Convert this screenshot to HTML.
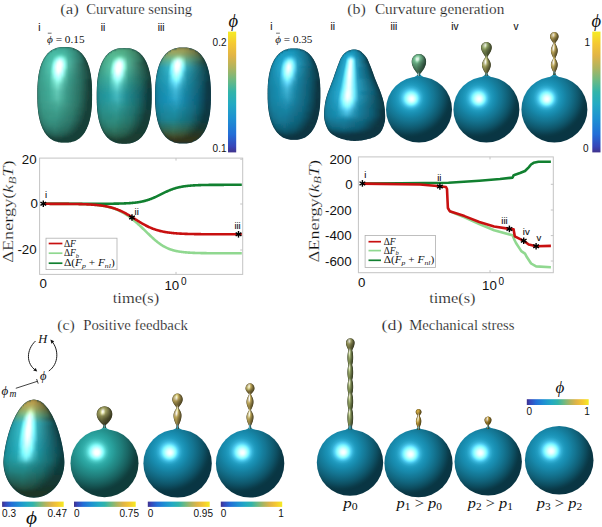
<!DOCTYPE html>
<html><head><meta charset="utf-8"><style>
html,body{margin:0;padding:0;background:#fff;}
body{width:602px;height:527px;overflow:hidden;}
svg{display:block;}
.ser{font-family:"Liberation Serif",serif;fill:#111;}
.thin{stroke:#fff;stroke-width:0.2px;}
.bold{stroke:#000;stroke-width:0.1px;fill:#000;}
.sans{font-family:"Liberation Sans",sans-serif;fill:#111;}
</style></head><body>
<svg width="602" height="527" viewBox="0 0 602 527">
<defs>
<filter id="vblur" x="-5%" y="-5%" width="110%" height="110%"><feGaussianBlur stdDeviation="0 0.9"/></filter>
<linearGradient id="parV" x1="0" y1="1" x2="0" y2="0"><stop offset="0.000" stop-color="#40328c"/><stop offset="0.050" stop-color="#3746b9"/><stop offset="0.150" stop-color="#236ed7"/><stop offset="0.280" stop-color="#1e91d2"/><stop offset="0.400" stop-color="#23aac3"/><stop offset="0.500" stop-color="#32b4aa"/><stop offset="0.600" stop-color="#6eb982"/><stop offset="0.700" stop-color="#afb45f"/><stop offset="0.800" stop-color="#e1b446"/><stop offset="0.900" stop-color="#f5c832"/><stop offset="1.000" stop-color="#f5eb23"/></linearGradient>
<linearGradient id="parH" x1="0" y1="0" x2="1" y2="0"><stop offset="0.000" stop-color="#40328c"/><stop offset="0.050" stop-color="#3746b9"/><stop offset="0.150" stop-color="#236ed7"/><stop offset="0.280" stop-color="#1e91d2"/><stop offset="0.400" stop-color="#23aac3"/><stop offset="0.500" stop-color="#32b4aa"/><stop offset="0.600" stop-color="#6eb982"/><stop offset="0.700" stop-color="#afb45f"/><stop offset="0.800" stop-color="#e1b446"/><stop offset="0.900" stop-color="#f5c832"/><stop offset="1.000" stop-color="#f5eb23"/></linearGradient>
<clipPath id="c1"><path d="M92.10,94.80 L92.08,98.39 L92.03,101.04 L91.95,103.42 L91.83,105.64 L91.68,107.73 L91.49,109.73 L91.27,111.64 L91.02,113.48 L90.74,115.26 L90.42,116.97 L90.07,118.62 L89.68,120.21 L89.27,121.75 L88.82,123.24 L88.34,124.67 L87.83,126.05 L87.28,127.37 L86.71,128.64 L86.10,129.86 L85.47,131.03 L84.80,132.14 L84.10,133.19 L83.37,134.20 L82.61,135.15 L81.82,136.04 L81.00,136.88 L80.15,137.66 L79.27,138.38 L78.35,139.05 L77.41,139.67 L76.43,140.22 L75.41,140.72 L74.35,141.16 L73.26,141.54 L72.11,141.86 L70.91,142.13 L69.64,142.33 L68.28,142.48 L66.76,142.57 L64.70,142.60 L62.64,142.57 L61.12,142.48 L59.76,142.33 L58.49,142.13 L57.29,141.86 L56.14,141.54 L55.05,141.16 L53.99,140.72 L52.97,140.22 L51.99,139.67 L51.05,139.05 L50.13,138.38 L49.25,137.66 L48.40,136.88 L47.58,136.04 L46.79,135.15 L46.03,134.20 L45.30,133.19 L44.60,132.14 L43.93,131.03 L43.30,129.86 L42.69,128.64 L42.12,127.37 L41.57,126.05 L41.06,124.67 L40.58,123.24 L40.13,121.75 L39.72,120.21 L39.33,118.62 L38.98,116.97 L38.66,115.26 L38.38,113.48 L38.13,111.64 L37.91,109.73 L37.72,107.73 L37.57,105.64 L37.45,103.42 L37.37,101.04 L37.32,98.39 L37.30,94.80 L37.32,91.21 L37.37,88.56 L37.45,86.18 L37.57,83.96 L37.72,81.87 L37.91,79.87 L38.13,77.96 L38.38,76.12 L38.66,74.34 L38.98,72.63 L39.33,70.98 L39.72,69.39 L40.13,67.85 L40.58,66.36 L41.06,64.93 L41.57,63.55 L42.12,62.23 L42.69,60.96 L43.30,59.74 L43.93,58.57 L44.60,57.46 L45.30,56.41 L46.03,55.40 L46.79,54.45 L47.58,53.56 L48.40,52.72 L49.25,51.94 L50.13,51.22 L51.05,50.55 L51.99,49.93 L52.97,49.38 L53.99,48.88 L55.05,48.44 L56.14,48.06 L57.29,47.74 L58.49,47.47 L59.76,47.27 L61.12,47.12 L62.64,47.03 L64.70,47.00 L66.76,47.03 L68.28,47.12 L69.64,47.27 L70.91,47.47 L72.11,47.74 L73.26,48.06 L74.35,48.44 L75.41,48.88 L76.43,49.38 L77.41,49.93 L78.35,50.55 L79.27,51.22 L80.15,51.94 L81.00,52.72 L81.82,53.56 L82.61,54.45 L83.37,55.40 L84.10,56.41 L84.80,57.46 L85.47,58.57 L86.10,59.74 L86.71,60.96 L87.28,62.23 L87.83,63.55 L88.34,64.93 L88.82,66.36 L89.27,67.85 L89.68,69.39 L90.07,70.98 L90.42,72.63 L90.74,74.34 L91.02,76.12 L91.27,77.96 L91.49,79.87 L91.68,81.87 L91.83,83.96 L91.95,86.18 L92.03,88.56 L92.08,91.21Z"/></clipPath>
<linearGradient id="q1"><stop offset=".00" stop-color="#389482"/><stop offset=".04" stop-color="#3c9c8a"/><stop offset=".15" stop-color="#3ca28e"/><stop offset=".50" stop-color="#3c9e8c"/><stop offset=".85" stop-color="#368e7c"/><stop offset=".96" stop-color="#328272"/><stop offset="1.00" stop-color="#2e786a"/></linearGradient>
<linearGradient id="q2"><stop offset=".00" stop-color="#3a9886"/><stop offset=".04" stop-color="#40a894"/><stop offset=".15" stop-color="#44b29e"/><stop offset=".50" stop-color="#42ac98"/><stop offset=".85" stop-color="#348c7c"/><stop offset=".96" stop-color="#2c7868"/><stop offset="1.00" stop-color="#266258"/></linearGradient>
<linearGradient id="q3"><stop offset=".00" stop-color="#3a9886"/><stop offset=".01" stop-color="#3ca28e"/><stop offset=".04" stop-color="#42ac98"/><stop offset=".15" stop-color="#46b8a2"/><stop offset=".50" stop-color="#44b29e"/><stop offset=".85" stop-color="#348878"/><stop offset=".96" stop-color="#2a6e60"/><stop offset=".99" stop-color="#266458"/><stop offset="1.00" stop-color="#20544a"/></linearGradient>
<linearGradient id="q4"><stop offset=".00" stop-color="#389684"/><stop offset=".01" stop-color="#3ca08e"/><stop offset=".02" stop-color="#40aa96"/><stop offset=".10" stop-color="#46b8a2"/><stop offset=".42" stop-color="#4cc0aa"/><stop offset=".69" stop-color="#3ca08c"/><stop offset=".85" stop-color="#328474"/><stop offset=".96" stop-color="#26665a"/><stop offset=".99" stop-color="#225a50"/><stop offset="1.00" stop-color="#1c4a40"/></linearGradient>
<linearGradient id="q5"><stop offset=".00" stop-color="#389482"/><stop offset=".01" stop-color="#3ea490"/><stop offset=".07" stop-color="#44b4a0"/><stop offset=".24" stop-color="#4cc4ac"/><stop offset=".35" stop-color="#64dac2"/><stop offset=".42" stop-color="#66dac4"/><stop offset=".58" stop-color="#44b09c"/><stop offset=".88" stop-color="#2e7a6c"/><stop offset=".98" stop-color="#22584e"/><stop offset=".99" stop-color="#1c4c44"/><stop offset="1.00" stop-color="#184038"/></linearGradient>
<linearGradient id="q6"><stop offset=".00" stop-color="#369280"/><stop offset=".01" stop-color="#3ea290"/><stop offset=".05" stop-color="#42b09c"/><stop offset=".21" stop-color="#4cc2ac"/><stop offset=".35" stop-color="#90ffee"/><stop offset=".38" stop-color="#9cfffa"/><stop offset=".46" stop-color="#84f6e0"/><stop offset=".58" stop-color="#48b29e"/><stop offset=".88" stop-color="#2c7668"/><stop offset=".96" stop-color="#225a50"/><stop offset="1.00" stop-color="#184038"/></linearGradient>
<linearGradient id="q7"><stop offset=".00" stop-color="#368e7e"/><stop offset=".04" stop-color="#40aa96"/><stop offset=".21" stop-color="#4ec4ae"/><stop offset=".31" stop-color="#a0ffff"/><stop offset=".38" stop-color="#d6ffff"/><stop offset=".42" stop-color="#ccffff"/><stop offset=".46" stop-color="#acffff"/><stop offset=".50" stop-color="#84f2de"/><stop offset=".58" stop-color="#4cb6a2"/><stop offset=".88" stop-color="#2c7264"/><stop offset="1.00" stop-color="#184038"/></linearGradient>
<linearGradient id="q8"><stop offset=".00" stop-color="#348c7c"/><stop offset=".04" stop-color="#40a894"/><stop offset=".21" stop-color="#52c6b0"/><stop offset=".27" stop-color="#8cffec"/><stop offset=".35" stop-color="#eeffff"/><stop offset=".38" stop-color="#ffffff"/><stop offset=".42" stop-color="#f4ffff"/><stop offset=".50" stop-color="#96ffee"/><stop offset=".58" stop-color="#4eb6a4"/><stop offset=".88" stop-color="#2a6e62"/><stop offset="1.00" stop-color="#184038"/></linearGradient>
<linearGradient id="q9"><stop offset=".00" stop-color="#348a7a"/><stop offset=".04" stop-color="#3ea692"/><stop offset=".21" stop-color="#54c8b2"/><stop offset=".27" stop-color="#9afff8"/><stop offset=".35" stop-color="#ffffff"/><stop offset=".42" stop-color="#ffffff"/><stop offset=".46" stop-color="#dcffff"/><stop offset=".50" stop-color="#9efff6"/><stop offset=".58" stop-color="#4eb6a2"/><stop offset="1.00" stop-color="#184038"/></linearGradient>
<linearGradient id="q10"><stop offset=".00" stop-color="#348878"/><stop offset=".04" stop-color="#3ea492"/><stop offset=".21" stop-color="#54c6b0"/><stop offset=".27" stop-color="#9efffa"/><stop offset=".31" stop-color="#dcffff"/><stop offset=".35" stop-color="#ffffff"/><stop offset=".42" stop-color="#ffffff"/><stop offset=".46" stop-color="#dcffff"/><stop offset=".50" stop-color="#9efff4"/><stop offset=".58" stop-color="#4eb4a0"/><stop offset="1.00" stop-color="#184038"/></linearGradient>
<linearGradient id="q11"><stop offset=".00" stop-color="#328676"/><stop offset=".04" stop-color="#3ea290"/><stop offset=".21" stop-color="#52c4ae"/><stop offset=".27" stop-color="#9cfff8"/><stop offset=".31" stop-color="#d8ffff"/><stop offset=".35" stop-color="#ffffff"/><stop offset=".42" stop-color="#ffffff"/><stop offset=".50" stop-color="#96ffec"/><stop offset=".58" stop-color="#4ab09c"/><stop offset="1.00" stop-color="#184038"/></linearGradient>
<linearGradient id="q12"><stop offset=".00" stop-color="#328274"/><stop offset=".04" stop-color="#3ca08e"/><stop offset=".21" stop-color="#50c2ac"/><stop offset=".27" stop-color="#94fff0"/><stop offset=".35" stop-color="#feffff"/><stop offset=".38" stop-color="#ffffff"/><stop offset=".42" stop-color="#f8ffff"/><stop offset=".46" stop-color="#c4ffff"/><stop offset=".50" stop-color="#8af4e0"/><stop offset=".54" stop-color="#60c6b2"/><stop offset=".58" stop-color="#48aa98"/><stop offset="1.00" stop-color="#184038"/></linearGradient>
<linearGradient id="q13"><stop offset=".00" stop-color="#308272"/><stop offset=".04" stop-color="#3ca08c"/><stop offset=".21" stop-color="#50c0aa"/><stop offset=".27" stop-color="#8efee8"/><stop offset=".31" stop-color="#c0ffff"/><stop offset=".35" stop-color="#eeffff"/><stop offset=".38" stop-color="#fcffff"/><stop offset=".42" stop-color="#e6ffff"/><stop offset=".46" stop-color="#b6ffff"/><stop offset=".54" stop-color="#5ac0ac"/><stop offset=".58" stop-color="#46a894"/><stop offset="1.00" stop-color="#184038"/></linearGradient>
<linearGradient id="q14"><stop offset=".00" stop-color="#308070"/><stop offset=".04" stop-color="#3c9e8c"/><stop offset=".21" stop-color="#4cbca8"/><stop offset=".24" stop-color="#60d0ba"/><stop offset=".27" stop-color="#84f4de"/><stop offset=".31" stop-color="#b2ffff"/><stop offset=".35" stop-color="#d8ffff"/><stop offset=".38" stop-color="#e4ffff"/><stop offset=".46" stop-color="#a4fffa"/><stop offset=".54" stop-color="#54baa6"/><stop offset=".58" stop-color="#42a492"/><stop offset="1.00" stop-color="#184038"/></linearGradient>
<linearGradient id="q15"><stop offset=".00" stop-color="#307e6e"/><stop offset=".04" stop-color="#3a9c8a"/><stop offset=".21" stop-color="#4ab8a4"/><stop offset=".31" stop-color="#a0fffa"/><stop offset=".35" stop-color="#c0ffff"/><stop offset=".38" stop-color="#caffff"/><stop offset=".42" stop-color="#b6ffff"/><stop offset=".46" stop-color="#92fae6"/><stop offset=".54" stop-color="#4eb2a0"/><stop offset=".58" stop-color="#40a08e"/><stop offset="1.00" stop-color="#184038"/></linearGradient>
<linearGradient id="q16"><stop offset=".00" stop-color="#2e7c6e"/><stop offset=".05" stop-color="#3ca08c"/><stop offset=".21" stop-color="#48b6a2"/><stop offset=".31" stop-color="#90fee8"/><stop offset=".35" stop-color="#aaffff"/><stop offset=".38" stop-color="#b2ffff"/><stop offset=".42" stop-color="#a2fff6"/><stop offset=".50" stop-color="#60c6b2"/><stop offset=".58" stop-color="#3e9e8c"/><stop offset="1.00" stop-color="#184038"/></linearGradient>
<linearGradient id="q17"><stop offset=".00" stop-color="#2e7a6c"/><stop offset=".01" stop-color="#368e7e"/><stop offset=".05" stop-color="#3c9e8c"/><stop offset=".21" stop-color="#46b49e"/><stop offset=".35" stop-color="#98fff0"/><stop offset=".38" stop-color="#9efff4"/><stop offset=".42" stop-color="#90f8e4"/><stop offset=".50" stop-color="#5abeaa"/><stop offset=".58" stop-color="#3c9a88"/><stop offset=".79" stop-color="#2a7264"/><stop offset=".95" stop-color="#18423a"/><stop offset="1.00" stop-color="#184038"/></linearGradient>
<linearGradient id="q18"><stop offset=".00" stop-color="#2e7a6a"/><stop offset=".01" stop-color="#368c7c"/><stop offset=".05" stop-color="#3a9c8a"/><stop offset=".21" stop-color="#46b29c"/><stop offset=".35" stop-color="#8af4e0"/><stop offset=".38" stop-color="#8ef6e2"/><stop offset=".42" stop-color="#80e8d4"/><stop offset=".50" stop-color="#52b6a4"/><stop offset=".58" stop-color="#3c9888"/><stop offset=".79" stop-color="#2a7062"/><stop offset=".95" stop-color="#184038"/><stop offset="1.00" stop-color="#184038"/></linearGradient>
<linearGradient id="q19"><stop offset=".00" stop-color="#2e786a"/><stop offset=".01" stop-color="#348c7a"/><stop offset=".05" stop-color="#3a9c88"/><stop offset=".21" stop-color="#44b09a"/><stop offset=".35" stop-color="#7ee8d4"/><stop offset=".38" stop-color="#80e8d6"/><stop offset=".50" stop-color="#4eb09e"/><stop offset=".58" stop-color="#3a9686"/><stop offset=".79" stop-color="#2a6e62"/><stop offset=".95" stop-color="#184038"/><stop offset="1.00" stop-color="#184038"/></linearGradient>
<linearGradient id="q20"><stop offset=".00" stop-color="#2c7668"/><stop offset=".01" stop-color="#348a7a"/><stop offset=".05" stop-color="#3a9a88"/><stop offset=".21" stop-color="#44ae9a"/><stop offset=".35" stop-color="#74deca"/><stop offset=".38" stop-color="#76deca"/><stop offset=".50" stop-color="#4aac9a"/><stop offset=".58" stop-color="#3a9684"/><stop offset=".79" stop-color="#2a6e60"/><stop offset=".95" stop-color="#184038"/><stop offset="1.00" stop-color="#184038"/></linearGradient>
<linearGradient id="q21"><stop offset=".00" stop-color="#2c7668"/><stop offset=".01" stop-color="#348a7a"/><stop offset=".05" stop-color="#3a9a88"/><stop offset=".21" stop-color="#42ac98"/><stop offset=".35" stop-color="#6ed6c2"/><stop offset=".38" stop-color="#70d6c2"/><stop offset=".54" stop-color="#3e9c8a"/><stop offset=".79" stop-color="#2a6c60"/><stop offset=".95" stop-color="#184038"/><stop offset="1.00" stop-color="#184038"/></linearGradient>
<linearGradient id="q22"><stop offset=".00" stop-color="#2c7466"/><stop offset=".01" stop-color="#348878"/><stop offset=".05" stop-color="#3a9886"/><stop offset=".21" stop-color="#42aa96"/><stop offset=".35" stop-color="#64ccb8"/><stop offset=".38" stop-color="#66ccba"/><stop offset=".54" stop-color="#3c9a88"/><stop offset=".76" stop-color="#2c7466"/><stop offset=".95" stop-color="#184038"/><stop offset="1.00" stop-color="#184038"/></linearGradient>
<linearGradient id="q23"><stop offset=".00" stop-color="#2c7466"/><stop offset=".01" stop-color="#348878"/><stop offset=".07" stop-color="#3a9c8a"/><stop offset=".21" stop-color="#40aa96"/><stop offset=".35" stop-color="#5ec6b2"/><stop offset=".38" stop-color="#5ec4b2"/><stop offset=".54" stop-color="#3c9888"/><stop offset=".76" stop-color="#2c7264"/><stop offset=".93" stop-color="#1a443c"/><stop offset="1.00" stop-color="#184038"/></linearGradient>
<linearGradient id="q24"><stop offset=".00" stop-color="#2c7466"/><stop offset=".01" stop-color="#328676"/><stop offset=".07" stop-color="#3a9a88"/><stop offset=".21" stop-color="#40a894"/><stop offset=".35" stop-color="#5ac0ae"/><stop offset=".38" stop-color="#5ac0ac"/><stop offset=".54" stop-color="#3a9886"/><stop offset=".76" stop-color="#2a7264"/><stop offset=".93" stop-color="#1a423a"/><stop offset="1.00" stop-color="#184038"/></linearGradient>
<linearGradient id="q25"><stop offset=".00" stop-color="#2c7266"/><stop offset=".01" stop-color="#328676"/><stop offset=".07" stop-color="#3a9a88"/><stop offset=".21" stop-color="#40a894"/><stop offset=".35" stop-color="#5ac0ac"/><stop offset=".38" stop-color="#5ac0ac"/><stop offset=".54" stop-color="#3a9886"/><stop offset=".76" stop-color="#2a7264"/><stop offset=".93" stop-color="#1a423a"/><stop offset="1.00" stop-color="#184038"/></linearGradient>
<linearGradient id="q26"><stop offset=".00" stop-color="#2c7264"/><stop offset=".01" stop-color="#328676"/><stop offset=".07" stop-color="#3a9a88"/><stop offset=".21" stop-color="#40a694"/><stop offset=".35" stop-color="#54baa8"/><stop offset=".38" stop-color="#54baa6"/><stop offset=".54" stop-color="#3a9684"/><stop offset=".76" stop-color="#2a7064"/><stop offset=".93" stop-color="#18423a"/><stop offset="1.00" stop-color="#184038"/></linearGradient>
<linearGradient id="q27"><stop offset=".00" stop-color="#2a7064"/><stop offset=".01" stop-color="#307e70"/><stop offset=".02" stop-color="#348a7a"/><stop offset=".07" stop-color="#3a9886"/><stop offset=".38" stop-color="#50b4a0"/><stop offset=".54" stop-color="#389484"/><stop offset=".76" stop-color="#2a7062"/><stop offset=".93" stop-color="#184038"/><stop offset="1.00" stop-color="#184038"/></linearGradient>
<linearGradient id="q28"><stop offset=".00" stop-color="#2a7062"/><stop offset=".01" stop-color="#307c6e"/><stop offset=".02" stop-color="#348878"/><stop offset=".10" stop-color="#3a9a88"/><stop offset=".38" stop-color="#4aae9a"/><stop offset=".73" stop-color="#2c7466"/><stop offset=".93" stop-color="#184038"/><stop offset="1.00" stop-color="#184038"/></linearGradient>
<linearGradient id="q29"><stop offset=".00" stop-color="#2a6e62"/><stop offset=".01" stop-color="#2e7c6e"/><stop offset=".02" stop-color="#348878"/><stop offset=".10" stop-color="#3a9a88"/><stop offset=".38" stop-color="#46a896"/><stop offset=".73" stop-color="#2c7466"/><stop offset=".93" stop-color="#184038"/><stop offset="1.00" stop-color="#184038"/></linearGradient>
<linearGradient id="q30"><stop offset=".00" stop-color="#2a6c60"/><stop offset=".01" stop-color="#2e7a6c"/><stop offset=".02" stop-color="#328676"/><stop offset=".10" stop-color="#3a9886"/><stop offset=".35" stop-color="#44a694"/><stop offset=".69" stop-color="#2e786a"/><stop offset=".93" stop-color="#184038"/><stop offset="1.00" stop-color="#184038"/></linearGradient>
<linearGradient id="q31"><stop offset=".00" stop-color="#286c5e"/><stop offset=".01" stop-color="#2e786a"/><stop offset=".02" stop-color="#328474"/><stop offset=".10" stop-color="#389684"/><stop offset=".35" stop-color="#40a290"/><stop offset=".65" stop-color="#307e6e"/><stop offset=".93" stop-color="#184038"/><stop offset="1.00" stop-color="#184038"/></linearGradient>
<linearGradient id="q32"><stop offset=".00" stop-color="#286a5c"/><stop offset=".01" stop-color="#2c7668"/><stop offset=".02" stop-color="#328274"/><stop offset=".10" stop-color="#389482"/><stop offset=".35" stop-color="#3e9e8c"/><stop offset=".65" stop-color="#2e7c6c"/><stop offset=".79" stop-color="#246054"/><stop offset=".90" stop-color="#18423a"/><stop offset="1.00" stop-color="#184038"/></linearGradient>
<linearGradient id="q33"><stop offset=".00" stop-color="#26685a"/><stop offset=".01" stop-color="#2c7466"/><stop offset=".02" stop-color="#308072"/><stop offset=".10" stop-color="#389280"/><stop offset=".35" stop-color="#3c9a88"/><stop offset=".65" stop-color="#2e7a6a"/><stop offset=".79" stop-color="#245e54"/><stop offset=".90" stop-color="#184038"/><stop offset="1.00" stop-color="#184038"/></linearGradient>
<linearGradient id="q34"><stop offset=".00" stop-color="#26665a"/><stop offset=".01" stop-color="#2c7264"/><stop offset=".02" stop-color="#307e70"/><stop offset=".10" stop-color="#36907e"/><stop offset=".21" stop-color="#3a9886"/><stop offset=".35" stop-color="#3a9886"/><stop offset=".65" stop-color="#2c786a"/><stop offset=".90" stop-color="#184038"/><stop offset="1.00" stop-color="#184038"/></linearGradient>
<linearGradient id="q35"><stop offset=".00" stop-color="#266458"/><stop offset=".01" stop-color="#2a7064"/><stop offset=".02" stop-color="#2e7c6e"/><stop offset=".10" stop-color="#368e7c"/><stop offset=".21" stop-color="#389684"/><stop offset=".35" stop-color="#389484"/><stop offset=".65" stop-color="#2c7468"/><stop offset=".90" stop-color="#184038"/><stop offset="1.00" stop-color="#184038"/></linearGradient>
<linearGradient id="q36"><stop offset=".00" stop-color="#246054"/><stop offset=".01" stop-color="#2a6e60"/><stop offset=".02" stop-color="#2e786a"/><stop offset=".07" stop-color="#328676"/><stop offset=".18" stop-color="#369280"/><stop offset=".31" stop-color="#389282"/><stop offset=".62" stop-color="#2e786a"/><stop offset=".76" stop-color="#245e54"/><stop offset=".88" stop-color="#18403a"/><stop offset="1.00" stop-color="#184038"/></linearGradient>
<linearGradient id="q37"><stop offset=".00" stop-color="#225c52"/><stop offset=".01" stop-color="#2a7062"/><stop offset=".07" stop-color="#328274"/><stop offset=".18" stop-color="#368e7c"/><stop offset=".31" stop-color="#368e7e"/><stop offset=".62" stop-color="#2c7466"/><stop offset=".88" stop-color="#184038"/><stop offset="1.00" stop-color="#184038"/></linearGradient>
<linearGradient id="q38"><stop offset=".00" stop-color="#225a4e"/><stop offset=".01" stop-color="#26665a"/><stop offset=".02" stop-color="#2a7264"/><stop offset=".07" stop-color="#308070"/><stop offset=".18" stop-color="#348a7a"/><stop offset=".31" stop-color="#348a7a"/><stop offset=".62" stop-color="#2a7064"/><stop offset=".85" stop-color="#1a423a"/><stop offset="1.00" stop-color="#184038"/></linearGradient>
<linearGradient id="q39"><stop offset=".00" stop-color="#20564c"/><stop offset=".01" stop-color="#28685c"/><stop offset=".07" stop-color="#2e7a6c"/><stop offset=".18" stop-color="#328474"/><stop offset=".31" stop-color="#328676"/><stop offset=".58" stop-color="#2a7064"/><stop offset=".85" stop-color="#184038"/><stop offset="1.00" stop-color="#184038"/></linearGradient>
<linearGradient id="q40"><stop offset=".00" stop-color="#1e5048"/><stop offset=".01" stop-color="#245e52"/><stop offset=".02" stop-color="#28685c"/><stop offset=".07" stop-color="#2c7468"/><stop offset=".27" stop-color="#308072"/><stop offset=".58" stop-color="#286c5e"/><stop offset=".82" stop-color="#18423a"/><stop offset="1.00" stop-color="#184038"/></linearGradient>
<linearGradient id="q41"><stop offset=".00" stop-color="#1c4c42"/><stop offset=".01" stop-color="#225c52"/><stop offset=".07" stop-color="#2a6e62"/><stop offset=".27" stop-color="#2e7a6c"/><stop offset=".54" stop-color="#286a5e"/><stop offset=".82" stop-color="#184038"/><stop offset="1.00" stop-color="#184038"/></linearGradient>
<linearGradient id="q42"><stop offset=".00" stop-color="#1a443c"/><stop offset=".01" stop-color="#20564c"/><stop offset=".07" stop-color="#26665a"/><stop offset=".27" stop-color="#2a7264"/><stop offset=".54" stop-color="#266256"/><stop offset=".79" stop-color="#184038"/><stop offset="1.00" stop-color="#184038"/></linearGradient>
<linearGradient id="q43"><stop offset=".00" stop-color="#184038"/><stop offset=".02" stop-color="#1e5248"/><stop offset=".07" stop-color="#245e52"/><stop offset=".24" stop-color="#26685c"/><stop offset=".46" stop-color="#246054"/><stop offset=".76" stop-color="#184038"/><stop offset="1.00" stop-color="#184038"/></linearGradient>
<linearGradient id="q44"><stop offset=".00" stop-color="#184038"/><stop offset=".10" stop-color="#20544a"/><stop offset=".24" stop-color="#225a50"/><stop offset=".42" stop-color="#20564c"/><stop offset=".69" stop-color="#184038"/><stop offset="1.00" stop-color="#184038"/></linearGradient>
<linearGradient id="q45"><stop offset=".00" stop-color="#184038"/><stop offset=".24" stop-color="#1c4a40"/><stop offset=".54" stop-color="#184038"/><stop offset="1.00" stop-color="#184038"/></linearGradient>
<linearGradient id="q46"><stop offset=".00" stop-color="#184038"/><stop offset="1.00" stop-color="#184038"/></linearGradient>
<clipPath id="c2"><path d="M151.70,95.90 L151.68,99.49 L151.63,102.14 L151.55,104.52 L151.43,106.74 L151.28,108.83 L151.09,110.83 L150.87,112.74 L150.62,114.58 L150.33,116.36 L150.01,118.07 L149.66,119.72 L149.27,121.31 L148.86,122.85 L148.41,124.34 L147.93,125.77 L147.41,127.15 L146.87,128.47 L146.29,129.74 L145.68,130.96 L145.04,132.13 L144.37,133.24 L143.67,134.29 L142.94,135.30 L142.18,136.25 L141.38,137.14 L140.56,137.98 L139.71,138.76 L138.82,139.48 L137.90,140.15 L136.95,140.77 L135.97,141.32 L134.95,141.82 L133.89,142.26 L132.79,142.64 L131.64,142.96 L130.43,143.23 L129.16,143.43 L127.79,143.58 L126.26,143.67 L124.20,143.70 L122.14,143.67 L120.61,143.58 L119.24,143.43 L117.97,143.23 L116.76,142.96 L115.61,142.64 L114.51,142.26 L113.45,141.82 L112.43,141.32 L111.45,140.77 L110.50,140.15 L109.58,139.48 L108.69,138.76 L107.84,137.98 L107.02,137.14 L106.22,136.25 L105.46,135.30 L104.73,134.29 L104.03,133.24 L103.36,132.13 L102.72,130.96 L102.11,129.74 L101.53,128.47 L100.99,127.15 L100.47,125.77 L99.99,124.34 L99.54,122.85 L99.13,121.31 L98.74,119.72 L98.39,118.07 L98.07,116.36 L97.78,114.58 L97.53,112.74 L97.31,110.83 L97.12,108.83 L96.97,106.74 L96.85,104.52 L96.77,102.14 L96.72,99.49 L96.70,95.90 L96.72,92.31 L96.77,89.66 L96.85,87.28 L96.97,85.06 L97.12,82.97 L97.31,80.97 L97.53,79.06 L97.78,77.22 L98.07,75.44 L98.39,73.73 L98.74,72.08 L99.13,70.49 L99.54,68.95 L99.99,67.46 L100.47,66.03 L100.99,64.65 L101.53,63.33 L102.11,62.06 L102.72,60.84 L103.36,59.67 L104.03,58.56 L104.73,57.51 L105.46,56.50 L106.22,55.55 L107.02,54.66 L107.84,53.82 L108.69,53.04 L109.58,52.32 L110.50,51.65 L111.45,51.03 L112.43,50.48 L113.45,49.98 L114.51,49.54 L115.61,49.16 L116.76,48.84 L117.97,48.57 L119.24,48.37 L120.61,48.22 L122.14,48.13 L124.20,48.10 L126.26,48.13 L127.79,48.22 L129.16,48.37 L130.43,48.57 L131.64,48.84 L132.79,49.16 L133.89,49.54 L134.95,49.98 L135.97,50.48 L136.95,51.03 L137.90,51.65 L138.82,52.32 L139.71,53.04 L140.56,53.82 L141.38,54.66 L142.18,55.55 L142.94,56.50 L143.67,57.51 L144.37,58.56 L145.04,59.67 L145.68,60.84 L146.29,62.06 L146.87,63.33 L147.41,64.65 L147.93,66.03 L148.41,67.46 L148.86,68.95 L149.27,70.49 L149.66,72.08 L150.01,73.73 L150.33,75.44 L150.62,77.22 L150.87,79.06 L151.09,80.97 L151.28,82.97 L151.43,85.06 L151.55,87.28 L151.63,89.66 L151.68,92.31Z"/></clipPath>
<linearGradient id="q47"><stop offset=".00" stop-color="#44906e"/><stop offset=".15" stop-color="#4a9c78"/><stop offset=".50" stop-color="#4a9a76"/><stop offset=".85" stop-color="#428a6a"/><stop offset="1.00" stop-color="#38765a"/></linearGradient>
<linearGradient id="q48"><stop offset=".00" stop-color="#469674"/><stop offset=".04" stop-color="#4ea680"/><stop offset=".15" stop-color="#52ae86"/><stop offset=".50" stop-color="#50aa82"/><stop offset=".85" stop-color="#408a6a"/><stop offset=".96" stop-color="#36765a"/><stop offset="1.00" stop-color="#2e624c"/></linearGradient>
<linearGradient id="q49"><stop offset=".00" stop-color="#469674"/><stop offset=".01" stop-color="#489e7c"/><stop offset=".04" stop-color="#4eaa84"/><stop offset=".15" stop-color="#54b68e"/><stop offset=".50" stop-color="#50ae88"/><stop offset=".85" stop-color="#3e8668"/><stop offset=".96" stop-color="#326c54"/><stop offset=".99" stop-color="#2e624c"/><stop offset="1.00" stop-color="#265442"/></linearGradient>
<linearGradient id="q50"><stop offset=".00" stop-color="#449474"/><stop offset=".01" stop-color="#489e7c"/><stop offset=".02" stop-color="#4ca684"/><stop offset=".12" stop-color="#52b690"/><stop offset=".42" stop-color="#58ba94"/><stop offset=".82" stop-color="#3e886c"/><stop offset=".95" stop-color="#306a54"/><stop offset=".99" stop-color="#285a46"/><stop offset="1.00" stop-color="#20483a"/></linearGradient>
<linearGradient id="q51"><stop offset=".00" stop-color="#409274"/><stop offset=".01" stop-color="#48a280"/><stop offset=".07" stop-color="#4eb28c"/><stop offset=".24" stop-color="#58c098"/><stop offset=".35" stop-color="#6cd4ae"/><stop offset=".42" stop-color="#6ed4ae"/><stop offset=".58" stop-color="#4eac8a"/><stop offset=".88" stop-color="#367860"/><stop offset=".98" stop-color="#285846"/><stop offset=".99" stop-color="#224c3c"/><stop offset="1.00" stop-color="#1c4032"/></linearGradient>
<linearGradient id="q52"><stop offset=".00" stop-color="#3e8e72"/><stop offset=".01" stop-color="#46a080"/><stop offset=".05" stop-color="#4cac8a"/><stop offset=".21" stop-color="#56be9a"/><stop offset=".27" stop-color="#6cd6b2"/><stop offset=".35" stop-color="#96feda"/><stop offset=".38" stop-color="#a2ffe4"/><stop offset=".42" stop-color="#9cffe0"/><stop offset=".58" stop-color="#52b08e"/><stop offset=".88" stop-color="#32745e"/><stop offset=".96" stop-color="#265848"/><stop offset="1.00" stop-color="#1c3e32"/></linearGradient>
<linearGradient id="q53"><stop offset=".00" stop-color="#3c8c72"/><stop offset=".04" stop-color="#48a888"/><stop offset=".21" stop-color="#56c09e"/><stop offset=".31" stop-color="#a6ffec"/><stop offset=".38" stop-color="#daffff"/><stop offset=".46" stop-color="#b2fff6"/><stop offset=".58" stop-color="#54b294"/><stop offset=".88" stop-color="#30705c"/><stop offset="1.00" stop-color="#1a3e32"/></linearGradient>
<linearGradient id="q54"><stop offset=".00" stop-color="#3a8a72"/><stop offset=".04" stop-color="#46a688"/><stop offset=".21" stop-color="#58c2a2"/><stop offset=".27" stop-color="#92fcdc"/><stop offset=".31" stop-color="#c4ffff"/><stop offset=".35" stop-color="#f0ffff"/><stop offset=".38" stop-color="#ffffff"/><stop offset=".42" stop-color="#f8ffff"/><stop offset=".46" stop-color="#ceffff"/><stop offset=".50" stop-color="#9afede"/><stop offset=".58" stop-color="#54b496"/><stop offset="1.00" stop-color="#1a3e34"/></linearGradient>
<linearGradient id="q55"><stop offset=".00" stop-color="#388870"/><stop offset=".04" stop-color="#44a488"/><stop offset=".21" stop-color="#58c4a4"/><stop offset=".27" stop-color="#9effea"/><stop offset=".31" stop-color="#daffff"/><stop offset=".35" stop-color="#ffffff"/><stop offset=".42" stop-color="#ffffff"/><stop offset=".46" stop-color="#e0ffff"/><stop offset=".50" stop-color="#a2ffea"/><stop offset=".58" stop-color="#54b296"/><stop offset="1.00" stop-color="#1a3e34"/></linearGradient>
<linearGradient id="q56"><stop offset=".00" stop-color="#368670"/><stop offset=".04" stop-color="#42a288"/><stop offset=".21" stop-color="#56c4a6"/><stop offset=".27" stop-color="#a0fff0"/><stop offset=".31" stop-color="#e0ffff"/><stop offset=".35" stop-color="#ffffff"/><stop offset=".42" stop-color="#ffffff"/><stop offset=".46" stop-color="#e0ffff"/><stop offset=".50" stop-color="#a0ffea"/><stop offset=".58" stop-color="#50b096"/><stop offset="1.00" stop-color="#1a3e34"/></linearGradient>
<linearGradient id="q57"><stop offset=".00" stop-color="#34826e"/><stop offset=".04" stop-color="#40a086"/><stop offset=".21" stop-color="#54c2a6"/><stop offset=".27" stop-color="#9effee"/><stop offset=".31" stop-color="#dcffff"/><stop offset=".35" stop-color="#ffffff"/><stop offset=".42" stop-color="#ffffff"/><stop offset=".46" stop-color="#d6ffff"/><stop offset=".50" stop-color="#98fee4"/><stop offset=".58" stop-color="#4cac94"/><stop offset="1.00" stop-color="#183e34"/></linearGradient>
<linearGradient id="q58"><stop offset=".00" stop-color="#32806e"/><stop offset=".04" stop-color="#3e9e86"/><stop offset=".21" stop-color="#52bea4"/><stop offset=".27" stop-color="#96ffe8"/><stop offset=".35" stop-color="#feffff"/><stop offset=".38" stop-color="#ffffff"/><stop offset=".42" stop-color="#f8ffff"/><stop offset=".46" stop-color="#c4ffff"/><stop offset=".50" stop-color="#8cf0d8"/><stop offset=".54" stop-color="#60c2aa"/><stop offset=".58" stop-color="#48a890"/><stop offset="1.00" stop-color="#183e36"/></linearGradient>
<linearGradient id="q59"><stop offset=".00" stop-color="#307e6e"/><stop offset=".04" stop-color="#3c9c86"/><stop offset=".21" stop-color="#4ebca4"/><stop offset=".27" stop-color="#8cfae2"/><stop offset=".31" stop-color="#c0ffff"/><stop offset=".35" stop-color="#ecffff"/><stop offset=".38" stop-color="#fcffff"/><stop offset=".42" stop-color="#e4ffff"/><stop offset=".46" stop-color="#b4ffff"/><stop offset=".54" stop-color="#5abca6"/><stop offset=".58" stop-color="#44a490"/><stop offset="1.00" stop-color="#183e36"/></linearGradient>
<linearGradient id="q60"><stop offset=".00" stop-color="#2e7c6e"/><stop offset=".04" stop-color="#389a88"/><stop offset=".21" stop-color="#4ab8a2"/><stop offset=".24" stop-color="#5eccb6"/><stop offset=".31" stop-color="#b0ffff"/><stop offset=".35" stop-color="#d6ffff"/><stop offset=".38" stop-color="#e4ffff"/><stop offset=".42" stop-color="#ceffff"/><stop offset=".46" stop-color="#a2fff6"/><stop offset=".54" stop-color="#52b6a2"/><stop offset=".58" stop-color="#40a08e"/><stop offset="1.00" stop-color="#163e36"/></linearGradient>
<linearGradient id="q61"><stop offset=".00" stop-color="#2c7a6e"/><stop offset=".04" stop-color="#369888"/><stop offset=".21" stop-color="#44b4a2"/><stop offset=".31" stop-color="#9cfff8"/><stop offset=".35" stop-color="#bcffff"/><stop offset=".38" stop-color="#c6ffff"/><stop offset=".42" stop-color="#b4ffff"/><stop offset=".46" stop-color="#8ef6e6"/><stop offset=".50" stop-color="#66ccbc"/><stop offset=".58" stop-color="#3a9c8c"/><stop offset="1.00" stop-color="#163e38"/></linearGradient>
<linearGradient id="q62"><stop offset=".00" stop-color="#28786c"/><stop offset=".01" stop-color="#308a7e"/><stop offset=".05" stop-color="#349a8c"/><stop offset=".21" stop-color="#40b0a0"/><stop offset=".24" stop-color="#4ebeb0"/><stop offset=".31" stop-color="#8af8ea"/><stop offset=".35" stop-color="#a4ffff"/><stop offset=".38" stop-color="#acffff"/><stop offset=".42" stop-color="#9cfff8"/><stop offset=".50" stop-color="#5ac2b4"/><stop offset=".58" stop-color="#36988a"/><stop offset="1.00" stop-color="#143e38"/></linearGradient>
<linearGradient id="q63"><stop offset=".00" stop-color="#26766c"/><stop offset=".01" stop-color="#2c887e"/><stop offset=".05" stop-color="#32988c"/><stop offset=".21" stop-color="#3caca0"/><stop offset=".35" stop-color="#90fef2"/><stop offset=".38" stop-color="#96fff6"/><stop offset=".42" stop-color="#86f2e6"/><stop offset=".50" stop-color="#50b8ac"/><stop offset=".58" stop-color="#34968a"/><stop offset=".79" stop-color="#246e64"/><stop offset=".95" stop-color="#14403a"/><stop offset="1.00" stop-color="#143e38"/></linearGradient>
<linearGradient id="q64"><stop offset=".00" stop-color="#24746c"/><stop offset=".01" stop-color="#2a867e"/><stop offset=".05" stop-color="#30968c"/><stop offset=".21" stop-color="#38aaa0"/><stop offset=".35" stop-color="#7eeee4"/><stop offset=".38" stop-color="#82f0e8"/><stop offset=".50" stop-color="#48b0a6"/><stop offset=".58" stop-color="#30928a"/><stop offset=".79" stop-color="#226c64"/><stop offset=".95" stop-color="#143e3a"/><stop offset="1.00" stop-color="#143c3a"/></linearGradient>
<linearGradient id="q65"><stop offset=".00" stop-color="#22726c"/><stop offset=".01" stop-color="#28847e"/><stop offset=".05" stop-color="#2c948e"/><stop offset=".21" stop-color="#36a6a0"/><stop offset=".35" stop-color="#70e0da"/><stop offset=".38" stop-color="#72e2dc"/><stop offset=".50" stop-color="#40aaa2"/><stop offset=".58" stop-color="#2c908a"/><stop offset=".79" stop-color="#206a64"/><stop offset=".95" stop-color="#123c3a"/><stop offset="1.00" stop-color="#123c3a"/></linearGradient>
<linearGradient id="q66"><stop offset=".00" stop-color="#20706e"/><stop offset=".01" stop-color="#268480"/><stop offset=".05" stop-color="#2a928e"/><stop offset=".21" stop-color="#32a4a0"/><stop offset=".35" stop-color="#64d6d2"/><stop offset=".38" stop-color="#66d6d2"/><stop offset=".50" stop-color="#3aa4a0"/><stop offset=".58" stop-color="#2a8e8a"/><stop offset=".79" stop-color="#1e6866"/><stop offset=".95" stop-color="#123c3a"/><stop offset="1.00" stop-color="#123c3a"/></linearGradient>
<linearGradient id="q67"><stop offset=".00" stop-color="#1e6e6e"/><stop offset=".01" stop-color="#248280"/><stop offset=".05" stop-color="#28908e"/><stop offset=".21" stop-color="#2ea2a0"/><stop offset=".35" stop-color="#5accca"/><stop offset=".38" stop-color="#5cccca"/><stop offset=".50" stop-color="#36a09e"/><stop offset=".58" stop-color="#288c8a"/><stop offset=".79" stop-color="#1c6666"/><stop offset=".95" stop-color="#103c3c"/><stop offset="1.00" stop-color="#103c3c"/></linearGradient>
<linearGradient id="q68"><stop offset=".00" stop-color="#1c6e6e"/><stop offset=".01" stop-color="#228080"/><stop offset=".05" stop-color="#268e90"/><stop offset=".21" stop-color="#2ca0a0"/><stop offset=".35" stop-color="#4ec2c2"/><stop offset=".38" stop-color="#50c2c2"/><stop offset=".54" stop-color="#289292"/><stop offset=".79" stop-color="#1a6466"/><stop offset=".95" stop-color="#103c3c"/><stop offset="1.00" stop-color="#103c3c"/></linearGradient>
<linearGradient id="q69"><stop offset=".00" stop-color="#1a6c6e"/><stop offset=".01" stop-color="#207e80"/><stop offset=".07" stop-color="#249094"/><stop offset=".21" stop-color="#289ea2"/><stop offset=".35" stop-color="#46babe"/><stop offset=".38" stop-color="#48babc"/><stop offset=".54" stop-color="#268e92"/><stop offset=".76" stop-color="#1a6a6c"/><stop offset=".93" stop-color="#103e40"/><stop offset="1.00" stop-color="#0e3c3c"/></linearGradient>
<linearGradient id="q70"><stop offset=".00" stop-color="#1a6c70"/><stop offset=".01" stop-color="#1e7e82"/><stop offset=".07" stop-color="#229096"/><stop offset=".21" stop-color="#269ca2"/><stop offset=".35" stop-color="#44babe"/><stop offset=".38" stop-color="#44b8be"/><stop offset=".54" stop-color="#248e94"/><stop offset=".76" stop-color="#186a6e"/><stop offset=".93" stop-color="#0e3e40"/><stop offset="1.00" stop-color="#0e3a3e"/></linearGradient>
<linearGradient id="q71"><stop offset=".00" stop-color="#186a6e"/><stop offset=".01" stop-color="#1e7c82"/><stop offset=".07" stop-color="#229094"/><stop offset=".21" stop-color="#269ca2"/><stop offset=".35" stop-color="#40b4ba"/><stop offset=".38" stop-color="#40b4ba"/><stop offset=".54" stop-color="#228c92"/><stop offset=".76" stop-color="#18686e"/><stop offset=".93" stop-color="#0e3e40"/><stop offset="1.00" stop-color="#0e3a3e"/></linearGradient>
<linearGradient id="q72"><stop offset=".00" stop-color="#1a6a6e"/><stop offset=".01" stop-color="#1e7c80"/><stop offset=".07" stop-color="#229094"/><stop offset=".21" stop-color="#269ca0"/><stop offset=".35" stop-color="#40b4ba"/><stop offset=".38" stop-color="#42b4b8"/><stop offset=".54" stop-color="#248c92"/><stop offset=".76" stop-color="#1a6a6c"/><stop offset=".93" stop-color="#0e3e40"/><stop offset="1.00" stop-color="#0e3c3c"/></linearGradient>
<linearGradient id="q73"><stop offset=".00" stop-color="#1a6a6c"/><stop offset=".01" stop-color="#1e7c7e"/><stop offset=".07" stop-color="#248e92"/><stop offset=".21" stop-color="#289c9e"/><stop offset=".38" stop-color="#3eaeb2"/><stop offset=".54" stop-color="#248c8e"/><stop offset=".76" stop-color="#1a686a"/><stop offset=".93" stop-color="#103c3e"/><stop offset="1.00" stop-color="#0e3c3c"/></linearGradient>
<linearGradient id="q74"><stop offset=".00" stop-color="#1c6a6a"/><stop offset=".01" stop-color="#207c7c"/><stop offset=".07" stop-color="#248e90"/><stop offset=".38" stop-color="#38a8aa"/><stop offset=".54" stop-color="#248a8c"/><stop offset=".76" stop-color="#1a6868"/><stop offset=".93" stop-color="#103c3c"/><stop offset="1.00" stop-color="#103c3c"/></linearGradient>
<linearGradient id="q75"><stop offset=".00" stop-color="#1c6868"/><stop offset=".01" stop-color="#1e7474"/><stop offset=".02" stop-color="#228080"/><stop offset=".10" stop-color="#269090"/><stop offset=".38" stop-color="#36a4a2"/><stop offset=".54" stop-color="#248a88"/><stop offset=".73" stop-color="#1c6e6c"/><stop offset=".93" stop-color="#103c3c"/><stop offset="1.00" stop-color="#103c3c"/></linearGradient>
<linearGradient id="q76"><stop offset=".00" stop-color="#1c6866"/><stop offset=".01" stop-color="#207472"/><stop offset=".02" stop-color="#22807e"/><stop offset=".10" stop-color="#28908e"/><stop offset=".38" stop-color="#34a09c"/><stop offset=".73" stop-color="#1e6c6a"/><stop offset=".93" stop-color="#103c3a"/><stop offset="1.00" stop-color="#103c3a"/></linearGradient>
<linearGradient id="q77"><stop offset=".00" stop-color="#1c6664"/><stop offset=".01" stop-color="#227876"/><stop offset=".07" stop-color="#288c88"/><stop offset=".35" stop-color="#329c9a"/><stop offset=".69" stop-color="#20726e"/><stop offset=".93" stop-color="#103c3a"/><stop offset="1.00" stop-color="#103c3a"/></linearGradient>
<linearGradient id="q78"><stop offset=".00" stop-color="#1e6662"/><stop offset=".01" stop-color="#20726e"/><stop offset=".02" stop-color="#247c78"/><stop offset=".10" stop-color="#288e88"/><stop offset=".35" stop-color="#309a94"/><stop offset=".69" stop-color="#20706c"/><stop offset=".93" stop-color="#123c3a"/><stop offset="1.00" stop-color="#123c3a"/></linearGradient>
<linearGradient id="q79"><stop offset=".00" stop-color="#1e645e"/><stop offset=".01" stop-color="#22706a"/><stop offset=".02" stop-color="#247c76"/><stop offset=".10" stop-color="#2a8c86"/><stop offset=".35" stop-color="#2e968e"/><stop offset=".65" stop-color="#227470"/><stop offset=".79" stop-color="#1a5c56"/><stop offset=".90" stop-color="#123e3a"/><stop offset="1.00" stop-color="#123c3a"/></linearGradient>
<linearGradient id="q80"><stop offset=".00" stop-color="#1e625c"/><stop offset=".01" stop-color="#226e68"/><stop offset=".02" stop-color="#247a72"/><stop offset=".10" stop-color="#2a8a82"/><stop offset=".35" stop-color="#2e928a"/><stop offset=".65" stop-color="#22726c"/><stop offset=".90" stop-color="#123c38"/><stop offset="1.00" stop-color="#123c38"/></linearGradient>
<linearGradient id="q81"><stop offset=".00" stop-color="#1e605a"/><stop offset=".01" stop-color="#226c66"/><stop offset=".02" stop-color="#267870"/><stop offset=".10" stop-color="#2a8880"/><stop offset=".35" stop-color="#2e9086"/><stop offset=".65" stop-color="#24726a"/><stop offset=".90" stop-color="#123c38"/><stop offset="1.00" stop-color="#123c38"/></linearGradient>
<linearGradient id="q82"><stop offset=".00" stop-color="#1e5e56"/><stop offset=".01" stop-color="#226a62"/><stop offset=".02" stop-color="#26766c"/><stop offset=".10" stop-color="#2a867c"/><stop offset=".35" stop-color="#2e8e82"/><stop offset=".65" stop-color="#247066"/><stop offset=".90" stop-color="#143c38"/><stop offset="1.00" stop-color="#143c38"/></linearGradient>
<linearGradient id="q83"><stop offset=".00" stop-color="#1e5c54"/><stop offset=".01" stop-color="#246e64"/><stop offset=".07" stop-color="#2a8074"/><stop offset=".18" stop-color="#2e8a7e"/><stop offset=".31" stop-color="#2e8c7e"/><stop offset=".62" stop-color="#267268"/><stop offset=".88" stop-color="#143e38"/><stop offset="1.00" stop-color="#143c38"/></linearGradient>
<linearGradient id="q84"><stop offset=".00" stop-color="#1e5850"/><stop offset=".01" stop-color="#246a60"/><stop offset=".07" stop-color="#2a7c70"/><stop offset=".18" stop-color="#2e8678"/><stop offset=".31" stop-color="#2e887a"/><stop offset=".62" stop-color="#266e64"/><stop offset=".88" stop-color="#143c36"/><stop offset="1.00" stop-color="#143c36"/></linearGradient>
<linearGradient id="q85"><stop offset=".00" stop-color="#1e564c"/><stop offset=".01" stop-color="#226256"/><stop offset=".02" stop-color="#266c60"/><stop offset=".07" stop-color="#2a786a"/><stop offset=".18" stop-color="#2e8274"/><stop offset=".31" stop-color="#2e8474"/><stop offset=".62" stop-color="#266a5e"/><stop offset=".85" stop-color="#164038"/><stop offset="1.00" stop-color="#163c36"/></linearGradient>
<linearGradient id="q86"><stop offset=".00" stop-color="#1e5246"/><stop offset=".01" stop-color="#225e52"/><stop offset=".02" stop-color="#26685a"/><stop offset=".07" stop-color="#2a7466"/><stop offset=".18" stop-color="#2e7e6e"/><stop offset=".31" stop-color="#2e806e"/><stop offset=".58" stop-color="#286c5e"/><stop offset=".85" stop-color="#163c34"/><stop offset="1.00" stop-color="#163c34"/></linearGradient>
<linearGradient id="q87"><stop offset=".00" stop-color="#1e4c42"/><stop offset=".01" stop-color="#245e50"/><stop offset=".07" stop-color="#2a7060"/><stop offset=".27" stop-color="#2e7a68"/><stop offset=".58" stop-color="#266658"/><stop offset=".82" stop-color="#183e36"/><stop offset="1.00" stop-color="#183c34"/></linearGradient>
<linearGradient id="q88"><stop offset=".00" stop-color="#1c483c"/><stop offset=".01" stop-color="#205446"/><stop offset=".02" stop-color="#245e4e"/><stop offset=".07" stop-color="#2a6a58"/><stop offset=".27" stop-color="#2e7462"/><stop offset=".54" stop-color="#286456"/><stop offset=".82" stop-color="#183c34"/><stop offset="1.00" stop-color="#183c34"/></linearGradient>
<linearGradient id="q89"><stop offset=".00" stop-color="#1a4236"/><stop offset=".01" stop-color="#225244"/><stop offset=".07" stop-color="#286252"/><stop offset=".27" stop-color="#2c6c5a"/><stop offset=".54" stop-color="#265e4e"/><stop offset=".79" stop-color="#183c32"/><stop offset="1.00" stop-color="#183c32"/></linearGradient>
<linearGradient id="q90"><stop offset=".00" stop-color="#1a3c32"/><stop offset=".02" stop-color="#204e40"/><stop offset=".07" stop-color="#265848"/><stop offset=".24" stop-color="#2a6250"/><stop offset=".46" stop-color="#265c4a"/><stop offset=".76" stop-color="#1a3c32"/><stop offset="1.00" stop-color="#1a3c32"/></linearGradient>
<linearGradient id="q91"><stop offset=".00" stop-color="#1a3c30"/><stop offset=".10" stop-color="#225040"/><stop offset=".24" stop-color="#265646"/><stop offset=".42" stop-color="#245242"/><stop offset=".69" stop-color="#1a3c30"/><stop offset="1.00" stop-color="#1a3c30"/></linearGradient>
<linearGradient id="q92"><stop offset=".00" stop-color="#1a3c30"/><stop offset=".24" stop-color="#204838"/><stop offset=".54" stop-color="#1a3c30"/><stop offset="1.00" stop-color="#1a3c30"/></linearGradient>
<linearGradient id="q93"><stop offset=".00" stop-color="#1c3c30"/><stop offset="1.00" stop-color="#1c3c30"/></linearGradient>
<linearGradient id="q94"><stop offset=".00" stop-color="#1c3c2e"/><stop offset="1.00" stop-color="#1c3c2e"/></linearGradient>
<clipPath id="c3"><path d="M210.90,95.50 L210.88,99.10 L210.83,101.77 L210.75,104.16 L210.62,106.38 L210.47,108.48 L210.28,110.49 L210.06,112.41 L209.80,114.26 L209.51,116.04 L209.19,117.76 L208.83,119.42 L208.44,121.02 L208.02,122.57 L207.56,124.06 L207.07,125.49 L206.55,126.88 L206.00,128.21 L205.41,129.48 L204.79,130.71 L204.14,131.88 L203.46,132.99 L202.75,134.05 L202.01,135.06 L201.24,136.01 L200.43,136.91 L199.60,137.75 L198.73,138.54 L197.83,139.27 L196.90,139.94 L195.94,140.55 L194.94,141.11 L193.90,141.61 L192.83,142.05 L191.71,142.44 L190.55,142.76 L189.33,143.03 L188.03,143.23 L186.64,143.38 L185.09,143.47 L183.00,143.50 L180.91,143.47 L179.36,143.38 L177.97,143.23 L176.67,143.03 L175.45,142.76 L174.29,142.44 L173.17,142.05 L172.10,141.61 L171.06,141.11 L170.06,140.55 L169.10,139.94 L168.17,139.27 L167.27,138.54 L166.40,137.75 L165.57,136.91 L164.76,136.01 L163.99,135.06 L163.25,134.05 L162.54,132.99 L161.86,131.88 L161.21,130.71 L160.59,129.48 L160.00,128.21 L159.45,126.88 L158.93,125.49 L158.44,124.06 L157.98,122.57 L157.56,121.02 L157.17,119.42 L156.81,117.76 L156.49,116.04 L156.20,114.26 L155.94,112.41 L155.72,110.49 L155.53,108.48 L155.38,106.38 L155.25,104.16 L155.17,101.77 L155.12,99.10 L155.10,95.50 L155.12,91.90 L155.17,89.23 L155.25,86.84 L155.38,84.62 L155.53,82.52 L155.72,80.51 L155.94,78.59 L156.20,76.74 L156.49,74.96 L156.81,73.24 L157.17,71.58 L157.56,69.98 L157.98,68.43 L158.44,66.94 L158.93,65.51 L159.45,64.12 L160.00,62.79 L160.59,61.52 L161.21,60.29 L161.86,59.12 L162.54,58.01 L163.25,56.95 L163.99,55.94 L164.76,54.99 L165.57,54.09 L166.40,53.25 L167.27,52.46 L168.17,51.73 L169.10,51.06 L170.06,50.45 L171.06,49.89 L172.10,49.39 L173.17,48.95 L174.29,48.56 L175.45,48.24 L176.67,47.97 L177.97,47.77 L179.36,47.62 L180.91,47.53 L183.00,47.50 L185.09,47.53 L186.64,47.62 L188.03,47.77 L189.33,47.97 L190.55,48.24 L191.71,48.56 L192.83,48.95 L193.90,49.39 L194.94,49.89 L195.94,50.45 L196.90,51.06 L197.83,51.73 L198.73,52.46 L199.60,53.25 L200.43,54.09 L201.24,54.99 L202.01,55.94 L202.75,56.95 L203.46,58.01 L204.14,59.12 L204.79,60.29 L205.41,61.52 L206.00,62.79 L206.55,64.12 L207.07,65.51 L207.56,66.94 L208.02,68.43 L208.44,69.98 L208.83,71.58 L209.19,73.24 L209.51,74.96 L209.80,76.74 L210.06,78.59 L210.28,80.51 L210.47,82.52 L210.62,84.62 L210.75,86.84 L210.83,89.23 L210.88,91.90Z"/></clipPath>
<linearGradient id="q95"><stop offset=".00" stop-color="#868044"/><stop offset=".50" stop-color="#8a8446"/><stop offset="1.00" stop-color="#7a743e"/></linearGradient>
<linearGradient id="q96"><stop offset=".00" stop-color="#888a4c"/><stop offset=".04" stop-color="#969654"/><stop offset=".15" stop-color="#9c9e58"/><stop offset=".50" stop-color="#989a56"/><stop offset=".85" stop-color="#7e7e46"/><stop offset=".96" stop-color="#6e6e3c"/><stop offset="1.00" stop-color="#5e5e34"/></linearGradient>
<linearGradient id="q97"><stop offset=".00" stop-color="#828a50"/><stop offset=".04" stop-color="#929c5a"/><stop offset=".15" stop-color="#9ca660"/><stop offset=".50" stop-color="#96a05c"/><stop offset=".85" stop-color="#747c48"/><stop offset=".96" stop-color="#60663a"/><stop offset="1.00" stop-color="#4c502e"/></linearGradient>
<linearGradient id="q98"><stop offset=".00" stop-color="#768a56"/><stop offset=".02" stop-color="#849a60"/><stop offset=".12" stop-color="#90a868"/><stop offset=".42" stop-color="#92aa6a"/><stop offset=".82" stop-color="#6c7e4e"/><stop offset=".95" stop-color="#56643e"/><stop offset=".99" stop-color="#485434"/><stop offset="1.00" stop-color="#3c462a"/></linearGradient>
<linearGradient id="q99"><stop offset=".00" stop-color="#66885e"/><stop offset=".01" stop-color="#709868"/><stop offset=".07" stop-color="#7ca672"/><stop offset=".24" stop-color="#84b27a"/><stop offset=".35" stop-color="#92c088"/><stop offset=".42" stop-color="#94be8a"/><stop offset=".58" stop-color="#78a06e"/><stop offset=".88" stop-color="#54724e"/><stop offset=".96" stop-color="#425a3e"/><stop offset=".99" stop-color="#3a4e36"/><stop offset="1.00" stop-color="#2e3e2a"/></linearGradient>
<linearGradient id="q100"><stop offset=".00" stop-color="#568866"/><stop offset=".01" stop-color="#609872"/><stop offset=".05" stop-color="#68a47a"/><stop offset=".24" stop-color="#7aba8e"/><stop offset=".35" stop-color="#a6e6ba"/><stop offset=".38" stop-color="#aeeec2"/><stop offset=".42" stop-color="#aae8be"/><stop offset=".58" stop-color="#6ca47e"/><stop offset=".88" stop-color="#466e54"/><stop offset=".96" stop-color="#365440"/><stop offset="1.00" stop-color="#263a2c"/></linearGradient>
<linearGradient id="q101"><stop offset=".00" stop-color="#48866e"/><stop offset=".05" stop-color="#56a486"/><stop offset=".21" stop-color="#64b896"/><stop offset=".31" stop-color="#a8fada"/><stop offset=".35" stop-color="#c6fff8"/><stop offset=".38" stop-color="#d4ffff"/><stop offset=".42" stop-color="#ccfffe"/><stop offset=".46" stop-color="#b2ffe2"/><stop offset=".58" stop-color="#60aa8c"/><stop offset=".88" stop-color="#3a6c58"/><stop offset="1.00" stop-color="#203c30"/></linearGradient>
<linearGradient id="q102"><stop offset=".00" stop-color="#3c8274"/><stop offset=".04" stop-color="#489c8c"/><stop offset=".21" stop-color="#5ab8a6"/><stop offset=".31" stop-color="#c0ffff"/><stop offset=".38" stop-color="#ffffff"/><stop offset=".46" stop-color="#caffff"/><stop offset=".50" stop-color="#9af2e0"/><stop offset=".58" stop-color="#56aa9a"/><stop offset="1.00" stop-color="#1c3a34"/></linearGradient>
<linearGradient id="q103"><stop offset=".00" stop-color="#32807c"/><stop offset=".04" stop-color="#3c9a94"/><stop offset=".21" stop-color="#4eb8b2"/><stop offset=".27" stop-color="#90faf4"/><stop offset=".35" stop-color="#fcffff"/><stop offset=".42" stop-color="#ffffff"/><stop offset=".50" stop-color="#98faf4"/><stop offset=".58" stop-color="#4aaaa4"/><stop offset="1.00" stop-color="#163a38"/></linearGradient>
<linearGradient id="q104"><stop offset=".00" stop-color="#267c82"/><stop offset=".04" stop-color="#2e969e"/><stop offset=".21" stop-color="#42b6be"/><stop offset=".27" stop-color="#8cffff"/><stop offset=".35" stop-color="#ffffff"/><stop offset=".42" stop-color="#ffffff"/><stop offset=".50" stop-color="#8efaff"/><stop offset=".58" stop-color="#3ea6ac"/><stop offset="1.00" stop-color="#123a3c"/></linearGradient>
<linearGradient id="q105"><stop offset=".00" stop-color="#1c7a88"/><stop offset=".04" stop-color="#2294a6"/><stop offset=".21" stop-color="#34b4c8"/><stop offset=".27" stop-color="#7efeff"/><stop offset=".35" stop-color="#f4ffff"/><stop offset=".38" stop-color="#ffffff"/><stop offset=".42" stop-color="#f4ffff"/><stop offset=".50" stop-color="#7ef4ff"/><stop offset=".58" stop-color="#32a2b4"/><stop offset="1.00" stop-color="#0e3a40"/></linearGradient>
<linearGradient id="q106"><stop offset=".00" stop-color="#1c7886"/><stop offset=".04" stop-color="#2292a4"/><stop offset=".21" stop-color="#32b2c6"/><stop offset=".27" stop-color="#78f8ff"/><stop offset=".35" stop-color="#e8ffff"/><stop offset=".38" stop-color="#faffff"/><stop offset=".42" stop-color="#e4ffff"/><stop offset=".46" stop-color="#aeffff"/><stop offset=".50" stop-color="#72e8fc"/><stop offset=".58" stop-color="#2e9eb0"/><stop offset="1.00" stop-color="#0e3a40"/></linearGradient>
<linearGradient id="q107"><stop offset=".00" stop-color="#1a7484"/><stop offset=".04" stop-color="#2090a4"/><stop offset=".21" stop-color="#30aec4"/><stop offset=".27" stop-color="#70eeff"/><stop offset=".35" stop-color="#d2ffff"/><stop offset=".38" stop-color="#e2ffff"/><stop offset=".42" stop-color="#caffff"/><stop offset=".46" stop-color="#9affff"/><stop offset=".50" stop-color="#66daf0"/><stop offset=".54" stop-color="#3eb0c4"/><stop offset=".58" stop-color="#2a98ac"/><stop offset="1.00" stop-color="#0c3a42"/></linearGradient>
<linearGradient id="q108"><stop offset=".00" stop-color="#1a7484"/><stop offset=".04" stop-color="#208ea2"/><stop offset=".21" stop-color="#2eaac2"/><stop offset=".27" stop-color="#66e4fa"/><stop offset=".31" stop-color="#94ffff"/><stop offset=".35" stop-color="#bcffff"/><stop offset=".38" stop-color="#caffff"/><stop offset=".42" stop-color="#b4ffff"/><stop offset=".46" stop-color="#88ffff"/><stop offset=".54" stop-color="#38aac0"/><stop offset=".58" stop-color="#2694aa"/><stop offset="1.00" stop-color="#0c3a42"/></linearGradient>
<linearGradient id="q109"><stop offset=".00" stop-color="#187282"/><stop offset=".04" stop-color="#1e8ca2"/><stop offset=".21" stop-color="#2aa8c0"/><stop offset=".24" stop-color="#3cbad2"/><stop offset=".31" stop-color="#86ffff"/><stop offset=".35" stop-color="#a8ffff"/><stop offset=".38" stop-color="#b4ffff"/><stop offset=".42" stop-color="#a0ffff"/><stop offset=".46" stop-color="#7af0ff"/><stop offset=".54" stop-color="#34a4ba"/><stop offset=".58" stop-color="#2492a8"/><stop offset="1.00" stop-color="#0c3842"/></linearGradient>
<linearGradient id="q110"><stop offset=".00" stop-color="#187082"/><stop offset=".01" stop-color="#1c8296"/><stop offset=".05" stop-color="#1e90a6"/><stop offset=".21" stop-color="#28a4be"/><stop offset=".31" stop-color="#76f4ff"/><stop offset=".35" stop-color="#94ffff"/><stop offset=".38" stop-color="#9effff"/><stop offset=".42" stop-color="#8cffff"/><stop offset=".46" stop-color="#6ae0f8"/><stop offset=".50" stop-color="#46bad2"/><stop offset=".58" stop-color="#228ea6"/><stop offset="1.00" stop-color="#0c3842"/></linearGradient>
<linearGradient id="q111"><stop offset=".00" stop-color="#166e80"/><stop offset=".01" stop-color="#1a8096"/><stop offset=".05" stop-color="#1c8ea6"/><stop offset=".21" stop-color="#26a2bc"/><stop offset=".31" stop-color="#68e4ff"/><stop offset=".35" stop-color="#82feff"/><stop offset=".38" stop-color="#8affff"/><stop offset=".42" stop-color="#7af2ff"/><stop offset=".50" stop-color="#3eb2ca"/><stop offset=".58" stop-color="#208ca4"/><stop offset="1.00" stop-color="#0c3842"/></linearGradient>
<linearGradient id="q112"><stop offset=".00" stop-color="#166c80"/><stop offset=".01" stop-color="#1a7e94"/><stop offset=".05" stop-color="#1c8ca4"/><stop offset=".21" stop-color="#24a0bc"/><stop offset=".31" stop-color="#5cd8f4"/><stop offset=".38" stop-color="#76f0ff"/><stop offset=".42" stop-color="#68e0fa"/><stop offset=".50" stop-color="#36aac2"/><stop offset=".58" stop-color="#1e8aa2"/><stop offset=".79" stop-color="#146476"/><stop offset=".95" stop-color="#0c3a44"/><stop offset="1.00" stop-color="#0c3842"/></linearGradient>
<linearGradient id="q113"><stop offset=".00" stop-color="#146a80"/><stop offset=".01" stop-color="#187c94"/><stop offset=".05" stop-color="#1a8aa4"/><stop offset=".21" stop-color="#229cba"/><stop offset=".35" stop-color="#62dcf8"/><stop offset=".38" stop-color="#66defa"/><stop offset=".50" stop-color="#30a2bc"/><stop offset=".58" stop-color="#1c88a0"/><stop offset=".79" stop-color="#146276"/><stop offset=".95" stop-color="#0c3844"/><stop offset="1.00" stop-color="#0a3844"/></linearGradient>
<linearGradient id="q114"><stop offset=".00" stop-color="#146a7e"/><stop offset=".01" stop-color="#187a94"/><stop offset=".05" stop-color="#1a88a4"/><stop offset=".21" stop-color="#209ab8"/><stop offset=".35" stop-color="#54ceec"/><stop offset=".38" stop-color="#58d0ec"/><stop offset=".50" stop-color="#2a9cb8"/><stop offset=".58" stop-color="#1a86a0"/><stop offset=".79" stop-color="#126274"/><stop offset=".95" stop-color="#0a3844"/><stop offset="1.00" stop-color="#0a3844"/></linearGradient>
<linearGradient id="q115"><stop offset=".00" stop-color="#14687e"/><stop offset=".00" stop-color="#146e84"/><stop offset=".01" stop-color="#167a92"/><stop offset=".05" stop-color="#1888a4"/><stop offset=".21" stop-color="#1e98b8"/><stop offset=".35" stop-color="#4ac2e2"/><stop offset=".38" stop-color="#4cc4e2"/><stop offset=".50" stop-color="#2698b4"/><stop offset=".58" stop-color="#1a849e"/><stop offset=".79" stop-color="#126074"/><stop offset=".95" stop-color="#0a3844"/><stop offset="1.00" stop-color="#0a3844"/></linearGradient>
<linearGradient id="q116"><stop offset=".00" stop-color="#12667c"/><stop offset=".00" stop-color="#146c84"/><stop offset=".01" stop-color="#167892"/><stop offset=".05" stop-color="#1886a2"/><stop offset=".21" stop-color="#1c96b6"/><stop offset=".35" stop-color="#40b8d8"/><stop offset=".38" stop-color="#42b8d8"/><stop offset=".54" stop-color="#1c88a6"/><stop offset=".76" stop-color="#12667c"/><stop offset=".95" stop-color="#0a3844"/><stop offset="1.00" stop-color="#0a3844"/></linearGradient>
<linearGradient id="q117"><stop offset=".00" stop-color="#12667c"/><stop offset=".00" stop-color="#126c84"/><stop offset=".01" stop-color="#147892"/><stop offset=".07" stop-color="#1888a8"/><stop offset=".21" stop-color="#1c96b6"/><stop offset=".35" stop-color="#3cb4d4"/><stop offset=".38" stop-color="#3cb4d4"/><stop offset=".54" stop-color="#1a88a4"/><stop offset=".76" stop-color="#12647a"/><stop offset=".95" stop-color="#0a3844"/><stop offset="1.00" stop-color="#0a3844"/></linearGradient>
<linearGradient id="q118"><stop offset=".00" stop-color="#12667c"/><stop offset=".00" stop-color="#126c84"/><stop offset=".01" stop-color="#147692"/><stop offset=".07" stop-color="#1688a8"/><stop offset=".21" stop-color="#1a94b6"/><stop offset=".35" stop-color="#38b0d2"/><stop offset=".38" stop-color="#3ab0d2"/><stop offset=".54" stop-color="#1886a4"/><stop offset=".76" stop-color="#10647c"/><stop offset=".93" stop-color="#0a3a48"/><stop offset="1.00" stop-color="#0a3844"/></linearGradient>
<linearGradient id="q119"><stop offset=".00" stop-color="#10647c"/><stop offset=".00" stop-color="#126a84"/><stop offset=".01" stop-color="#147692"/><stop offset=".07" stop-color="#1686a8"/><stop offset=".21" stop-color="#1a94b6"/><stop offset=".35" stop-color="#34acce"/><stop offset=".38" stop-color="#34acce"/><stop offset=".54" stop-color="#1884a4"/><stop offset=".76" stop-color="#10627a"/><stop offset=".93" stop-color="#0a3a48"/><stop offset="1.00" stop-color="#0a3844"/></linearGradient>
<linearGradient id="q120"><stop offset=".00" stop-color="#10647e"/><stop offset=".01" stop-color="#12708c"/><stop offset=".01" stop-color="#127692"/><stop offset=".07" stop-color="#1686a8"/><stop offset=".21" stop-color="#1892b8"/><stop offset=".35" stop-color="#32acd0"/><stop offset=".38" stop-color="#34acce"/><stop offset=".54" stop-color="#1684a6"/><stop offset=".76" stop-color="#10627c"/><stop offset=".93" stop-color="#0a3a48"/><stop offset="1.00" stop-color="#083846"/></linearGradient>
<linearGradient id="q121"><stop offset=".00" stop-color="#10627c"/><stop offset=".01" stop-color="#106e8c"/><stop offset=".01" stop-color="#127492"/><stop offset=".07" stop-color="#1486a8"/><stop offset=".21" stop-color="#1892b6"/><stop offset=".35" stop-color="#2ca4ca"/><stop offset=".38" stop-color="#2ca4c8"/><stop offset=".54" stop-color="#1682a4"/><stop offset=".76" stop-color="#0e627a"/><stop offset=".93" stop-color="#083848"/><stop offset="1.00" stop-color="#083846"/></linearGradient>
<linearGradient id="q122"><stop offset=".00" stop-color="#10627a"/><stop offset=".01" stop-color="#126e8a"/><stop offset=".01" stop-color="#127490"/><stop offset=".07" stop-color="#1684a6"/><stop offset=".21" stop-color="#1890b4"/><stop offset=".38" stop-color="#2aa0c2"/><stop offset=".54" stop-color="#1682a2"/><stop offset=".76" stop-color="#106078"/><stop offset=".93" stop-color="#083846"/><stop offset="1.00" stop-color="#083844"/></linearGradient>
<linearGradient id="q123"><stop offset=".00" stop-color="#106278"/><stop offset=".01" stop-color="#126e88"/><stop offset=".02" stop-color="#147894"/><stop offset=".10" stop-color="#1688a8"/><stop offset=".38" stop-color="#289cbe"/><stop offset=".54" stop-color="#16829e"/><stop offset=".76" stop-color="#106076"/><stop offset=".93" stop-color="#0a3844"/><stop offset="1.00" stop-color="#0a3844"/></linearGradient>
<linearGradient id="q124"><stop offset=".00" stop-color="#106276"/><stop offset=".01" stop-color="#126e84"/><stop offset=".02" stop-color="#147892"/><stop offset=".10" stop-color="#1888a4"/><stop offset=".38" stop-color="#2498b6"/><stop offset=".54" stop-color="#16809c"/><stop offset=".73" stop-color="#12667c"/><stop offset=".93" stop-color="#0a3844"/><stop offset="1.00" stop-color="#0a3844"/></linearGradient>
<linearGradient id="q125"><stop offset=".00" stop-color="#106074"/><stop offset=".01" stop-color="#146c82"/><stop offset=".02" stop-color="#14768e"/><stop offset=".10" stop-color="#1886a2"/><stop offset=".38" stop-color="#2294b0"/><stop offset=".73" stop-color="#12667a"/><stop offset=".93" stop-color="#0a3844"/><stop offset="1.00" stop-color="#0a3844"/></linearGradient>
<linearGradient id="q126"><stop offset=".00" stop-color="#126072"/><stop offset=".01" stop-color="#146c80"/><stop offset=".02" stop-color="#16768c"/><stop offset=".10" stop-color="#18869e"/><stop offset=".35" stop-color="#2092ac"/><stop offset=".69" stop-color="#146a7e"/><stop offset=".93" stop-color="#0a3842"/><stop offset="1.00" stop-color="#0a3842"/></linearGradient>
<linearGradient id="q127"><stop offset=".00" stop-color="#125e6e"/><stop offset=".01" stop-color="#146a7c"/><stop offset=".02" stop-color="#167488"/><stop offset=".10" stop-color="#18849c"/><stop offset=".35" stop-color="#1e8ea6"/><stop offset=".65" stop-color="#146e82"/><stop offset=".79" stop-color="#105666"/><stop offset=".90" stop-color="#0c3a44"/><stop offset="1.00" stop-color="#0a3842"/></linearGradient>
<linearGradient id="q128"><stop offset=".00" stop-color="#125c6c"/><stop offset=".01" stop-color="#14687a"/><stop offset=".02" stop-color="#167286"/><stop offset=".10" stop-color="#1a8298"/><stop offset=".35" stop-color="#1c8ca0"/><stop offset=".65" stop-color="#166c7e"/><stop offset=".79" stop-color="#105462"/><stop offset=".90" stop-color="#0c3a42"/><stop offset="1.00" stop-color="#0a3842"/></linearGradient>
<linearGradient id="q129"><stop offset=".00" stop-color="#125a68"/><stop offset=".01" stop-color="#146676"/><stop offset=".02" stop-color="#167282"/><stop offset=".10" stop-color="#1a8094"/><stop offset=".21" stop-color="#1c889c"/><stop offset=".35" stop-color="#1c889c"/><stop offset=".65" stop-color="#166a7a"/><stop offset=".90" stop-color="#0c3840"/><stop offset="1.00" stop-color="#0c3840"/></linearGradient>
<linearGradient id="q130"><stop offset=".00" stop-color="#125864"/><stop offset=".01" stop-color="#146472"/><stop offset=".02" stop-color="#16707e"/><stop offset=".10" stop-color="#1a7e90"/><stop offset=".21" stop-color="#1c8698"/><stop offset=".35" stop-color="#1c8696"/><stop offset=".65" stop-color="#166876"/><stop offset=".90" stop-color="#0c3840"/><stop offset="1.00" stop-color="#0c3840"/></linearGradient>
<linearGradient id="q131"><stop offset=".00" stop-color="#125660"/><stop offset=".01" stop-color="#14626e"/><stop offset=".02" stop-color="#166c7a"/><stop offset=".07" stop-color="#1a7a88"/><stop offset=".18" stop-color="#1c8292"/><stop offset=".31" stop-color="#1c8492"/><stop offset=".62" stop-color="#166c78"/><stop offset=".76" stop-color="#12565e"/><stop offset=".88" stop-color="#0c3a42"/><stop offset="1.00" stop-color="#0c3840"/></linearGradient>
<linearGradient id="q132"><stop offset=".00" stop-color="#16545a"/><stop offset=".01" stop-color="#1a666c"/><stop offset=".07" stop-color="#20767e"/><stop offset=".18" stop-color="#228088"/><stop offset=".31" stop-color="#228288"/><stop offset=".62" stop-color="#1c6a70"/><stop offset=".88" stop-color="#10383c"/><stop offset="1.00" stop-color="#10383c"/></linearGradient>
<linearGradient id="q133"><stop offset=".00" stop-color="#1a5250"/><stop offset=".01" stop-color="#1e6262"/><stop offset=".07" stop-color="#247272"/><stop offset=".31" stop-color="#287e7c"/><stop offset=".62" stop-color="#206666"/><stop offset=".88" stop-color="#123838"/><stop offset="1.00" stop-color="#123838"/></linearGradient>
<linearGradient id="q134"><stop offset=".00" stop-color="#1c4e48"/><stop offset=".01" stop-color="#205852"/><stop offset=".02" stop-color="#24625c"/><stop offset=".07" stop-color="#286e68"/><stop offset=".31" stop-color="#2c7870"/><stop offset=".58" stop-color="#266660"/><stop offset=".85" stop-color="#143836"/><stop offset="1.00" stop-color="#143836"/></linearGradient>
<linearGradient id="q135"><stop offset=".00" stop-color="#204a40"/><stop offset=".01" stop-color="#265a4e"/><stop offset=".07" stop-color="#2c6a5e"/><stop offset=".31" stop-color="#327466"/><stop offset=".58" stop-color="#2a6256"/><stop offset=".85" stop-color="#183832"/><stop offset="1.00" stop-color="#183832"/></linearGradient>
<linearGradient id="q136"><stop offset=".00" stop-color="#204438"/><stop offset=".01" stop-color="#285446"/><stop offset=".07" stop-color="#306452"/><stop offset=".27" stop-color="#346e5a"/><stop offset=".54" stop-color="#2e604e"/><stop offset=".82" stop-color="#1c382e"/><stop offset="1.00" stop-color="#1c382e"/></linearGradient>
<linearGradient id="q137"><stop offset=".00" stop-color="#243e2e"/><stop offset=".01" stop-color="#2c4e3a"/><stop offset=".07" stop-color="#365c46"/><stop offset=".27" stop-color="#3a664c"/><stop offset=".54" stop-color="#325842"/><stop offset=".79" stop-color="#20382a"/><stop offset="1.00" stop-color="#20382a"/></linearGradient>
<linearGradient id="q138"><stop offset=".00" stop-color="#263826"/><stop offset=".01" stop-color="#30442e"/><stop offset=".05" stop-color="#365036"/><stop offset=".24" stop-color="#3e5c3e"/><stop offset=".50" stop-color="#385238"/><stop offset=".76" stop-color="#263626"/><stop offset="1.00" stop-color="#263626"/></linearGradient>
<linearGradient id="q139"><stop offset=".00" stop-color="#2a3620"/><stop offset=".07" stop-color="#3a482c"/><stop offset=".24" stop-color="#405030"/><stop offset=".46" stop-color="#3a4a2c"/><stop offset=".69" stop-color="#2c3620"/><stop offset="1.00" stop-color="#2a3620"/></linearGradient>
<linearGradient id="q140"><stop offset=".00" stop-color="#2e341e"/><stop offset=".24" stop-color="#3c4226"/><stop offset=".62" stop-color="#2e341e"/><stop offset="1.00" stop-color="#2e341e"/></linearGradient>
<linearGradient id="q141"><stop offset=".00" stop-color="#32341c"/><stop offset="1.00" stop-color="#32341c"/></linearGradient>
<linearGradient id="q142"><stop offset=".00" stop-color="#34321a"/><stop offset="1.00" stop-color="#34321a"/></linearGradient>
<clipPath id="c4"><path d="M320.40,94.10 L320.38,97.18 L320.33,99.58 L320.25,101.77 L320.13,103.84 L319.98,105.81 L319.79,107.70 L319.57,109.52 L319.32,111.28 L319.03,112.98 L318.71,114.62 L318.36,116.22 L317.98,117.77 L317.56,119.26 L317.12,120.71 L316.64,122.10 L316.13,123.45 L315.58,124.75 L315.01,125.99 L314.41,127.19 L313.78,128.34 L313.12,129.43 L312.42,130.47 L311.70,131.46 L310.95,132.40 L310.18,133.29 L309.37,134.11 L308.53,134.89 L307.67,135.61 L306.78,136.27 L305.86,136.88 L304.90,137.43 L303.92,137.93 L302.91,138.37 L301.85,138.75 L300.76,139.07 L299.63,139.33 L298.43,139.54 L297.17,139.68 L295.78,139.77 L294.00,139.80 L292.22,139.77 L290.83,139.68 L289.57,139.54 L288.37,139.33 L287.24,139.07 L286.15,138.75 L285.09,138.37 L284.08,137.93 L283.10,137.43 L282.14,136.88 L281.22,136.27 L280.33,135.61 L279.47,134.89 L278.63,134.11 L277.82,133.29 L277.05,132.40 L276.30,131.46 L275.58,130.47 L274.88,129.43 L274.22,128.34 L273.59,127.19 L272.99,125.99 L272.42,124.75 L271.87,123.45 L271.36,122.10 L270.88,120.71 L270.44,119.26 L270.02,117.77 L269.64,116.22 L269.29,114.62 L268.97,112.98 L268.68,111.28 L268.43,109.52 L268.21,107.70 L268.02,105.81 L267.87,103.84 L267.75,101.77 L267.67,99.58 L267.62,97.18 L267.60,94.10 L267.62,91.02 L267.67,88.62 L267.75,86.43 L267.87,84.36 L268.02,82.39 L268.21,80.50 L268.43,78.68 L268.68,76.92 L268.97,75.22 L269.29,73.58 L269.64,71.98 L270.02,70.43 L270.44,68.94 L270.88,67.49 L271.36,66.10 L271.87,64.75 L272.42,63.45 L272.99,62.21 L273.59,61.01 L274.22,59.86 L274.88,58.77 L275.58,57.73 L276.30,56.74 L277.05,55.80 L277.82,54.91 L278.63,54.09 L279.47,53.31 L280.33,52.59 L281.22,51.93 L282.14,51.32 L283.10,50.77 L284.08,50.27 L285.09,49.83 L286.15,49.45 L287.24,49.13 L288.37,48.87 L289.57,48.66 L290.83,48.52 L292.22,48.43 L294.00,48.40 L295.78,48.43 L297.17,48.52 L298.43,48.66 L299.63,48.87 L300.76,49.13 L301.85,49.45 L302.91,49.83 L303.92,50.27 L304.90,50.77 L305.86,51.32 L306.78,51.93 L307.67,52.59 L308.53,53.31 L309.37,54.09 L310.18,54.91 L310.95,55.80 L311.70,56.74 L312.42,57.73 L313.12,58.77 L313.78,59.86 L314.41,61.01 L315.01,62.21 L315.58,63.45 L316.13,64.75 L316.64,66.10 L317.12,67.49 L317.56,68.94 L317.98,70.43 L318.36,71.98 L318.71,73.58 L319.03,75.22 L319.32,76.92 L319.57,78.68 L319.79,80.50 L319.98,82.39 L320.13,84.36 L320.25,86.43 L320.33,88.62 L320.38,91.02Z"/></clipPath>
<linearGradient id="q143"><stop offset=".00" stop-color="#147a98"/><stop offset=".15" stop-color="#1682a2"/><stop offset=".50" stop-color="#1680a0"/><stop offset=".85" stop-color="#147694"/><stop offset="1.00" stop-color="#126a84"/></linearGradient>
<linearGradient id="q144"><stop offset=".00" stop-color="#1680a0"/><stop offset=".04" stop-color="#188cb0"/><stop offset=".15" stop-color="#1a94ba"/><stop offset=".50" stop-color="#1890b4"/><stop offset=".85" stop-color="#147694"/><stop offset=".96" stop-color="#12667e"/><stop offset="1.00" stop-color="#0e566a"/></linearGradient>
<linearGradient id="q145"><stop offset=".00" stop-color="#1680a0"/><stop offset=".01" stop-color="#1688aa"/><stop offset=".04" stop-color="#1890b4"/><stop offset=".15" stop-color="#1a9ac0"/><stop offset=".31" stop-color="#1a9cc2"/><stop offset=".50" stop-color="#1a96ba"/><stop offset=".85" stop-color="#147490"/><stop offset=".96" stop-color="#105e74"/><stop offset=".99" stop-color="#0e546a"/><stop offset="1.00" stop-color="#0c485a"/></linearGradient>
<linearGradient id="q146"><stop offset=".00" stop-color="#167e9e"/><stop offset=".01" stop-color="#1688a8"/><stop offset=".02" stop-color="#188eb2"/><stop offset=".12" stop-color="#1a9cc2"/><stop offset=".42" stop-color="#1ea0c6"/><stop offset=".82" stop-color="#147492"/><stop offset=".95" stop-color="#105c72"/><stop offset=".99" stop-color="#0c4c60"/><stop offset="1.00" stop-color="#0a3e4e"/></linearGradient>
<linearGradient id="q147"><stop offset=".00" stop-color="#167c9c"/><stop offset=".01" stop-color="#188aac"/><stop offset=".07" stop-color="#1a98bc"/><stop offset=".24" stop-color="#1ea4cc"/><stop offset=".35" stop-color="#32b6dc"/><stop offset=".42" stop-color="#34b6dc"/><stop offset=".58" stop-color="#1c94b8"/><stop offset=".88" stop-color="#126880"/><stop offset=".98" stop-color="#0c4c5e"/><stop offset=".99" stop-color="#0a4252"/><stop offset="1.00" stop-color="#0a3844"/></linearGradient>
<linearGradient id="q148"><stop offset=".00" stop-color="#147a98"/><stop offset=".01" stop-color="#1888aa"/><stop offset=".05" stop-color="#1894b8"/><stop offset=".21" stop-color="#1ea2ca"/><stop offset=".35" stop-color="#5adeff"/><stop offset=".42" stop-color="#60e2ff"/><stop offset=".58" stop-color="#2096ba"/><stop offset=".88" stop-color="#10647c"/><stop offset=".96" stop-color="#0c4c60"/><stop offset="1.00" stop-color="#083642"/></linearGradient>
<linearGradient id="q149"><stop offset=".00" stop-color="#147896"/><stop offset=".05" stop-color="#1892b6"/><stop offset=".21" stop-color="#22a6cc"/><stop offset=".27" stop-color="#48cef4"/><stop offset=".35" stop-color="#8cffff"/><stop offset=".38" stop-color="#9effff"/><stop offset=".42" stop-color="#96ffff"/><stop offset=".46" stop-color="#7af8ff"/><stop offset=".50" stop-color="#56d2f6"/><stop offset=".58" stop-color="#249abe"/><stop offset=".88" stop-color="#106078"/><stop offset="1.00" stop-color="#083642"/></linearGradient>
<linearGradient id="q150"><stop offset=".00" stop-color="#147694"/><stop offset=".04" stop-color="#188eb0"/><stop offset=".21" stop-color="#24a8ce"/><stop offset=".27" stop-color="#5ce0ff"/><stop offset=".31" stop-color="#8cffff"/><stop offset=".38" stop-color="#ceffff"/><stop offset=".46" stop-color="#9affff"/><stop offset=".50" stop-color="#68e4ff"/><stop offset=".58" stop-color="#269cbe"/><stop offset=".88" stop-color="#105e74"/><stop offset="1.00" stop-color="#083642"/></linearGradient>
<linearGradient id="q151"><stop offset=".00" stop-color="#147490"/><stop offset=".04" stop-color="#188cae"/><stop offset=".21" stop-color="#26aad0"/><stop offset=".27" stop-color="#6ceeff"/><stop offset=".35" stop-color="#daffff"/><stop offset=".38" stop-color="#f2ffff"/><stop offset=".42" stop-color="#e0ffff"/><stop offset=".50" stop-color="#74eeff"/><stop offset=".58" stop-color="#289cbe"/><stop offset=".88" stop-color="#105a72"/><stop offset="1.00" stop-color="#083642"/></linearGradient>
<linearGradient id="q152"><stop offset=".00" stop-color="#14728e"/><stop offset=".04" stop-color="#188aae"/><stop offset=".21" stop-color="#28a8d0"/><stop offset=".27" stop-color="#72f2ff"/><stop offset=".35" stop-color="#e6ffff"/><stop offset=".38" stop-color="#feffff"/><stop offset=".42" stop-color="#eaffff"/><stop offset=".50" stop-color="#76eeff"/><stop offset=".58" stop-color="#289abc"/><stop offset=".65" stop-color="#1682a2"/><stop offset=".85" stop-color="#105e76"/><stop offset="1.00" stop-color="#083642"/></linearGradient>
<linearGradient id="q153"><stop offset=".00" stop-color="#12708c"/><stop offset=".04" stop-color="#188aaa"/><stop offset=".21" stop-color="#28a8ce"/><stop offset=".27" stop-color="#72f2ff"/><stop offset=".35" stop-color="#e6ffff"/><stop offset=".38" stop-color="#faffff"/><stop offset=".42" stop-color="#e4ffff"/><stop offset=".46" stop-color="#aeffff"/><stop offset=".50" stop-color="#70e6ff"/><stop offset=".58" stop-color="#2496b8"/><stop offset="1.00" stop-color="#083642"/></linearGradient>
<linearGradient id="q154"><stop offset=".00" stop-color="#126e8a"/><stop offset=".04" stop-color="#1688a8"/><stop offset=".21" stop-color="#26a6ca"/><stop offset=".27" stop-color="#6ceaff"/><stop offset=".31" stop-color="#a4ffff"/><stop offset=".35" stop-color="#d6ffff"/><stop offset=".38" stop-color="#eaffff"/><stop offset=".42" stop-color="#d2ffff"/><stop offset=".46" stop-color="#9effff"/><stop offset=".50" stop-color="#66dafe"/><stop offset=".58" stop-color="#2292b4"/><stop offset="1.00" stop-color="#083642"/></linearGradient>
<linearGradient id="q155"><stop offset=".00" stop-color="#126e88"/><stop offset=".04" stop-color="#1686a8"/><stop offset=".21" stop-color="#24a2c8"/><stop offset=".27" stop-color="#64e4ff"/><stop offset=".31" stop-color="#9affff"/><stop offset=".35" stop-color="#c8ffff"/><stop offset=".38" stop-color="#d8ffff"/><stop offset=".46" stop-color="#90ffff"/><stop offset=".50" stop-color="#5cd2f4"/><stop offset=".54" stop-color="#36a8ca"/><stop offset=".58" stop-color="#2090b0"/><stop offset="1.00" stop-color="#083642"/></linearGradient>
<linearGradient id="q156"><stop offset=".00" stop-color="#126c86"/><stop offset=".04" stop-color="#1684a6"/><stop offset=".21" stop-color="#24a0c6"/><stop offset=".27" stop-color="#5ad8fe"/><stop offset=".31" stop-color="#8affff"/><stop offset=".35" stop-color="#b2ffff"/><stop offset=".38" stop-color="#beffff"/><stop offset=".42" stop-color="#aaffff"/><stop offset=".46" stop-color="#7ef4ff"/><stop offset=".54" stop-color="#30a0c2"/><stop offset=".58" stop-color="#1e8cac"/><stop offset="1.00" stop-color="#083642"/></linearGradient>
<linearGradient id="q157"><stop offset=".00" stop-color="#126a84"/><stop offset=".04" stop-color="#1684a4"/><stop offset=".21" stop-color="#229cc2"/><stop offset=".27" stop-color="#50ccf2"/><stop offset=".31" stop-color="#78f4ff"/><stop offset=".35" stop-color="#98ffff"/><stop offset=".38" stop-color="#a2ffff"/><stop offset=".42" stop-color="#90ffff"/><stop offset=".46" stop-color="#6ce0ff"/><stop offset=".54" stop-color="#2a9aba"/><stop offset=".58" stop-color="#1c88a8"/><stop offset="1.00" stop-color="#083642"/></linearGradient>
<linearGradient id="q158"><stop offset=".00" stop-color="#126882"/><stop offset=".01" stop-color="#147896"/><stop offset=".05" stop-color="#1686a6"/><stop offset=".21" stop-color="#209abe"/><stop offset=".31" stop-color="#66e2ff"/><stop offset=".35" stop-color="#82fcff"/><stop offset=".38" stop-color="#8affff"/><stop offset=".46" stop-color="#5acef0"/><stop offset=".58" stop-color="#1a84a4"/><stop offset="1.00" stop-color="#083642"/></linearGradient>
<linearGradient id="q159"><stop offset=".00" stop-color="#126680"/><stop offset=".01" stop-color="#147894"/><stop offset=".05" stop-color="#1684a4"/><stop offset=".21" stop-color="#1e98bc"/><stop offset=".35" stop-color="#6ee6ff"/><stop offset=".38" stop-color="#74eaff"/><stop offset=".42" stop-color="#66dcfe"/><stop offset=".50" stop-color="#32a2c4"/><stop offset=".58" stop-color="#1882a2"/><stop offset=".79" stop-color="#106076"/><stop offset=".95" stop-color="#0a3844"/><stop offset="1.00" stop-color="#083642"/></linearGradient>
<linearGradient id="q160"><stop offset=".00" stop-color="#12667e"/><stop offset=".01" stop-color="#147694"/><stop offset=".05" stop-color="#1684a4"/><stop offset=".21" stop-color="#1c96b8"/><stop offset=".35" stop-color="#60d6fa"/><stop offset=".38" stop-color="#64dafc"/><stop offset=".42" stop-color="#58ccee"/><stop offset=".50" stop-color="#2c9cbc"/><stop offset=".58" stop-color="#1880a0"/><stop offset=".79" stop-color="#105e76"/><stop offset=".95" stop-color="#0a3644"/><stop offset="1.00" stop-color="#083642"/></linearGradient>
<linearGradient id="q161"><stop offset=".00" stop-color="#10647e"/><stop offset=".01" stop-color="#147492"/><stop offset=".05" stop-color="#1682a2"/><stop offset=".21" stop-color="#1c94b6"/><stop offset=".35" stop-color="#52c8ec"/><stop offset=".38" stop-color="#56caee"/><stop offset=".50" stop-color="#2896b6"/><stop offset=".58" stop-color="#167e9e"/><stop offset=".79" stop-color="#105c74"/><stop offset=".95" stop-color="#083642"/><stop offset="1.00" stop-color="#083642"/></linearGradient>
<linearGradient id="q162"><stop offset=".00" stop-color="#10647c"/><stop offset=".01" stop-color="#147490"/><stop offset=".05" stop-color="#1680a0"/><stop offset=".21" stop-color="#1a92b4"/><stop offset=".35" stop-color="#48bce0"/><stop offset=".38" stop-color="#4abee0"/><stop offset=".50" stop-color="#2492b2"/><stop offset=".58" stop-color="#167e9c"/><stop offset=".79" stop-color="#105c72"/><stop offset=".95" stop-color="#083642"/><stop offset="1.00" stop-color="#083642"/></linearGradient>
<linearGradient id="q163"><stop offset=".00" stop-color="#10627a"/><stop offset=".01" stop-color="#147290"/><stop offset=".05" stop-color="#1680a0"/><stop offset=".21" stop-color="#1a90b4"/><stop offset=".35" stop-color="#40b4d6"/><stop offset=".38" stop-color="#42b4d6"/><stop offset=".50" stop-color="#208eae"/><stop offset=".58" stop-color="#167c9a"/><stop offset=".79" stop-color="#105a72"/><stop offset=".95" stop-color="#083642"/><stop offset="1.00" stop-color="#083642"/></linearGradient>
<linearGradient id="q164"><stop offset=".00" stop-color="#10627a"/><stop offset=".01" stop-color="#14728e"/><stop offset=".07" stop-color="#1682a4"/><stop offset=".21" stop-color="#1a90b2"/><stop offset=".35" stop-color="#3ab0d2"/><stop offset=".38" stop-color="#3cb0d2"/><stop offset=".54" stop-color="#1882a2"/><stop offset=".76" stop-color="#106078"/><stop offset=".95" stop-color="#083642"/><stop offset="1.00" stop-color="#083642"/></linearGradient>
<linearGradient id="q165"><stop offset=".00" stop-color="#10627a"/><stop offset=".01" stop-color="#14728e"/><stop offset=".07" stop-color="#1682a2"/><stop offset=".21" stop-color="#1a8eb2"/><stop offset=".35" stop-color="#38acce"/><stop offset=".38" stop-color="#38aace"/><stop offset=".54" stop-color="#1880a0"/><stop offset=".76" stop-color="#106078"/><stop offset=".93" stop-color="#0a3846"/><stop offset="1.00" stop-color="#083642"/></linearGradient>
<linearGradient id="q166"><stop offset=".00" stop-color="#106078"/><stop offset=".01" stop-color="#14728c"/><stop offset=".07" stop-color="#1682a2"/><stop offset=".21" stop-color="#1a8eb0"/><stop offset=".35" stop-color="#32a6c8"/><stop offset=".38" stop-color="#34a6c8"/><stop offset=".54" stop-color="#18809e"/><stop offset=".76" stop-color="#106076"/><stop offset=".93" stop-color="#0a3846"/><stop offset="1.00" stop-color="#083642"/></linearGradient>
<linearGradient id="q167"><stop offset=".00" stop-color="#106078"/><stop offset=".01" stop-color="#14708c"/><stop offset=".07" stop-color="#1682a2"/><stop offset=".21" stop-color="#188eb0"/><stop offset=".35" stop-color="#30a4c6"/><stop offset=".38" stop-color="#32a4c6"/><stop offset=".54" stop-color="#18809e"/><stop offset=".76" stop-color="#105e76"/><stop offset=".93" stop-color="#0a3846"/><stop offset="1.00" stop-color="#083642"/></linearGradient>
<linearGradient id="q168"><stop offset=".00" stop-color="#106078"/><stop offset=".01" stop-color="#12708c"/><stop offset=".07" stop-color="#1680a0"/><stop offset=".21" stop-color="#188cae"/><stop offset=".38" stop-color="#2e9ec0"/><stop offset=".54" stop-color="#167e9c"/><stop offset=".76" stop-color="#105e76"/><stop offset=".93" stop-color="#0a3644"/><stop offset="1.00" stop-color="#083642"/></linearGradient>
<linearGradient id="q169"><stop offset=".00" stop-color="#105e76"/><stop offset=".01" stop-color="#126e8a"/><stop offset=".07" stop-color="#1680a0"/><stop offset=".21" stop-color="#188aac"/><stop offset=".38" stop-color="#2898ba"/><stop offset=".54" stop-color="#167c9a"/><stop offset=".76" stop-color="#105e74"/><stop offset=".93" stop-color="#0a3642"/><stop offset="1.00" stop-color="#083642"/></linearGradient>
<linearGradient id="q170"><stop offset=".00" stop-color="#105e74"/><stop offset=".01" stop-color="#126882"/><stop offset=".02" stop-color="#14728e"/><stop offset=".10" stop-color="#1682a2"/><stop offset=".38" stop-color="#2492b4"/><stop offset=".54" stop-color="#167a9a"/><stop offset=".73" stop-color="#10627a"/><stop offset=".93" stop-color="#083642"/><stop offset="1.00" stop-color="#083642"/></linearGradient>
<linearGradient id="q171"><stop offset=".00" stop-color="#105c72"/><stop offset=".01" stop-color="#126c88"/><stop offset=".07" stop-color="#167e9c"/><stop offset=".35" stop-color="#208eb0"/><stop offset=".69" stop-color="#126680"/><stop offset=".93" stop-color="#083642"/><stop offset="1.00" stop-color="#083642"/></linearGradient>
<linearGradient id="q172"><stop offset=".00" stop-color="#105a72"/><stop offset=".01" stop-color="#126680"/><stop offset=".02" stop-color="#12708c"/><stop offset=".10" stop-color="#167e9e"/><stop offset=".35" stop-color="#1c8aac"/><stop offset=".69" stop-color="#10647e"/><stop offset=".93" stop-color="#083642"/><stop offset="1.00" stop-color="#083642"/></linearGradient>
<linearGradient id="q173"><stop offset=".00" stop-color="#105a70"/><stop offset=".01" stop-color="#10647e"/><stop offset=".02" stop-color="#126e8a"/><stop offset=".10" stop-color="#167e9c"/><stop offset=".35" stop-color="#1a86a8"/><stop offset=".65" stop-color="#126882"/><stop offset=".79" stop-color="#0e5266"/><stop offset=".90" stop-color="#0a3846"/><stop offset="1.00" stop-color="#083642"/></linearGradient>
<linearGradient id="q174"><stop offset=".00" stop-color="#0e586c"/><stop offset=".01" stop-color="#10627a"/><stop offset=".02" stop-color="#126c88"/><stop offset=".10" stop-color="#147c9a"/><stop offset=".35" stop-color="#1884a2"/><stop offset=".65" stop-color="#126680"/><stop offset=".79" stop-color="#0e5064"/><stop offset=".90" stop-color="#0a3644"/><stop offset="1.00" stop-color="#083642"/></linearGradient>
<linearGradient id="q175"><stop offset=".00" stop-color="#0e566a"/><stop offset=".01" stop-color="#106078"/><stop offset=".02" stop-color="#126a84"/><stop offset=".10" stop-color="#147896"/><stop offset=".21" stop-color="#1680a0"/><stop offset=".35" stop-color="#16809e"/><stop offset=".65" stop-color="#10647e"/><stop offset=".90" stop-color="#083642"/><stop offset="1.00" stop-color="#083642"/></linearGradient>
<linearGradient id="q176"><stop offset=".00" stop-color="#0e5268"/><stop offset=".01" stop-color="#105e76"/><stop offset=".02" stop-color="#126882"/><stop offset=".10" stop-color="#147694"/><stop offset=".21" stop-color="#167e9c"/><stop offset=".35" stop-color="#167c9c"/><stop offset=".65" stop-color="#10627a"/><stop offset=".90" stop-color="#083642"/><stop offset="1.00" stop-color="#083642"/></linearGradient>
<linearGradient id="q177"><stop offset=".00" stop-color="#0e5064"/><stop offset=".01" stop-color="#106078"/><stop offset=".07" stop-color="#14728e"/><stop offset=".18" stop-color="#147a98"/><stop offset=".31" stop-color="#147a9a"/><stop offset=".62" stop-color="#10647e"/><stop offset=".76" stop-color="#0e5064"/><stop offset=".88" stop-color="#0a3644"/><stop offset="1.00" stop-color="#083642"/></linearGradient>
<linearGradient id="q178"><stop offset=".00" stop-color="#0e4e62"/><stop offset=".01" stop-color="#105a70"/><stop offset=".02" stop-color="#10627c"/><stop offset=".07" stop-color="#126e8a"/><stop offset=".18" stop-color="#147894"/><stop offset=".31" stop-color="#147896"/><stop offset=".62" stop-color="#10627a"/><stop offset=".88" stop-color="#083642"/><stop offset="1.00" stop-color="#083642"/></linearGradient>
<linearGradient id="q179"><stop offset=".00" stop-color="#0c4c5e"/><stop offset=".01" stop-color="#105a72"/><stop offset=".07" stop-color="#126a84"/><stop offset=".18" stop-color="#147490"/><stop offset=".31" stop-color="#147490"/><stop offset=".62" stop-color="#105e76"/><stop offset=".85" stop-color="#0a3846"/><stop offset="1.00" stop-color="#083642"/></linearGradient>
<linearGradient id="q180"><stop offset=".00" stop-color="#0c485a"/><stop offset=".01" stop-color="#0e586e"/><stop offset=".07" stop-color="#126880"/><stop offset=".18" stop-color="#12708c"/><stop offset=".31" stop-color="#12708c"/><stop offset=".58" stop-color="#106076"/><stop offset=".85" stop-color="#083642"/><stop offset="1.00" stop-color="#083642"/></linearGradient>
<linearGradient id="q181"><stop offset=".00" stop-color="#0c4454"/><stop offset=".01" stop-color="#0e5468"/><stop offset=".07" stop-color="#10627a"/><stop offset=".27" stop-color="#126c86"/><stop offset=".58" stop-color="#105a70"/><stop offset=".82" stop-color="#0a3844"/><stop offset="1.00" stop-color="#083642"/></linearGradient>
<linearGradient id="q182"><stop offset=".00" stop-color="#0a4050"/><stop offset=".01" stop-color="#0e4e62"/><stop offset=".07" stop-color="#105e74"/><stop offset=".27" stop-color="#126680"/><stop offset=".54" stop-color="#105a70"/><stop offset=".82" stop-color="#083642"/><stop offset="1.00" stop-color="#083642"/></linearGradient>
<linearGradient id="q183"><stop offset=".00" stop-color="#0a3a4a"/><stop offset=".01" stop-color="#0c485a"/><stop offset=".07" stop-color="#0e586c"/><stop offset=".27" stop-color="#106078"/><stop offset=".54" stop-color="#0e5468"/><stop offset=".79" stop-color="#083642"/><stop offset="1.00" stop-color="#083642"/></linearGradient>
<linearGradient id="q184"><stop offset=".00" stop-color="#083642"/><stop offset=".01" stop-color="#0a3e4c"/><stop offset=".02" stop-color="#0c4656"/><stop offset=".07" stop-color="#0e5062"/><stop offset=".24" stop-color="#0e586e"/><stop offset=".50" stop-color="#0e4e62"/><stop offset=".76" stop-color="#083642"/><stop offset="1.00" stop-color="#083642"/></linearGradient>
<linearGradient id="q185"><stop offset=".00" stop-color="#083642"/><stop offset=".10" stop-color="#0c485a"/><stop offset=".24" stop-color="#0e4e60"/><stop offset=".46" stop-color="#0c4858"/><stop offset=".69" stop-color="#083642"/><stop offset="1.00" stop-color="#083642"/></linearGradient>
<linearGradient id="q186"><stop offset=".00" stop-color="#083642"/><stop offset=".24" stop-color="#0a4050"/><stop offset=".58" stop-color="#083642"/><stop offset="1.00" stop-color="#083642"/></linearGradient>
<linearGradient id="q187"><stop offset=".00" stop-color="#083642"/><stop offset="1.00" stop-color="#083642"/></linearGradient>
<clipPath id="c5"><path d="M354.10,49.50 L354.78,49.52 L355.47,49.58 L356.17,49.68 L356.87,49.81 L357.55,49.97 L358.21,50.16 L358.83,50.37 L359.40,50.60 L359.91,50.85 L360.38,51.13 L360.80,51.43 L361.20,51.76 L361.59,52.11 L361.97,52.48 L362.37,52.88 L362.80,53.30 L363.26,53.75 L363.74,54.25 L364.24,54.77 L364.73,55.31 L365.22,55.87 L365.68,56.42 L366.11,56.97 L366.50,57.50 L366.83,57.99 L367.11,58.43 L367.35,58.86 L367.57,59.29 L367.79,59.76 L368.03,60.28 L368.29,60.89 L368.60,61.60 L368.96,62.44 L369.35,63.38 L369.76,64.40 L370.19,65.49 L370.63,66.60 L371.07,67.73 L371.49,68.83 L371.90,69.90 L372.29,70.95 L372.69,72.03 L373.07,73.12 L373.46,74.21 L373.83,75.27 L374.20,76.30 L374.56,77.28 L374.90,78.20 L375.22,79.03 L375.52,79.76 L375.80,80.44 L376.07,81.09 L376.35,81.74 L376.64,82.43 L376.96,83.17 L377.30,84.00 L377.68,84.92 L378.09,85.89 L378.52,86.91 L378.97,87.97 L379.42,89.06 L379.86,90.16 L380.29,91.28 L380.70,92.40 L381.10,93.53 L381.50,94.70 L381.89,95.88 L382.28,97.08 L382.65,98.29 L383.00,99.50 L383.32,100.70 L383.60,101.90 L383.85,103.09 L384.07,104.28 L384.26,105.46 L384.43,106.65 L384.58,107.84 L384.70,109.03 L384.81,110.21 L384.90,111.40 L384.98,112.59 L385.07,113.78 L385.14,114.96 L385.18,116.15 L385.19,117.34 L385.16,118.53 L385.06,119.71 L384.90,120.90 L384.67,122.11 L384.38,123.36 L384.04,124.63 L383.66,125.89 L383.22,127.12 L382.75,128.29 L382.24,129.39 L381.70,130.40 L381.13,131.31 L380.54,132.15 L379.91,132.92 L379.24,133.64 L378.53,134.31 L377.75,134.93 L376.91,135.53 L376.00,136.10 L375.01,136.64 L373.93,137.14 L372.79,137.59 L371.59,138.01 L370.35,138.40 L369.08,138.76 L367.79,139.09 L366.50,139.40 L365.18,139.69 L363.81,139.97 L362.41,140.22 L360.98,140.44 L359.55,140.62 L358.11,140.76 L356.69,140.86 L355.30,140.90 L353.92,140.89 L352.54,140.82 L351.15,140.71 L349.78,140.56 L348.42,140.37 L347.09,140.15 L345.78,139.89 L344.50,139.60 L343.25,139.28 L342.01,138.93 L340.79,138.55 L339.59,138.12 L338.43,137.67 L337.31,137.18 L336.23,136.66 L335.20,136.10 L334.22,135.52 L333.27,134.92 L332.37,134.29 L331.51,133.63 L330.69,132.91 L329.91,132.14 L329.18,131.31 L328.50,130.40 L327.86,129.39 L327.27,128.29 L326.72,127.12 L326.21,125.89 L325.76,124.63 L325.35,123.36 L325.00,122.11 L324.70,120.90 L324.47,119.71 L324.31,118.53 L324.20,117.34 L324.14,116.15 L324.13,114.96 L324.14,113.78 L324.16,112.59 L324.20,111.40 L324.25,110.20 L324.34,108.99 L324.45,107.77 L324.59,106.55 L324.74,105.35 L324.92,104.16 L325.10,103.01 L325.30,101.90 L325.51,100.84 L325.73,99.81 L325.97,98.82 L326.23,97.86 L326.50,96.90 L326.79,95.94 L327.09,94.98 L327.40,94.00 L327.73,93.00 L328.09,92.00 L328.46,91.00 L328.85,89.99 L329.24,88.99 L329.64,87.99 L330.02,86.99 L330.40,86.00 L330.77,85.02 L331.13,84.05 L331.49,83.08 L331.86,82.12 L332.22,81.15 L332.58,80.18 L332.94,79.20 L333.30,78.20 L333.66,77.19 L334.02,76.16 L334.38,75.12 L334.74,74.08 L335.10,73.03 L335.46,71.99 L335.83,70.94 L336.20,69.90 L336.59,68.83 L336.99,67.73 L337.40,66.60 L337.81,65.49 L338.22,64.40 L338.60,63.38 L338.97,62.44 L339.30,61.60 L339.59,60.89 L339.83,60.28 L340.04,59.76 L340.24,59.29 L340.44,58.86 L340.65,58.43 L340.90,57.99 L341.20,57.50 L341.54,56.97 L341.90,56.42 L342.29,55.87 L342.70,55.31 L343.13,54.77 L343.57,54.25 L344.03,53.75 L344.50,53.30 L344.98,52.88 L345.48,52.48 L346.00,52.11 L346.52,51.76 L347.07,51.43 L347.63,51.13 L348.21,50.85 L348.80,50.60 L349.41,50.37 L350.05,50.16 L350.71,49.97 L351.39,49.81 L352.07,49.68 L352.75,49.58 L353.43,49.52Z"/></clipPath>
<linearGradient id="q188"><stop offset=".00" stop-color="#147a98"/><stop offset=".50" stop-color="#1680a0"/><stop offset="1.00" stop-color="#126a84"/></linearGradient>
<linearGradient id="q189"><stop offset=".00" stop-color="#1680a0"/><stop offset=".18" stop-color="#1a98be"/><stop offset=".54" stop-color="#1892b6"/><stop offset=".85" stop-color="#147290"/><stop offset="1.00" stop-color="#0c4656"/></linearGradient>
<linearGradient id="q190"><stop offset=".00" stop-color="#167e9e"/><stop offset=".01" stop-color="#188cae"/><stop offset=".04" stop-color="#1892b6"/><stop offset=".12" stop-color="#1a9cc2"/><stop offset=".42" stop-color="#1e9ec4"/><stop offset=".82" stop-color="#147692"/><stop offset=".96" stop-color="#0e586e"/><stop offset="1.00" stop-color="#0a4252"/></linearGradient>
<linearGradient id="q191"><stop offset=".00" stop-color="#147c9c"/><stop offset=".02" stop-color="#188eb0"/><stop offset=".07" stop-color="#1a98bc"/><stop offset=".24" stop-color="#1ea4cc"/><stop offset=".38" stop-color="#32b4da"/><stop offset=".58" stop-color="#1a92b6"/><stop offset=".85" stop-color="#126e8a"/><stop offset=".96" stop-color="#0e546a"/><stop offset=".99" stop-color="#0c4656"/><stop offset="1.00" stop-color="#0a3c4a"/></linearGradient>
<linearGradient id="q192"><stop offset=".00" stop-color="#147a98"/><stop offset=".01" stop-color="#1688aa"/><stop offset=".05" stop-color="#1894b8"/><stop offset=".21" stop-color="#20a4cc"/><stop offset=".31" stop-color="#4ed2fa"/><stop offset=".38" stop-color="#6cf0ff"/><stop offset=".46" stop-color="#56d4fa"/><stop offset=".58" stop-color="#2096ba"/><stop offset=".88" stop-color="#10647c"/><stop offset=".96" stop-color="#0e4e60"/><stop offset="1.00" stop-color="#083642"/></linearGradient>
<linearGradient id="q193"><stop offset=".00" stop-color="#147492"/><stop offset=".04" stop-color="#188cb0"/><stop offset=".21" stop-color="#26a8d0"/><stop offset=".27" stop-color="#64e8ff"/><stop offset=".31" stop-color="#9affff"/><stop offset=".38" stop-color="#e0ffff"/><stop offset=".42" stop-color="#d2ffff"/><stop offset=".46" stop-color="#a4ffff"/><stop offset=".50" stop-color="#6ee8ff"/><stop offset=".58" stop-color="#289cbe"/><stop offset=".88" stop-color="#105e74"/><stop offset="1.00" stop-color="#083642"/></linearGradient>
<linearGradient id="q194"><stop offset=".00" stop-color="#147492"/><stop offset=".04" stop-color="#188cb0"/><stop offset=".21" stop-color="#26a8d0"/><stop offset=".27" stop-color="#68ecff"/><stop offset=".31" stop-color="#a0ffff"/><stop offset=".35" stop-color="#d4ffff"/><stop offset=".38" stop-color="#eaffff"/><stop offset=".42" stop-color="#daffff"/><stop offset=".46" stop-color="#aaffff"/><stop offset=".50" stop-color="#70ecff"/><stop offset=".58" stop-color="#289cbe"/><stop offset="1.00" stop-color="#083642"/></linearGradient>
<linearGradient id="q195"><stop offset=".00" stop-color="#147490"/><stop offset=".04" stop-color="#188cae"/><stop offset=".21" stop-color="#26aad0"/><stop offset=".27" stop-color="#6ceeff"/><stop offset=".35" stop-color="#dcffff"/><stop offset=".38" stop-color="#f2ffff"/><stop offset=".42" stop-color="#e0ffff"/><stop offset=".50" stop-color="#74eeff"/><stop offset=".58" stop-color="#289cbe"/><stop offset=".88" stop-color="#105c72"/><stop offset="1.00" stop-color="#083642"/></linearGradient>
<linearGradient id="q196"><stop offset=".00" stop-color="#147490"/><stop offset=".04" stop-color="#188cae"/><stop offset=".21" stop-color="#28aad0"/><stop offset=".27" stop-color="#6ef0ff"/><stop offset=".35" stop-color="#deffff"/><stop offset=".38" stop-color="#f6ffff"/><stop offset=".42" stop-color="#e4ffff"/><stop offset=".50" stop-color="#74eeff"/><stop offset=".58" stop-color="#289cbe"/><stop offset=".88" stop-color="#105a72"/><stop offset="1.00" stop-color="#083642"/></linearGradient>
<linearGradient id="q197"><stop offset=".00" stop-color="#147490"/><stop offset=".04" stop-color="#188cae"/><stop offset=".21" stop-color="#28aad0"/><stop offset=".27" stop-color="#6ef0ff"/><stop offset=".35" stop-color="#e0ffff"/><stop offset=".38" stop-color="#f8ffff"/><stop offset=".42" stop-color="#e6ffff"/><stop offset=".50" stop-color="#74eeff"/><stop offset=".58" stop-color="#289cbe"/><stop offset=".65" stop-color="#1682a2"/><stop offset=".85" stop-color="#106078"/><stop offset="1.00" stop-color="#083642"/></linearGradient>
<linearGradient id="q198"><stop offset=".00" stop-color="#147490"/><stop offset=".04" stop-color="#188cae"/><stop offset=".21" stop-color="#28aad0"/><stop offset=".27" stop-color="#6ef2ff"/><stop offset=".35" stop-color="#e2ffff"/><stop offset=".38" stop-color="#faffff"/><stop offset=".42" stop-color="#e6ffff"/><stop offset=".50" stop-color="#76eeff"/><stop offset=".58" stop-color="#289abe"/><stop offset=".65" stop-color="#1682a2"/><stop offset=".85" stop-color="#106078"/><stop offset="1.00" stop-color="#083642"/></linearGradient>
<linearGradient id="q199"><stop offset=".00" stop-color="#14728e"/><stop offset=".04" stop-color="#188aae"/><stop offset=".21" stop-color="#28aad0"/><stop offset=".27" stop-color="#70f2ff"/><stop offset=".35" stop-color="#e6ffff"/><stop offset=".38" stop-color="#fcffff"/><stop offset=".42" stop-color="#e8ffff"/><stop offset=".50" stop-color="#76eeff"/><stop offset=".58" stop-color="#289abc"/><stop offset=".65" stop-color="#1682a2"/><stop offset=".85" stop-color="#106078"/><stop offset="1.00" stop-color="#083642"/></linearGradient>
<linearGradient id="q200"><stop offset=".00" stop-color="#14728e"/><stop offset=".04" stop-color="#188aae"/><stop offset=".21" stop-color="#28aad0"/><stop offset=".27" stop-color="#70f2ff"/><stop offset=".35" stop-color="#e6ffff"/><stop offset=".38" stop-color="#feffff"/><stop offset=".42" stop-color="#eaffff"/><stop offset=".50" stop-color="#76eeff"/><stop offset=".58" stop-color="#289abc"/><stop offset=".65" stop-color="#1682a2"/><stop offset=".85" stop-color="#106076"/><stop offset="1.00" stop-color="#083642"/></linearGradient>
<linearGradient id="q201"><stop offset=".00" stop-color="#14728e"/><stop offset=".04" stop-color="#188aae"/><stop offset=".21" stop-color="#28aad0"/><stop offset=".27" stop-color="#70f2ff"/><stop offset=".35" stop-color="#e6ffff"/><stop offset=".38" stop-color="#feffff"/><stop offset=".42" stop-color="#e8ffff"/><stop offset=".50" stop-color="#76eeff"/><stop offset=".58" stop-color="#289abc"/><stop offset=".65" stop-color="#1682a2"/><stop offset=".85" stop-color="#106078"/><stop offset="1.00" stop-color="#083642"/></linearGradient>
<linearGradient id="q202"><stop offset=".00" stop-color="#147290"/><stop offset=".04" stop-color="#188cae"/><stop offset=".21" stop-color="#28aad0"/><stop offset=".27" stop-color="#6ef2ff"/><stop offset=".35" stop-color="#e2ffff"/><stop offset=".38" stop-color="#faffff"/><stop offset=".42" stop-color="#e6ffff"/><stop offset=".50" stop-color="#76eeff"/><stop offset=".58" stop-color="#289abe"/><stop offset=".65" stop-color="#1682a2"/><stop offset=".85" stop-color="#106078"/><stop offset="1.00" stop-color="#083642"/></linearGradient>
<linearGradient id="q203"><stop offset=".00" stop-color="#147490"/><stop offset=".04" stop-color="#188cae"/><stop offset=".21" stop-color="#28aad0"/><stop offset=".27" stop-color="#6cf0ff"/><stop offset=".35" stop-color="#dcffff"/><stop offset=".38" stop-color="#f4ffff"/><stop offset=".42" stop-color="#e2ffff"/><stop offset=".50" stop-color="#74eeff"/><stop offset=".58" stop-color="#289cbe"/><stop offset=".88" stop-color="#105c72"/><stop offset="1.00" stop-color="#083642"/></linearGradient>
<linearGradient id="q204"><stop offset=".00" stop-color="#147490"/><stop offset=".04" stop-color="#188cae"/><stop offset=".21" stop-color="#26aad0"/><stop offset=".27" stop-color="#6ceeff"/><stop offset=".35" stop-color="#daffff"/><stop offset=".38" stop-color="#f0ffff"/><stop offset=".42" stop-color="#deffff"/><stop offset=".50" stop-color="#72ecff"/><stop offset=".58" stop-color="#289cbe"/><stop offset=".88" stop-color="#105c72"/><stop offset="1.00" stop-color="#083642"/></linearGradient>
<linearGradient id="q205"><stop offset=".00" stop-color="#147490"/><stop offset=".04" stop-color="#188cae"/><stop offset=".21" stop-color="#26aad0"/><stop offset=".27" stop-color="#6ceeff"/><stop offset=".35" stop-color="#daffff"/><stop offset=".38" stop-color="#f2ffff"/><stop offset=".42" stop-color="#e0ffff"/><stop offset=".50" stop-color="#74ecff"/><stop offset=".58" stop-color="#289cbe"/><stop offset=".88" stop-color="#105c72"/><stop offset="1.00" stop-color="#083642"/></linearGradient>
<linearGradient id="q206"><stop offset=".00" stop-color="#147490"/><stop offset=".04" stop-color="#188cae"/><stop offset=".21" stop-color="#26aad0"/><stop offset=".27" stop-color="#6ceeff"/><stop offset=".31" stop-color="#a4ffff"/><stop offset=".35" stop-color="#d8ffff"/><stop offset=".38" stop-color="#f0ffff"/><stop offset=".42" stop-color="#deffff"/><stop offset=".50" stop-color="#72ecff"/><stop offset=".58" stop-color="#289cbe"/><stop offset=".88" stop-color="#105c72"/><stop offset="1.00" stop-color="#083642"/></linearGradient>
<linearGradient id="q207"><stop offset=".00" stop-color="#147490"/><stop offset=".04" stop-color="#188cae"/><stop offset=".21" stop-color="#26aad0"/><stop offset=".27" stop-color="#6aecff"/><stop offset=".31" stop-color="#a2ffff"/><stop offset=".35" stop-color="#d6ffff"/><stop offset=".38" stop-color="#eeffff"/><stop offset=".42" stop-color="#dcffff"/><stop offset=".50" stop-color="#72ecff"/><stop offset=".58" stop-color="#289cbe"/><stop offset=".88" stop-color="#105c72"/><stop offset="1.00" stop-color="#083642"/></linearGradient>
<linearGradient id="q208"><stop offset=".00" stop-color="#147490"/><stop offset=".04" stop-color="#188cae"/><stop offset=".21" stop-color="#26aad0"/><stop offset=".27" stop-color="#6ceeff"/><stop offset=".31" stop-color="#a6ffff"/><stop offset=".35" stop-color="#daffff"/><stop offset=".38" stop-color="#f2ffff"/><stop offset=".42" stop-color="#e0ffff"/><stop offset=".50" stop-color="#74eeff"/><stop offset=".58" stop-color="#289cbe"/><stop offset=".88" stop-color="#105c72"/><stop offset="1.00" stop-color="#083642"/></linearGradient>
<linearGradient id="q209"><stop offset=".00" stop-color="#147490"/><stop offset=".04" stop-color="#188cae"/><stop offset=".21" stop-color="#28aad0"/><stop offset=".27" stop-color="#6ef2ff"/><stop offset=".35" stop-color="#e2ffff"/><stop offset=".38" stop-color="#faffff"/><stop offset=".42" stop-color="#e8ffff"/><stop offset=".50" stop-color="#76eeff"/><stop offset=".58" stop-color="#289abc"/><stop offset=".65" stop-color="#1682a2"/><stop offset=".85" stop-color="#106078"/><stop offset="1.00" stop-color="#083642"/></linearGradient>
<linearGradient id="q210"><stop offset=".00" stop-color="#14728e"/><stop offset=".04" stop-color="#188aac"/><stop offset=".21" stop-color="#28a8d0"/><stop offset=".27" stop-color="#72f4ff"/><stop offset=".35" stop-color="#e8ffff"/><stop offset=".38" stop-color="#feffff"/><stop offset=".42" stop-color="#eaffff"/><stop offset=".50" stop-color="#74eeff"/><stop offset=".58" stop-color="#269abc"/><stop offset=".65" stop-color="#1682a2"/><stop offset=".85" stop-color="#105e76"/><stop offset="1.00" stop-color="#083642"/></linearGradient>
<linearGradient id="q211"><stop offset=".00" stop-color="#14708c"/><stop offset=".04" stop-color="#188aac"/><stop offset=".21" stop-color="#28a8ce"/><stop offset=".27" stop-color="#72f2ff"/><stop offset=".35" stop-color="#e8ffff"/><stop offset=".38" stop-color="#feffff"/><stop offset=".42" stop-color="#e8ffff"/><stop offset=".50" stop-color="#74ecff"/><stop offset=".58" stop-color="#2698ba"/><stop offset="1.00" stop-color="#083642"/></linearGradient>
<linearGradient id="q212"><stop offset=".00" stop-color="#12708a"/><stop offset=".04" stop-color="#1688aa"/><stop offset=".21" stop-color="#28a6cc"/><stop offset=".27" stop-color="#70f0ff"/><stop offset=".35" stop-color="#e4ffff"/><stop offset=".38" stop-color="#f8ffff"/><stop offset=".42" stop-color="#e2ffff"/><stop offset=".46" stop-color="#acffff"/><stop offset=".50" stop-color="#6ee6ff"/><stop offset=".58" stop-color="#2496b8"/><stop offset="1.00" stop-color="#083642"/></linearGradient>
<linearGradient id="q213"><stop offset=".00" stop-color="#126e88"/><stop offset=".04" stop-color="#1686a8"/><stop offset=".21" stop-color="#26a4ca"/><stop offset=".27" stop-color="#68e8ff"/><stop offset=".31" stop-color="#a2ffff"/><stop offset=".35" stop-color="#d2ffff"/><stop offset=".38" stop-color="#e6ffff"/><stop offset=".42" stop-color="#d0ffff"/><stop offset=".46" stop-color="#9cffff"/><stop offset=".50" stop-color="#64dafe"/><stop offset=".58" stop-color="#2292b4"/><stop offset="1.00" stop-color="#083642"/></linearGradient>
<linearGradient id="q214"><stop offset=".00" stop-color="#126c86"/><stop offset=".04" stop-color="#1684a6"/><stop offset=".21" stop-color="#24a0c6"/><stop offset=".27" stop-color="#5edaff"/><stop offset=".31" stop-color="#8effff"/><stop offset=".35" stop-color="#b8ffff"/><stop offset=".38" stop-color="#c8ffff"/><stop offset=".42" stop-color="#b4ffff"/><stop offset=".46" stop-color="#86feff"/><stop offset=".54" stop-color="#32a4c6"/><stop offset=".58" stop-color="#208eae"/><stop offset="1.00" stop-color="#083642"/></linearGradient>
<linearGradient id="q215"><stop offset=".00" stop-color="#126a84"/><stop offset=".04" stop-color="#1684a4"/><stop offset=".21" stop-color="#229ec2"/><stop offset=".27" stop-color="#54d0f4"/><stop offset=".31" stop-color="#7efaff"/><stop offset=".35" stop-color="#a2ffff"/><stop offset=".38" stop-color="#acffff"/><stop offset=".42" stop-color="#9affff"/><stop offset=".46" stop-color="#74e8ff"/><stop offset=".54" stop-color="#2c9cbe"/><stop offset=".58" stop-color="#1c8aaa"/><stop offset="1.00" stop-color="#083642"/></linearGradient>
<linearGradient id="q216"><stop offset=".00" stop-color="#126882"/><stop offset=".01" stop-color="#147896"/><stop offset=".05" stop-color="#1686a8"/><stop offset=".21" stop-color="#209ac0"/><stop offset=".31" stop-color="#6ce6ff"/><stop offset=".35" stop-color="#8affff"/><stop offset=".38" stop-color="#92ffff"/><stop offset=".42" stop-color="#82f8ff"/><stop offset=".46" stop-color="#60d4f8"/><stop offset=".54" stop-color="#2696b6"/><stop offset=".58" stop-color="#1a86a6"/><stop offset="1.00" stop-color="#083642"/></linearGradient>
<linearGradient id="q217"><stop offset=".00" stop-color="#126680"/><stop offset=".01" stop-color="#147894"/><stop offset=".05" stop-color="#1684a4"/><stop offset=".21" stop-color="#1e98bc"/><stop offset=".31" stop-color="#5ad4f8"/><stop offset=".38" stop-color="#78eeff"/><stop offset=".42" stop-color="#6adeff"/><stop offset=".50" stop-color="#34a4c6"/><stop offset=".58" stop-color="#1882a2"/><stop offset="1.00" stop-color="#083642"/></linearGradient>
<linearGradient id="q218"><stop offset=".00" stop-color="#10647e"/><stop offset=".01" stop-color="#147692"/><stop offset=".05" stop-color="#1682a2"/><stop offset=".21" stop-color="#1c94b8"/><stop offset=".35" stop-color="#5ad2f4"/><stop offset=".38" stop-color="#60d4f8"/><stop offset=".42" stop-color="#54c8ea"/><stop offset=".50" stop-color="#2c9abc"/><stop offset=".58" stop-color="#1880a0"/><stop offset=".79" stop-color="#105e76"/><stop offset=".95" stop-color="#0a3644"/><stop offset="1.00" stop-color="#083642"/></linearGradient>
<linearGradient id="q219"><stop offset=".00" stop-color="#10627c"/><stop offset=".01" stop-color="#147490"/><stop offset=".05" stop-color="#1680a0"/><stop offset=".21" stop-color="#1a92b4"/><stop offset=".35" stop-color="#4ac0e4"/><stop offset=".38" stop-color="#4ec2e6"/><stop offset=".42" stop-color="#46b8da"/><stop offset=".50" stop-color="#2694b4"/><stop offset=".58" stop-color="#167e9e"/><stop offset=".79" stop-color="#105e74"/><stop offset=".95" stop-color="#083642"/><stop offset="1.00" stop-color="#083642"/></linearGradient>
<linearGradient id="q220"><stop offset=".00" stop-color="#10627a"/><stop offset=".01" stop-color="#14728e"/><stop offset=".05" stop-color="#1680a0"/><stop offset=".21" stop-color="#1a90b2"/><stop offset=".35" stop-color="#42b8da"/><stop offset=".38" stop-color="#46badc"/><stop offset=".50" stop-color="#2490b2"/><stop offset=".58" stop-color="#167e9c"/><stop offset=".79" stop-color="#105c74"/><stop offset=".95" stop-color="#083642"/><stop offset="1.00" stop-color="#083642"/></linearGradient>
<linearGradient id="q221"><stop offset=".00" stop-color="#106076"/><stop offset=".01" stop-color="#12708c"/><stop offset=".07" stop-color="#1680a0"/><stop offset=".21" stop-color="#188cb0"/><stop offset=".35" stop-color="#32a6c8"/><stop offset=".38" stop-color="#34a6c8"/><stop offset=".58" stop-color="#167a98"/><stop offset=".79" stop-color="#105a70"/><stop offset=".95" stop-color="#083642"/><stop offset="1.00" stop-color="#083642"/></linearGradient>
<linearGradient id="q222"><stop offset=".00" stop-color="#105c72"/><stop offset=".01" stop-color="#126680"/><stop offset=".02" stop-color="#12708c"/><stop offset=".10" stop-color="#1680a0"/><stop offset=".38" stop-color="#2290b2"/><stop offset=".73" stop-color="#10627a"/><stop offset=".93" stop-color="#0a3644"/><stop offset="1.00" stop-color="#083642"/></linearGradient>
<linearGradient id="q223"><stop offset=".00" stop-color="#0e566a"/><stop offset=".01" stop-color="#106078"/><stop offset=".02" stop-color="#126a84"/><stop offset=".10" stop-color="#147a98"/><stop offset=".21" stop-color="#1680a0"/><stop offset=".35" stop-color="#1882a2"/><stop offset=".62" stop-color="#126c86"/><stop offset=".76" stop-color="#0e566c"/><stop offset=".90" stop-color="#0a3644"/><stop offset="1.00" stop-color="#083642"/></linearGradient>
<linearGradient id="q224"><stop offset=".00" stop-color="#0e5064"/><stop offset=".01" stop-color="#105c72"/><stop offset=".02" stop-color="#10647e"/><stop offset=".10" stop-color="#147490"/><stop offset=".21" stop-color="#147c9a"/><stop offset=".35" stop-color="#147a98"/><stop offset=".65" stop-color="#10627a"/><stop offset=".90" stop-color="#083642"/><stop offset="1.00" stop-color="#083642"/></linearGradient>
<linearGradient id="q225"><stop offset=".00" stop-color="#0c4c5e"/><stop offset=".01" stop-color="#0e566c"/><stop offset=".02" stop-color="#106078"/><stop offset=".10" stop-color="#12708a"/><stop offset=".31" stop-color="#147694"/><stop offset=".62" stop-color="#10627a"/><stop offset=".88" stop-color="#083642"/><stop offset="1.00" stop-color="#083642"/></linearGradient>
<linearGradient id="q226"><stop offset=".00" stop-color="#0c485a"/><stop offset=".01" stop-color="#0e5266"/><stop offset=".02" stop-color="#105c72"/><stop offset=".10" stop-color="#126a84"/><stop offset=".31" stop-color="#14728e"/><stop offset=".62" stop-color="#105c74"/><stop offset=".85" stop-color="#0a3844"/><stop offset="1.00" stop-color="#083642"/></linearGradient>
<linearGradient id="q227"><stop offset=".00" stop-color="#0c4252"/><stop offset=".01" stop-color="#0c4c5e"/><stop offset=".02" stop-color="#0e566a"/><stop offset=".10" stop-color="#10647c"/><stop offset=".31" stop-color="#126a84"/><stop offset=".58" stop-color="#105a72"/><stop offset=".85" stop-color="#083642"/><stop offset="1.00" stop-color="#083642"/></linearGradient>
<linearGradient id="q228"><stop offset=".00" stop-color="#0a3846"/><stop offset=".01" stop-color="#0c4658"/><stop offset=".07" stop-color="#0e566a"/><stop offset=".27" stop-color="#106078"/><stop offset=".54" stop-color="#0e546a"/><stop offset=".79" stop-color="#0a3644"/><stop offset="1.00" stop-color="#083642"/></linearGradient>
<linearGradient id="q229"><stop offset=".00" stop-color="#083642"/><stop offset=".10" stop-color="#0c485a"/><stop offset=".27" stop-color="#0e4e62"/><stop offset=".50" stop-color="#0c485a"/><stop offset=".73" stop-color="#083642"/><stop offset="1.00" stop-color="#083642"/></linearGradient>
<linearGradient id="q230"><stop offset=".00" stop-color="#083642"/><stop offset=".27" stop-color="#0a3c4c"/><stop offset=".54" stop-color="#083642"/><stop offset="1.00" stop-color="#083642"/></linearGradient>
<radialGradient id="pearG"><stop offset="0" stop-color="#e0ffff" stop-opacity="1"/><stop offset="0.4" stop-color="#a0f0ff" stop-opacity="0.6"/><stop offset="0.75" stop-color="#a0f0ff" stop-opacity="0.18"/><stop offset="1" stop-color="#a0f0ff" stop-opacity="0"/></radialGradient>
<radialGradient id="pearC"><stop offset="0" stop-color="#ffffff" stop-opacity="1"/><stop offset="0.6" stop-color="#ffffff" stop-opacity="0.9"/><stop offset="1" stop-color="#ffffff" stop-opacity="0"/></radialGradient>
<radialGradient id="g6" cx="0.3350" cy="0.2675" r="0.7000" fx="0.3900" fy="0.3450"><stop offset="0.014" stop-color="#fdffff"/><stop offset="0.029" stop-color="#f6ffff"/><stop offset="0.047" stop-color="#ebffff"/><stop offset="0.069" stop-color="#d5ffff"/><stop offset="0.090" stop-color="#bdffff"/><stop offset="0.110" stop-color="#a1feff"/><stop offset="0.130" stop-color="#89faff"/><stop offset="0.150" stop-color="#70ecfd"/><stop offset="0.169" stop-color="#5bd9f6"/><stop offset="0.189" stop-color="#4ac8ec"/><stop offset="0.226" stop-color="#33b0d5"/><stop offset="0.276" stop-color="#229dc1"/><stop offset="0.326" stop-color="#1b93b6"/><stop offset="0.375" stop-color="#188bae"/><stop offset="0.425" stop-color="#1684a4"/><stop offset="0.474" stop-color="#157c9b"/><stop offset="0.524" stop-color="#147693"/><stop offset="0.575" stop-color="#136e89"/><stop offset="0.624" stop-color="#116780"/><stop offset="0.674" stop-color="#105f76"/><stop offset="0.724" stop-color="#0f576c"/><stop offset="0.775" stop-color="#0d4e61"/><stop offset="0.825" stop-color="#0c4455"/><stop offset="0.876" stop-color="#0a3b49"/><stop offset="0.926" stop-color="#093643"/><stop offset="0.991" stop-color="#093543"/></radialGradient>
<radialGradient id="g7" cx="0.3350" cy="0.2675" r="0.7000" fx="0.3900" fy="0.3450"><stop offset="0.014" stop-color="#fdffff"/><stop offset="0.029" stop-color="#f6ffff"/><stop offset="0.047" stop-color="#ebffff"/><stop offset="0.069" stop-color="#d5ffff"/><stop offset="0.090" stop-color="#bdffff"/><stop offset="0.110" stop-color="#a1feff"/><stop offset="0.130" stop-color="#89faff"/><stop offset="0.150" stop-color="#70ecfd"/><stop offset="0.169" stop-color="#5bd9f6"/><stop offset="0.189" stop-color="#4ac8ec"/><stop offset="0.226" stop-color="#33b0d5"/><stop offset="0.276" stop-color="#229dc1"/><stop offset="0.326" stop-color="#1b93b6"/><stop offset="0.375" stop-color="#188bae"/><stop offset="0.425" stop-color="#1684a4"/><stop offset="0.474" stop-color="#157c9b"/><stop offset="0.524" stop-color="#147693"/><stop offset="0.575" stop-color="#136e89"/><stop offset="0.624" stop-color="#116780"/><stop offset="0.674" stop-color="#105f76"/><stop offset="0.724" stop-color="#0f576c"/><stop offset="0.775" stop-color="#0d4e61"/><stop offset="0.825" stop-color="#0c4455"/><stop offset="0.876" stop-color="#0a3b49"/><stop offset="0.926" stop-color="#093643"/><stop offset="0.991" stop-color="#093543"/></radialGradient>
<radialGradient id="g8" cx="0.3350" cy="0.2675" r="0.7000" fx="0.3900" fy="0.3450"><stop offset="0.014" stop-color="#fdffff"/><stop offset="0.029" stop-color="#f6ffff"/><stop offset="0.047" stop-color="#ebffff"/><stop offset="0.069" stop-color="#d5ffff"/><stop offset="0.090" stop-color="#bdffff"/><stop offset="0.110" stop-color="#a1feff"/><stop offset="0.130" stop-color="#89faff"/><stop offset="0.150" stop-color="#70ecfd"/><stop offset="0.169" stop-color="#5bd9f6"/><stop offset="0.189" stop-color="#4ac8ec"/><stop offset="0.226" stop-color="#33b0d5"/><stop offset="0.276" stop-color="#229dc1"/><stop offset="0.326" stop-color="#1b93b6"/><stop offset="0.375" stop-color="#188bae"/><stop offset="0.425" stop-color="#1684a4"/><stop offset="0.474" stop-color="#157c9b"/><stop offset="0.524" stop-color="#147693"/><stop offset="0.575" stop-color="#136e89"/><stop offset="0.624" stop-color="#116780"/><stop offset="0.674" stop-color="#105f76"/><stop offset="0.724" stop-color="#0f576c"/><stop offset="0.775" stop-color="#0d4e61"/><stop offset="0.825" stop-color="#0c4455"/><stop offset="0.876" stop-color="#0a3b49"/><stop offset="0.926" stop-color="#093643"/><stop offset="0.991" stop-color="#093543"/></radialGradient>
<clipPath id="c9"><path d="M418.90,54.00 L420.96,54.31 L421.78,54.62 L422.39,54.94 L422.88,55.25 L423.30,55.56 L423.66,55.88 L423.98,56.19 L424.27,56.50 L424.52,56.81 L424.75,57.12 L424.95,57.44 L425.14,57.75 L425.30,58.06 L425.45,58.38 L425.57,58.69 L425.69,59.00 L425.79,59.31 L425.87,59.62 L425.94,59.94 L426.00,60.25 L426.04,60.56 L426.07,60.88 L426.09,61.19 L426.10,61.50 L426.09,62.03 L426.05,62.57 L425.99,63.10 L425.91,63.63 L425.80,64.17 L425.67,64.70 L425.51,65.23 L425.33,65.77 L425.13,66.30 L424.91,66.83 L424.66,67.37 L424.39,67.90 L424.10,68.43 L423.79,68.97 L423.45,69.50 L423.10,70.03 L422.73,70.57 L422.34,71.10 L421.93,71.63 L421.51,72.17 L421.08,72.70 L420.64,73.23 L420.20,73.77 L419.80,74.30 L420.20,76.00 L417.60,76.00 L418.00,74.30 L417.60,73.77 L417.16,73.23 L416.72,72.70 L416.29,72.17 L415.87,71.63 L415.46,71.10 L415.07,70.57 L414.70,70.03 L414.35,69.50 L414.01,68.97 L413.70,68.43 L413.41,67.90 L413.14,67.37 L412.89,66.83 L412.67,66.30 L412.47,65.77 L412.29,65.23 L412.13,64.70 L412.00,64.17 L411.89,63.63 L411.81,63.10 L411.75,62.57 L411.71,62.03 L411.70,61.50 L411.71,61.19 L411.73,60.88 L411.76,60.56 L411.80,60.25 L411.86,59.94 L411.93,59.62 L412.01,59.31 L412.11,59.00 L412.23,58.69 L412.35,58.38 L412.50,58.06 L412.66,57.75 L412.85,57.44 L413.05,57.12 L413.28,56.81 L413.53,56.50 L413.82,56.19 L414.14,55.88 L414.50,55.56 L414.92,55.25 L415.41,54.94 L416.02,54.62 L416.84,54.31 L418.90,54.00Z"/></clipPath>
<linearGradient id="q231"><stop offset=".00" stop-color="#62a27a"/><stop offset=".50" stop-color="#6eb68a"/><stop offset="1.00" stop-color="#406c52"/></linearGradient>
<linearGradient id="q232"><stop offset=".00" stop-color="#5e9e76"/><stop offset=".07" stop-color="#72c090"/><stop offset=".42" stop-color="#96e4b4"/><stop offset=".88" stop-color="#4e8262"/><stop offset="1.00" stop-color="#284434"/></linearGradient>
<linearGradient id="q233"><stop offset=".00" stop-color="#56906e"/><stop offset=".21" stop-color="#84d2a2"/><stop offset=".31" stop-color="#ffffff"/><stop offset=".46" stop-color="#ffffff"/><stop offset=".58" stop-color="#78be94"/><stop offset="1.00" stop-color="#284434"/></linearGradient>
<linearGradient id="q234"><stop offset=".00" stop-color="#4c8060"/><stop offset=".04" stop-color="#60a078"/><stop offset=".21" stop-color="#72ba8e"/><stop offset=".38" stop-color="#aef6ca"/><stop offset=".54" stop-color="#6aaa82"/><stop offset="1.00" stop-color="#284434"/></linearGradient>
<linearGradient id="q235"><stop offset=".00" stop-color="#447054"/><stop offset=".02" stop-color="#548a68"/><stop offset=".10" stop-color="#5e9e78"/><stop offset=".35" stop-color="#66a880"/><stop offset="1.00" stop-color="#284434"/></linearGradient>
<linearGradient id="q236"><stop offset=".00" stop-color="#3c624a"/><stop offset=".07" stop-color="#548a68"/><stop offset=".31" stop-color="#5a9672"/><stop offset=".62" stop-color="#4a7a5c"/><stop offset=".88" stop-color="#284434"/><stop offset="1.00" stop-color="#284434"/></linearGradient>
<linearGradient id="q237"><stop offset=".00" stop-color="#345640"/><stop offset=".07" stop-color="#4a7c5e"/><stop offset=".27" stop-color="#528866"/><stop offset="1.00" stop-color="#284434"/></linearGradient>
<linearGradient id="q238"><stop offset=".00" stop-color="#2c4a38"/><stop offset=".07" stop-color="#426e54"/><stop offset=".27" stop-color="#4a7a5c"/><stop offset="1.00" stop-color="#284434"/></linearGradient>
<linearGradient id="q239"><stop offset=".00" stop-color="#284434"/><stop offset=".07" stop-color="#3c644c"/><stop offset=".24" stop-color="#426e54"/><stop offset="1.00" stop-color="#284434"/></linearGradient>
<linearGradient id="q240"><stop offset=".00" stop-color="#284434"/><stop offset=".07" stop-color="#385e46"/><stop offset=".24" stop-color="#3e684e"/><stop offset="1.00" stop-color="#284434"/></linearGradient>
<linearGradient id="q241"><stop offset=".00" stop-color="#187284"/><stop offset=".38" stop-color="#eaffff"/><stop offset=".58" stop-color="#2896ac"/><stop offset="1.00" stop-color="#0c3840"/></linearGradient>
<clipPath id="c10"><path d="M486.40,42.00 L487.93,42.22 L488.54,42.44 L488.99,42.66 L489.36,42.88 L489.67,43.10 L489.94,43.33 L490.18,43.55 L490.39,43.77 L490.58,43.99 L490.75,44.21 L490.90,44.43 L491.03,44.65 L491.15,44.87 L491.26,45.09 L491.36,45.31 L491.44,45.53 L491.52,45.75 L491.58,45.97 L491.63,46.20 L491.68,46.42 L491.71,46.64 L491.73,46.86 L491.75,47.08 L491.75,47.30 L491.74,47.72 L491.71,48.13 L491.65,48.55 L491.58,48.97 L491.48,49.38 L491.37,49.80 L491.23,50.22 L491.07,50.63 L490.90,51.05 L490.71,51.47 L490.50,51.88 L490.27,52.30 L490.04,52.72 L489.79,53.13 L489.52,53.55 L489.25,53.97 L488.98,54.38 L488.70,54.80 L488.42,55.22 L488.15,55.63 L487.88,56.05 L487.64,56.47 L487.43,56.88 L487.30,57.30 L487.62,57.47 L487.83,57.80 L488.05,58.13 L488.27,58.47 L488.49,58.80 L488.72,59.13 L488.93,59.47 L489.14,59.80 L489.34,60.13 L489.53,60.47 L489.71,60.80 L489.88,61.13 L490.03,61.47 L490.17,61.80 L490.30,62.13 L490.42,62.47 L490.52,62.80 L490.60,63.13 L490.67,63.47 L490.73,63.80 L490.77,64.13 L490.79,64.47 L490.80,64.80 L490.79,65.17 L490.77,65.53 L490.73,65.90 L490.68,66.27 L490.62,66.63 L490.54,67.00 L490.45,67.37 L490.34,67.73 L490.22,68.10 L490.08,68.47 L489.94,68.83 L489.78,69.20 L489.61,69.57 L489.42,69.93 L489.23,70.30 L489.03,70.67 L488.82,71.03 L488.60,71.40 L488.37,71.77 L488.14,72.13 L487.91,72.50 L487.69,72.87 L487.47,73.23 L487.30,73.60 L487.70,76.00 L485.10,76.00 L485.50,73.60 L485.33,73.23 L485.11,72.87 L484.89,72.50 L484.66,72.13 L484.43,71.77 L484.20,71.40 L483.98,71.03 L483.77,70.67 L483.57,70.30 L483.38,69.93 L483.19,69.57 L483.02,69.20 L482.86,68.83 L482.72,68.47 L482.58,68.10 L482.46,67.73 L482.35,67.37 L482.26,67.00 L482.18,66.63 L482.12,66.27 L482.07,65.90 L482.03,65.53 L482.01,65.17 L482.00,64.80 L482.01,64.47 L482.03,64.13 L482.07,63.80 L482.13,63.47 L482.20,63.13 L482.28,62.80 L482.38,62.47 L482.50,62.13 L482.63,61.80 L482.77,61.47 L482.92,61.13 L483.09,60.80 L483.27,60.47 L483.46,60.13 L483.66,59.80 L483.87,59.47 L484.08,59.13 L484.31,58.80 L484.53,58.47 L484.75,58.13 L484.97,57.80 L485.18,57.47 L485.50,57.30 L485.37,56.88 L485.16,56.47 L484.92,56.05 L484.65,55.63 L484.38,55.22 L484.10,54.80 L483.82,54.38 L483.55,53.97 L483.28,53.55 L483.01,53.13 L482.76,52.72 L482.53,52.30 L482.30,51.88 L482.09,51.47 L481.90,51.05 L481.73,50.63 L481.57,50.22 L481.43,49.80 L481.32,49.38 L481.22,48.97 L481.15,48.55 L481.09,48.13 L481.06,47.72 L481.05,47.30 L481.05,47.08 L481.07,46.86 L481.09,46.64 L481.12,46.42 L481.17,46.20 L481.22,45.97 L481.28,45.75 L481.36,45.53 L481.44,45.31 L481.54,45.09 L481.65,44.87 L481.77,44.65 L481.90,44.43 L482.05,44.21 L482.22,43.99 L482.41,43.77 L482.62,43.55 L482.86,43.33 L483.13,43.10 L483.44,42.88 L483.81,42.66 L484.26,42.44 L484.87,42.22 L486.40,42.00Z"/></clipPath>
<linearGradient id="q242"><stop offset=".00" stop-color="#86985a"/><stop offset=".50" stop-color="#98ae68"/><stop offset="1.00" stop-color="#525e38"/></linearGradient>
<linearGradient id="q243"><stop offset=".00" stop-color="#7c8c54"/><stop offset=".42" stop-color="#ffffff"/><stop offset=".58" stop-color="#a0b472"/><stop offset="1.00" stop-color="#384026"/></linearGradient>
<linearGradient id="q244"><stop offset=".00" stop-color="#687646"/><stop offset=".38" stop-color="#d0e4a0"/><stop offset=".54" stop-color="#8c9e62"/><stop offset="1.00" stop-color="#384026"/></linearGradient>
<linearGradient id="q245"><stop offset=".00" stop-color="#56623a"/><stop offset=".10" stop-color="#7c8c54"/><stop offset=".35" stop-color="#829458"/><stop offset="1.00" stop-color="#384026"/></linearGradient>
<linearGradient id="q246"><stop offset=".00" stop-color="#485230"/><stop offset=".07" stop-color="#687646"/><stop offset=".31" stop-color="#72804c"/><stop offset="1.00" stop-color="#384026"/></linearGradient>
<linearGradient id="q247"><stop offset=".00" stop-color="#3e462a"/><stop offset=".07" stop-color="#5a683e"/><stop offset=".27" stop-color="#647244"/><stop offset="1.00" stop-color="#384026"/></linearGradient>
<linearGradient id="q248"><stop offset=".00" stop-color="#3a4228"/><stop offset=".07" stop-color="#56623a"/><stop offset=".27" stop-color="#606c40"/><stop offset="1.00" stop-color="#384026"/></linearGradient>
<linearGradient id="q249"><stop offset=".00" stop-color="#667444"/><stop offset=".38" stop-color="#b8ca88"/><stop offset="1.00" stop-color="#384026"/></linearGradient>
<linearGradient id="q250"><stop offset=".00" stop-color="#949454"/><stop offset=".38" stop-color="#f6f6a2"/><stop offset="1.00" stop-color="#404024"/></linearGradient>
<linearGradient id="q251"><stop offset=".00" stop-color="#909050"/><stop offset=".38" stop-color="#ffffff"/><stop offset=".58" stop-color="#b8b86c"/><stop offset="1.00" stop-color="#404024"/></linearGradient>
<linearGradient id="q252"><stop offset=".00" stop-color="#86864a"/><stop offset=".42" stop-color="#ffffff"/><stop offset=".58" stop-color="#aeae66"/><stop offset="1.00" stop-color="#404024"/></linearGradient>
<linearGradient id="q253"><stop offset=".00" stop-color="#747440"/><stop offset=".07" stop-color="#9c9c56"/><stop offset=".38" stop-color="#bcbc74"/><stop offset="1.00" stop-color="#404024"/></linearGradient>
<linearGradient id="q254"><stop offset=".00" stop-color="#626238"/><stop offset=".07" stop-color="#8a8a4c"/><stop offset=".31" stop-color="#969654"/><stop offset="1.00" stop-color="#404024"/></linearGradient>
<linearGradient id="q255"><stop offset=".00" stop-color="#54542e"/><stop offset=".07" stop-color="#787844"/><stop offset=".31" stop-color="#84844a"/><stop offset="1.00" stop-color="#404024"/></linearGradient>
<linearGradient id="q256"><stop offset=".00" stop-color="#484828"/><stop offset=".07" stop-color="#6c6c3c"/><stop offset=".27" stop-color="#767642"/><stop offset="1.00" stop-color="#404024"/></linearGradient>
<linearGradient id="q257"><stop offset=".00" stop-color="#4a4a2a"/><stop offset=".07" stop-color="#6c6c3c"/><stop offset=".27" stop-color="#787842"/><stop offset="1.00" stop-color="#404024"/></linearGradient>
<linearGradient id="q258"><stop offset=".00" stop-color="#186e80"/><stop offset=".42" stop-color="#a2ffff"/><stop offset=".58" stop-color="#248ea4"/><stop offset="1.00" stop-color="#0c3840"/></linearGradient>
<clipPath id="c11"><path d="M554.30,32.00 L555.53,32.19 L556.02,32.38 L556.38,32.56 L556.68,32.75 L556.93,32.94 L557.14,33.12 L557.34,33.31 L557.51,33.50 L557.66,33.69 L557.79,33.88 L557.91,34.06 L558.02,34.25 L558.12,34.44 L558.21,34.62 L558.29,34.81 L558.35,35.00 L558.41,35.19 L558.46,35.38 L558.51,35.56 L558.54,35.75 L558.57,35.94 L558.59,36.12 L558.60,36.31 L558.60,36.50 L558.59,36.78 L558.57,37.07 L558.53,37.35 L558.47,37.63 L558.40,37.92 L558.31,38.20 L558.20,38.48 L558.08,38.77 L557.95,39.05 L557.80,39.33 L557.64,39.62 L557.47,39.90 L557.29,40.18 L557.10,40.47 L556.90,40.75 L556.69,41.03 L556.48,41.32 L556.27,41.60 L556.06,41.88 L555.85,42.17 L555.65,42.45 L555.46,42.73 L555.30,43.02 L555.20,43.30 L555.30,43.32 L555.43,43.63 L555.58,43.95 L555.74,44.27 L555.89,44.58 L556.05,44.90 L556.21,45.22 L556.36,45.53 L556.51,45.85 L556.66,46.17 L556.79,46.48 L556.92,46.80 L557.04,47.12 L557.15,47.43 L557.25,47.75 L557.35,48.07 L557.43,48.38 L557.50,48.70 L557.56,49.02 L557.61,49.33 L557.65,49.65 L557.68,49.97 L557.69,50.28 L557.70,50.60 L557.69,50.93 L557.68,51.25 L557.65,51.58 L557.61,51.90 L557.56,52.23 L557.50,52.55 L557.43,52.88 L557.35,53.20 L557.25,53.52 L557.15,53.85 L557.04,54.17 L556.92,54.50 L556.79,54.83 L556.66,55.15 L556.51,55.48 L556.36,55.80 L556.21,56.12 L556.05,56.45 L555.89,56.77 L555.74,57.10 L555.58,57.42 L555.43,57.75 L555.30,58.07 L555.20,58.40 L555.43,58.65 L555.58,58.93 L555.74,59.20 L555.89,59.48 L556.05,59.75 L556.21,60.02 L556.36,60.30 L556.51,60.58 L556.66,60.85 L556.79,61.12 L556.92,61.40 L557.04,61.68 L557.15,61.95 L557.25,62.23 L557.35,62.50 L557.43,62.78 L557.50,63.05 L557.56,63.33 L557.61,63.60 L557.65,63.88 L557.68,64.15 L557.69,64.42 L557.70,64.70 L557.70,65.01 L557.68,65.33 L557.66,65.64 L557.62,65.95 L557.58,66.26 L557.52,66.58 L557.46,66.89 L557.38,67.20 L557.30,67.51 L557.21,67.83 L557.11,68.14 L557.00,68.45 L556.88,68.76 L556.76,69.08 L556.62,69.39 L556.49,69.70 L556.34,70.01 L556.19,70.33 L556.04,70.64 L555.88,70.95 L555.72,71.26 L555.57,71.58 L555.42,71.89 L555.30,72.20 L555.60,75.00 L553.00,75.00 L553.30,72.20 L553.18,71.89 L553.03,71.58 L552.88,71.26 L552.72,70.95 L552.56,70.64 L552.41,70.33 L552.26,70.01 L552.11,69.70 L551.98,69.39 L551.84,69.08 L551.72,68.76 L551.60,68.45 L551.49,68.14 L551.39,67.83 L551.30,67.51 L551.22,67.20 L551.14,66.89 L551.08,66.58 L551.02,66.26 L550.98,65.95 L550.94,65.64 L550.92,65.33 L550.90,65.01 L550.90,64.70 L550.91,64.42 L550.92,64.15 L550.95,63.88 L550.99,63.60 L551.04,63.33 L551.10,63.05 L551.17,62.78 L551.25,62.50 L551.35,62.23 L551.45,61.95 L551.56,61.68 L551.68,61.40 L551.81,61.12 L551.94,60.85 L552.09,60.58 L552.24,60.30 L552.39,60.02 L552.55,59.75 L552.71,59.48 L552.86,59.20 L553.02,58.93 L553.17,58.65 L553.40,58.40 L553.30,58.07 L553.17,57.75 L553.02,57.42 L552.86,57.10 L552.71,56.77 L552.55,56.45 L552.39,56.12 L552.24,55.80 L552.09,55.48 L551.94,55.15 L551.81,54.83 L551.68,54.50 L551.56,54.17 L551.45,53.85 L551.35,53.52 L551.25,53.20 L551.17,52.88 L551.10,52.55 L551.04,52.23 L550.99,51.90 L550.95,51.58 L550.92,51.25 L550.91,50.93 L550.90,50.60 L550.91,50.28 L550.92,49.97 L550.95,49.65 L550.99,49.33 L551.04,49.02 L551.10,48.70 L551.17,48.38 L551.25,48.07 L551.35,47.75 L551.45,47.43 L551.56,47.12 L551.68,46.80 L551.81,46.48 L551.94,46.17 L552.09,45.85 L552.24,45.53 L552.39,45.22 L552.55,44.90 L552.71,44.58 L552.86,44.27 L553.02,43.95 L553.17,43.63 L553.30,43.32 L553.40,43.30 L553.30,43.02 L553.14,42.73 L552.95,42.45 L552.75,42.17 L552.54,41.88 L552.33,41.60 L552.12,41.32 L551.91,41.03 L551.70,40.75 L551.50,40.47 L551.31,40.18 L551.13,39.90 L550.96,39.62 L550.80,39.33 L550.65,39.05 L550.52,38.77 L550.40,38.48 L550.29,38.20 L550.20,37.92 L550.13,37.63 L550.07,37.35 L550.03,37.07 L550.01,36.78 L550.00,36.50 L550.00,36.31 L550.01,36.12 L550.03,35.94 L550.06,35.75 L550.09,35.56 L550.14,35.38 L550.19,35.19 L550.25,35.00 L550.31,34.81 L550.39,34.62 L550.48,34.44 L550.58,34.25 L550.69,34.06 L550.81,33.88 L550.94,33.69 L551.09,33.50 L551.26,33.31 L551.46,33.12 L551.67,32.94 L551.92,32.75 L552.22,32.56 L552.58,32.38 L553.07,32.19 L554.30,32.00Z"/></clipPath>
<linearGradient id="q259"><stop offset=".00" stop-color="#b49e52"/><stop offset=".50" stop-color="#d0b860"/><stop offset="1.00" stop-color="#685c30"/></linearGradient>
<linearGradient id="q260"><stop offset=".00" stop-color="#a08e4a"/><stop offset=".42" stop-color="#ffffff"/><stop offset=".58" stop-color="#d2ba68"/><stop offset="1.00" stop-color="#4c4222"/></linearGradient>
<linearGradient id="q261"><stop offset=".00" stop-color="#7e703a"/><stop offset=".10" stop-color="#b29c52"/><stop offset=".35" stop-color="#bea85a"/><stop offset="1.00" stop-color="#4c4222"/></linearGradient>
<linearGradient id="q262"><stop offset=".00" stop-color="#5c522a"/><stop offset=".07" stop-color="#86763e"/><stop offset=".27" stop-color="#948244"/><stop offset="1.00" stop-color="#4c4222"/></linearGradient>
<linearGradient id="q263"><stop offset=".00" stop-color="#4c4222"/><stop offset=".07" stop-color="#706234"/><stop offset=".24" stop-color="#7c6c38"/><stop offset="1.00" stop-color="#4c4222"/></linearGradient>
<linearGradient id="q264"><stop offset=".00" stop-color="#726434"/><stop offset=".07" stop-color="#a08c4a"/><stop offset=".31" stop-color="#ae9850"/><stop offset="1.00" stop-color="#4c4222"/></linearGradient>
<linearGradient id="q265"><stop offset=".00" stop-color="#a8944e"/><stop offset=".38" stop-color="#fffffe"/><stop offset=".58" stop-color="#d4bc68"/><stop offset="1.00" stop-color="#4c4222"/></linearGradient>
<linearGradient id="q266"><stop offset=".00" stop-color="#a28e4a"/><stop offset=".42" stop-color="#ffffff"/><stop offset=".58" stop-color="#d4bc6a"/><stop offset="1.00" stop-color="#4c4222"/></linearGradient>
<linearGradient id="q267"><stop offset=".00" stop-color="#968446"/><stop offset=".38" stop-color="#fffffc"/><stop offset=".58" stop-color="#c0aa5c"/><stop offset="1.00" stop-color="#4c4222"/></linearGradient>
<linearGradient id="q268"><stop offset=".00" stop-color="#84743c"/><stop offset=".10" stop-color="#b8a254"/><stop offset=".38" stop-color="#ceb668"/><stop offset="1.00" stop-color="#4c4222"/></linearGradient>
<linearGradient id="q269"><stop offset=".00" stop-color="#726434"/><stop offset=".07" stop-color="#9e8c4a"/><stop offset=".31" stop-color="#ac9850"/><stop offset="1.00" stop-color="#4c4222"/></linearGradient>
<linearGradient id="q270"><stop offset=".00" stop-color="#62562e"/><stop offset=".07" stop-color="#8e7c40"/><stop offset=".31" stop-color="#9a8846"/><stop offset="1.00" stop-color="#4c4222"/></linearGradient>
<linearGradient id="q271"><stop offset=".00" stop-color="#ac9850"/><stop offset=".42" stop-color="#ffffac"/><stop offset=".58" stop-color="#d2b864"/><stop offset="1.00" stop-color="#4c4222"/></linearGradient>
<linearGradient id="q272"><stop offset=".00" stop-color="#a8944e"/><stop offset=".38" stop-color="#ffffff"/><stop offset=".58" stop-color="#d4bc6a"/><stop offset="1.00" stop-color="#4c4222"/></linearGradient>
<linearGradient id="q273"><stop offset=".00" stop-color="#9a8848"/><stop offset=".42" stop-color="#ffffff"/><stop offset=".58" stop-color="#c8b262"/><stop offset="1.00" stop-color="#4c4222"/></linearGradient>
<linearGradient id="q274"><stop offset=".00" stop-color="#86763e"/><stop offset=".07" stop-color="#b49e52"/><stop offset=".38" stop-color="#d2bc6c"/><stop offset="1.00" stop-color="#4c4222"/></linearGradient>
<linearGradient id="q275"><stop offset=".00" stop-color="#746634"/><stop offset=".07" stop-color="#a08e4a"/><stop offset=".31" stop-color="#ae9a50"/><stop offset="1.00" stop-color="#4c4222"/></linearGradient>
<linearGradient id="q276"><stop offset=".00" stop-color="#64582e"/><stop offset=".07" stop-color="#8e7e42"/><stop offset=".31" stop-color="#9c8848"/><stop offset="1.00" stop-color="#4c4222"/></linearGradient>
<linearGradient id="q277"><stop offset=".00" stop-color="#5c502a"/><stop offset=".07" stop-color="#84743e"/><stop offset=".27" stop-color="#928044"/><stop offset="1.00" stop-color="#4c4222"/></linearGradient>
<linearGradient id="q278"><stop offset=".00" stop-color="#186c7c"/><stop offset=".38" stop-color="#82f8ff"/><stop offset=".58" stop-color="#20889e"/><stop offset="1.00" stop-color="#0c3840"/></linearGradient>
<clipPath id="c12"><path d="M33.90,399.40 L38.07,400.18 L39.79,400.97 L41.10,401.75 L42.20,402.53 L43.16,403.31 L44.03,404.10 L44.83,404.88 L45.56,405.66 L46.25,406.44 L46.89,407.23 L47.51,408.01 L48.09,408.79 L48.64,409.57 L49.17,410.36 L49.68,411.14 L50.17,411.92 L50.64,412.70 L51.09,413.49 L51.53,414.27 L51.96,415.05 L52.37,415.83 L52.77,416.62 L53.16,417.40 L53.53,418.18 L53.90,418.96 L54.26,419.75 L54.60,420.53 L54.94,421.31 L55.27,422.09 L55.59,422.88 L55.91,423.66 L56.21,424.44 L56.51,425.22 L56.81,426.00 L57.09,426.79 L57.37,427.57 L57.64,428.35 L57.91,429.13 L58.17,429.92 L58.42,430.70 L58.67,431.48 L58.91,432.26 L59.15,433.05 L59.38,433.83 L59.61,434.61 L59.83,435.39 L60.05,436.18 L60.26,436.96 L60.47,437.74 L60.67,438.52 L60.87,439.31 L61.06,440.09 L61.25,440.87 L61.43,441.65 L61.61,442.44 L61.78,443.22 L61.95,444.00 L62.12,444.78 L62.27,445.57 L62.43,446.35 L62.58,447.13 L62.73,447.92 L62.87,448.70 L63.00,449.48 L63.14,450.26 L63.26,451.05 L63.38,451.83 L63.50,452.61 L63.61,453.39 L63.72,454.18 L63.82,454.96 L63.91,455.74 L64.00,456.52 L64.09,457.31 L64.16,458.09 L64.23,458.87 L64.29,459.65 L64.34,460.44 L64.38,461.22 L64.40,462.00 L64.40,462.45 L64.39,462.89 L64.38,463.34 L64.36,463.79 L64.34,464.23 L64.31,464.68 L64.28,465.12 L64.25,465.57 L64.21,466.02 L64.16,466.46 L64.11,466.91 L64.05,467.36 L63.99,467.80 L63.93,468.25 L63.86,468.69 L63.78,469.14 L63.70,469.59 L63.62,470.03 L63.53,470.48 L63.43,470.93 L63.33,471.37 L63.22,471.82 L63.11,472.26 L63.00,472.71 L62.87,473.16 L62.74,473.60 L62.61,474.05 L62.47,474.50 L62.33,474.94 L62.17,475.39 L62.02,475.83 L61.85,476.28 L61.68,476.73 L61.51,477.17 L61.33,477.62 L61.14,478.06 L60.94,478.51 L60.74,478.96 L60.53,479.40 L60.31,479.85 L60.09,480.30 L59.86,480.74 L59.62,481.19 L59.37,481.63 L59.12,482.08 L58.85,482.53 L58.58,482.97 L58.30,483.42 L58.01,483.87 L57.71,484.31 L57.40,484.76 L57.08,485.20 L56.75,485.65 L56.40,486.10 L56.05,486.54 L55.68,486.99 L55.30,487.44 L54.91,487.88 L54.50,488.33 L54.07,488.77 L53.63,489.22 L53.17,489.67 L52.70,490.11 L52.20,490.56 L51.68,491.01 L51.14,491.45 L50.57,491.90 L49.97,492.35 L49.33,492.79 L48.67,493.24 L47.95,493.68 L47.19,494.13 L46.38,494.58 L45.49,495.02 L44.51,495.47 L43.42,495.92 L42.17,496.36 L40.68,496.81 L38.71,497.25 L33.90,497.70 L33.90,497.70 L29.09,497.25 L27.12,496.81 L25.63,496.36 L24.38,495.92 L23.29,495.47 L22.31,495.02 L21.42,494.58 L20.61,494.13 L19.85,493.68 L19.13,493.24 L18.47,492.79 L17.83,492.35 L17.23,491.90 L16.66,491.45 L16.12,491.01 L15.60,490.56 L15.10,490.11 L14.63,489.67 L14.17,489.22 L13.73,488.77 L13.30,488.33 L12.89,487.88 L12.50,487.44 L12.12,486.99 L11.75,486.54 L11.40,486.10 L11.05,485.65 L10.72,485.20 L10.40,484.76 L10.09,484.31 L9.79,483.87 L9.50,483.42 L9.22,482.97 L8.95,482.53 L8.68,482.08 L8.43,481.63 L8.18,481.19 L7.94,480.74 L7.71,480.30 L7.49,479.85 L7.27,479.40 L7.06,478.96 L6.86,478.51 L6.66,478.06 L6.47,477.62 L6.29,477.17 L6.12,476.73 L5.95,476.28 L5.78,475.83 L5.63,475.39 L5.47,474.94 L5.33,474.50 L5.19,474.05 L5.06,473.60 L4.93,473.16 L4.80,472.71 L4.69,472.26 L4.58,471.82 L4.47,471.37 L4.37,470.93 L4.27,470.48 L4.18,470.03 L4.10,469.59 L4.02,469.14 L3.94,468.69 L3.87,468.25 L3.81,467.80 L3.75,467.36 L3.69,466.91 L3.64,466.46 L3.59,466.02 L3.55,465.57 L3.52,465.12 L3.49,464.68 L3.46,464.23 L3.44,463.79 L3.42,463.34 L3.41,462.89 L3.40,462.45 L3.40,462.00 L3.42,461.22 L3.46,460.44 L3.51,459.65 L3.57,458.87 L3.64,458.09 L3.71,457.31 L3.80,456.52 L3.89,455.74 L3.98,454.96 L4.08,454.18 L4.19,453.39 L4.30,452.61 L4.42,451.83 L4.54,451.05 L4.66,450.26 L4.80,449.48 L4.93,448.70 L5.07,447.92 L5.22,447.13 L5.37,446.35 L5.53,445.57 L5.68,444.78 L5.85,444.00 L6.02,443.22 L6.19,442.44 L6.37,441.65 L6.55,440.87 L6.74,440.09 L6.93,439.31 L7.13,438.52 L7.33,437.74 L7.54,436.96 L7.75,436.18 L7.97,435.39 L8.19,434.61 L8.42,433.83 L8.65,433.05 L8.89,432.26 L9.13,431.48 L9.38,430.70 L9.63,429.92 L9.89,429.13 L10.16,428.35 L10.43,427.57 L10.71,426.79 L10.99,426.00 L11.29,425.22 L11.59,424.44 L11.89,423.66 L12.21,422.88 L12.53,422.09 L12.86,421.31 L13.20,420.53 L13.54,419.75 L13.90,418.96 L14.27,418.18 L14.64,417.40 L15.03,416.62 L15.43,415.83 L15.84,415.05 L16.27,414.27 L16.71,413.49 L17.16,412.70 L17.63,411.92 L18.12,411.14 L18.63,410.36 L19.16,409.57 L19.71,408.79 L20.29,408.01 L20.91,407.23 L21.55,406.44 L22.24,405.66 L22.97,404.88 L23.77,404.10 L24.64,403.31 L25.60,402.53 L26.70,401.75 L28.01,400.97 L29.73,400.18 L33.90,399.40Z"/></clipPath>
<linearGradient id="q279"><stop offset=".00" stop-color="#9c803c"/><stop offset=".50" stop-color="#a48840"/><stop offset="1.00" stop-color="#826c32"/></linearGradient>
<linearGradient id="q280"><stop offset=".00" stop-color="#9e8842"/><stop offset=".15" stop-color="#baa04e"/><stop offset=".50" stop-color="#b49a4c"/><stop offset=".85" stop-color="#907c3c"/><stop offset="1.00" stop-color="#625428"/></linearGradient>
<linearGradient id="q281"><stop offset=".00" stop-color="#988844"/><stop offset=".02" stop-color="#aa984c"/><stop offset=".12" stop-color="#b8a452"/><stop offset=".46" stop-color="#b6a252"/><stop offset=".85" stop-color="#887a3c"/><stop offset=".96" stop-color="#6c6030"/><stop offset="1.00" stop-color="#524a24"/></linearGradient>
<linearGradient id="q282"><stop offset=".00" stop-color="#8e8848"/><stop offset=".02" stop-color="#a09a52"/><stop offset=".10" stop-color="#aca658"/><stop offset=".42" stop-color="#b4ae60"/><stop offset=".85" stop-color="#7c7840"/><stop offset=".96" stop-color="#605c30"/><stop offset=".99" stop-color="#4e4c28"/><stop offset="1.00" stop-color="#444224"/></linearGradient>
<linearGradient id="q283"><stop offset=".00" stop-color="#82884c"/><stop offset=".01" stop-color="#909654"/><stop offset=".07" stop-color="#9ea45c"/><stop offset=".24" stop-color="#aab064"/><stop offset=".35" stop-color="#b8c074"/><stop offset=".42" stop-color="#b8c076"/><stop offset=".58" stop-color="#9aa05a"/><stop offset=".88" stop-color="#6c703e"/><stop offset=".98" stop-color="#50522e"/><stop offset=".99" stop-color="#444828"/><stop offset="1.00" stop-color="#3a3c22"/></linearGradient>
<linearGradient id="q284"><stop offset=".00" stop-color="#788850"/><stop offset=".01" stop-color="#849658"/><stop offset=".04" stop-color="#8c9e5e"/><stop offset=".24" stop-color="#a2b66e"/><stop offset=".38" stop-color="#c8de96"/><stop offset=".42" stop-color="#c6da94"/><stop offset=".58" stop-color="#90a262"/><stop offset=".90" stop-color="#5c683e"/><stop offset=".98" stop-color="#465030"/><stop offset="1.00" stop-color="#343a22"/></linearGradient>
<linearGradient id="q285"><stop offset=".00" stop-color="#688858"/><stop offset=".01" stop-color="#749662"/><stop offset=".05" stop-color="#7ea46a"/><stop offset=".24" stop-color="#94bc7e"/><stop offset=".35" stop-color="#caf2b6"/><stop offset=".38" stop-color="#d4fcc0"/><stop offset=".42" stop-color="#d0f6bc"/><stop offset=".58" stop-color="#82a670"/><stop offset=".88" stop-color="#546e48"/><stop offset=".96" stop-color="#405436"/><stop offset="1.00" stop-color="#2e3a26"/></linearGradient>
<linearGradient id="q286"><stop offset=".00" stop-color="#5a8860"/><stop offset=".04" stop-color="#6aa072"/><stop offset=".24" stop-color="#88c290"/><stop offset=".31" stop-color="#baf6c2"/><stop offset=".38" stop-color="#e4ffec"/><stop offset=".42" stop-color="#dcffe4"/><stop offset=".46" stop-color="#c2fccc"/><stop offset=".58" stop-color="#74aa7c"/><stop offset=".88" stop-color="#486c4e"/><stop offset="1.00" stop-color="#283c2a"/></linearGradient>
<linearGradient id="q287"><stop offset=".00" stop-color="#4c8668"/><stop offset=".04" stop-color="#5aa07c"/><stop offset=".21" stop-color="#6cba92"/><stop offset=".31" stop-color="#baffe0"/><stop offset=".35" stop-color="#dcffff"/><stop offset=".38" stop-color="#eeffff"/><stop offset=".46" stop-color="#c4ffea"/><stop offset=".58" stop-color="#66ac88"/><stop offset=".88" stop-color="#3c6c54"/><stop offset="1.00" stop-color="#223c2e"/></linearGradient>
<linearGradient id="q288"><stop offset=".00" stop-color="#408672"/><stop offset=".04" stop-color="#4ca088"/><stop offset=".21" stop-color="#5cbaa2"/><stop offset=".31" stop-color="#bcffff"/><stop offset=".38" stop-color="#f8ffff"/><stop offset=".46" stop-color="#c6ffff"/><stop offset=".58" stop-color="#58ac96"/><stop offset="1.00" stop-color="#1c3c34"/></linearGradient>
<linearGradient id="q289"><stop offset=".00" stop-color="#32847c"/><stop offset=".04" stop-color="#3c9e96"/><stop offset=".21" stop-color="#4ebab0"/><stop offset=".31" stop-color="#baffff"/><stop offset=".38" stop-color="#fcffff"/><stop offset=".42" stop-color="#eeffff"/><stop offset=".50" stop-color="#90f6ee"/><stop offset=".58" stop-color="#4caca4"/><stop offset="1.00" stop-color="#163c38"/></linearGradient>
<linearGradient id="q290"><stop offset=".00" stop-color="#268286"/><stop offset=".04" stop-color="#2e9ca2"/><stop offset=".21" stop-color="#40bac0"/><stop offset=".27" stop-color="#80faff"/><stop offset=".35" stop-color="#e8ffff"/><stop offset=".38" stop-color="#feffff"/><stop offset=".42" stop-color="#eeffff"/><stop offset=".50" stop-color="#88faff"/><stop offset=".58" stop-color="#3eacb0"/><stop offset=".88" stop-color="#1e666a"/><stop offset="1.00" stop-color="#123c3e"/></linearGradient>
<linearGradient id="q291"><stop offset=".00" stop-color="#20828a"/><stop offset=".04" stop-color="#269ca6"/><stop offset=".21" stop-color="#38bac8"/><stop offset=".27" stop-color="#7cfeff"/><stop offset=".35" stop-color="#eaffff"/><stop offset=".38" stop-color="#ffffff"/><stop offset=".42" stop-color="#f0ffff"/><stop offset=".50" stop-color="#84feff"/><stop offset=".58" stop-color="#36acb6"/><stop offset=".88" stop-color="#1a666c"/><stop offset="1.00" stop-color="#0e3c40"/></linearGradient>
<linearGradient id="q292"><stop offset=".00" stop-color="#20808a"/><stop offset=".04" stop-color="#269aa6"/><stop offset=".21" stop-color="#38bac6"/><stop offset=".27" stop-color="#7effff"/><stop offset=".35" stop-color="#f2ffff"/><stop offset=".38" stop-color="#ffffff"/><stop offset=".42" stop-color="#f6ffff"/><stop offset=".50" stop-color="#84feff"/><stop offset=".58" stop-color="#36aab6"/><stop offset="1.00" stop-color="#0e3c40"/></linearGradient>
<linearGradient id="q293"><stop offset=".00" stop-color="#1e7e88"/><stop offset=".04" stop-color="#249aa6"/><stop offset=".21" stop-color="#36bac6"/><stop offset=".27" stop-color="#80ffff"/><stop offset=".35" stop-color="#f4ffff"/><stop offset=".38" stop-color="#ffffff"/><stop offset=".42" stop-color="#f8ffff"/><stop offset=".50" stop-color="#84feff"/><stop offset=".58" stop-color="#34a8b4"/><stop offset="1.00" stop-color="#0e3c40"/></linearGradient>
<linearGradient id="q294"><stop offset=".00" stop-color="#1e7e88"/><stop offset=".04" stop-color="#2498a4"/><stop offset=".21" stop-color="#36bac6"/><stop offset=".27" stop-color="#80ffff"/><stop offset=".35" stop-color="#f6ffff"/><stop offset=".38" stop-color="#ffffff"/><stop offset=".42" stop-color="#f8ffff"/><stop offset=".50" stop-color="#82fcff"/><stop offset=".58" stop-color="#32a8b2"/><stop offset="1.00" stop-color="#0e3c40"/></linearGradient>
<linearGradient id="q295"><stop offset=".00" stop-color="#1c7c86"/><stop offset=".04" stop-color="#2298a4"/><stop offset=".21" stop-color="#34b8c6"/><stop offset=".27" stop-color="#7effff"/><stop offset=".35" stop-color="#f4ffff"/><stop offset=".38" stop-color="#ffffff"/><stop offset=".42" stop-color="#f4ffff"/><stop offset=".50" stop-color="#7efaff"/><stop offset=".58" stop-color="#32a6b2"/><stop offset="1.00" stop-color="#0e3a40"/></linearGradient>
<linearGradient id="q296"><stop offset=".00" stop-color="#1c7c86"/><stop offset=".04" stop-color="#2298a4"/><stop offset=".21" stop-color="#34b8c4"/><stop offset=".27" stop-color="#7effff"/><stop offset=".35" stop-color="#f2ffff"/><stop offset=".38" stop-color="#ffffff"/><stop offset=".42" stop-color="#f0ffff"/><stop offset=".50" stop-color="#7af6ff"/><stop offset=".58" stop-color="#30a4b0"/><stop offset="1.00" stop-color="#0e3a40"/></linearGradient>
<linearGradient id="q297"><stop offset=".00" stop-color="#1a7a84"/><stop offset=".04" stop-color="#2096a2"/><stop offset=".21" stop-color="#32b6c4"/><stop offset=".27" stop-color="#7afeff"/><stop offset=".35" stop-color="#ecffff"/><stop offset=".38" stop-color="#ffffff"/><stop offset=".42" stop-color="#eaffff"/><stop offset=".50" stop-color="#76f2fe"/><stop offset=".58" stop-color="#2ea2ae"/><stop offset="1.00" stop-color="#0c3a40"/></linearGradient>
<linearGradient id="q298"><stop offset=".00" stop-color="#1a7a84"/><stop offset=".04" stop-color="#2096a2"/><stop offset=".21" stop-color="#30b6c2"/><stop offset=".27" stop-color="#78fcff"/><stop offset=".35" stop-color="#e6ffff"/><stop offset=".38" stop-color="#f8ffff"/><stop offset=".42" stop-color="#e2ffff"/><stop offset=".50" stop-color="#72ecfa"/><stop offset=".58" stop-color="#2ca0ac"/><stop offset="1.00" stop-color="#0c3a40"/></linearGradient>
<linearGradient id="q299"><stop offset=".00" stop-color="#1a7884"/><stop offset=".04" stop-color="#1e94a0"/><stop offset=".21" stop-color="#30b4c2"/><stop offset=".27" stop-color="#74f8ff"/><stop offset=".35" stop-color="#deffff"/><stop offset=".38" stop-color="#f0ffff"/><stop offset=".42" stop-color="#d8ffff"/><stop offset=".46" stop-color="#a4ffff"/><stop offset=".50" stop-color="#6ce8f4"/><stop offset=".58" stop-color="#2a9eac"/><stop offset="1.00" stop-color="#0c3a40"/></linearGradient>
<linearGradient id="q300"><stop offset=".00" stop-color="#187882"/><stop offset=".04" stop-color="#1e94a0"/><stop offset=".21" stop-color="#2eb2c0"/><stop offset=".27" stop-color="#6ef4ff"/><stop offset=".35" stop-color="#d4ffff"/><stop offset=".38" stop-color="#e6ffff"/><stop offset=".42" stop-color="#ceffff"/><stop offset=".46" stop-color="#9cffff"/><stop offset=".50" stop-color="#66e2f0"/><stop offset=".54" stop-color="#3eb6c4"/><stop offset=".58" stop-color="#289caa"/><stop offset="1.00" stop-color="#0c3a40"/></linearGradient>
<linearGradient id="q301"><stop offset=".00" stop-color="#187682"/><stop offset=".04" stop-color="#1c92a0"/><stop offset=".21" stop-color="#2cb0c0"/><stop offset=".27" stop-color="#6af0fe"/><stop offset=".35" stop-color="#caffff"/><stop offset=".38" stop-color="#daffff"/><stop offset=".42" stop-color="#c4ffff"/><stop offset=".46" stop-color="#94ffff"/><stop offset=".50" stop-color="#60dcea"/><stop offset=".54" stop-color="#3ab2c0"/><stop offset=".58" stop-color="#269aa8"/><stop offset="1.00" stop-color="#0c3a40"/></linearGradient>
<linearGradient id="q302"><stop offset=".00" stop-color="#167680"/><stop offset=".04" stop-color="#1c929e"/><stop offset=".21" stop-color="#2ab0be"/><stop offset=".27" stop-color="#64eaf8"/><stop offset=".31" stop-color="#96ffff"/><stop offset=".35" stop-color="#c0ffff"/><stop offset=".38" stop-color="#ceffff"/><stop offset=".42" stop-color="#b8ffff"/><stop offset=".46" stop-color="#8affff"/><stop offset=".54" stop-color="#36b0bc"/><stop offset=".58" stop-color="#2498a6"/><stop offset="1.00" stop-color="#0c3a40"/></linearGradient>
<linearGradient id="q303"><stop offset=".00" stop-color="#167480"/><stop offset=".04" stop-color="#1a909e"/><stop offset=".21" stop-color="#28aebc"/><stop offset=".24" stop-color="#3cc2d0"/><stop offset=".27" stop-color="#60e4f4"/><stop offset=".31" stop-color="#8cffff"/><stop offset=".35" stop-color="#b4ffff"/><stop offset=".38" stop-color="#c0ffff"/><stop offset=".46" stop-color="#82ffff"/><stop offset=".54" stop-color="#34acba"/><stop offset=".58" stop-color="#2298a4"/><stop offset="1.00" stop-color="#0a3a40"/></linearGradient>
<linearGradient id="q304"><stop offset=".00" stop-color="#14747e"/><stop offset=".04" stop-color="#1a909c"/><stop offset=".21" stop-color="#26acba"/><stop offset=".24" stop-color="#38becc"/><stop offset=".31" stop-color="#82ffff"/><stop offset=".35" stop-color="#a6ffff"/><stop offset=".38" stop-color="#b2ffff"/><stop offset=".42" stop-color="#9effff"/><stop offset=".46" stop-color="#76f6ff"/><stop offset=".54" stop-color="#30a8b6"/><stop offset=".58" stop-color="#2094a2"/><stop offset="1.00" stop-color="#0a3a40"/></linearGradient>
<linearGradient id="q305"><stop offset=".00" stop-color="#16727c"/><stop offset=".04" stop-color="#1a8e9a"/><stop offset=".21" stop-color="#26aab8"/><stop offset=".31" stop-color="#7cfeff"/><stop offset=".35" stop-color="#9cffff"/><stop offset=".38" stop-color="#a6ffff"/><stop offset=".42" stop-color="#94ffff"/><stop offset=".46" stop-color="#6eecf8"/><stop offset=".50" stop-color="#48c2ce"/><stop offset=".58" stop-color="#20949e"/><stop offset="1.00" stop-color="#0a3a40"/></linearGradient>
<linearGradient id="q306"><stop offset=".00" stop-color="#16727a"/><stop offset=".01" stop-color="#1a848e"/><stop offset=".05" stop-color="#1c929c"/><stop offset=".21" stop-color="#26a8b4"/><stop offset=".24" stop-color="#34b6c2"/><stop offset=".31" stop-color="#72f4ff"/><stop offset=".35" stop-color="#8effff"/><stop offset=".38" stop-color="#98ffff"/><stop offset=".42" stop-color="#86ffff"/><stop offset=".50" stop-color="#44bcc6"/><stop offset=".58" stop-color="#20929c"/><stop offset="1.00" stop-color="#0c3a3e"/></linearGradient>
<linearGradient id="q307"><stop offset=".00" stop-color="#167078"/><stop offset=".01" stop-color="#1a828a"/><stop offset=".05" stop-color="#1e909a"/><stop offset=".21" stop-color="#26a6b0"/><stop offset=".31" stop-color="#68e8f2"/><stop offset=".35" stop-color="#82ffff"/><stop offset=".38" stop-color="#88ffff"/><stop offset=".42" stop-color="#7af4fe"/><stop offset=".50" stop-color="#3eb4be"/><stop offset=".58" stop-color="#209098"/><stop offset="1.00" stop-color="#0c3a3e"/></linearGradient>
<linearGradient id="q308"><stop offset=".00" stop-color="#187076"/><stop offset=".01" stop-color="#1a8088"/><stop offset=".05" stop-color="#1e9098"/><stop offset=".21" stop-color="#26a4ac"/><stop offset=".35" stop-color="#72eef6"/><stop offset=".38" stop-color="#78f2fa"/><stop offset=".50" stop-color="#38acb4"/><stop offset=".58" stop-color="#208c94"/><stop offset=".79" stop-color="#16666c"/><stop offset=".95" stop-color="#0c3c3e"/><stop offset="1.00" stop-color="#0c3a3e"/></linearGradient>
<linearGradient id="q309"><stop offset=".00" stop-color="#186e72"/><stop offset=".01" stop-color="#1c8086"/><stop offset=".05" stop-color="#1e8e94"/><stop offset=".21" stop-color="#26a0a8"/><stop offset=".35" stop-color="#60dae2"/><stop offset=".38" stop-color="#64dce4"/><stop offset=".50" stop-color="#32a4aa"/><stop offset=".58" stop-color="#208a90"/><stop offset=".79" stop-color="#16666a"/><stop offset=".95" stop-color="#0c3a3c"/><stop offset="1.00" stop-color="#0c3a3c"/></linearGradient>
<linearGradient id="q310"><stop offset=".00" stop-color="#186a6e"/><stop offset=".01" stop-color="#1c7c80"/><stop offset=".05" stop-color="#1e8a8e"/><stop offset=".21" stop-color="#249aa0"/><stop offset=".35" stop-color="#44babe"/><stop offset=".38" stop-color="#44b8be"/><stop offset=".54" stop-color="#228c92"/><stop offset=".76" stop-color="#18686c"/><stop offset=".95" stop-color="#0c3a3c"/><stop offset="1.00" stop-color="#0c3a3c"/></linearGradient>
<linearGradient id="q311"><stop offset=".00" stop-color="#186668"/><stop offset=".01" stop-color="#1c787a"/><stop offset=".07" stop-color="#208a8e"/><stop offset=".38" stop-color="#30a0a4"/><stop offset=".54" stop-color="#20868a"/><stop offset=".76" stop-color="#166466"/><stop offset=".93" stop-color="#0e3a3c"/><stop offset="1.00" stop-color="#0e3a3c"/></linearGradient>
<linearGradient id="q312"><stop offset=".00" stop-color="#186264"/><stop offset=".01" stop-color="#1a6e70"/><stop offset=".02" stop-color="#1c7a7c"/><stop offset=".10" stop-color="#208a8c"/><stop offset=".35" stop-color="#289698"/><stop offset=".69" stop-color="#1a6c70"/><stop offset=".93" stop-color="#0e3a3a"/><stop offset="1.00" stop-color="#0e3a3a"/></linearGradient>
<linearGradient id="q313"><stop offset=".00" stop-color="#165e60"/><stop offset=".01" stop-color="#1a6a6c"/><stop offset=".02" stop-color="#1c7676"/><stop offset=".10" stop-color="#208686"/><stop offset=".35" stop-color="#248e90"/><stop offset=".65" stop-color="#1a6e70"/><stop offset=".90" stop-color="#0e3a3a"/><stop offset="1.00" stop-color="#0e3a3a"/></linearGradient>
<linearGradient id="q314"><stop offset=".00" stop-color="#165a5a"/><stop offset=".01" stop-color="#1a6666"/><stop offset=".02" stop-color="#1c7272"/><stop offset=".10" stop-color="#208282"/><stop offset=".35" stop-color="#228888"/><stop offset=".65" stop-color="#1a6c6c"/><stop offset=".90" stop-color="#0e3a3a"/><stop offset="1.00" stop-color="#0e3a3a"/></linearGradient>
<linearGradient id="q315"><stop offset=".00" stop-color="#185656"/><stop offset=".01" stop-color="#1c6866"/><stop offset=".07" stop-color="#207a78"/><stop offset=".18" stop-color="#228280"/><stop offset=".31" stop-color="#248482"/><stop offset=".62" stop-color="#1c6c6a"/><stop offset=".88" stop-color="#103a3a"/><stop offset="1.00" stop-color="#103a38"/></linearGradient>
<linearGradient id="q316"><stop offset=".00" stop-color="#185250"/><stop offset=".01" stop-color="#1a5e5a"/><stop offset=".02" stop-color="#1e6864"/><stop offset=".07" stop-color="#207470"/><stop offset=".31" stop-color="#247e7a"/><stop offset=".62" stop-color="#1e6664"/><stop offset=".88" stop-color="#103838"/><stop offset="1.00" stop-color="#103838"/></linearGradient>
<linearGradient id="q317"><stop offset=".00" stop-color="#184e4a"/><stop offset=".01" stop-color="#1c5e5a"/><stop offset=".07" stop-color="#226e6a"/><stop offset=".31" stop-color="#247872"/><stop offset=".62" stop-color="#1e625c"/><stop offset=".85" stop-color="#123a36"/><stop offset="1.00" stop-color="#123836"/></linearGradient>
<linearGradient id="q318"><stop offset=".00" stop-color="#184844"/><stop offset=".01" stop-color="#1a544e"/><stop offset=".02" stop-color="#1e5e58"/><stop offset=".07" stop-color="#226862"/><stop offset=".31" stop-color="#24726c"/><stop offset=".58" stop-color="#1e605a"/><stop offset=".85" stop-color="#123834"/><stop offset="1.00" stop-color="#123834"/></linearGradient>
<linearGradient id="q319"><stop offset=".00" stop-color="#16443e"/><stop offset=".01" stop-color="#1c544c"/><stop offset=".07" stop-color="#22625a"/><stop offset=".27" stop-color="#246c64"/><stop offset=".54" stop-color="#205e56"/><stop offset=".82" stop-color="#123834"/><stop offset="1.00" stop-color="#123834"/></linearGradient>
<linearGradient id="q320"><stop offset=".00" stop-color="#163e38"/><stop offset=".01" stop-color="#1a4842"/><stop offset=".02" stop-color="#1e524a"/><stop offset=".07" stop-color="#205c54"/><stop offset=".27" stop-color="#24665c"/><stop offset=".54" stop-color="#205850"/><stop offset=".79" stop-color="#143832"/><stop offset="1.00" stop-color="#143832"/></linearGradient>
<linearGradient id="q321"><stop offset=".00" stop-color="#163832"/><stop offset=".01" stop-color="#1a4840"/><stop offset=".07" stop-color="#20564c"/><stop offset=".27" stop-color="#245e54"/><stop offset=".50" stop-color="#20544c"/><stop offset=".76" stop-color="#143832"/><stop offset="1.00" stop-color="#143630"/></linearGradient>
<linearGradient id="q322"><stop offset=".00" stop-color="#16362e"/><stop offset=".02" stop-color="#1c443a"/><stop offset=".07" stop-color="#204e44"/><stop offset=".24" stop-color="#22564a"/><stop offset=".46" stop-color="#205044"/><stop offset=".73" stop-color="#163630"/><stop offset="1.00" stop-color="#16362e"/></linearGradient>
<linearGradient id="q323"><stop offset=".00" stop-color="#16362c"/><stop offset=".10" stop-color="#1e483c"/><stop offset=".24" stop-color="#224e40"/><stop offset=".46" stop-color="#1e483c"/><stop offset=".69" stop-color="#16362c"/><stop offset="1.00" stop-color="#16362c"/></linearGradient>
<linearGradient id="q324"><stop offset=".00" stop-color="#18342a"/><stop offset=".24" stop-color="#1e4436"/><stop offset=".62" stop-color="#18342a"/><stop offset="1.00" stop-color="#18342a"/></linearGradient>
<linearGradient id="q325"><stop offset=".00" stop-color="#1a3428"/><stop offset="1.00" stop-color="#1a3428"/></linearGradient>
<linearGradient id="q326"><stop offset=".00" stop-color="#1a3426"/><stop offset="1.00" stop-color="#1a3426"/></linearGradient>
<linearGradient id="q327"><stop offset=".00" stop-color="#1c3424"/><stop offset="1.00" stop-color="#1c3424"/></linearGradient>
<radialGradient id="g13" cx="0.3350" cy="0.2675" r="0.7000" fx="0.3900" fy="0.3450"><stop offset="0.014" stop-color="#ffffff"/><stop offset="0.029" stop-color="#ffffff"/><stop offset="0.047" stop-color="#faffff"/><stop offset="0.069" stop-color="#e6ffff"/><stop offset="0.090" stop-color="#cfffff"/><stop offset="0.110" stop-color="#b2ffff"/><stop offset="0.130" stop-color="#9afefe"/><stop offset="0.150" stop-color="#81f7f5"/><stop offset="0.169" stop-color="#6ceae7"/><stop offset="0.189" stop-color="#5bdad6"/><stop offset="0.226" stop-color="#44c2be"/><stop offset="0.276" stop-color="#33afab"/><stop offset="0.326" stop-color="#2ba5a1"/><stop offset="0.375" stop-color="#289d99"/><stop offset="0.425" stop-color="#259490"/><stop offset="0.474" stop-color="#238c88"/><stop offset="0.524" stop-color="#218481"/><stop offset="0.575" stop-color="#1f7c79"/><stop offset="0.624" stop-color="#1d7370"/><stop offset="0.674" stop-color="#1b6a68"/><stop offset="0.724" stop-color="#18615f"/><stop offset="0.775" stop-color="#165755"/><stop offset="0.825" stop-color="#134d4b"/><stop offset="0.876" stop-color="#114241"/><stop offset="0.926" stop-color="#0f3c3b"/><stop offset="0.991" stop-color="#0f3c3a"/></radialGradient>
<clipPath id="c14"><path d="M104.50,406.30 L106.73,406.63 L107.62,406.96 L108.28,407.29 L108.81,407.62 L109.27,407.95 L109.66,408.27 L110.01,408.60 L110.31,408.93 L110.59,409.26 L110.84,409.59 L111.06,409.92 L111.25,410.25 L111.43,410.58 L111.59,410.91 L111.73,411.24 L111.85,411.57 L111.96,411.90 L112.05,412.23 L112.13,412.55 L112.19,412.88 L112.24,413.21 L112.27,413.54 L112.29,413.87 L112.30,414.20 L112.29,414.67 L112.25,415.14 L112.18,415.61 L112.09,416.08 L111.97,416.55 L111.83,417.02 L111.66,417.50 L111.46,417.97 L111.24,418.44 L110.99,418.91 L110.72,419.38 L110.43,419.85 L110.11,420.32 L109.77,420.79 L109.40,421.26 L109.01,421.73 L108.61,422.20 L108.18,422.68 L107.73,423.15 L107.27,423.62 L106.80,424.09 L106.32,424.56 L105.84,425.03 L105.40,425.50 L105.80,428.00 L103.20,428.00 L103.60,425.50 L103.16,425.03 L102.68,424.56 L102.20,424.09 L101.73,423.62 L101.27,423.15 L100.82,422.68 L100.39,422.20 L99.99,421.73 L99.60,421.26 L99.23,420.79 L98.89,420.32 L98.57,419.85 L98.28,419.38 L98.01,418.91 L97.76,418.44 L97.54,417.97 L97.34,417.50 L97.17,417.02 L97.03,416.55 L96.91,416.08 L96.82,415.61 L96.75,415.14 L96.71,414.67 L96.70,414.20 L96.71,413.87 L96.73,413.54 L96.76,413.21 L96.81,412.88 L96.87,412.55 L96.95,412.23 L97.04,411.90 L97.15,411.57 L97.27,411.24 L97.41,410.91 L97.57,410.58 L97.75,410.25 L97.94,409.92 L98.16,409.59 L98.41,409.26 L98.69,408.93 L98.99,408.60 L99.34,408.27 L99.73,407.95 L100.19,407.62 L100.72,407.29 L101.38,406.96 L102.27,406.63 L104.50,406.30Z"/></clipPath>
<linearGradient id="q328"><stop offset=".00" stop-color="#888850"/><stop offset=".50" stop-color="#949456"/><stop offset="1.00" stop-color="#68683c"/></linearGradient>
<linearGradient id="q329"><stop offset=".00" stop-color="#888850"/><stop offset=".10" stop-color="#a6a660"/><stop offset=".42" stop-color="#b0b06a"/><stop offset=".85" stop-color="#787846"/><stop offset="1.00" stop-color="#424226"/></linearGradient>
<linearGradient id="q330"><stop offset=".00" stop-color="#80804a"/><stop offset=".21" stop-color="#b4b46e"/><stop offset=".35" stop-color="#ffffff"/><stop offset=".42" stop-color="#ffffff"/><stop offset=".58" stop-color="#a6a668"/><stop offset="1.00" stop-color="#3a3a22"/></linearGradient>
<linearGradient id="q331"><stop offset=".00" stop-color="#727242"/><stop offset=".21" stop-color="#a8a866"/><stop offset=".31" stop-color="#fefeba"/><stop offset=".38" stop-color="#ffffe4"/><stop offset=".46" stop-color="#eaeaaa"/><stop offset=".58" stop-color="#929258"/><stop offset="1.00" stop-color="#3a3a22"/></linearGradient>
<linearGradient id="q332"><stop offset=".00" stop-color="#62623a"/><stop offset=".02" stop-color="#787846"/><stop offset=".10" stop-color="#8a8a50"/><stop offset=".35" stop-color="#96965a"/><stop offset=".69" stop-color="#6c6c40"/><stop offset=".93" stop-color="#3a3a22"/><stop offset="1.00" stop-color="#3a3a22"/></linearGradient>
<linearGradient id="q333"><stop offset=".00" stop-color="#525230"/><stop offset=".07" stop-color="#747444"/><stop offset=".31" stop-color="#7e7e4a"/><stop offset=".58" stop-color="#6a6a3e"/><stop offset=".88" stop-color="#3a3a22"/><stop offset="1.00" stop-color="#3a3a22"/></linearGradient>
<linearGradient id="q334"><stop offset=".00" stop-color="#424226"/><stop offset=".07" stop-color="#626238"/><stop offset=".27" stop-color="#6c6c3e"/><stop offset=".79" stop-color="#3c3c22"/><stop offset="1.00" stop-color="#3a3a22"/></linearGradient>
<linearGradient id="q335"><stop offset=".00" stop-color="#3a3a22"/><stop offset=".07" stop-color="#525230"/><stop offset=".24" stop-color="#5c5c36"/><stop offset="1.00" stop-color="#3a3a22"/></linearGradient>
<linearGradient id="q336"><stop offset=".00" stop-color="#3a3a22"/><stop offset=".24" stop-color="#50502e"/><stop offset=".65" stop-color="#3a3a22"/><stop offset="1.00" stop-color="#3a3a22"/></linearGradient>
<linearGradient id="q337"><stop offset=".00" stop-color="#3a3a22"/><stop offset=".24" stop-color="#4e4e2e"/><stop offset=".65" stop-color="#3a3a22"/><stop offset="1.00" stop-color="#3a3a22"/></linearGradient>
<linearGradient id="q338"><stop offset=".00" stop-color="#186e80"/><stop offset=".42" stop-color="#9effff"/><stop offset=".58" stop-color="#248ea4"/><stop offset="1.00" stop-color="#0c3840"/></linearGradient>
<radialGradient id="g15" cx="0.3350" cy="0.2675" r="0.7000" fx="0.3900" fy="0.3450"><stop offset="0.014" stop-color="#fdffff"/><stop offset="0.029" stop-color="#f6ffff"/><stop offset="0.047" stop-color="#ebffff"/><stop offset="0.069" stop-color="#d5ffff"/><stop offset="0.090" stop-color="#bdffff"/><stop offset="0.110" stop-color="#a1feff"/><stop offset="0.130" stop-color="#89faff"/><stop offset="0.150" stop-color="#70ecfd"/><stop offset="0.169" stop-color="#5bd9f6"/><stop offset="0.189" stop-color="#4ac8ec"/><stop offset="0.226" stop-color="#33b0d5"/><stop offset="0.276" stop-color="#229dc1"/><stop offset="0.326" stop-color="#1b93b6"/><stop offset="0.375" stop-color="#188bae"/><stop offset="0.425" stop-color="#1684a4"/><stop offset="0.474" stop-color="#157c9b"/><stop offset="0.524" stop-color="#147693"/><stop offset="0.575" stop-color="#136e89"/><stop offset="0.624" stop-color="#116780"/><stop offset="0.674" stop-color="#105f76"/><stop offset="0.724" stop-color="#0f576c"/><stop offset="0.775" stop-color="#0d4e61"/><stop offset="0.825" stop-color="#0c4455"/><stop offset="0.876" stop-color="#0a3b49"/><stop offset="0.926" stop-color="#093643"/><stop offset="0.991" stop-color="#093543"/></radialGradient>
<clipPath id="c16"><path d="M177.50,393.50 L178.99,393.75 L179.58,394.00 L180.02,394.25 L180.37,394.50 L180.68,394.75 L180.94,395.00 L181.17,395.25 L181.38,395.50 L181.56,395.75 L181.72,396.00 L181.87,396.25 L182.00,396.50 L182.12,396.75 L182.23,397.00 L182.32,397.25 L182.40,397.50 L182.47,397.75 L182.53,398.00 L182.59,398.25 L182.63,398.50 L182.66,398.75 L182.68,399.00 L182.70,399.25 L182.70,399.50 L182.69,399.85 L182.66,400.20 L182.61,400.55 L182.53,400.90 L182.44,401.25 L182.33,401.60 L182.20,401.95 L182.05,402.30 L181.88,402.65 L181.69,403.00 L181.49,403.35 L181.27,403.70 L181.04,404.05 L180.80,404.40 L180.55,404.75 L180.29,405.10 L180.02,405.45 L179.75,405.80 L179.48,406.15 L179.22,406.50 L178.96,406.85 L178.73,407.20 L178.53,407.55 L178.40,407.90 L178.52,407.93 L178.69,408.25 L178.87,408.58 L179.06,408.90 L179.26,409.23 L179.46,409.55 L179.65,409.88 L179.84,410.20 L180.03,410.52 L180.21,410.85 L180.37,411.18 L180.53,411.50 L180.68,411.82 L180.82,412.15 L180.95,412.48 L181.06,412.80 L181.16,413.12 L181.25,413.45 L181.33,413.77 L181.39,414.10 L181.44,414.42 L181.47,414.75 L181.49,415.07 L181.50,415.40 L181.49,415.83 L181.48,416.27 L181.44,416.70 L181.40,417.13 L181.34,417.57 L181.28,418.00 L181.20,418.43 L181.10,418.87 L181.00,419.30 L180.89,419.73 L180.76,420.17 L180.62,420.60 L180.48,421.03 L180.32,421.47 L180.16,421.90 L179.98,422.33 L179.80,422.77 L179.61,423.20 L179.42,423.63 L179.22,424.07 L179.03,424.50 L178.83,424.93 L178.65,425.37 L178.50,425.80 L178.80,429.00 L176.20,429.00 L176.50,425.80 L176.35,425.37 L176.17,424.93 L175.97,424.50 L175.78,424.07 L175.58,423.63 L175.39,423.20 L175.20,422.77 L175.02,422.33 L174.84,421.90 L174.68,421.47 L174.52,421.03 L174.38,420.60 L174.24,420.17 L174.11,419.73 L174.00,419.30 L173.90,418.87 L173.80,418.43 L173.72,418.00 L173.66,417.57 L173.60,417.13 L173.56,416.70 L173.52,416.27 L173.51,415.83 L173.50,415.40 L173.51,415.07 L173.53,414.75 L173.56,414.42 L173.61,414.10 L173.67,413.77 L173.75,413.45 L173.84,413.12 L173.94,412.80 L174.05,412.48 L174.18,412.15 L174.32,411.82 L174.47,411.50 L174.63,411.18 L174.79,410.85 L174.97,410.52 L175.16,410.20 L175.35,409.88 L175.54,409.55 L175.74,409.23 L175.94,408.90 L176.13,408.58 L176.31,408.25 L176.48,407.93 L176.60,407.90 L176.47,407.55 L176.27,407.20 L176.04,406.85 L175.78,406.50 L175.52,406.15 L175.25,405.80 L174.98,405.45 L174.71,405.10 L174.45,404.75 L174.20,404.40 L173.96,404.05 L173.73,403.70 L173.51,403.35 L173.31,403.00 L173.12,402.65 L172.95,402.30 L172.80,401.95 L172.67,401.60 L172.56,401.25 L172.47,400.90 L172.39,400.55 L172.34,400.20 L172.31,399.85 L172.30,399.50 L172.30,399.25 L172.32,399.00 L172.34,398.75 L172.37,398.50 L172.41,398.25 L172.47,398.00 L172.53,397.75 L172.60,397.50 L172.68,397.25 L172.77,397.00 L172.88,396.75 L173.00,396.50 L173.13,396.25 L173.28,396.00 L173.44,395.75 L173.62,395.50 L173.83,395.25 L174.06,395.00 L174.32,394.75 L174.63,394.50 L174.98,394.25 L175.42,394.00 L176.01,393.75 L177.50,393.50Z"/></clipPath>
<linearGradient id="q339"><stop offset=".00" stop-color="#b09c52"/><stop offset=".50" stop-color="#c0a858"/><stop offset="1.00" stop-color="#88783e"/></linearGradient>
<linearGradient id="q340"><stop offset=".00" stop-color="#ac9850"/><stop offset=".42" stop-color="#ffffa8"/><stop offset=".58" stop-color="#d0b864"/><stop offset="1.00" stop-color="#4c4222"/></linearGradient>
<linearGradient id="q341"><stop offset=".00" stop-color="#9a8846"/><stop offset=".42" stop-color="#ffffff"/><stop offset=".58" stop-color="#c6ae60"/><stop offset="1.00" stop-color="#4c4222"/></linearGradient>
<linearGradient id="q342"><stop offset=".00" stop-color="#80723c"/><stop offset=".10" stop-color="#b49e52"/><stop offset=".35" stop-color="#c2ac5e"/><stop offset="1.00" stop-color="#4c4222"/></linearGradient>
<linearGradient id="q343"><stop offset=".00" stop-color="#62562e"/><stop offset=".07" stop-color="#8e7c42"/><stop offset=".31" stop-color="#9c8848"/><stop offset="1.00" stop-color="#4c4222"/></linearGradient>
<linearGradient id="q344"><stop offset=".00" stop-color="#4e4424"/><stop offset=".07" stop-color="#746636"/><stop offset=".27" stop-color="#82723c"/><stop offset="1.00" stop-color="#4c4222"/></linearGradient>
<linearGradient id="q345"><stop offset=".00" stop-color="#4c4222"/><stop offset=".07" stop-color="#6c6032"/><stop offset=".24" stop-color="#786a38"/><stop offset="1.00" stop-color="#4c4222"/></linearGradient>
<linearGradient id="q346"><stop offset=".00" stop-color="#9c8a48"/><stop offset=".42" stop-color="#ffffff"/><stop offset=".58" stop-color="#cab464"/><stop offset="1.00" stop-color="#4c4222"/></linearGradient>
<linearGradient id="q347"><stop offset=".00" stop-color="#ac964e"/><stop offset=".38" stop-color="#ffffc2"/><stop offset=".46" stop-color="#ffffa8"/><stop offset="1.00" stop-color="#4c4222"/></linearGradient>
<linearGradient id="q348"><stop offset=".00" stop-color="#a4904c"/><stop offset=".42" stop-color="#ffffff"/><stop offset=".58" stop-color="#d4bc6a"/><stop offset="1.00" stop-color="#4c4222"/></linearGradient>
<linearGradient id="q349"><stop offset=".00" stop-color="#968446"/><stop offset=".38" stop-color="#ffffff"/><stop offset=".58" stop-color="#c0aa5c"/><stop offset="1.00" stop-color="#4c4222"/></linearGradient>
<linearGradient id="q350"><stop offset=".00" stop-color="#84743c"/><stop offset=".10" stop-color="#b8a254"/><stop offset=".38" stop-color="#ceb868"/><stop offset="1.00" stop-color="#4c4222"/></linearGradient>
<linearGradient id="q351"><stop offset=".00" stop-color="#786a38"/><stop offset=".10" stop-color="#aa964e"/><stop offset=".35" stop-color="#b49e54"/><stop offset="1.00" stop-color="#4c4222"/></linearGradient>
<linearGradient id="q352"><stop offset=".00" stop-color="#6e6032"/><stop offset=".07" stop-color="#9a8846"/><stop offset=".31" stop-color="#a8944e"/><stop offset="1.00" stop-color="#4c4222"/></linearGradient>
<linearGradient id="q353"><stop offset=".00" stop-color="#64582e"/><stop offset=".07" stop-color="#907e42"/><stop offset=".31" stop-color="#9c8a48"/><stop offset="1.00" stop-color="#4c4222"/></linearGradient>
<linearGradient id="q354"><stop offset=".00" stop-color="#60542c"/><stop offset=".07" stop-color="#8a7a40"/><stop offset=".27" stop-color="#988646"/><stop offset="1.00" stop-color="#4c4222"/></linearGradient>
<linearGradient id="q355"><stop offset=".00" stop-color="#166272"/><stop offset=".07" stop-color="#1c849a"/><stop offset=".38" stop-color="#309eb6"/><stop offset="1.00" stop-color="#0c3840"/></linearGradient>
<linearGradient id="q356"><stop offset=".00" stop-color="#186a7c"/><stop offset=".38" stop-color="#78ecff"/><stop offset=".58" stop-color="#20869c"/><stop offset="1.00" stop-color="#0c3840"/></linearGradient>
<radialGradient id="g17" cx="0.3350" cy="0.2675" r="0.7000" fx="0.3900" fy="0.3450"><stop offset="0.014" stop-color="#fdffff"/><stop offset="0.029" stop-color="#f6ffff"/><stop offset="0.047" stop-color="#ebffff"/><stop offset="0.069" stop-color="#d5ffff"/><stop offset="0.090" stop-color="#bdffff"/><stop offset="0.110" stop-color="#a1feff"/><stop offset="0.130" stop-color="#89faff"/><stop offset="0.150" stop-color="#70ecfd"/><stop offset="0.169" stop-color="#5bd9f6"/><stop offset="0.189" stop-color="#4ac8ec"/><stop offset="0.226" stop-color="#33b0d5"/><stop offset="0.276" stop-color="#229dc1"/><stop offset="0.326" stop-color="#1b93b6"/><stop offset="0.375" stop-color="#188bae"/><stop offset="0.425" stop-color="#1684a4"/><stop offset="0.474" stop-color="#157c9b"/><stop offset="0.524" stop-color="#147693"/><stop offset="0.575" stop-color="#136e89"/><stop offset="0.624" stop-color="#116780"/><stop offset="0.674" stop-color="#105f76"/><stop offset="0.724" stop-color="#0f576c"/><stop offset="0.775" stop-color="#0d4e61"/><stop offset="0.825" stop-color="#0c4455"/><stop offset="0.876" stop-color="#0a3b49"/><stop offset="0.926" stop-color="#093643"/><stop offset="0.991" stop-color="#093543"/></radialGradient>
<clipPath id="c18"><path d="M250.00,383.30 L251.29,383.52 L251.80,383.73 L252.18,383.95 L252.49,384.17 L252.75,384.38 L252.98,384.60 L253.18,384.82 L253.35,385.03 L253.51,385.25 L253.66,385.47 L253.78,385.68 L253.90,385.90 L254.00,386.12 L254.09,386.33 L254.17,386.55 L254.24,386.77 L254.30,386.98 L254.36,387.20 L254.40,387.42 L254.44,387.63 L254.46,387.85 L254.48,388.07 L254.50,388.28 L254.50,388.50 L254.49,388.75 L254.47,388.99 L254.42,389.24 L254.36,389.48 L254.28,389.73 L254.19,389.98 L254.08,390.22 L253.95,390.47 L253.81,390.71 L253.66,390.96 L253.49,391.20 L253.31,391.45 L253.11,391.70 L252.91,391.94 L252.70,392.19 L252.48,392.43 L252.26,392.68 L252.03,392.92 L251.81,393.17 L251.58,393.42 L251.37,393.66 L251.18,393.91 L251.01,394.15 L250.90,394.40 L251.00,394.43 L251.14,394.75 L251.29,395.08 L251.46,395.40 L251.62,395.73 L251.79,396.05 L251.95,396.38 L252.11,396.70 L252.27,397.02 L252.41,397.35 L252.56,397.68 L252.69,398.00 L252.81,398.32 L252.93,398.65 L253.04,398.98 L253.13,399.30 L253.22,399.62 L253.29,399.95 L253.35,400.27 L253.41,400.60 L253.45,400.92 L253.48,401.25 L253.49,401.57 L253.50,401.90 L253.49,402.25 L253.48,402.60 L253.45,402.95 L253.41,403.30 L253.35,403.65 L253.29,404.00 L253.22,404.35 L253.13,404.70 L253.04,405.05 L252.93,405.40 L252.81,405.75 L252.69,406.10 L252.56,406.45 L252.41,406.80 L252.27,407.15 L252.11,407.50 L251.95,407.85 L251.79,408.20 L251.62,408.55 L251.46,408.90 L251.29,409.25 L251.14,409.60 L251.00,409.95 L250.90,410.30 L251.14,410.57 L251.29,410.86 L251.46,411.15 L251.62,411.44 L251.79,411.73 L251.95,412.01 L252.11,412.30 L252.27,412.59 L252.41,412.88 L252.56,413.16 L252.69,413.45 L252.81,413.74 L252.93,414.02 L253.04,414.31 L253.13,414.60 L253.22,414.89 L253.29,415.17 L253.35,415.46 L253.41,415.75 L253.45,416.04 L253.48,416.32 L253.49,416.61 L253.50,416.90 L253.49,417.27 L253.48,417.64 L253.45,418.01 L253.42,418.38 L253.37,418.75 L253.31,419.12 L253.25,419.50 L253.17,419.87 L253.08,420.24 L252.99,420.61 L252.88,420.98 L252.77,421.35 L252.65,421.72 L252.52,422.09 L252.38,422.46 L252.23,422.83 L252.08,423.20 L251.93,423.57 L251.77,423.95 L251.60,424.32 L251.44,424.69 L251.28,425.06 L251.12,425.43 L251.00,425.80 L251.30,429.00 L248.70,429.00 L249.00,425.80 L248.88,425.43 L248.72,425.06 L248.56,424.69 L248.40,424.32 L248.23,423.95 L248.07,423.57 L247.92,423.20 L247.77,422.83 L247.62,422.46 L247.48,422.09 L247.35,421.72 L247.23,421.35 L247.12,420.98 L247.01,420.61 L246.92,420.24 L246.83,419.87 L246.75,419.50 L246.69,419.12 L246.63,418.75 L246.58,418.38 L246.55,418.01 L246.52,417.64 L246.51,417.27 L246.50,416.90 L246.51,416.61 L246.52,416.32 L246.55,416.04 L246.59,415.75 L246.65,415.46 L246.71,415.17 L246.78,414.89 L246.87,414.60 L246.96,414.31 L247.07,414.02 L247.19,413.74 L247.31,413.45 L247.44,413.16 L247.59,412.88 L247.73,412.59 L247.89,412.30 L248.05,412.01 L248.21,411.73 L248.38,411.44 L248.54,411.15 L248.71,410.86 L248.86,410.57 L249.10,410.30 L249.00,409.95 L248.86,409.60 L248.71,409.25 L248.54,408.90 L248.38,408.55 L248.21,408.20 L248.05,407.85 L247.89,407.50 L247.73,407.15 L247.59,406.80 L247.44,406.45 L247.31,406.10 L247.19,405.75 L247.07,405.40 L246.96,405.05 L246.87,404.70 L246.78,404.35 L246.71,404.00 L246.65,403.65 L246.59,403.30 L246.55,402.95 L246.52,402.60 L246.51,402.25 L246.50,401.90 L246.51,401.57 L246.52,401.25 L246.55,400.92 L246.59,400.60 L246.65,400.27 L246.71,399.95 L246.78,399.62 L246.87,399.30 L246.96,398.98 L247.07,398.65 L247.19,398.32 L247.31,398.00 L247.44,397.68 L247.59,397.35 L247.73,397.02 L247.89,396.70 L248.05,396.38 L248.21,396.05 L248.38,395.73 L248.54,395.40 L248.71,395.08 L248.86,394.75 L249.00,394.43 L249.10,394.40 L248.99,394.15 L248.82,393.91 L248.63,393.66 L248.42,393.42 L248.19,393.17 L247.97,392.92 L247.74,392.68 L247.52,392.43 L247.30,392.19 L247.09,391.94 L246.89,391.70 L246.69,391.45 L246.51,391.20 L246.34,390.96 L246.19,390.71 L246.05,390.47 L245.92,390.22 L245.81,389.98 L245.72,389.73 L245.64,389.48 L245.58,389.24 L245.53,388.99 L245.51,388.75 L245.50,388.50 L245.50,388.28 L245.52,388.07 L245.54,387.85 L245.56,387.63 L245.60,387.42 L245.64,387.20 L245.70,386.98 L245.76,386.77 L245.83,386.55 L245.91,386.33 L246.00,386.12 L246.10,385.90 L246.22,385.68 L246.34,385.47 L246.49,385.25 L246.65,385.03 L246.82,384.82 L247.02,384.60 L247.25,384.38 L247.51,384.17 L247.82,383.95 L248.20,383.73 L248.71,383.52 L250.00,383.30Z"/></clipPath>
<linearGradient id="q357"><stop offset=".00" stop-color="#b49e52"/><stop offset=".50" stop-color="#ccb25e"/><stop offset="1.00" stop-color="#766836"/></linearGradient>
<linearGradient id="q358"><stop offset=".00" stop-color="#a8944c"/><stop offset=".42" stop-color="#fffffe"/><stop offset=".58" stop-color="#d4bc6a"/><stop offset="1.00" stop-color="#4c4222"/></linearGradient>
<linearGradient id="q359"><stop offset=".00" stop-color="#907e42"/><stop offset=".38" stop-color="#ffffae"/><stop offset=".58" stop-color="#b49e54"/><stop offset="1.00" stop-color="#4c4222"/></linearGradient>
<linearGradient id="q360"><stop offset=".00" stop-color="#62562c"/><stop offset=".07" stop-color="#8c7c40"/><stop offset=".31" stop-color="#9a8846"/><stop offset="1.00" stop-color="#4c4222"/></linearGradient>
<linearGradient id="q361"><stop offset=".00" stop-color="#4c4222"/><stop offset=".07" stop-color="#665a2e"/><stop offset=".24" stop-color="#726434"/><stop offset="1.00" stop-color="#4c4222"/></linearGradient>
<linearGradient id="q362"><stop offset=".00" stop-color="#a8944e"/><stop offset=".38" stop-color="#fffff8"/><stop offset=".58" stop-color="#d4bc68"/><stop offset="1.00" stop-color="#4c4222"/></linearGradient>
<linearGradient id="q363"><stop offset=".00" stop-color="#988646"/><stop offset=".42" stop-color="#fffffe"/><stop offset=".58" stop-color="#c4ac5e"/><stop offset="1.00" stop-color="#4c4222"/></linearGradient>
<linearGradient id="q364"><stop offset=".00" stop-color="#88783e"/><stop offset=".07" stop-color="#b6a054"/><stop offset=".38" stop-color="#dcc474"/><stop offset="1.00" stop-color="#4c4222"/></linearGradient>
<linearGradient id="q365"><stop offset=".00" stop-color="#766836"/><stop offset=".10" stop-color="#a8944e"/><stop offset=".35" stop-color="#b09c52"/><stop offset="1.00" stop-color="#4c4222"/></linearGradient>
<linearGradient id="q366"><stop offset=".00" stop-color="#685a30"/><stop offset=".07" stop-color="#948244"/><stop offset=".31" stop-color="#a08e4a"/><stop offset="1.00" stop-color="#4c4222"/></linearGradient>
<linearGradient id="q367"><stop offset=".00" stop-color="#5e522c"/><stop offset=".07" stop-color="#88783e"/><stop offset=".27" stop-color="#968446"/><stop offset="1.00" stop-color="#4c4222"/></linearGradient>
<linearGradient id="q368"><stop offset=".00" stop-color="#aa964e"/><stop offset=".38" stop-color="#ffffd2"/><stop offset="1.00" stop-color="#4c4222"/></linearGradient>
<linearGradient id="q369"><stop offset=".00" stop-color="#a2904a"/><stop offset=".42" stop-color="#ffffff"/><stop offset=".58" stop-color="#d4bc6a"/><stop offset="1.00" stop-color="#4c4222"/></linearGradient>
<linearGradient id="q370"><stop offset=".00" stop-color="#928044"/><stop offset=".38" stop-color="#ffffd0"/><stop offset=".58" stop-color="#baa458"/><stop offset="1.00" stop-color="#4c4222"/></linearGradient>
<linearGradient id="q371"><stop offset=".00" stop-color="#80723c"/><stop offset=".10" stop-color="#b49e52"/><stop offset=".35" stop-color="#c4ae5e"/><stop offset="1.00" stop-color="#4c4222"/></linearGradient>
<linearGradient id="q372"><stop offset=".00" stop-color="#746636"/><stop offset=".07" stop-color="#a08e4a"/><stop offset=".31" stop-color="#ae9a50"/><stop offset="1.00" stop-color="#4c4222"/></linearGradient>
<linearGradient id="q373"><stop offset=".00" stop-color="#685c30"/><stop offset=".07" stop-color="#948244"/><stop offset=".31" stop-color="#a28e4a"/><stop offset="1.00" stop-color="#4c4222"/></linearGradient>
<linearGradient id="q374"><stop offset=".00" stop-color="#60542c"/><stop offset=".07" stop-color="#8c7a40"/><stop offset=".27" stop-color="#988646"/><stop offset="1.00" stop-color="#4c4222"/></linearGradient>
<linearGradient id="q375"><stop offset=".00" stop-color="#166272"/><stop offset=".07" stop-color="#1c869a"/><stop offset=".38" stop-color="#32a0b6"/><stop offset="1.00" stop-color="#0c3840"/></linearGradient>
<radialGradient id="g19" cx="0.3500" cy="0.2675" r="0.7000" fx="0.4000" fy="0.3450"><stop offset="0.014" stop-color="#fcffff"/><stop offset="0.030" stop-color="#f6ffff"/><stop offset="0.050" stop-color="#e8ffff"/><stop offset="0.070" stop-color="#d5ffff"/><stop offset="0.091" stop-color="#bbffff"/><stop offset="0.110" stop-color="#a1ffff"/><stop offset="0.129" stop-color="#8bfaff"/><stop offset="0.149" stop-color="#72eefd"/><stop offset="0.169" stop-color="#5cdaf7"/><stop offset="0.189" stop-color="#4cc9ee"/><stop offset="0.226" stop-color="#32b0d5"/><stop offset="0.276" stop-color="#229dc1"/><stop offset="0.325" stop-color="#1b93b7"/><stop offset="0.375" stop-color="#188cae"/><stop offset="0.424" stop-color="#1684a5"/><stop offset="0.474" stop-color="#157d9c"/><stop offset="0.525" stop-color="#147693"/><stop offset="0.575" stop-color="#136e8a"/><stop offset="0.624" stop-color="#116780"/><stop offset="0.674" stop-color="#105f77"/><stop offset="0.724" stop-color="#0f576c"/><stop offset="0.775" stop-color="#0d4e61"/><stop offset="0.825" stop-color="#0c4455"/><stop offset="0.876" stop-color="#0a3b49"/><stop offset="0.926" stop-color="#093543"/><stop offset="0.990" stop-color="#093543"/></radialGradient>
<clipPath id="c20"><path d="M350.30,338.30 L351.53,338.48 L352.02,338.66 L352.38,338.84 L352.68,339.02 L352.93,339.20 L353.14,339.38 L353.34,339.55 L353.51,339.73 L353.66,339.91 L353.79,340.09 L353.91,340.27 L354.02,340.45 L354.12,340.63 L354.21,340.81 L354.29,340.99 L354.35,341.17 L354.41,341.35 L354.46,341.53 L354.51,341.70 L354.54,341.88 L354.57,342.06 L354.59,342.24 L354.60,342.42 L354.60,342.60 L354.59,342.93 L354.58,343.26 L354.55,343.59 L354.51,343.92 L354.46,344.25 L354.40,344.58 L354.33,344.90 L354.25,345.23 L354.15,345.56 L354.05,345.89 L353.94,346.22 L353.82,346.55 L353.69,346.88 L353.56,347.21 L353.41,347.54 L353.26,347.87 L353.11,348.20 L352.95,348.52 L352.79,348.85 L352.64,349.18 L352.48,349.51 L352.33,349.84 L352.20,350.17 L352.10,350.50 L352.30,350.54 L352.38,350.86 L352.46,351.18 L352.53,351.50 L352.60,351.82 L352.66,352.15 L352.72,352.47 L352.77,352.79 L352.82,353.11 L352.87,353.43 L352.91,353.75 L352.95,354.07 L352.98,354.39 L353.02,354.71 L353.04,355.03 L353.07,355.35 L353.09,355.68 L353.11,356.00 L353.12,356.32 L353.14,356.64 L353.14,356.96 L353.15,357.28 L353.15,357.60 L353.15,357.91 L353.14,358.22 L353.14,358.53 L353.12,358.83 L353.11,359.14 L353.09,359.45 L353.07,359.76 L353.04,360.07 L353.02,360.38 L352.98,360.68 L352.95,360.99 L352.91,361.30 L352.87,361.61 L352.82,361.92 L352.77,362.23 L352.72,362.53 L352.66,362.84 L352.60,363.15 L352.53,363.46 L352.46,363.77 L352.38,364.07 L352.30,364.38 L352.21,364.69 L352.10,365.00 L352.21,365.02 L352.30,365.35 L352.38,365.68 L352.46,366.00 L352.53,366.32 L352.60,366.65 L352.66,366.97 L352.72,367.30 L352.77,367.62 L352.82,367.95 L352.87,368.27 L352.91,368.60 L352.95,368.93 L352.98,369.25 L353.02,369.57 L353.04,369.90 L353.07,370.23 L353.09,370.55 L353.11,370.88 L353.12,371.20 L353.14,371.52 L353.14,371.85 L353.15,372.18 L353.15,372.50 L353.15,372.81 L353.14,373.12 L353.14,373.44 L353.12,373.75 L353.11,374.06 L353.09,374.38 L353.07,374.69 L353.04,375.00 L353.02,375.31 L352.98,375.62 L352.95,375.94 L352.91,376.25 L352.87,376.56 L352.82,376.88 L352.77,377.19 L352.72,377.50 L352.66,377.81 L352.60,378.12 L352.53,378.44 L352.46,378.75 L352.38,379.06 L352.30,379.38 L352.21,379.69 L352.10,380.00 L352.21,380.00 L352.30,380.31 L352.38,380.61 L352.46,380.92 L352.53,381.22 L352.60,381.52 L352.66,381.83 L352.72,382.13 L352.77,382.44 L352.82,382.74 L352.87,383.05 L352.91,383.35 L352.95,383.65 L352.98,383.96 L353.02,384.26 L353.04,384.57 L353.07,384.87 L353.09,385.18 L353.11,385.48 L353.12,385.78 L353.14,386.09 L353.14,386.39 L353.15,386.70 L353.15,387.00 L353.15,387.29 L353.14,387.58 L353.14,387.88 L353.12,388.17 L353.11,388.46 L353.09,388.75 L353.07,389.04 L353.04,389.33 L353.02,389.62 L352.98,389.92 L352.95,390.21 L352.91,390.50 L352.87,390.79 L352.82,391.08 L352.77,391.38 L352.72,391.67 L352.66,391.96 L352.60,392.25 L352.53,392.54 L352.46,392.83 L352.38,393.12 L352.30,393.42 L352.21,393.71 L352.10,394.00 L352.21,394.04 L352.30,394.37 L352.38,394.71 L352.46,395.04 L352.53,395.38 L352.60,395.71 L352.66,396.05 L352.72,396.38 L352.77,396.72 L352.82,397.05 L352.87,397.39 L352.91,397.73 L352.95,398.06 L352.98,398.40 L353.02,398.73 L353.04,399.07 L353.07,399.40 L353.09,399.74 L353.11,400.07 L353.12,400.41 L353.14,400.74 L353.14,401.08 L353.15,401.41 L353.15,401.75 L353.15,402.07 L353.14,402.40 L353.14,402.72 L353.12,403.04 L353.11,403.36 L353.09,403.69 L353.07,404.01 L353.04,404.33 L353.02,404.66 L352.98,404.98 L352.95,405.30 L352.91,405.62 L352.87,405.95 L352.82,406.27 L352.77,406.59 L352.72,406.92 L352.66,407.24 L352.60,407.56 L352.53,407.89 L352.46,408.21 L352.38,408.53 L352.30,408.85 L352.21,409.18 L352.10,409.50 L352.21,409.56 L352.30,409.91 L352.38,410.27 L352.46,410.62 L352.53,410.98 L352.60,411.34 L352.66,411.69 L352.72,412.05 L352.77,412.41 L352.82,412.76 L352.87,413.12 L352.91,413.48 L352.95,413.83 L352.98,414.19 L353.02,414.54 L353.04,414.90 L353.07,415.26 L353.09,415.61 L353.11,415.97 L353.12,416.32 L353.14,416.68 L353.14,417.04 L353.15,417.39 L353.15,417.75 L353.15,418.09 L353.14,418.44 L353.14,418.78 L353.12,419.12 L353.11,419.47 L353.09,419.81 L353.07,420.16 L353.04,420.50 L353.02,420.84 L352.98,421.19 L352.95,421.53 L352.91,421.88 L352.87,422.22 L352.82,422.56 L352.77,422.91 L352.72,423.25 L352.66,423.59 L352.60,423.94 L352.53,424.28 L352.46,424.62 L352.38,424.97 L352.30,425.31 L352.21,425.66 L352.10,426.00 L352.10,429.50 L348.50,429.50 L348.50,426.00 L348.39,425.66 L348.30,425.31 L348.22,424.97 L348.14,424.62 L348.07,424.28 L348.00,423.94 L347.94,423.59 L347.88,423.25 L347.83,422.91 L347.78,422.56 L347.73,422.22 L347.69,421.88 L347.65,421.53 L347.62,421.19 L347.58,420.84 L347.56,420.50 L347.53,420.16 L347.51,419.81 L347.49,419.47 L347.48,419.12 L347.46,418.78 L347.46,418.44 L347.45,418.09 L347.45,417.75 L347.45,417.39 L347.46,417.04 L347.46,416.68 L347.48,416.32 L347.49,415.97 L347.51,415.61 L347.53,415.26 L347.56,414.90 L347.58,414.54 L347.62,414.19 L347.65,413.83 L347.69,413.48 L347.73,413.12 L347.78,412.76 L347.83,412.41 L347.88,412.05 L347.94,411.69 L348.00,411.34 L348.07,410.98 L348.14,410.62 L348.22,410.27 L348.30,409.91 L348.39,409.56 L348.50,409.50 L348.39,409.18 L348.30,408.85 L348.22,408.53 L348.14,408.21 L348.07,407.89 L348.00,407.56 L347.94,407.24 L347.88,406.92 L347.83,406.59 L347.78,406.27 L347.73,405.95 L347.69,405.62 L347.65,405.30 L347.62,404.98 L347.58,404.66 L347.56,404.33 L347.53,404.01 L347.51,403.69 L347.49,403.36 L347.48,403.04 L347.46,402.72 L347.46,402.40 L347.45,402.07 L347.45,401.75 L347.45,401.41 L347.46,401.08 L347.46,400.74 L347.48,400.41 L347.49,400.07 L347.51,399.74 L347.53,399.40 L347.56,399.07 L347.58,398.73 L347.62,398.40 L347.65,398.06 L347.69,397.73 L347.73,397.39 L347.78,397.05 L347.83,396.72 L347.88,396.38 L347.94,396.05 L348.00,395.71 L348.07,395.38 L348.14,395.04 L348.22,394.71 L348.30,394.37 L348.39,394.04 L348.50,394.00 L348.39,393.71 L348.30,393.42 L348.22,393.12 L348.14,392.83 L348.07,392.54 L348.00,392.25 L347.94,391.96 L347.88,391.67 L347.83,391.38 L347.78,391.08 L347.73,390.79 L347.69,390.50 L347.65,390.21 L347.62,389.92 L347.58,389.62 L347.56,389.33 L347.53,389.04 L347.51,388.75 L347.49,388.46 L347.48,388.17 L347.46,387.88 L347.46,387.58 L347.45,387.29 L347.45,387.00 L347.45,386.70 L347.46,386.39 L347.46,386.09 L347.48,385.78 L347.49,385.48 L347.51,385.18 L347.53,384.87 L347.56,384.57 L347.58,384.26 L347.62,383.96 L347.65,383.65 L347.69,383.35 L347.73,383.05 L347.78,382.74 L347.83,382.44 L347.88,382.13 L347.94,381.83 L348.00,381.52 L348.07,381.22 L348.14,380.92 L348.22,380.61 L348.30,380.31 L348.39,380.00 L348.50,380.00 L348.39,379.69 L348.30,379.38 L348.22,379.06 L348.14,378.75 L348.07,378.44 L348.00,378.12 L347.94,377.81 L347.88,377.50 L347.83,377.19 L347.78,376.88 L347.73,376.56 L347.69,376.25 L347.65,375.94 L347.62,375.62 L347.58,375.31 L347.56,375.00 L347.53,374.69 L347.51,374.38 L347.49,374.06 L347.48,373.75 L347.46,373.44 L347.46,373.12 L347.45,372.81 L347.45,372.50 L347.45,372.18 L347.46,371.85 L347.46,371.52 L347.48,371.20 L347.49,370.88 L347.51,370.55 L347.53,370.23 L347.56,369.90 L347.58,369.57 L347.62,369.25 L347.65,368.93 L347.69,368.60 L347.73,368.27 L347.78,367.95 L347.83,367.62 L347.88,367.30 L347.94,366.97 L348.00,366.65 L348.07,366.32 L348.14,366.00 L348.22,365.68 L348.30,365.35 L348.39,365.02 L348.50,365.00 L348.39,364.69 L348.30,364.38 L348.22,364.07 L348.14,363.77 L348.07,363.46 L348.00,363.15 L347.94,362.84 L347.88,362.53 L347.83,362.23 L347.78,361.92 L347.73,361.61 L347.69,361.30 L347.65,360.99 L347.62,360.68 L347.58,360.38 L347.56,360.07 L347.53,359.76 L347.51,359.45 L347.49,359.14 L347.48,358.83 L347.46,358.53 L347.46,358.22 L347.45,357.91 L347.45,357.60 L347.45,357.28 L347.46,356.96 L347.46,356.64 L347.48,356.32 L347.49,356.00 L347.51,355.68 L347.53,355.35 L347.56,355.03 L347.58,354.71 L347.62,354.39 L347.65,354.07 L347.69,353.75 L347.73,353.43 L347.78,353.11 L347.83,352.79 L347.88,352.47 L347.94,352.15 L348.00,351.82 L348.07,351.50 L348.14,351.18 L348.22,350.86 L348.30,350.54 L348.50,350.50 L348.40,350.17 L348.27,349.84 L348.12,349.51 L347.96,349.18 L347.81,348.85 L347.65,348.52 L347.49,348.20 L347.34,347.87 L347.19,347.54 L347.04,347.21 L346.91,346.88 L346.78,346.55 L346.66,346.22 L346.55,345.89 L346.45,345.56 L346.35,345.23 L346.27,344.90 L346.20,344.58 L346.14,344.25 L346.09,343.92 L346.05,343.59 L346.02,343.26 L346.01,342.93 L346.00,342.60 L346.00,342.42 L346.01,342.24 L346.03,342.06 L346.06,341.88 L346.09,341.70 L346.14,341.53 L346.19,341.35 L346.25,341.17 L346.31,340.99 L346.39,340.81 L346.48,340.63 L346.58,340.45 L346.69,340.27 L346.81,340.09 L346.94,339.91 L347.09,339.73 L347.26,339.55 L347.46,339.38 L347.67,339.20 L347.92,339.02 L348.22,338.84 L348.58,338.66 L349.07,338.48 L350.30,338.30Z"/></clipPath>
<linearGradient id="q376"><stop offset=".00" stop-color="#8a8a50"/><stop offset=".50" stop-color="#9c9c5c"/><stop offset="1.00" stop-color="#5a5a34"/></linearGradient>
<linearGradient id="q377"><stop offset=".00" stop-color="#7e7e4a"/><stop offset=".42" stop-color="#ffffff"/><stop offset=".58" stop-color="#a6a668"/><stop offset="1.00" stop-color="#3a3a22"/></linearGradient>
<linearGradient id="q378"><stop offset=".00" stop-color="#66663c"/><stop offset=".07" stop-color="#8a8a50"/><stop offset=".38" stop-color="#a2a266"/><stop offset="1.00" stop-color="#3a3a22"/></linearGradient>
<linearGradient id="q379"><stop offset=".00" stop-color="#585834"/><stop offset=".07" stop-color="#7a7a48"/><stop offset=".31" stop-color="#86864e"/><stop offset="1.00" stop-color="#3a3a22"/></linearGradient>
<linearGradient id="q380"><stop offset=".00" stop-color="#4c4c2c"/><stop offset=".07" stop-color="#6e6e40"/><stop offset=".31" stop-color="#787846"/><stop offset="1.00" stop-color="#3a3a22"/></linearGradient>
<linearGradient id="q381"><stop offset=".00" stop-color="#48482a"/><stop offset=".07" stop-color="#68683c"/><stop offset=".27" stop-color="#727242"/><stop offset="1.00" stop-color="#3a3a22"/></linearGradient>
<linearGradient id="q382"><stop offset=".00" stop-color="#6c7a46"/><stop offset=".42" stop-color="#ffffff"/><stop offset=".58" stop-color="#92a262"/><stop offset="1.00" stop-color="#323820"/></linearGradient>
<linearGradient id="q383"><stop offset=".00" stop-color="#626e3e"/><stop offset=".38" stop-color="#ffffe0"/><stop offset=".58" stop-color="#7e8c52"/><stop offset="1.00" stop-color="#323820"/></linearGradient>
<linearGradient id="q384"><stop offset=".00" stop-color="#5e6a3c"/><stop offset=".38" stop-color="#d4e4a4"/><stop offset=".58" stop-color="#78864e"/><stop offset="1.00" stop-color="#323820"/></linearGradient>
<linearGradient id="q385"><stop offset=".00" stop-color="#5a663a"/><stop offset=".38" stop-color="#a8b87a"/><stop offset="1.00" stop-color="#323820"/></linearGradient>
<linearGradient id="q386"><stop offset=".00" stop-color="#566238"/><stop offset=".07" stop-color="#76844a"/><stop offset=".38" stop-color="#8c9a5e"/><stop offset="1.00" stop-color="#323820"/></linearGradient>
<linearGradient id="q387"><stop offset=".00" stop-color="#525c34"/><stop offset=".10" stop-color="#74824a"/><stop offset=".35" stop-color="#7e8c52"/><stop offset="1.00" stop-color="#323820"/></linearGradient>
<linearGradient id="q388"><stop offset=".00" stop-color="#4e5832"/><stop offset=".10" stop-color="#6e7c46"/><stop offset=".35" stop-color="#74824a"/><stop offset="1.00" stop-color="#323820"/></linearGradient>
<linearGradient id="q389"><stop offset=".00" stop-color="#5e6a3c"/><stop offset=".38" stop-color="#ccdc9c"/><stop offset=".58" stop-color="#76844c"/><stop offset="1.00" stop-color="#323820"/></linearGradient>
<linearGradient id="q390"><stop offset=".00" stop-color="#647040"/><stop offset=".38" stop-color="#fffffa"/><stop offset=".58" stop-color="#829056"/><stop offset="1.00" stop-color="#323820"/></linearGradient>
<linearGradient id="q391"><stop offset=".00" stop-color="#606c3c"/><stop offset=".38" stop-color="#ecfcba"/><stop offset=".58" stop-color="#7a8850"/><stop offset="1.00" stop-color="#323820"/></linearGradient>
<linearGradient id="q392"><stop offset=".00" stop-color="#5c683a"/><stop offset=".38" stop-color="#bac88a"/><stop offset=".54" stop-color="#7c8c52"/><stop offset="1.00" stop-color="#323820"/></linearGradient>
<linearGradient id="q393"><stop offset=".00" stop-color="#586438"/><stop offset=".07" stop-color="#78864c"/><stop offset=".38" stop-color="#96a668"/><stop offset="1.00" stop-color="#323820"/></linearGradient>
<linearGradient id="q394"><stop offset=".00" stop-color="#546036"/><stop offset=".07" stop-color="#74824a"/><stop offset=".35" stop-color="#849256"/><stop offset="1.00" stop-color="#323820"/></linearGradient>
<linearGradient id="q395"><stop offset=".00" stop-color="#505a34"/><stop offset=".10" stop-color="#728048"/><stop offset=".35" stop-color="#78884e"/><stop offset="1.00" stop-color="#323820"/></linearGradient>
<linearGradient id="q396"><stop offset=".00" stop-color="#4a5430"/><stop offset=".07" stop-color="#687642"/><stop offset=".31" stop-color="#728048"/><stop offset="1.00" stop-color="#323820"/></linearGradient>
<linearGradient id="q397"><stop offset=".00" stop-color="#667240"/><stop offset=".42" stop-color="#ffffff"/><stop offset=".58" stop-color="#88965a"/><stop offset="1.00" stop-color="#323820"/></linearGradient>
<linearGradient id="q398"><stop offset=".00" stop-color="#626e3e"/><stop offset=".38" stop-color="#ffffda"/><stop offset=".58" stop-color="#7e8c52"/><stop offset="1.00" stop-color="#323820"/></linearGradient>
<linearGradient id="q399"><stop offset=".00" stop-color="#5e6a3c"/><stop offset=".38" stop-color="#cada9c"/><stop offset=".58" stop-color="#76844c"/><stop offset="1.00" stop-color="#323820"/></linearGradient>
<linearGradient id="q400"><stop offset=".00" stop-color="#5a643a"/><stop offset=".07" stop-color="#78884c"/><stop offset=".38" stop-color="#9eae70"/><stop offset="1.00" stop-color="#323820"/></linearGradient>
<linearGradient id="q401"><stop offset=".00" stop-color="#566036"/><stop offset=".10" stop-color="#76864c"/><stop offset=".38" stop-color="#849256"/><stop offset="1.00" stop-color="#323820"/></linearGradient>
<linearGradient id="q402"><stop offset=".00" stop-color="#505a34"/><stop offset=".10" stop-color="#728048"/><stop offset=".35" stop-color="#78864e"/><stop offset="1.00" stop-color="#323820"/></linearGradient>
<linearGradient id="q403"><stop offset=".00" stop-color="#4a522e"/><stop offset=".07" stop-color="#687442"/><stop offset=".31" stop-color="#707e48"/><stop offset="1.00" stop-color="#323820"/></linearGradient>
<linearGradient id="q404"><stop offset=".00" stop-color="#667240"/><stop offset=".42" stop-color="#ffffff"/><stop offset=".58" stop-color="#869458"/><stop offset="1.00" stop-color="#323820"/></linearGradient>
<linearGradient id="q405"><stop offset=".00" stop-color="#626e3e"/><stop offset=".38" stop-color="#ffffd8"/><stop offset=".58" stop-color="#7e8c52"/><stop offset="1.00" stop-color="#323820"/></linearGradient>
<linearGradient id="q406"><stop offset=".00" stop-color="#5e6a3c"/><stop offset=".38" stop-color="#d2e2a2"/><stop offset=".58" stop-color="#78864c"/><stop offset="1.00" stop-color="#323820"/></linearGradient>
<linearGradient id="q407"><stop offset=".00" stop-color="#5c663a"/><stop offset=".38" stop-color="#aaba7a"/><stop offset="1.00" stop-color="#323820"/></linearGradient>
<linearGradient id="q408"><stop offset=".00" stop-color="#586238"/><stop offset=".07" stop-color="#76844c"/><stop offset=".38" stop-color="#8e9e60"/><stop offset="1.00" stop-color="#323820"/></linearGradient>
<linearGradient id="q409"><stop offset=".00" stop-color="#545e36"/><stop offset=".10" stop-color="#76844a"/><stop offset=".35" stop-color="#808e54"/><stop offset="1.00" stop-color="#323820"/></linearGradient>
<linearGradient id="q410"><stop offset=".00" stop-color="#505832"/><stop offset=".10" stop-color="#707e48"/><stop offset=".35" stop-color="#76864c"/><stop offset="1.00" stop-color="#323820"/></linearGradient>
<linearGradient id="q411"><stop offset=".00" stop-color="#48522e"/><stop offset=".07" stop-color="#667240"/><stop offset=".31" stop-color="#6e7c46"/><stop offset="1.00" stop-color="#323820"/></linearGradient>
<linearGradient id="q412"><stop offset=".00" stop-color="#647040"/><stop offset=".38" stop-color="#ffffff"/><stop offset=".58" stop-color="#829256"/><stop offset="1.00" stop-color="#323820"/></linearGradient>
<linearGradient id="q413"><stop offset=".00" stop-color="#606c3e"/><stop offset=".38" stop-color="#faffca"/><stop offset=".58" stop-color="#7c8a50"/><stop offset="1.00" stop-color="#323820"/></linearGradient>
<linearGradient id="q414"><stop offset=".00" stop-color="#586238"/><stop offset=".07" stop-color="#76844c"/><stop offset=".38" stop-color="#90a062"/><stop offset="1.00" stop-color="#323820"/></linearGradient>
<linearGradient id="q415"><stop offset=".00" stop-color="#545e36"/><stop offset=".07" stop-color="#74824a"/><stop offset=".35" stop-color="#829056"/><stop offset="1.00" stop-color="#323820"/></linearGradient>
<linearGradient id="q416"><stop offset=".00" stop-color="#505a34"/><stop offset=".10" stop-color="#728048"/><stop offset=".35" stop-color="#7a884e"/><stop offset="1.00" stop-color="#323820"/></linearGradient>
<linearGradient id="q417"><stop offset=".00" stop-color="#4c5430"/><stop offset=".07" stop-color="#6a7644"/><stop offset=".31" stop-color="#72804a"/><stop offset="1.00" stop-color="#323820"/></linearGradient>
<linearGradient id="q418"><stop offset=".00" stop-color="#166474"/><stop offset=".07" stop-color="#1e889e"/><stop offset=".38" stop-color="#3eaec4"/><stop offset="1.00" stop-color="#0c3840"/></linearGradient>
<radialGradient id="g21" cx="0.3419" cy="0.3213" r="0.7000" fx="0.3850" fy="0.3700"><stop offset="0.014" stop-color="#fcffff"/><stop offset="0.032" stop-color="#f5ffff"/><stop offset="0.051" stop-color="#e8ffff"/><stop offset="0.070" stop-color="#d6ffff"/><stop offset="0.090" stop-color="#bdffff"/><stop offset="0.109" stop-color="#a7ffff"/><stop offset="0.127" stop-color="#8efdff"/><stop offset="0.148" stop-color="#75f1fe"/><stop offset="0.169" stop-color="#5fddfb"/><stop offset="0.189" stop-color="#4bc9ee"/><stop offset="0.226" stop-color="#33b0d5"/><stop offset="0.275" stop-color="#229dc1"/><stop offset="0.325" stop-color="#1b93b7"/><stop offset="0.376" stop-color="#188caf"/><stop offset="0.425" stop-color="#1785a6"/><stop offset="0.475" stop-color="#157d9c"/><stop offset="0.525" stop-color="#147693"/><stop offset="0.575" stop-color="#126e89"/><stop offset="0.625" stop-color="#11667f"/><stop offset="0.675" stop-color="#105d74"/><stop offset="0.725" stop-color="#0e5468"/><stop offset="0.776" stop-color="#0c4a5c"/><stop offset="0.825" stop-color="#0b3f4f"/><stop offset="0.875" stop-color="#093744"/><stop offset="0.925" stop-color="#093543"/><stop offset="0.984" stop-color="#093543"/></radialGradient>
<clipPath id="c22"><path d="M418.60,409.10 L419.43,409.22 L419.76,409.34 L420.00,409.46 L420.20,409.58 L420.37,409.70 L420.52,409.83 L420.65,409.95 L420.76,410.07 L420.86,410.19 L420.96,410.31 L421.04,410.43 L421.11,410.55 L421.18,410.67 L421.24,410.79 L421.29,410.91 L421.33,411.03 L421.37,411.15 L421.41,411.27 L421.44,411.40 L421.46,411.52 L421.48,411.64 L421.49,411.76 L421.50,411.88 L421.50,412.00 L421.50,412.16 L421.48,412.32 L421.46,412.48 L421.42,412.63 L421.38,412.79 L421.33,412.95 L421.27,413.11 L421.20,413.27 L421.12,413.43 L421.03,413.58 L420.94,413.74 L420.84,413.90 L420.73,414.06 L420.62,414.22 L420.50,414.38 L420.38,414.53 L420.25,414.69 L420.13,414.85 L420.00,415.01 L419.88,415.17 L419.76,415.32 L419.65,415.48 L419.56,415.64 L419.50,415.80 L419.70,415.98 L419.82,416.23 L419.93,416.47 L420.05,416.71 L420.17,416.95 L420.28,417.19 L420.39,417.43 L420.49,417.68 L420.59,417.92 L420.69,418.16 L420.77,418.40 L420.86,418.64 L420.93,418.88 L421.00,419.12 L421.06,419.37 L421.12,419.61 L421.17,419.85 L421.21,420.09 L421.24,420.33 L421.27,420.57 L421.29,420.82 L421.30,421.06 L421.30,421.30 L421.30,421.55 L421.29,421.81 L421.27,422.06 L421.24,422.32 L421.21,422.57 L421.17,422.82 L421.13,423.08 L421.08,423.33 L421.02,423.59 L420.95,423.84 L420.88,424.10 L420.80,424.35 L420.72,424.60 L420.63,424.86 L420.54,425.11 L420.44,425.37 L420.34,425.62 L420.23,425.88 L420.12,426.13 L420.01,426.38 L419.90,426.64 L419.79,426.89 L419.68,427.15 L419.60,427.40 L419.90,430.00 L417.30,430.00 L417.60,427.40 L417.52,427.15 L417.41,426.89 L417.30,426.64 L417.19,426.38 L417.08,426.13 L416.97,425.88 L416.86,425.62 L416.76,425.37 L416.66,425.11 L416.57,424.86 L416.48,424.60 L416.40,424.35 L416.32,424.10 L416.25,423.84 L416.18,423.59 L416.12,423.33 L416.07,423.08 L416.03,422.82 L415.99,422.57 L415.96,422.32 L415.93,422.06 L415.91,421.81 L415.90,421.55 L415.90,421.30 L415.90,421.06 L415.91,420.82 L415.93,420.57 L415.96,420.33 L415.99,420.09 L416.03,419.85 L416.08,419.61 L416.14,419.37 L416.20,419.12 L416.27,418.88 L416.34,418.64 L416.43,418.40 L416.51,418.16 L416.61,417.92 L416.71,417.68 L416.81,417.43 L416.92,417.19 L417.03,416.95 L417.15,416.71 L417.27,416.47 L417.38,416.23 L417.50,415.98 L417.70,415.80 L417.64,415.64 L417.55,415.48 L417.44,415.32 L417.32,415.17 L417.20,415.01 L417.07,414.85 L416.95,414.69 L416.82,414.53 L416.70,414.38 L416.58,414.22 L416.47,414.06 L416.36,413.90 L416.26,413.74 L416.17,413.58 L416.08,413.43 L416.00,413.27 L415.93,413.11 L415.87,412.95 L415.82,412.79 L415.78,412.63 L415.74,412.48 L415.72,412.32 L415.70,412.16 L415.70,412.00 L415.70,411.88 L415.71,411.76 L415.72,411.64 L415.74,411.52 L415.76,411.40 L415.79,411.27 L415.83,411.15 L415.87,411.03 L415.91,410.91 L415.96,410.79 L416.02,410.67 L416.09,410.55 L416.16,410.43 L416.24,410.31 L416.34,410.19 L416.44,410.07 L416.55,409.95 L416.68,409.83 L416.83,409.70 L417.00,409.58 L417.20,409.46 L417.44,409.34 L417.77,409.22 L418.60,409.10Z"/></clipPath>
<linearGradient id="q419"><stop offset=".00" stop-color="#b69232"/><stop offset=".46" stop-color="#dcb03e"/><stop offset=".85" stop-color="#a2822c"/><stop offset="1.00" stop-color="#604c1a"/></linearGradient>
<linearGradient id="q420"><stop offset=".00" stop-color="#8a7026"/><stop offset=".07" stop-color="#ba9634"/><stop offset=".38" stop-color="#e2ba52"/><stop offset="1.00" stop-color="#4c3e14"/></linearGradient>
<linearGradient id="q421"><stop offset=".00" stop-color="#504016"/><stop offset=".07" stop-color="#766020"/><stop offset=".27" stop-color="#846a24"/><stop offset="1.00" stop-color="#4c3e14"/></linearGradient>
<linearGradient id="q422"><stop offset=".00" stop-color="#a2822c"/><stop offset=".42" stop-color="#ffffff"/><stop offset=".58" stop-color="#d2ac44"/><stop offset="1.00" stop-color="#4c3e14"/></linearGradient>
<linearGradient id="q423"><stop offset=".00" stop-color="#a6862e"/><stop offset=".42" stop-color="#ffffff"/><stop offset=".58" stop-color="#d8b046"/><stop offset="1.00" stop-color="#4c3e14"/></linearGradient>
<linearGradient id="q424"><stop offset=".00" stop-color="#987a2a"/><stop offset=".38" stop-color="#ffffce"/><stop offset=".58" stop-color="#c29c3a"/><stop offset="1.00" stop-color="#4c3e14"/></linearGradient>
<linearGradient id="q425"><stop offset=".00" stop-color="#846a24"/><stop offset=".10" stop-color="#b89432"/><stop offset=".35" stop-color="#caa43e"/><stop offset="1.00" stop-color="#4c3e14"/></linearGradient>
<linearGradient id="q426"><stop offset=".00" stop-color="#705a1e"/><stop offset=".07" stop-color="#9e802c"/><stop offset=".31" stop-color="#ac8a30"/><stop offset="1.00" stop-color="#4c3e14"/></linearGradient>
<linearGradient id="q427"><stop offset=".00" stop-color="#64501c"/><stop offset=".07" stop-color="#907428"/><stop offset=".31" stop-color="#9c7e2a"/><stop offset="1.00" stop-color="#4c3e14"/></linearGradient>
<linearGradient id="q428"><stop offset=".00" stop-color="#186c7e"/><stop offset=".38" stop-color="#8afeff"/><stop offset=".58" stop-color="#20889e"/><stop offset="1.00" stop-color="#0c3840"/></linearGradient>
<radialGradient id="g23" cx="0.3419" cy="0.3213" r="0.7000" fx="0.3850" fy="0.3700"><stop offset="0.014" stop-color="#fcffff"/><stop offset="0.032" stop-color="#f5ffff"/><stop offset="0.051" stop-color="#e8ffff"/><stop offset="0.070" stop-color="#d6ffff"/><stop offset="0.090" stop-color="#bdffff"/><stop offset="0.109" stop-color="#a7ffff"/><stop offset="0.127" stop-color="#8efdff"/><stop offset="0.148" stop-color="#75f1fe"/><stop offset="0.169" stop-color="#5fddfb"/><stop offset="0.189" stop-color="#4bc9ee"/><stop offset="0.226" stop-color="#33b0d5"/><stop offset="0.275" stop-color="#229dc1"/><stop offset="0.325" stop-color="#1b93b7"/><stop offset="0.376" stop-color="#188caf"/><stop offset="0.425" stop-color="#1785a6"/><stop offset="0.475" stop-color="#157d9c"/><stop offset="0.525" stop-color="#147693"/><stop offset="0.575" stop-color="#126e89"/><stop offset="0.625" stop-color="#11667f"/><stop offset="0.675" stop-color="#105d74"/><stop offset="0.725" stop-color="#0e5468"/><stop offset="0.776" stop-color="#0c4a5c"/><stop offset="0.825" stop-color="#0b3f4f"/><stop offset="0.875" stop-color="#093744"/><stop offset="0.925" stop-color="#093543"/><stop offset="0.984" stop-color="#093543"/></radialGradient>
<clipPath id="c24"><path d="M488.00,416.60 L489.00,416.74 L489.40,416.88 L489.69,417.01 L489.93,417.15 L490.14,417.29 L490.32,417.43 L490.47,417.56 L490.61,417.70 L490.73,417.84 L490.84,417.98 L490.94,418.11 L491.03,418.25 L491.11,418.39 L491.18,418.52 L491.24,418.66 L491.30,418.80 L491.35,418.94 L491.39,419.07 L491.42,419.21 L491.45,419.35 L491.47,419.49 L491.49,419.62 L491.50,419.76 L491.50,419.90 L491.50,420.12 L491.48,420.34 L491.46,420.56 L491.42,420.78 L491.38,421.00 L491.32,421.22 L491.26,421.45 L491.18,421.67 L491.10,421.89 L491.01,422.11 L490.91,422.33 L490.79,422.55 L490.67,422.77 L490.55,422.99 L490.41,423.21 L490.26,423.43 L490.11,423.65 L489.95,423.88 L489.78,424.10 L489.61,424.32 L489.43,424.54 L489.25,424.76 L489.07,424.98 L488.90,425.20 L489.30,429.00 L486.70,429.00 L487.10,425.20 L486.93,424.98 L486.75,424.76 L486.57,424.54 L486.39,424.32 L486.22,424.10 L486.05,423.88 L485.89,423.65 L485.74,423.43 L485.59,423.21 L485.45,422.99 L485.33,422.77 L485.21,422.55 L485.09,422.33 L484.99,422.11 L484.90,421.89 L484.82,421.67 L484.74,421.45 L484.68,421.22 L484.62,421.00 L484.58,420.78 L484.54,420.56 L484.52,420.34 L484.50,420.12 L484.50,419.90 L484.50,419.76 L484.51,419.62 L484.53,419.49 L484.55,419.35 L484.58,419.21 L484.61,419.07 L484.65,418.94 L484.70,418.80 L484.76,418.66 L484.82,418.52 L484.89,418.39 L484.97,418.25 L485.06,418.11 L485.16,417.98 L485.27,417.84 L485.39,417.70 L485.53,417.56 L485.68,417.43 L485.86,417.29 L486.07,417.15 L486.31,417.01 L486.60,416.88 L487.00,416.74 L488.00,416.60Z"/></clipPath>
<linearGradient id="q429"><stop offset=".00" stop-color="#b29032"/><stop offset=".42" stop-color="#fcd05a"/><stop offset=".88" stop-color="#947628"/><stop offset="1.00" stop-color="#4e3e16"/></linearGradient>
<linearGradient id="q430"><stop offset=".00" stop-color="#766020"/><stop offset=".10" stop-color="#aa882e"/><stop offset=".35" stop-color="#b28e30"/><stop offset="1.00" stop-color="#4c3e14"/></linearGradient>
<linearGradient id="q431"><stop offset=".00" stop-color="#544418"/><stop offset=".07" stop-color="#7e6422"/><stop offset=".27" stop-color="#8a7026"/><stop offset="1.00" stop-color="#4c3e14"/></linearGradient>
<linearGradient id="q432"><stop offset=".00" stop-color="#5a4818"/><stop offset=".07" stop-color="#846a24"/><stop offset=".27" stop-color="#927628"/><stop offset="1.00" stop-color="#4c3e14"/></linearGradient>
<linearGradient id="q433"><stop offset=".00" stop-color="#186c7c"/><stop offset=".38" stop-color="#82f6ff"/><stop offset=".58" stop-color="#20889e"/><stop offset="1.00" stop-color="#0c3840"/></linearGradient>
<radialGradient id="g25" cx="0.3419" cy="0.3213" r="0.7000" fx="0.3850" fy="0.3700"><stop offset="0.014" stop-color="#fcffff"/><stop offset="0.032" stop-color="#f5ffff"/><stop offset="0.051" stop-color="#e8ffff"/><stop offset="0.070" stop-color="#d6ffff"/><stop offset="0.090" stop-color="#bdffff"/><stop offset="0.109" stop-color="#a7ffff"/><stop offset="0.127" stop-color="#8efdff"/><stop offset="0.148" stop-color="#75f1fe"/><stop offset="0.169" stop-color="#5fddfb"/><stop offset="0.189" stop-color="#4bc9ee"/><stop offset="0.226" stop-color="#33b0d5"/><stop offset="0.275" stop-color="#229dc1"/><stop offset="0.325" stop-color="#1b93b7"/><stop offset="0.376" stop-color="#188caf"/><stop offset="0.425" stop-color="#1785a6"/><stop offset="0.475" stop-color="#157d9c"/><stop offset="0.525" stop-color="#147693"/><stop offset="0.575" stop-color="#126e89"/><stop offset="0.625" stop-color="#11667f"/><stop offset="0.675" stop-color="#105d74"/><stop offset="0.725" stop-color="#0e5468"/><stop offset="0.776" stop-color="#0c4a5c"/><stop offset="0.825" stop-color="#0b3f4f"/><stop offset="0.875" stop-color="#093744"/><stop offset="0.925" stop-color="#093543"/><stop offset="0.984" stop-color="#093543"/></radialGradient>
</defs>
<text x="60.3" y="14" class="ser thin" font-size="14" textLength="18.6" lengthAdjust="spacingAndGlyphs">(a)</text>
<text x="86.2" y="14" class="ser thin" font-size="14" textLength="106" lengthAdjust="spacingAndGlyphs">Curvature sensing</text>
<text x="38.2" y="30.8" class="sans bold" font-size="10">i</text>
<text x="100.8" y="30.8" class="sans bold" font-size="10">ii</text>
<text x="157.8" y="30.8" class="sans bold" font-size="10">iii</text>
<text x="47" y="42.8" class="ser" font-size="10" textLength="37.6" lengthAdjust="spacingAndGlyphs"><tspan font-style="italic">ϕ</tspan> = 0.15</text>
<line x1="47.8" y1="33.2" x2="51.6" y2="33.2" stroke="#333" stroke-width="0.7"/>
<path d="M92.10,94.80 L92.08,98.39 L92.03,101.04 L91.95,103.42 L91.83,105.64 L91.68,107.73 L91.49,109.73 L91.27,111.64 L91.02,113.48 L90.74,115.26 L90.42,116.97 L90.07,118.62 L89.68,120.21 L89.27,121.75 L88.82,123.24 L88.34,124.67 L87.83,126.05 L87.28,127.37 L86.71,128.64 L86.10,129.86 L85.47,131.03 L84.80,132.14 L84.10,133.19 L83.37,134.20 L82.61,135.15 L81.82,136.04 L81.00,136.88 L80.15,137.66 L79.27,138.38 L78.35,139.05 L77.41,139.67 L76.43,140.22 L75.41,140.72 L74.35,141.16 L73.26,141.54 L72.11,141.86 L70.91,142.13 L69.64,142.33 L68.28,142.48 L66.76,142.57 L64.70,142.60 L62.64,142.57 L61.12,142.48 L59.76,142.33 L58.49,142.13 L57.29,141.86 L56.14,141.54 L55.05,141.16 L53.99,140.72 L52.97,140.22 L51.99,139.67 L51.05,139.05 L50.13,138.38 L49.25,137.66 L48.40,136.88 L47.58,136.04 L46.79,135.15 L46.03,134.20 L45.30,133.19 L44.60,132.14 L43.93,131.03 L43.30,129.86 L42.69,128.64 L42.12,127.37 L41.57,126.05 L41.06,124.67 L40.58,123.24 L40.13,121.75 L39.72,120.21 L39.33,118.62 L38.98,116.97 L38.66,115.26 L38.38,113.48 L38.13,111.64 L37.91,109.73 L37.72,107.73 L37.57,105.64 L37.45,103.42 L37.37,101.04 L37.32,98.39 L37.30,94.80 L37.32,91.21 L37.37,88.56 L37.45,86.18 L37.57,83.96 L37.72,81.87 L37.91,79.87 L38.13,77.96 L38.38,76.12 L38.66,74.34 L38.98,72.63 L39.33,70.98 L39.72,69.39 L40.13,67.85 L40.58,66.36 L41.06,64.93 L41.57,63.55 L42.12,62.23 L42.69,60.96 L43.30,59.74 L43.93,58.57 L44.60,57.46 L45.30,56.41 L46.03,55.40 L46.79,54.45 L47.58,53.56 L48.40,52.72 L49.25,51.94 L50.13,51.22 L51.05,50.55 L51.99,49.93 L52.97,49.38 L53.99,48.88 L55.05,48.44 L56.14,48.06 L57.29,47.74 L58.49,47.47 L59.76,47.27 L61.12,47.12 L62.64,47.03 L64.70,47.00 L66.76,47.03 L68.28,47.12 L69.64,47.27 L70.91,47.47 L72.11,47.74 L73.26,48.06 L74.35,48.44 L75.41,48.88 L76.43,49.38 L77.41,49.93 L78.35,50.55 L79.27,51.22 L80.15,51.94 L81.00,52.72 L81.82,53.56 L82.61,54.45 L83.37,55.40 L84.10,56.41 L84.80,57.46 L85.47,58.57 L86.10,59.74 L86.71,60.96 L87.28,62.23 L87.83,63.55 L88.34,64.93 L88.82,66.36 L89.27,67.85 L89.68,69.39 L90.07,70.98 L90.42,72.63 L90.74,74.34 L91.02,76.12 L91.27,77.96 L91.49,79.87 L91.68,81.87 L91.83,83.96 L91.95,86.18 L92.03,88.56 L92.08,91.21Z" fill="#184038"/><g clip-path="url(#c1)"><g filter="url(#vblur)"><rect x="56.35" y="47" width="16.69" height="2" fill="url(#q1)"/><rect x="51.89" y="49" width="25.62" height="2" fill="url(#q2)"/><rect x="49.19" y="51" width="31.03" height="2" fill="url(#q3)"/><rect x="47.19" y="53" width="35.02" height="2" fill="url(#q4)"/><rect x="45.60" y="55" width="38.21" height="2" fill="url(#q5)"/><rect x="44.28" y="57" width="40.84" height="2" fill="url(#q6)"/><rect x="43.17" y="59" width="43.06" height="2" fill="url(#q7)"/><rect x="42.22" y="61" width="44.96" height="2" fill="url(#q8)"/><rect x="41.41" y="63" width="46.59" height="2" fill="url(#q9)"/><rect x="40.70" y="65" width="48.00" height="2" fill="url(#q10)"/><rect x="40.09" y="67" width="49.22" height="2" fill="url(#q11)"/><rect x="39.57" y="69" width="50.26" height="2" fill="url(#q12)"/><rect x="39.12" y="71" width="51.17" height="2" fill="url(#q13)"/><rect x="38.73" y="73" width="51.94" height="2" fill="url(#q14)"/><rect x="38.40" y="75" width="52.61" height="2" fill="url(#q15)"/><rect x="38.12" y="77" width="53.16" height="2" fill="url(#q16)"/><rect x="37.90" y="79" width="53.61" height="2" fill="url(#q17)"/><rect x="37.71" y="81" width="53.97" height="2" fill="url(#q18)"/><rect x="37.57" y="83" width="54.26" height="2" fill="url(#q19)"/><rect x="37.46" y="85" width="54.48" height="2" fill="url(#q20)"/><rect x="37.39" y="87" width="54.63" height="2" fill="url(#q21)"/><rect x="37.34" y="89" width="54.72" height="2" fill="url(#q22)"/><rect x="37.31" y="91" width="54.77" height="2" fill="url(#q23)"/><rect x="37.30" y="93" width="54.79" height="2" fill="url(#q23)"/><rect x="37.31" y="95" width="54.79" height="2" fill="url(#q24)"/><rect x="37.32" y="97" width="54.77" height="2" fill="url(#q25)"/><rect x="37.35" y="99" width="54.70" height="2" fill="url(#q26)"/><rect x="37.40" y="101" width="54.60" height="2" fill="url(#q27)"/><rect x="37.48" y="103" width="54.43" height="2" fill="url(#q28)"/><rect x="37.60" y="105" width="54.21" height="2" fill="url(#q29)"/><rect x="37.75" y="107" width="53.91" height="2" fill="url(#q30)"/><rect x="37.94" y="109" width="53.52" height="2" fill="url(#q31)"/><rect x="38.18" y="111" width="53.05" height="2" fill="url(#q32)"/><rect x="38.46" y="113" width="52.48" height="2" fill="url(#q33)"/><rect x="38.80" y="115" width="51.80" height="2" fill="url(#q34)"/><rect x="39.20" y="117" width="51.00" height="2" fill="url(#q35)"/><rect x="39.67" y="119" width="50.07" height="2" fill="url(#q36)"/><rect x="40.21" y="121" width="48.99" height="2" fill="url(#q37)"/><rect x="40.84" y="123" width="47.73" height="2" fill="url(#q38)"/><rect x="41.56" y="125" width="46.29" height="2" fill="url(#q39)"/><rect x="42.40" y="127" width="44.60" height="2" fill="url(#q40)"/><rect x="43.37" y="129" width="42.65" height="2" fill="url(#q41)"/><rect x="44.52" y="131" width="40.36" height="2" fill="url(#q42)"/><rect x="45.89" y="133" width="37.63" height="2" fill="url(#q43)"/><rect x="47.54" y="135" width="34.31" height="2" fill="url(#q44)"/><rect x="49.66" y="137" width="30.07" height="2" fill="url(#q45)"/><rect x="52.58" y="139" width="24.23" height="2" fill="url(#q46)"/><rect x="57.91" y="141" width="13.59" height="2" fill="url(#q46)"/></g></g>
<path d="M151.70,95.90 L151.68,99.49 L151.63,102.14 L151.55,104.52 L151.43,106.74 L151.28,108.83 L151.09,110.83 L150.87,112.74 L150.62,114.58 L150.33,116.36 L150.01,118.07 L149.66,119.72 L149.27,121.31 L148.86,122.85 L148.41,124.34 L147.93,125.77 L147.41,127.15 L146.87,128.47 L146.29,129.74 L145.68,130.96 L145.04,132.13 L144.37,133.24 L143.67,134.29 L142.94,135.30 L142.18,136.25 L141.38,137.14 L140.56,137.98 L139.71,138.76 L138.82,139.48 L137.90,140.15 L136.95,140.77 L135.97,141.32 L134.95,141.82 L133.89,142.26 L132.79,142.64 L131.64,142.96 L130.43,143.23 L129.16,143.43 L127.79,143.58 L126.26,143.67 L124.20,143.70 L122.14,143.67 L120.61,143.58 L119.24,143.43 L117.97,143.23 L116.76,142.96 L115.61,142.64 L114.51,142.26 L113.45,141.82 L112.43,141.32 L111.45,140.77 L110.50,140.15 L109.58,139.48 L108.69,138.76 L107.84,137.98 L107.02,137.14 L106.22,136.25 L105.46,135.30 L104.73,134.29 L104.03,133.24 L103.36,132.13 L102.72,130.96 L102.11,129.74 L101.53,128.47 L100.99,127.15 L100.47,125.77 L99.99,124.34 L99.54,122.85 L99.13,121.31 L98.74,119.72 L98.39,118.07 L98.07,116.36 L97.78,114.58 L97.53,112.74 L97.31,110.83 L97.12,108.83 L96.97,106.74 L96.85,104.52 L96.77,102.14 L96.72,99.49 L96.70,95.90 L96.72,92.31 L96.77,89.66 L96.85,87.28 L96.97,85.06 L97.12,82.97 L97.31,80.97 L97.53,79.06 L97.78,77.22 L98.07,75.44 L98.39,73.73 L98.74,72.08 L99.13,70.49 L99.54,68.95 L99.99,67.46 L100.47,66.03 L100.99,64.65 L101.53,63.33 L102.11,62.06 L102.72,60.84 L103.36,59.67 L104.03,58.56 L104.73,57.51 L105.46,56.50 L106.22,55.55 L107.02,54.66 L107.84,53.82 L108.69,53.04 L109.58,52.32 L110.50,51.65 L111.45,51.03 L112.43,50.48 L113.45,49.98 L114.51,49.54 L115.61,49.16 L116.76,48.84 L117.97,48.57 L119.24,48.37 L120.61,48.22 L122.14,48.13 L124.20,48.10 L126.26,48.13 L127.79,48.22 L129.16,48.37 L130.43,48.57 L131.64,48.84 L132.79,49.16 L133.89,49.54 L134.95,49.98 L135.97,50.48 L136.95,51.03 L137.90,51.65 L138.82,52.32 L139.71,53.04 L140.56,53.82 L141.38,54.66 L142.18,55.55 L142.94,56.50 L143.67,57.51 L144.37,58.56 L145.04,59.67 L145.68,60.84 L146.29,62.06 L146.87,63.33 L147.41,64.65 L147.93,66.03 L148.41,67.46 L148.86,68.95 L149.27,70.49 L149.66,72.08 L150.01,73.73 L150.33,75.44 L150.62,77.22 L150.87,79.06 L151.09,80.97 L151.28,82.97 L151.43,85.06 L151.55,87.28 L151.63,89.66 L151.68,92.31Z" fill="#0e3b3d"/><g clip-path="url(#c2)"><g filter="url(#vblur)"><rect x="116.18" y="48" width="16.04" height="2" fill="url(#q47)"/><rect x="111.51" y="50" width="25.39" height="2" fill="url(#q48)"/><rect x="108.74" y="52" width="30.91" height="2" fill="url(#q49)"/><rect x="106.72" y="54" width="34.97" height="2" fill="url(#q50)"/><rect x="105.10" y="56" width="38.20" height="2" fill="url(#q51)"/><rect x="103.77" y="58" width="40.87" height="2" fill="url(#q52)"/><rect x="102.64" y="60" width="43.12" height="2" fill="url(#q53)"/><rect x="101.68" y="62" width="45.03" height="2" fill="url(#q54)"/><rect x="100.86" y="64" width="46.68" height="2" fill="url(#q55)"/><rect x="100.15" y="66" width="48.10" height="2" fill="url(#q56)"/><rect x="99.53" y="68" width="49.34" height="2" fill="url(#q57)"/><rect x="99.00" y="70" width="50.40" height="2" fill="url(#q58)"/><rect x="98.54" y="72" width="51.31" height="2" fill="url(#q59)"/><rect x="98.15" y="74" width="52.10" height="2" fill="url(#q60)"/><rect x="97.82" y="76" width="52.77" height="2" fill="url(#q61)"/><rect x="97.54" y="78" width="53.33" height="2" fill="url(#q62)"/><rect x="97.31" y="80" width="53.79" height="2" fill="url(#q63)"/><rect x="97.12" y="82" width="54.16" height="2" fill="url(#q64)"/><rect x="96.98" y="84" width="54.45" height="2" fill="url(#q65)"/><rect x="96.87" y="86" width="54.66" height="2" fill="url(#q66)"/><rect x="96.79" y="88" width="54.82" height="2" fill="url(#q67)"/><rect x="96.74" y="90" width="54.92" height="2" fill="url(#q68)"/><rect x="96.71" y="92" width="54.97" height="2" fill="url(#q69)"/><rect x="96.70" y="94" width="54.99" height="2" fill="url(#q70)"/><rect x="96.71" y="96" width="54.99" height="2" fill="url(#q71)"/><rect x="96.71" y="98" width="54.97" height="2" fill="url(#q72)"/><rect x="96.75" y="100" width="54.91" height="2" fill="url(#q73)"/><rect x="96.80" y="102" width="54.80" height="2" fill="url(#q74)"/><rect x="96.88" y="104" width="54.64" height="2" fill="url(#q75)"/><rect x="96.99" y="106" width="54.42" height="2" fill="url(#q76)"/><rect x="97.14" y="108" width="54.12" height="2" fill="url(#q77)"/><rect x="97.33" y="110" width="53.74" height="2" fill="url(#q78)"/><rect x="97.56" y="112" width="53.27" height="2" fill="url(#q79)"/><rect x="97.85" y="114" width="52.70" height="2" fill="url(#q80)"/><rect x="98.19" y="116" width="52.02" height="2" fill="url(#q81)"/><rect x="98.59" y="118" width="51.23" height="2" fill="url(#q82)"/><rect x="99.05" y="120" width="50.30" height="2" fill="url(#q83)"/><rect x="99.59" y="122" width="49.23" height="2" fill="url(#q84)"/><rect x="100.22" y="124" width="47.97" height="2" fill="url(#q85)"/><rect x="100.93" y="126" width="46.53" height="2" fill="url(#q86)"/><rect x="101.77" y="128" width="44.85" height="2" fill="url(#q87)"/><rect x="102.74" y="130" width="42.92" height="2" fill="url(#q88)"/><rect x="103.89" y="132" width="40.63" height="2" fill="url(#q89)"/><rect x="105.24" y="134" width="37.91" height="2" fill="url(#q90)"/><rect x="106.89" y="136" width="34.61" height="2" fill="url(#q91)"/><rect x="108.99" y="138" width="30.42" height="2" fill="url(#q92)"/><rect x="111.86" y="140" width="24.68" height="2" fill="url(#q93)"/><rect x="116.93" y="142" width="14.55" height="2" fill="url(#q94)"/></g></g>
<path d="M210.90,95.50 L210.88,99.10 L210.83,101.77 L210.75,104.16 L210.62,106.38 L210.47,108.48 L210.28,110.49 L210.06,112.41 L209.80,114.26 L209.51,116.04 L209.19,117.76 L208.83,119.42 L208.44,121.02 L208.02,122.57 L207.56,124.06 L207.07,125.49 L206.55,126.88 L206.00,128.21 L205.41,129.48 L204.79,130.71 L204.14,131.88 L203.46,132.99 L202.75,134.05 L202.01,135.06 L201.24,136.01 L200.43,136.91 L199.60,137.75 L198.73,138.54 L197.83,139.27 L196.90,139.94 L195.94,140.55 L194.94,141.11 L193.90,141.61 L192.83,142.05 L191.71,142.44 L190.55,142.76 L189.33,143.03 L188.03,143.23 L186.64,143.38 L185.09,143.47 L183.00,143.50 L180.91,143.47 L179.36,143.38 L177.97,143.23 L176.67,143.03 L175.45,142.76 L174.29,142.44 L173.17,142.05 L172.10,141.61 L171.06,141.11 L170.06,140.55 L169.10,139.94 L168.17,139.27 L167.27,138.54 L166.40,137.75 L165.57,136.91 L164.76,136.01 L163.99,135.06 L163.25,134.05 L162.54,132.99 L161.86,131.88 L161.21,130.71 L160.59,129.48 L160.00,128.21 L159.45,126.88 L158.93,125.49 L158.44,124.06 L157.98,122.57 L157.56,121.02 L157.17,119.42 L156.81,117.76 L156.49,116.04 L156.20,114.26 L155.94,112.41 L155.72,110.49 L155.53,108.48 L155.38,106.38 L155.25,104.16 L155.17,101.77 L155.12,99.10 L155.10,95.50 L155.12,91.90 L155.17,89.23 L155.25,86.84 L155.38,84.62 L155.53,82.52 L155.72,80.51 L155.94,78.59 L156.20,76.74 L156.49,74.96 L156.81,73.24 L157.17,71.58 L157.56,69.98 L157.98,68.43 L158.44,66.94 L158.93,65.51 L159.45,64.12 L160.00,62.79 L160.59,61.52 L161.21,60.29 L161.86,59.12 L162.54,58.01 L163.25,56.95 L163.99,55.94 L164.76,54.99 L165.57,54.09 L166.40,53.25 L167.27,52.46 L168.17,51.73 L169.10,51.06 L170.06,50.45 L171.06,49.89 L172.10,49.39 L173.17,48.95 L174.29,48.56 L175.45,48.24 L176.67,47.97 L177.97,47.77 L179.36,47.62 L180.91,47.53 L183.00,47.50 L185.09,47.53 L186.64,47.62 L188.03,47.77 L189.33,47.97 L190.55,48.24 L191.71,48.56 L192.83,48.95 L193.90,49.39 L194.94,49.89 L195.94,50.45 L196.90,51.06 L197.83,51.73 L198.73,52.46 L199.60,53.25 L200.43,54.09 L201.24,54.99 L202.01,55.94 L202.75,56.95 L203.46,58.01 L204.14,59.12 L204.79,60.29 L205.41,61.52 L206.00,62.79 L206.55,64.12 L207.07,65.51 L207.56,66.94 L208.02,68.43 L208.44,69.98 L208.83,71.58 L209.19,73.24 L209.51,74.96 L209.80,76.74 L210.06,78.59 L210.28,80.51 L210.47,82.52 L210.62,84.62 L210.75,86.84 L210.83,89.23 L210.88,91.90Z" fill="#093845"/><g clip-path="url(#c3)"><g filter="url(#vblur)"><rect x="176.55" y="47" width="12.90" height="2" fill="url(#q95)"/><rect x="170.86" y="49" width="24.28" height="2" fill="url(#q96)"/><rect x="167.84" y="51" width="30.32" height="2" fill="url(#q97)"/><rect x="165.65" y="53" width="34.69" height="2" fill="url(#q98)"/><rect x="163.94" y="55" width="38.11" height="2" fill="url(#q99)"/><rect x="162.54" y="57" width="40.92" height="2" fill="url(#q100)"/><rect x="161.37" y="59" width="43.26" height="2" fill="url(#q101)"/><rect x="160.37" y="61" width="45.26" height="2" fill="url(#q102)"/><rect x="159.50" y="63" width="47.00" height="2" fill="url(#q103)"/><rect x="158.76" y="65" width="48.48" height="2" fill="url(#q104)"/><rect x="158.12" y="67" width="49.77" height="2" fill="url(#q105)"/><rect x="157.56" y="69" width="50.89" height="2" fill="url(#q106)"/><rect x="157.08" y="71" width="51.84" height="2" fill="url(#q107)"/><rect x="156.67" y="73" width="52.66" height="2" fill="url(#q108)"/><rect x="156.32" y="75" width="53.36" height="2" fill="url(#q109)"/><rect x="156.02" y="77" width="53.95" height="2" fill="url(#q110)"/><rect x="155.78" y="79" width="54.44" height="2" fill="url(#q111)"/><rect x="155.58" y="81" width="54.84" height="2" fill="url(#q112)"/><rect x="155.42" y="83" width="55.16" height="2" fill="url(#q113)"/><rect x="155.30" y="85" width="55.40" height="2" fill="url(#q114)"/><rect x="155.21" y="87" width="55.57" height="2" fill="url(#q115)"/><rect x="155.15" y="89" width="55.69" height="2" fill="url(#q116)"/><rect x="155.12" y="91" width="55.77" height="2" fill="url(#q117)"/><rect x="155.11" y="93" width="55.79" height="2" fill="url(#q118)"/><rect x="155.10" y="95" width="55.80" height="2" fill="url(#q119)"/><rect x="155.11" y="97" width="55.78" height="2" fill="url(#q120)"/><rect x="155.13" y="99" width="55.73" height="2" fill="url(#q121)"/><rect x="155.18" y="101" width="55.65" height="2" fill="url(#q122)"/><rect x="155.25" y="103" width="55.50" height="2" fill="url(#q123)"/><rect x="155.35" y="105" width="55.29" height="2" fill="url(#q124)"/><rect x="155.49" y="107" width="55.01" height="2" fill="url(#q125)"/><rect x="155.67" y="109" width="54.66" height="2" fill="url(#q126)"/><rect x="155.89" y="111" width="54.21" height="2" fill="url(#q127)"/><rect x="156.16" y="113" width="53.68" height="2" fill="url(#q128)"/><rect x="156.48" y="115" width="53.04" height="2" fill="url(#q129)"/><rect x="156.86" y="117" width="52.27" height="2" fill="url(#q130)"/><rect x="157.31" y="119" width="51.38" height="2" fill="url(#q131)"/><rect x="157.83" y="121" width="50.34" height="2" fill="url(#q132)"/><rect x="158.42" y="123" width="49.15" height="2" fill="url(#q133)"/><rect x="159.12" y="125" width="47.76" height="2" fill="url(#q134)"/><rect x="159.92" y="127" width="46.16" height="2" fill="url(#q135)"/><rect x="160.85" y="129" width="44.30" height="2" fill="url(#q136)"/><rect x="161.93" y="131" width="42.14" height="2" fill="url(#q137)"/><rect x="163.21" y="133" width="39.58" height="2" fill="url(#q138)"/><rect x="164.75" y="135" width="36.50" height="2" fill="url(#q139)"/><rect x="166.67" y="137" width="32.65" height="2" fill="url(#q140)"/><rect x="169.19" y="139" width="27.61" height="2" fill="url(#q141)"/><rect x="173.04" y="141" width="19.92" height="2" fill="url(#q142)"/></g></g>
<rect x="228" y="31.6" width="8.2" height="120.8" fill="url(#parV)"/>
<text x="212.6" y="45.6" class="sans" font-size="10">0.2</text>
<text x="212.6" y="152.2" class="sans" font-size="10">0.1</text>
<text x="228.6" y="26.8" class="ser" font-style="italic" font-size="18.5">ϕ</text>
<text x="347.3" y="14" class="ser thin" font-size="14" textLength="18.6" lengthAdjust="spacingAndGlyphs">(b)</text>
<text x="374.9" y="14" class="ser thin" font-size="14" textLength="129.5" lengthAdjust="spacingAndGlyphs">Curvature generation</text>
<text x="270.3" y="30" class="sans bold" font-size="10">i</text>
<text x="330.6" y="30" class="sans bold" font-size="10">ii</text>
<text x="390.6" y="30" class="sans bold" font-size="10">iii</text>
<text x="451.3" y="30" class="sans bold" font-size="10">iv</text>
<text x="513.5" y="30" class="sans bold" font-size="10">v</text>
<text x="275.3" y="42.8" class="ser" font-size="10" textLength="37.1" lengthAdjust="spacingAndGlyphs"><tspan font-style="italic">ϕ</tspan> = 0.35</text>
<line x1="276.1" y1="33.2" x2="279.9" y2="33.2" stroke="#333" stroke-width="0.7"/>
<path d="M320.40,94.10 L320.38,97.18 L320.33,99.58 L320.25,101.77 L320.13,103.84 L319.98,105.81 L319.79,107.70 L319.57,109.52 L319.32,111.28 L319.03,112.98 L318.71,114.62 L318.36,116.22 L317.98,117.77 L317.56,119.26 L317.12,120.71 L316.64,122.10 L316.13,123.45 L315.58,124.75 L315.01,125.99 L314.41,127.19 L313.78,128.34 L313.12,129.43 L312.42,130.47 L311.70,131.46 L310.95,132.40 L310.18,133.29 L309.37,134.11 L308.53,134.89 L307.67,135.61 L306.78,136.27 L305.86,136.88 L304.90,137.43 L303.92,137.93 L302.91,138.37 L301.85,138.75 L300.76,139.07 L299.63,139.33 L298.43,139.54 L297.17,139.68 L295.78,139.77 L294.00,139.80 L292.22,139.77 L290.83,139.68 L289.57,139.54 L288.37,139.33 L287.24,139.07 L286.15,138.75 L285.09,138.37 L284.08,137.93 L283.10,137.43 L282.14,136.88 L281.22,136.27 L280.33,135.61 L279.47,134.89 L278.63,134.11 L277.82,133.29 L277.05,132.40 L276.30,131.46 L275.58,130.47 L274.88,129.43 L274.22,128.34 L273.59,127.19 L272.99,125.99 L272.42,124.75 L271.87,123.45 L271.36,122.10 L270.88,120.71 L270.44,119.26 L270.02,117.77 L269.64,116.22 L269.29,114.62 L268.97,112.98 L268.68,111.28 L268.43,109.52 L268.21,107.70 L268.02,105.81 L267.87,103.84 L267.75,101.77 L267.67,99.58 L267.62,97.18 L267.60,94.10 L267.62,91.02 L267.67,88.62 L267.75,86.43 L267.87,84.36 L268.02,82.39 L268.21,80.50 L268.43,78.68 L268.68,76.92 L268.97,75.22 L269.29,73.58 L269.64,71.98 L270.02,70.43 L270.44,68.94 L270.88,67.49 L271.36,66.10 L271.87,64.75 L272.42,63.45 L272.99,62.21 L273.59,61.01 L274.22,59.86 L274.88,58.77 L275.58,57.73 L276.30,56.74 L277.05,55.80 L277.82,54.91 L278.63,54.09 L279.47,53.31 L280.33,52.59 L281.22,51.93 L282.14,51.32 L283.10,50.77 L284.08,50.27 L285.09,49.83 L286.15,49.45 L287.24,49.13 L288.37,48.87 L289.57,48.66 L290.83,48.52 L292.22,48.43 L294.00,48.40 L295.78,48.43 L297.17,48.52 L298.43,48.66 L299.63,48.87 L300.76,49.13 L301.85,49.45 L302.91,49.83 L303.92,50.27 L304.90,50.77 L305.86,51.32 L306.78,51.93 L307.67,52.59 L308.53,53.31 L309.37,54.09 L310.18,54.91 L310.95,55.80 L311.70,56.74 L312.42,57.73 L313.12,58.77 L313.78,59.86 L314.41,61.01 L315.01,62.21 L315.58,63.45 L316.13,64.75 L316.64,66.10 L317.12,67.49 L317.56,68.94 L317.98,70.43 L318.36,71.98 L318.71,73.58 L319.03,75.22 L319.32,76.92 L319.57,78.68 L319.79,80.50 L319.98,82.39 L320.13,84.36 L320.25,86.43 L320.33,88.62 L320.38,91.02Z" fill="#093543"/><g clip-path="url(#c4)"><g filter="url(#vblur)"><rect x="287.81" y="48" width="12.38" height="2" fill="url(#q143)"/><rect x="282.69" y="50" width="22.62" height="2" fill="url(#q144)"/><rect x="279.84" y="52" width="28.33" height="2" fill="url(#q145)"/><rect x="277.75" y="54" width="32.50" height="2" fill="url(#q146)"/><rect x="276.10" y="56" width="35.79" height="2" fill="url(#q147)"/><rect x="274.74" y="58" width="38.51" height="2" fill="url(#q148)"/><rect x="273.60" y="60" width="40.81" height="2" fill="url(#q149)"/><rect x="272.62" y="62" width="42.75" height="2" fill="url(#q150)"/><rect x="271.78" y="64" width="44.44" height="2" fill="url(#q151)"/><rect x="271.05" y="66" width="45.89" height="2" fill="url(#q152)"/><rect x="270.42" y="68" width="47.16" height="2" fill="url(#q153)"/><rect x="269.88" y="70" width="48.24" height="2" fill="url(#q154)"/><rect x="269.41" y="72" width="49.18" height="2" fill="url(#q155)"/><rect x="269.01" y="74" width="49.98" height="2" fill="url(#q156)"/><rect x="268.67" y="76" width="50.66" height="2" fill="url(#q157)"/><rect x="268.39" y="78" width="51.22" height="2" fill="url(#q158)"/><rect x="268.16" y="80" width="51.68" height="2" fill="url(#q159)"/><rect x="267.98" y="82" width="52.05" height="2" fill="url(#q160)"/><rect x="267.83" y="84" width="52.33" height="2" fill="url(#q161)"/><rect x="267.73" y="86" width="52.54" height="2" fill="url(#q162)"/><rect x="267.66" y="88" width="52.68" height="2" fill="url(#q163)"/><rect x="267.62" y="90" width="52.77" height="2" fill="url(#q164)"/><rect x="267.61" y="92" width="52.79" height="2" fill="url(#q165)"/><rect x="267.60" y="94" width="52.79" height="2" fill="url(#q166)"/><rect x="267.62" y="96" width="52.77" height="2" fill="url(#q167)"/><rect x="267.66" y="98" width="52.69" height="2" fill="url(#q168)"/><rect x="267.72" y="100" width="52.55" height="2" fill="url(#q169)"/><rect x="267.82" y="102" width="52.35" height="2" fill="url(#q170)"/><rect x="267.96" y="104" width="52.08" height="2" fill="url(#q171)"/><rect x="268.14" y="106" width="51.72" height="2" fill="url(#q172)"/><rect x="268.37" y="108" width="51.27" height="2" fill="url(#q173)"/><rect x="268.64" y="110" width="50.72" height="2" fill="url(#q174)"/><rect x="268.97" y="112" width="50.06" height="2" fill="url(#q175)"/><rect x="269.37" y="114" width="49.26" height="2" fill="url(#q176)"/><rect x="269.83" y="116" width="48.34" height="2" fill="url(#q177)"/><rect x="270.36" y="118" width="47.27" height="2" fill="url(#q178)"/><rect x="270.98" y="120" width="46.03" height="2" fill="url(#q179)"/><rect x="271.70" y="122" width="44.59" height="2" fill="url(#q180)"/><rect x="272.53" y="124" width="42.94" height="2" fill="url(#q181)"/><rect x="273.49" y="126" width="41.01" height="2" fill="url(#q182)"/><rect x="274.62" y="128" width="38.75" height="2" fill="url(#q183)"/><rect x="275.96" y="130" width="36.08" height="2" fill="url(#q184)"/><rect x="277.57" y="132" width="32.86" height="2" fill="url(#q185)"/><rect x="279.60" y="134" width="28.81" height="2" fill="url(#q186)"/><rect x="282.35" y="136" width="23.31" height="2" fill="url(#q187)"/><rect x="287.01" y="138" width="13.98" height="2" fill="url(#q187)"/></g></g>
<path d="M354.10,49.50 L354.78,49.52 L355.47,49.58 L356.17,49.68 L356.87,49.81 L357.55,49.97 L358.21,50.16 L358.83,50.37 L359.40,50.60 L359.91,50.85 L360.38,51.13 L360.80,51.43 L361.20,51.76 L361.59,52.11 L361.97,52.48 L362.37,52.88 L362.80,53.30 L363.26,53.75 L363.74,54.25 L364.24,54.77 L364.73,55.31 L365.22,55.87 L365.68,56.42 L366.11,56.97 L366.50,57.50 L366.83,57.99 L367.11,58.43 L367.35,58.86 L367.57,59.29 L367.79,59.76 L368.03,60.28 L368.29,60.89 L368.60,61.60 L368.96,62.44 L369.35,63.38 L369.76,64.40 L370.19,65.49 L370.63,66.60 L371.07,67.73 L371.49,68.83 L371.90,69.90 L372.29,70.95 L372.69,72.03 L373.07,73.12 L373.46,74.21 L373.83,75.27 L374.20,76.30 L374.56,77.28 L374.90,78.20 L375.22,79.03 L375.52,79.76 L375.80,80.44 L376.07,81.09 L376.35,81.74 L376.64,82.43 L376.96,83.17 L377.30,84.00 L377.68,84.92 L378.09,85.89 L378.52,86.91 L378.97,87.97 L379.42,89.06 L379.86,90.16 L380.29,91.28 L380.70,92.40 L381.10,93.53 L381.50,94.70 L381.89,95.88 L382.28,97.08 L382.65,98.29 L383.00,99.50 L383.32,100.70 L383.60,101.90 L383.85,103.09 L384.07,104.28 L384.26,105.46 L384.43,106.65 L384.58,107.84 L384.70,109.03 L384.81,110.21 L384.90,111.40 L384.98,112.59 L385.07,113.78 L385.14,114.96 L385.18,116.15 L385.19,117.34 L385.16,118.53 L385.06,119.71 L384.90,120.90 L384.67,122.11 L384.38,123.36 L384.04,124.63 L383.66,125.89 L383.22,127.12 L382.75,128.29 L382.24,129.39 L381.70,130.40 L381.13,131.31 L380.54,132.15 L379.91,132.92 L379.24,133.64 L378.53,134.31 L377.75,134.93 L376.91,135.53 L376.00,136.10 L375.01,136.64 L373.93,137.14 L372.79,137.59 L371.59,138.01 L370.35,138.40 L369.08,138.76 L367.79,139.09 L366.50,139.40 L365.18,139.69 L363.81,139.97 L362.41,140.22 L360.98,140.44 L359.55,140.62 L358.11,140.76 L356.69,140.86 L355.30,140.90 L353.92,140.89 L352.54,140.82 L351.15,140.71 L349.78,140.56 L348.42,140.37 L347.09,140.15 L345.78,139.89 L344.50,139.60 L343.25,139.28 L342.01,138.93 L340.79,138.55 L339.59,138.12 L338.43,137.67 L337.31,137.18 L336.23,136.66 L335.20,136.10 L334.22,135.52 L333.27,134.92 L332.37,134.29 L331.51,133.63 L330.69,132.91 L329.91,132.14 L329.18,131.31 L328.50,130.40 L327.86,129.39 L327.27,128.29 L326.72,127.12 L326.21,125.89 L325.76,124.63 L325.35,123.36 L325.00,122.11 L324.70,120.90 L324.47,119.71 L324.31,118.53 L324.20,117.34 L324.14,116.15 L324.13,114.96 L324.14,113.78 L324.16,112.59 L324.20,111.40 L324.25,110.20 L324.34,108.99 L324.45,107.77 L324.59,106.55 L324.74,105.35 L324.92,104.16 L325.10,103.01 L325.30,101.90 L325.51,100.84 L325.73,99.81 L325.97,98.82 L326.23,97.86 L326.50,96.90 L326.79,95.94 L327.09,94.98 L327.40,94.00 L327.73,93.00 L328.09,92.00 L328.46,91.00 L328.85,89.99 L329.24,88.99 L329.64,87.99 L330.02,86.99 L330.40,86.00 L330.77,85.02 L331.13,84.05 L331.49,83.08 L331.86,82.12 L332.22,81.15 L332.58,80.18 L332.94,79.20 L333.30,78.20 L333.66,77.19 L334.02,76.16 L334.38,75.12 L334.74,74.08 L335.10,73.03 L335.46,71.99 L335.83,70.94 L336.20,69.90 L336.59,68.83 L336.99,67.73 L337.40,66.60 L337.81,65.49 L338.22,64.40 L338.60,63.38 L338.97,62.44 L339.30,61.60 L339.59,60.89 L339.83,60.28 L340.04,59.76 L340.24,59.29 L340.44,58.86 L340.65,58.43 L340.90,57.99 L341.20,57.50 L341.54,56.97 L341.90,56.42 L342.29,55.87 L342.70,55.31 L343.13,54.77 L343.57,54.25 L344.03,53.75 L344.50,53.30 L344.98,52.88 L345.48,52.48 L346.00,52.11 L346.52,51.76 L347.07,51.43 L347.63,51.13 L348.21,50.85 L348.80,50.60 L349.41,50.37 L350.05,50.16 L350.71,49.97 L351.39,49.81 L352.07,49.68 L352.75,49.58 L353.43,49.52Z" fill="#093543"/><g clip-path="url(#c5)"><g filter="url(#vblur)"><rect x="350.62" y="49" width="7.02" height="2" fill="url(#q188)"/><rect x="346.16" y="51" width="15.31" height="2" fill="url(#q189)"/><rect x="343.80" y="53" width="19.70" height="2" fill="url(#q190)"/><rect x="342.20" y="55" width="23.13" height="2" fill="url(#q191)"/><rect x="340.90" y="57" width="25.94" height="2" fill="url(#q192)"/><rect x="339.94" y="59" width="27.96" height="2" fill="url(#q193)"/><rect x="339.14" y="61" width="29.63" height="2" fill="url(#q194)"/><rect x="338.37" y="63" width="31.23" height="2" fill="url(#q195)"/><rect x="337.62" y="65" width="32.77" height="2" fill="url(#q196)"/><rect x="336.89" y="67" width="34.28" height="2" fill="url(#q197)"/><rect x="336.16" y="69" width="35.77" height="2" fill="url(#q198)"/><rect x="335.46" y="71" width="37.22" height="2" fill="url(#q199)"/><rect x="334.77" y="73" width="38.62" height="2" fill="url(#q200)"/><rect x="334.08" y="75" width="40.02" height="2" fill="url(#q201)"/><rect x="333.37" y="77" width="41.45" height="2" fill="url(#q202)"/><rect x="332.64" y="79" width="42.97" height="2" fill="url(#q203)"/><rect x="331.90" y="81" width="44.56" height="2" fill="url(#q204)"/><rect x="331.15" y="83" width="46.15" height="2" fill="url(#q205)"/><rect x="330.40" y="85" width="47.74" height="2" fill="url(#q206)"/><rect x="329.63" y="87" width="49.35" height="2" fill="url(#q207)"/><rect x="328.85" y="89" width="50.95" height="2" fill="url(#q208)"/><rect x="328.09" y="91" width="52.46" height="2" fill="url(#q209)"/><rect x="327.40" y="93" width="53.86" height="2" fill="url(#q210)"/><rect x="326.77" y="95" width="55.16" height="2" fill="url(#q211)"/><rect x="326.19" y="97" width="56.37" height="2" fill="url(#q212)"/><rect x="325.69" y="99" width="57.44" height="2" fill="url(#q213)"/><rect x="325.28" y="101" width="58.34" height="2" fill="url(#q214)"/><rect x="324.94" y="103" width="59.07" height="2" fill="url(#q215)"/><rect x="324.66" y="105" width="59.68" height="2" fill="url(#q216)"/><rect x="324.43" y="107" width="60.17" height="2" fill="url(#q217)"/><rect x="324.27" y="109" width="60.52" height="2" fill="url(#q218)"/><rect x="324.18" y="111" width="60.76" height="2" fill="url(#q219)"/><rect x="324.13" y="113" width="60.95" height="2" fill="url(#q220)"/><rect x="324.14" y="115" width="61.03" height="2" fill="url(#q221)"/><rect x="324.26" y="117" width="60.91" height="2" fill="url(#q222)"/><rect x="324.52" y="119" width="60.50" height="2" fill="url(#q223)"/><rect x="324.97" y="121" width="59.72" height="2" fill="url(#q224)"/><rect x="325.55" y="123" width="58.66" height="2" fill="url(#q225)"/><rect x="326.26" y="125" width="57.36" height="2" fill="url(#q226)"/><rect x="327.13" y="127" width="55.74" height="2" fill="url(#q227)"/><rect x="328.25" y="129" width="53.67" height="2" fill="url(#q228)"/><rect x="329.78" y="131" width="50.86" height="2" fill="url(#q229)"/><rect x="331.99" y="133" width="46.86" height="2" fill="url(#q230)"/><rect x="335.03" y="135" width="41.13" height="2" fill="url(#q187)"/><rect x="339.27" y="137" width="32.36" height="2" fill="url(#q187)"/><rect x="346.35" y="139" width="17.28" height="2" fill="url(#q187)"/></g></g>
<path d="M412.50,77.60 Q417.60,76.20 418.20,73 L419.80,73 Q420.40,76.20 425.50,77.60 Z" fill="#1d8fb0"/><circle cx="419" cy="109.4" r="33" fill="url(#g6)"/>
<path d="M479.90,77.60 Q485.00,76.20 485.60,73 L487.20,73 Q487.80,76.20 492.90,77.60 Z" fill="#1d8fb0"/><circle cx="486.4" cy="109.4" r="33" fill="url(#g7)"/>
<path d="M547.90,77.60 Q553.00,76.20 553.60,73 L555.20,73 Q555.80,76.20 560.90,77.60 Z" fill="#1d8fb0"/><circle cx="554.4" cy="109.4" r="33" fill="url(#g8)"/>
<path d="M418.90,54.00 L420.96,54.31 L421.78,54.62 L422.39,54.94 L422.88,55.25 L423.30,55.56 L423.66,55.88 L423.98,56.19 L424.27,56.50 L424.52,56.81 L424.75,57.12 L424.95,57.44 L425.14,57.75 L425.30,58.06 L425.45,58.38 L425.57,58.69 L425.69,59.00 L425.79,59.31 L425.87,59.62 L425.94,59.94 L426.00,60.25 L426.04,60.56 L426.07,60.88 L426.09,61.19 L426.10,61.50 L426.09,62.03 L426.05,62.57 L425.99,63.10 L425.91,63.63 L425.80,64.17 L425.67,64.70 L425.51,65.23 L425.33,65.77 L425.13,66.30 L424.91,66.83 L424.66,67.37 L424.39,67.90 L424.10,68.43 L423.79,68.97 L423.45,69.50 L423.10,70.03 L422.73,70.57 L422.34,71.10 L421.93,71.63 L421.51,72.17 L421.08,72.70 L420.64,73.23 L420.20,73.77 L419.80,74.30 L420.20,76.00 L417.60,76.00 L418.00,74.30 L417.60,73.77 L417.16,73.23 L416.72,72.70 L416.29,72.17 L415.87,71.63 L415.46,71.10 L415.07,70.57 L414.70,70.03 L414.35,69.50 L414.01,68.97 L413.70,68.43 L413.41,67.90 L413.14,67.37 L412.89,66.83 L412.67,66.30 L412.47,65.77 L412.29,65.23 L412.13,64.70 L412.00,64.17 L411.89,63.63 L411.81,63.10 L411.75,62.57 L411.71,62.03 L411.70,61.50 L411.71,61.19 L411.73,60.88 L411.76,60.56 L411.80,60.25 L411.86,59.94 L411.93,59.62 L412.01,59.31 L412.11,59.00 L412.23,58.69 L412.35,58.38 L412.50,58.06 L412.66,57.75 L412.85,57.44 L413.05,57.12 L413.28,56.81 L413.53,56.50 L413.82,56.19 L414.14,55.88 L414.50,55.56 L414.92,55.25 L415.41,54.94 L416.02,54.62 L416.84,54.31 L418.90,54.00Z" fill="#284433"/><g clip-path="url(#c9)"><g filter="url(#vblur)"><rect x="415.32" y="54" width="7.17" height="2" fill="url(#q231)"/><rect x="413.14" y="56" width="11.51" height="2" fill="url(#q232)"/><rect x="412.11" y="58" width="13.58" height="2" fill="url(#q233)"/><rect x="411.72" y="60" width="14.36" height="2" fill="url(#q234)"/><rect x="411.80" y="62" width="14.21" height="2" fill="url(#q235)"/><rect x="412.22" y="64" width="13.36" height="2" fill="url(#q236)"/><rect x="412.97" y="66" width="11.86" height="2" fill="url(#q237)"/><rect x="414.03" y="68" width="9.73" height="2" fill="url(#q238)"/><rect x="415.39" y="70" width="7.02" height="2" fill="url(#q239)"/><rect x="416.97" y="72" width="3.86" height="2" fill="url(#q240)"/><rect x="417.84" y="74" width="2.13" height="2" fill="url(#q241)"/></g></g>
<path d="M486.40,42.00 L487.93,42.22 L488.54,42.44 L488.99,42.66 L489.36,42.88 L489.67,43.10 L489.94,43.33 L490.18,43.55 L490.39,43.77 L490.58,43.99 L490.75,44.21 L490.90,44.43 L491.03,44.65 L491.15,44.87 L491.26,45.09 L491.36,45.31 L491.44,45.53 L491.52,45.75 L491.58,45.97 L491.63,46.20 L491.68,46.42 L491.71,46.64 L491.73,46.86 L491.75,47.08 L491.75,47.30 L491.74,47.72 L491.71,48.13 L491.65,48.55 L491.58,48.97 L491.48,49.38 L491.37,49.80 L491.23,50.22 L491.07,50.63 L490.90,51.05 L490.71,51.47 L490.50,51.88 L490.27,52.30 L490.04,52.72 L489.79,53.13 L489.52,53.55 L489.25,53.97 L488.98,54.38 L488.70,54.80 L488.42,55.22 L488.15,55.63 L487.88,56.05 L487.64,56.47 L487.43,56.88 L487.30,57.30 L487.62,57.47 L487.83,57.80 L488.05,58.13 L488.27,58.47 L488.49,58.80 L488.72,59.13 L488.93,59.47 L489.14,59.80 L489.34,60.13 L489.53,60.47 L489.71,60.80 L489.88,61.13 L490.03,61.47 L490.17,61.80 L490.30,62.13 L490.42,62.47 L490.52,62.80 L490.60,63.13 L490.67,63.47 L490.73,63.80 L490.77,64.13 L490.79,64.47 L490.80,64.80 L490.79,65.17 L490.77,65.53 L490.73,65.90 L490.68,66.27 L490.62,66.63 L490.54,67.00 L490.45,67.37 L490.34,67.73 L490.22,68.10 L490.08,68.47 L489.94,68.83 L489.78,69.20 L489.61,69.57 L489.42,69.93 L489.23,70.30 L489.03,70.67 L488.82,71.03 L488.60,71.40 L488.37,71.77 L488.14,72.13 L487.91,72.50 L487.69,72.87 L487.47,73.23 L487.30,73.60 L487.70,76.00 L485.10,76.00 L485.50,73.60 L485.33,73.23 L485.11,72.87 L484.89,72.50 L484.66,72.13 L484.43,71.77 L484.20,71.40 L483.98,71.03 L483.77,70.67 L483.57,70.30 L483.38,69.93 L483.19,69.57 L483.02,69.20 L482.86,68.83 L482.72,68.47 L482.58,68.10 L482.46,67.73 L482.35,67.37 L482.26,67.00 L482.18,66.63 L482.12,66.27 L482.07,65.90 L482.03,65.53 L482.01,65.17 L482.00,64.80 L482.01,64.47 L482.03,64.13 L482.07,63.80 L482.13,63.47 L482.20,63.13 L482.28,62.80 L482.38,62.47 L482.50,62.13 L482.63,61.80 L482.77,61.47 L482.92,61.13 L483.09,60.80 L483.27,60.47 L483.46,60.13 L483.66,59.80 L483.87,59.47 L484.08,59.13 L484.31,58.80 L484.53,58.47 L484.75,58.13 L484.97,57.80 L485.18,57.47 L485.50,57.30 L485.37,56.88 L485.16,56.47 L484.92,56.05 L484.65,55.63 L484.38,55.22 L484.10,54.80 L483.82,54.38 L483.55,53.97 L483.28,53.55 L483.01,53.13 L482.76,52.72 L482.53,52.30 L482.30,51.88 L482.09,51.47 L481.90,51.05 L481.73,50.63 L481.57,50.22 L481.43,49.80 L481.32,49.38 L481.22,48.97 L481.15,48.55 L481.09,48.13 L481.06,47.72 L481.05,47.30 L481.05,47.08 L481.07,46.86 L481.09,46.64 L481.12,46.42 L481.17,46.20 L481.22,45.97 L481.28,45.75 L481.36,45.53 L481.44,45.31 L481.54,45.09 L481.65,44.87 L481.77,44.65 L481.90,44.43 L482.05,44.21 L482.22,43.99 L482.41,43.77 L482.62,43.55 L482.86,43.33 L483.13,43.10 L483.44,42.88 L483.81,42.66 L484.26,42.44 L484.87,42.22 L486.40,42.00Z" fill="#404024"/><g clip-path="url(#c10)"><g filter="url(#vblur)"><rect x="483.28" y="42" width="6.24" height="2" fill="url(#q242)"/><rect x="481.58" y="44" width="9.64" height="2" fill="url(#q243)"/><rect x="481.06" y="46" width="10.68" height="2" fill="url(#q244)"/><rect x="481.23" y="48" width="10.34" height="2" fill="url(#q245)"/><rect x="481.88" y="50" width="9.04" height="2" fill="url(#q246)"/><rect x="482.93" y="52" width="6.93" height="2" fill="url(#q247)"/><rect x="484.24" y="54" width="4.33" height="2" fill="url(#q248)"/><rect x="485.40" y="56" width="1.99" height="2" fill="url(#q249)"/><rect x="484.17" y="58" width="4.45" height="2" fill="url(#q250)"/><rect x="482.99" y="60" width="6.82" height="2" fill="url(#q251)"/><rect x="482.23" y="62" width="8.34" height="2" fill="url(#q252)"/><rect x="482.00" y="64" width="8.79" height="2" fill="url(#q253)"/><rect x="482.26" y="66" width="8.28" height="2" fill="url(#q254)"/><rect x="482.93" y="68" width="6.93" height="2" fill="url(#q255)"/><rect x="483.96" y="70" width="4.87" height="2" fill="url(#q256)"/><rect x="485.19" y="72" width="2.42" height="2" fill="url(#q257)"/><rect x="485.27" y="74" width="2.27" height="2" fill="url(#q258)"/></g></g>
<path d="M554.30,32.00 L555.53,32.19 L556.02,32.38 L556.38,32.56 L556.68,32.75 L556.93,32.94 L557.14,33.12 L557.34,33.31 L557.51,33.50 L557.66,33.69 L557.79,33.88 L557.91,34.06 L558.02,34.25 L558.12,34.44 L558.21,34.62 L558.29,34.81 L558.35,35.00 L558.41,35.19 L558.46,35.38 L558.51,35.56 L558.54,35.75 L558.57,35.94 L558.59,36.12 L558.60,36.31 L558.60,36.50 L558.59,36.78 L558.57,37.07 L558.53,37.35 L558.47,37.63 L558.40,37.92 L558.31,38.20 L558.20,38.48 L558.08,38.77 L557.95,39.05 L557.80,39.33 L557.64,39.62 L557.47,39.90 L557.29,40.18 L557.10,40.47 L556.90,40.75 L556.69,41.03 L556.48,41.32 L556.27,41.60 L556.06,41.88 L555.85,42.17 L555.65,42.45 L555.46,42.73 L555.30,43.02 L555.20,43.30 L555.30,43.32 L555.43,43.63 L555.58,43.95 L555.74,44.27 L555.89,44.58 L556.05,44.90 L556.21,45.22 L556.36,45.53 L556.51,45.85 L556.66,46.17 L556.79,46.48 L556.92,46.80 L557.04,47.12 L557.15,47.43 L557.25,47.75 L557.35,48.07 L557.43,48.38 L557.50,48.70 L557.56,49.02 L557.61,49.33 L557.65,49.65 L557.68,49.97 L557.69,50.28 L557.70,50.60 L557.69,50.93 L557.68,51.25 L557.65,51.58 L557.61,51.90 L557.56,52.23 L557.50,52.55 L557.43,52.88 L557.35,53.20 L557.25,53.52 L557.15,53.85 L557.04,54.17 L556.92,54.50 L556.79,54.83 L556.66,55.15 L556.51,55.48 L556.36,55.80 L556.21,56.12 L556.05,56.45 L555.89,56.77 L555.74,57.10 L555.58,57.42 L555.43,57.75 L555.30,58.07 L555.20,58.40 L555.43,58.65 L555.58,58.93 L555.74,59.20 L555.89,59.48 L556.05,59.75 L556.21,60.02 L556.36,60.30 L556.51,60.58 L556.66,60.85 L556.79,61.12 L556.92,61.40 L557.04,61.68 L557.15,61.95 L557.25,62.23 L557.35,62.50 L557.43,62.78 L557.50,63.05 L557.56,63.33 L557.61,63.60 L557.65,63.88 L557.68,64.15 L557.69,64.42 L557.70,64.70 L557.70,65.01 L557.68,65.33 L557.66,65.64 L557.62,65.95 L557.58,66.26 L557.52,66.58 L557.46,66.89 L557.38,67.20 L557.30,67.51 L557.21,67.83 L557.11,68.14 L557.00,68.45 L556.88,68.76 L556.76,69.08 L556.62,69.39 L556.49,69.70 L556.34,70.01 L556.19,70.33 L556.04,70.64 L555.88,70.95 L555.72,71.26 L555.57,71.58 L555.42,71.89 L555.30,72.20 L555.60,75.00 L553.00,75.00 L553.30,72.20 L553.18,71.89 L553.03,71.58 L552.88,71.26 L552.72,70.95 L552.56,70.64 L552.41,70.33 L552.26,70.01 L552.11,69.70 L551.98,69.39 L551.84,69.08 L551.72,68.76 L551.60,68.45 L551.49,68.14 L551.39,67.83 L551.30,67.51 L551.22,67.20 L551.14,66.89 L551.08,66.58 L551.02,66.26 L550.98,65.95 L550.94,65.64 L550.92,65.33 L550.90,65.01 L550.90,64.70 L550.91,64.42 L550.92,64.15 L550.95,63.88 L550.99,63.60 L551.04,63.33 L551.10,63.05 L551.17,62.78 L551.25,62.50 L551.35,62.23 L551.45,61.95 L551.56,61.68 L551.68,61.40 L551.81,61.12 L551.94,60.85 L552.09,60.58 L552.24,60.30 L552.39,60.02 L552.55,59.75 L552.71,59.48 L552.86,59.20 L553.02,58.93 L553.17,58.65 L553.40,58.40 L553.30,58.07 L553.17,57.75 L553.02,57.42 L552.86,57.10 L552.71,56.77 L552.55,56.45 L552.39,56.12 L552.24,55.80 L552.09,55.48 L551.94,55.15 L551.81,54.83 L551.68,54.50 L551.56,54.17 L551.45,53.85 L551.35,53.52 L551.25,53.20 L551.17,52.88 L551.10,52.55 L551.04,52.23 L550.99,51.90 L550.95,51.58 L550.92,51.25 L550.91,50.93 L550.90,50.60 L550.91,50.28 L550.92,49.97 L550.95,49.65 L550.99,49.33 L551.04,49.02 L551.10,48.70 L551.17,48.38 L551.25,48.07 L551.35,47.75 L551.45,47.43 L551.56,47.12 L551.68,46.80 L551.81,46.48 L551.94,46.17 L552.09,45.85 L552.24,45.53 L552.39,45.22 L552.55,44.90 L552.71,44.58 L552.86,44.27 L553.02,43.95 L553.17,43.63 L553.30,43.32 L553.40,43.30 L553.30,43.02 L553.14,42.73 L552.95,42.45 L552.75,42.17 L552.54,41.88 L552.33,41.60 L552.12,41.32 L551.91,41.03 L551.70,40.75 L551.50,40.47 L551.31,40.18 L551.13,39.90 L550.96,39.62 L550.80,39.33 L550.65,39.05 L550.52,38.77 L550.40,38.48 L550.29,38.20 L550.20,37.92 L550.13,37.63 L550.07,37.35 L550.03,37.07 L550.01,36.78 L550.00,36.50 L550.00,36.31 L550.01,36.12 L550.03,35.94 L550.06,35.75 L550.09,35.56 L550.14,35.38 L550.19,35.19 L550.25,35.00 L550.31,34.81 L550.39,34.62 L550.48,34.44 L550.58,34.25 L550.69,34.06 L550.81,33.88 L550.94,33.69 L551.09,33.50 L551.26,33.31 L551.46,33.12 L551.67,32.94 L551.92,32.75 L552.22,32.56 L552.58,32.38 L553.07,32.19 L554.30,32.00Z" fill="#4b4222"/><g clip-path="url(#c11)"><g filter="url(#vblur)"><rect x="551.60" y="32" width="5.40" height="2" fill="url(#q259)"/><rect x="550.25" y="34" width="8.11" height="2" fill="url(#q260)"/><rect x="550.03" y="36" width="8.55" height="2" fill="url(#q261)"/><rect x="550.63" y="38" width="7.35" height="2" fill="url(#q262)"/><rect x="551.88" y="40" width="4.83" height="2" fill="url(#q263)"/><rect x="553.29" y="42" width="2.02" height="2" fill="url(#q264)"/><rect x="552.50" y="44" width="3.61" height="2" fill="url(#q265)"/><rect x="551.60" y="46" width="5.39" height="2" fill="url(#q266)"/><rect x="551.04" y="48" width="6.51" height="2" fill="url(#q267)"/><rect x="550.91" y="50" width="6.78" height="2" fill="url(#q268)"/><rect x="551.20" y="52" width="6.19" height="2" fill="url(#q269)"/><rect x="551.88" y="54" width="4.84" height="2" fill="url(#q270)"/><rect x="552.82" y="56" width="2.97" height="2" fill="url(#q262)"/><rect x="552.98" y="58" width="2.64" height="2" fill="url(#q271)"/><rect x="551.87" y="60" width="4.86" height="2" fill="url(#q272)"/><rect x="551.11" y="62" width="6.37" height="2" fill="url(#q273)"/><rect x="550.90" y="64" width="6.79" height="2" fill="url(#q274)"/><rect x="551.17" y="66" width="6.26" height="2" fill="url(#q275)"/><rect x="551.81" y="68" width="4.97" height="2" fill="url(#q276)"/><rect x="552.75" y="70" width="3.11" height="2" fill="url(#q277)"/><rect x="553.21" y="72" width="2.17" height="2" fill="url(#q278)"/></g></g>
<rect x="592.3" y="31.6" width="8.2" height="120.8" fill="url(#parV)"/>
<text x="584.6" y="45.6" class="sans" font-size="10">1</text>
<text x="583" y="152.2" class="sans" font-size="10">0</text>
<text x="591.6" y="26.8" class="ser" font-style="italic" font-size="18.5">ϕ</text>
<rect x="39.6" y="158.1" width="203.1" height="116.29999999999998" fill="none" stroke="#c4c4c4" stroke-width="1"/>
<line x1="240.2" y1="159.2" x2="242.7" y2="159.2" stroke="#c4c4c4"/>
<line x1="240.2" y1="204" x2="242.7" y2="204" stroke="#c4c4c4"/>
<line x1="240.2" y1="250" x2="242.7" y2="250" stroke="#c4c4c4"/>
<line x1="176" y1="158.1" x2="176" y2="160.6" stroke="#c4c4c4"/>
<line x1="176" y1="274.4" x2="176" y2="271.9" stroke="#c4c4c4"/>
<polyline points="43.30,203.81 43.80,203.82 44.30,203.82 44.80,203.82 45.30,203.82 45.80,203.82 46.30,203.82 46.80,203.82 47.30,203.82 47.80,203.82 48.30,203.82 48.80,203.82 49.30,203.82 49.80,203.83 50.30,203.83 50.80,203.83 51.30,203.83 51.80,203.83 52.30,203.83 52.80,203.83 53.30,203.83 53.80,203.84 54.30,203.84 54.80,203.84 55.30,203.84 55.80,203.84 56.30,203.84 56.80,203.85 57.30,203.85 57.80,203.85 58.30,203.85 58.80,203.85 59.30,203.86 59.80,203.86 60.30,203.86 60.80,203.86 61.30,203.87 61.80,203.87 62.30,203.87 62.80,203.88 63.30,203.88 63.80,203.88 64.30,203.89 64.80,203.89 65.30,203.89 65.80,203.90 66.30,203.90 66.80,203.90 67.30,203.91 67.80,203.91 68.30,203.92 68.80,203.92 69.30,203.93 69.80,203.93 70.30,203.94 70.80,203.95 71.30,203.95 71.80,203.96 72.30,203.97 72.80,203.97 73.30,203.98 73.80,203.99 74.30,204.00 74.80,204.00 75.30,204.01 75.80,204.02 76.30,204.03 76.80,204.04 77.30,204.05 77.80,204.06 78.30,204.07 78.80,204.08 79.30,204.10 79.80,204.11 80.30,204.12 80.80,204.14 81.30,204.15 81.80,204.16 82.30,204.18 82.80,204.20 83.30,204.21 83.80,204.23 84.30,204.25 84.80,204.27 85.30,204.29 85.80,204.31 86.30,204.33 86.80,204.35 87.30,204.38 87.80,204.40 88.30,204.42 88.80,204.45 89.30,204.48 89.80,204.51 90.30,204.54 90.80,204.57 91.30,204.60 91.80,204.63 92.30,204.67 92.80,204.70 93.30,204.74 93.80,204.78 94.30,204.82 94.80,204.86 95.30,204.91 95.80,204.95 96.30,205.00 96.80,205.05 97.30,205.10 97.80,205.16 98.30,205.21 98.80,205.27 99.30,205.33 99.80,205.39 100.30,205.46 100.80,205.53 101.30,205.60 101.80,205.67 102.30,205.74 102.80,205.82 103.30,205.90 103.80,205.99 104.30,206.08 104.80,206.17 105.30,206.26 105.80,206.36 106.30,206.46 106.80,206.57 107.30,206.68 107.80,206.79 108.30,206.91 108.80,207.03 109.30,207.15 109.80,207.28 110.30,207.42 110.80,207.56 111.30,207.70 111.80,207.85 112.30,208.00 112.80,208.16 113.30,208.32 113.80,208.49 114.30,208.67 114.80,208.85 115.30,209.03 115.80,209.22 116.30,209.42 116.80,209.62 117.30,209.83 117.80,210.05 118.30,210.27 118.80,210.49 119.30,210.73 119.80,210.97 120.30,211.21 120.80,211.47 121.30,211.73 121.80,211.99 122.30,212.26 122.80,212.54 123.30,212.83 123.80,213.12 124.30,213.42 124.80,213.73 125.30,214.04 125.80,214.36 126.30,214.68 126.80,215.01 127.30,215.35 127.80,215.70 128.30,216.05 128.80,216.40 129.30,216.77 129.80,217.14 130.30,217.51 130.80,217.89 131.30,218.28 131.80,218.67 132.30,219.07 132.80,219.48 133.30,219.89 133.80,220.30 134.30,220.72 134.80,221.14 135.30,221.57 135.80,222.01 136.30,222.44 136.80,222.89 137.30,223.33 137.80,223.78 138.30,224.24 138.80,224.70 139.30,225.16 139.80,225.62 140.30,226.09 140.80,226.56 141.30,227.03 141.80,227.51 142.30,227.99 142.80,228.47 143.30,228.95 143.80,229.43 144.30,229.92 144.80,230.40 145.30,230.89 145.80,231.37 146.30,231.86 146.80,232.35 147.30,232.83 147.80,233.32 148.30,233.80 148.80,234.29 149.30,234.77 149.80,235.25 150.30,235.72 150.80,236.20 151.30,236.67 151.80,237.13 152.30,237.60 152.80,238.05 153.30,238.51 153.80,238.95 154.30,239.40 154.80,239.83 155.30,240.26 155.80,240.69 156.30,241.10 156.80,241.51 157.30,241.91 157.80,242.31 158.30,242.69 158.80,243.07 159.30,243.44 159.80,243.80 160.30,244.15 160.80,244.49 161.30,244.83 161.80,245.15 162.30,245.47 162.80,245.78 163.30,246.08 163.80,246.37 164.30,246.65 164.80,246.92 165.30,247.18 165.80,247.43 166.30,247.68 166.80,247.91 167.30,248.14 167.80,248.36 168.30,248.58 168.80,248.78 169.30,248.98 169.80,249.16 170.30,249.35 170.80,249.52 171.30,249.69 171.80,249.85 172.30,250.00 172.80,250.15 173.30,250.29 173.80,250.43 174.30,250.56 174.80,250.68 175.30,250.80 175.80,250.92 176.30,251.03 176.80,251.13 177.30,251.23 177.80,251.33 178.30,251.42 178.80,251.50 179.30,251.59 179.80,251.67 180.30,251.74 180.80,251.82 181.30,251.88 181.80,251.95 182.30,252.01 182.80,252.07 183.30,252.13 183.80,252.19 184.30,252.24 184.80,252.29 185.30,252.33 185.80,252.38 186.30,252.42 186.80,252.46 187.30,252.50 187.80,252.54 188.30,252.58 188.80,252.61 189.30,252.64 189.80,252.67 190.30,252.70 190.80,252.73 191.30,252.76 191.80,252.78 192.30,252.81 192.80,252.83 193.30,252.85 193.80,252.87 194.30,252.89 194.80,252.91 195.30,252.93 195.80,252.95 196.30,252.96 196.80,252.98 197.30,252.99 197.80,253.01 198.30,253.02 198.80,253.03 199.30,253.05 199.80,253.06 200.30,253.07 200.80,253.08 201.30,253.09 201.80,253.10 202.30,253.11 202.80,253.12 203.30,253.13 203.80,253.13 204.30,253.14 204.80,253.15 205.30,253.16 205.80,253.16 206.30,253.17 206.80,253.18 207.30,253.18 207.80,253.19 208.30,253.19 208.80,253.20 209.30,253.20 209.80,253.21 210.30,253.21 210.80,253.21 211.30,253.22 211.80,253.22 212.30,253.23 212.80,253.23 213.30,253.23 213.80,253.24 214.30,253.24 214.80,253.24 215.30,253.24 215.80,253.25 216.30,253.25 216.80,253.25 217.30,253.25 217.80,253.26 218.30,253.26 218.80,253.26 219.30,253.26 219.80,253.26 220.30,253.26 220.80,253.27 221.30,253.27 221.80,253.27 222.30,253.27 222.80,253.27 223.30,253.27 223.80,253.27 224.30,253.28 224.80,253.28 225.30,253.28 225.80,253.28 226.30,253.28 226.80,253.28 227.30,253.28 227.80,253.28 228.30,253.28 228.80,253.28 229.30,253.28 229.80,253.28 230.30,253.29 230.80,253.29 231.30,253.29 231.80,253.29 232.30,253.29 232.80,253.29 233.30,253.29 233.80,253.29 234.30,253.29 234.80,253.29 235.30,253.29 235.80,253.29 236.30,253.29 236.80,253.29 237.30,253.29 237.80,253.29 238.30,253.29 238.80,253.29 239.30,253.29 239.80,253.29 240.30,253.29 240.80,253.29 241.30,253.29 241.80,253.29" fill="none" stroke="#90d890" stroke-width="2.6" stroke-linejoin="round"/>
<polyline points="43.30,203.80 43.80,203.80 44.30,203.80 44.80,203.80 45.30,203.80 45.80,203.80 46.30,203.80 46.80,203.80 47.30,203.80 47.80,203.80 48.30,203.80 48.80,203.80 49.30,203.80 49.80,203.80 50.30,203.80 50.80,203.80 51.30,203.80 51.80,203.80 52.30,203.80 52.80,203.80 53.30,203.80 53.80,203.80 54.30,203.80 54.80,203.80 55.30,203.80 55.80,203.80 56.30,203.80 56.80,203.80 57.30,203.80 57.80,203.80 58.30,203.80 58.80,203.80 59.30,203.80 59.80,203.80 60.30,203.80 60.80,203.80 61.30,203.80 61.80,203.80 62.30,203.80 62.80,203.80 63.30,203.80 63.80,203.80 64.30,203.80 64.80,203.80 65.30,203.80 65.80,203.80 66.30,203.80 66.80,203.80 67.30,203.80 67.80,203.80 68.30,203.80 68.80,203.80 69.30,203.80 69.80,203.80 70.30,203.80 70.80,203.80 71.30,203.80 71.80,203.80 72.30,203.80 72.80,203.80 73.30,203.80 73.80,203.80 74.30,203.80 74.80,203.80 75.30,203.80 75.80,203.80 76.30,203.80 76.80,203.80 77.30,203.80 77.80,203.80 78.30,203.80 78.80,203.80 79.30,203.80 79.80,203.80 80.30,203.80 80.80,203.80 81.30,203.80 81.80,203.80 82.30,203.80 82.80,203.79 83.30,203.79 83.80,203.79 84.30,203.79 84.80,203.79 85.30,203.79 85.80,203.79 86.30,203.79 86.80,203.79 87.30,203.79 87.80,203.79 88.30,203.79 88.80,203.79 89.30,203.79 89.80,203.79 90.30,203.79 90.80,203.79 91.30,203.79 91.80,203.79 92.30,203.79 92.80,203.79 93.30,203.78 93.80,203.78 94.30,203.78 94.80,203.78 95.30,203.78 95.80,203.78 96.30,203.78 96.80,203.78 97.30,203.78 97.80,203.78 98.30,203.77 98.80,203.77 99.30,203.77 99.80,203.77 100.30,203.77 100.80,203.77 101.30,203.76 101.80,203.76 102.30,203.76 102.80,203.76 103.30,203.76 103.80,203.75 104.30,203.75 104.80,203.75 105.30,203.75 105.80,203.74 106.30,203.74 106.80,203.74 107.30,203.73 107.80,203.73 108.30,203.73 108.80,203.72 109.30,203.72 109.80,203.71 110.30,203.71 110.80,203.70 111.30,203.70 111.80,203.69 112.30,203.69 112.80,203.68 113.30,203.68 113.80,203.67 114.30,203.66 114.80,203.65 115.30,203.65 115.80,203.64 116.30,203.63 116.80,203.62 117.30,203.61 117.80,203.60 118.30,203.59 118.80,203.58 119.30,203.57 119.80,203.55 120.30,203.54 120.80,203.53 121.30,203.51 121.80,203.50 122.30,203.48 122.80,203.47 123.30,203.45 123.80,203.43 124.30,203.41 124.80,203.39 125.30,203.37 125.80,203.34 126.30,203.32 126.80,203.29 127.30,203.27 127.80,203.24 128.30,203.21 128.80,203.18 129.30,203.15 129.80,203.11 130.30,203.08 130.80,203.04 131.30,203.00 131.80,202.96 132.30,202.92 132.80,202.87 133.30,202.82 133.80,202.77 134.30,202.72 134.80,202.67 135.30,202.61 135.80,202.55 136.30,202.49 136.80,202.42 137.30,202.35 137.80,202.28 138.30,202.20 138.80,202.13 139.30,202.04 139.80,201.96 140.30,201.87 140.80,201.78 141.30,201.68 141.80,201.58 142.30,201.47 142.80,201.36 143.30,201.25 143.80,201.13 144.30,201.01 144.80,200.88 145.30,200.75 145.80,200.61 146.30,200.47 146.80,200.32 147.30,200.17 147.80,200.01 148.30,199.85 148.80,199.68 149.30,199.51 149.80,199.33 150.30,199.15 150.80,198.96 151.30,198.77 151.80,198.57 152.30,198.37 152.80,198.16 153.30,197.95 153.80,197.74 154.30,197.52 154.80,197.29 155.30,197.07 155.80,196.84 156.30,196.60 156.80,196.37 157.30,196.13 157.80,195.89 158.30,195.64 158.80,195.40 159.30,195.15 159.80,194.90 160.30,194.65 160.80,194.40 161.30,194.15 161.80,193.90 162.30,193.65 162.80,193.40 163.30,193.16 163.80,192.91 164.30,192.67 164.80,192.42 165.30,192.19 165.80,191.95 166.30,191.72 166.80,191.49 167.30,191.26 167.80,191.04 168.30,190.82 168.80,190.61 169.30,190.40 169.80,190.19 170.30,189.99 170.80,189.79 171.30,189.60 171.80,189.42 172.30,189.23 172.80,189.06 173.30,188.89 173.80,188.72 174.30,188.56 174.80,188.40 175.30,188.25 175.80,188.11 176.30,187.96 176.80,187.83 177.30,187.70 177.80,187.57 178.30,187.45 178.80,187.33 179.30,187.22 179.80,187.11 180.30,187.00 180.80,186.90 181.30,186.81 181.80,186.71 182.30,186.62 182.80,186.54 183.30,186.46 183.80,186.38 184.30,186.31 184.80,186.23 185.30,186.17 185.80,186.10 186.30,186.04 186.80,185.98 187.30,185.92 187.80,185.87 188.30,185.82 188.80,185.77 189.30,185.72 189.80,185.67 190.30,185.63 190.80,185.59 191.30,185.55 191.80,185.51 192.30,185.48 192.80,185.45 193.30,185.41 193.80,185.38 194.30,185.35 194.80,185.33 195.30,185.30 195.80,185.28 196.30,185.25 196.80,185.23 197.30,185.21 197.80,185.19 198.30,185.17 198.80,185.15 199.30,185.13 199.80,185.11 200.30,185.10 200.80,185.08 201.30,185.07 201.80,185.06 202.30,185.04 202.80,185.03 203.30,185.02 203.80,185.01 204.30,185.00 204.80,184.99 205.30,184.98 205.80,184.97 206.30,184.96 206.80,184.95 207.30,184.94 207.80,184.94 208.30,184.93 208.80,184.92 209.30,184.92 209.80,184.91 210.30,184.91 210.80,184.90 211.30,184.89 211.80,184.89 212.30,184.89 212.80,184.88 213.30,184.88 213.80,184.87 214.30,184.87 214.80,184.87 215.30,184.86 215.80,184.86 216.30,184.86 216.80,184.85 217.30,184.85 217.80,184.85 218.30,184.85 218.80,184.84 219.30,184.84 219.80,184.84 220.30,184.84 220.80,184.84 221.30,184.83 221.80,184.83 222.30,184.83 222.80,184.83 223.30,184.83 223.80,184.83 224.30,184.82 224.80,184.82 225.30,184.82 225.80,184.82 226.30,184.82 226.80,184.82 227.30,184.82 227.80,184.82 228.30,184.82 228.80,184.82 229.30,184.81 229.80,184.81 230.30,184.81 230.80,184.81 231.30,184.81 231.80,184.81 232.30,184.81 232.80,184.81 233.30,184.81 233.80,184.81 234.30,184.81 234.80,184.81 235.30,184.81 235.80,184.81 236.30,184.81 236.80,184.81 237.30,184.81 237.80,184.81 238.30,184.81 238.80,184.81 239.30,184.81 239.80,184.80 240.30,184.80 240.80,184.80 241.30,184.80 241.80,184.80" fill="none" stroke="#118030" stroke-width="2.6" stroke-linejoin="round"/>
<polyline points="43.30,203.81 43.80,203.82 44.30,203.82 44.80,203.82 45.30,203.82 45.80,203.82 46.30,203.82 46.80,203.82 47.30,203.82 47.80,203.82 48.30,203.82 48.80,203.82 49.30,203.82 49.80,203.83 50.30,203.83 50.80,203.83 51.30,203.83 51.80,203.83 52.30,203.83 52.80,203.83 53.30,203.83 53.80,203.84 54.30,203.84 54.80,203.84 55.30,203.84 55.80,203.84 56.30,203.84 56.80,203.85 57.30,203.85 57.80,203.85 58.30,203.85 58.80,203.85 59.30,203.86 59.80,203.86 60.30,203.86 60.80,203.86 61.30,203.87 61.80,203.87 62.30,203.87 62.80,203.87 63.30,203.88 63.80,203.88 64.30,203.88 64.80,203.89 65.30,203.89 65.80,203.90 66.30,203.90 66.80,203.90 67.30,203.91 67.80,203.91 68.30,203.92 68.80,203.92 69.30,203.93 69.80,203.93 70.30,203.94 70.80,203.94 71.30,203.95 71.80,203.96 72.30,203.96 72.80,203.97 73.30,203.98 73.80,203.98 74.30,203.99 74.80,204.00 75.30,204.01 75.80,204.02 76.30,204.03 76.80,204.04 77.30,204.05 77.80,204.06 78.30,204.07 78.80,204.08 79.30,204.09 79.80,204.10 80.30,204.12 80.80,204.13 81.30,204.14 81.80,204.16 82.30,204.17 82.80,204.19 83.30,204.20 83.80,204.22 84.30,204.24 84.80,204.26 85.30,204.28 85.80,204.30 86.30,204.32 86.80,204.34 87.30,204.36 87.80,204.39 88.30,204.41 88.80,204.44 89.30,204.46 89.80,204.49 90.30,204.52 90.80,204.55 91.30,204.58 91.80,204.61 92.30,204.64 92.80,204.68 93.30,204.72 93.80,204.75 94.30,204.79 94.80,204.83 95.30,204.88 95.80,204.92 96.30,204.97 96.80,205.01 97.30,205.06 97.80,205.11 98.30,205.17 98.80,205.22 99.30,205.28 99.80,205.34 100.30,205.40 100.80,205.47 101.30,205.53 101.80,205.60 102.30,205.68 102.80,205.75 103.30,205.83 103.80,205.91 104.30,205.99 104.80,206.08 105.30,206.17 105.80,206.26 106.30,206.36 106.80,206.46 107.30,206.56 107.80,206.66 108.30,206.77 108.80,206.89 109.30,207.01 109.80,207.13 110.30,207.25 110.80,207.38 111.30,207.52 111.80,207.65 112.30,207.80 112.80,207.94 113.30,208.10 113.80,208.25 114.30,208.41 114.80,208.58 115.30,208.75 115.80,208.92 116.30,209.10 116.80,209.29 117.30,209.48 117.80,209.67 118.30,209.87 118.80,210.08 119.30,210.29 119.80,210.50 120.30,210.73 120.80,210.95 121.30,211.18 121.80,211.42 122.30,211.66 122.80,211.90 123.30,212.15 123.80,212.41 124.30,212.67 124.80,212.93 125.30,213.20 125.80,213.47 126.30,213.75 126.80,214.03 127.30,214.32 127.80,214.61 128.30,214.90 128.80,215.20 129.30,215.49 129.80,215.80 130.30,216.10 130.80,216.41 131.30,216.72 131.80,217.03 132.30,217.34 132.80,217.66 133.30,217.97 133.80,218.29 134.30,218.61 134.80,218.92 135.30,219.24 135.80,219.56 136.30,219.88 136.80,220.19 137.30,220.51 137.80,220.82 138.30,221.13 138.80,221.44 139.30,221.75 139.80,222.06 140.30,222.36 140.80,222.67 141.30,222.96 141.80,223.26 142.30,223.55 142.80,223.84 143.30,224.12 143.80,224.40 144.30,224.68 144.80,224.95 145.30,225.22 145.80,225.48 146.30,225.74 146.80,226.00 147.30,226.25 147.80,226.49 148.30,226.73 148.80,226.97 149.30,227.19 149.80,227.42 150.30,227.64 150.80,227.85 151.30,228.06 151.80,228.27 152.30,228.47 152.80,228.66 153.30,228.85 153.80,229.03 154.30,229.21 154.80,229.39 155.30,229.56 155.80,229.72 156.30,229.88 156.80,230.04 157.30,230.19 157.80,230.33 158.30,230.47 158.80,230.61 159.30,230.74 159.80,230.87 160.30,231.00 160.80,231.12 161.30,231.23 161.80,231.35 162.30,231.46 162.80,231.56 163.30,231.66 163.80,231.76 164.30,231.86 164.80,231.95 165.30,232.04 165.80,232.12 166.30,232.21 166.80,232.29 167.30,232.36 167.80,232.44 168.30,232.51 168.80,232.58 169.30,232.65 169.80,232.71 170.30,232.77 170.80,232.83 171.30,232.89 171.80,232.94 172.30,233.00 172.80,233.05 173.30,233.10 173.80,233.14 174.30,233.19 174.80,233.23 175.30,233.27 175.80,233.31 176.30,233.35 176.80,233.39 177.30,233.43 177.80,233.46 178.30,233.50 178.80,233.53 179.30,233.56 179.80,233.59 180.30,233.62 180.80,233.64 181.30,233.67 181.80,233.69 182.30,233.72 182.80,233.74 183.30,233.76 183.80,233.79 184.30,233.81 184.80,233.83 185.30,233.85 185.80,233.86 186.30,233.88 186.80,233.90 187.30,233.91 187.80,233.93 188.30,233.95 188.80,233.96 189.30,233.97 189.80,233.99 190.30,234.00 190.80,234.01 191.30,234.02 191.80,234.03 192.30,234.04 192.80,234.06 193.30,234.07 193.80,234.07 194.30,234.08 194.80,234.09 195.30,234.10 195.80,234.11 196.30,234.12 196.80,234.12 197.30,234.13 197.80,234.14 198.30,234.14 198.80,234.15 199.30,234.16 199.80,234.16 200.30,234.17 200.80,234.17 201.30,234.18 201.80,234.18 202.30,234.19 202.80,234.19 203.30,234.20 203.80,234.20 204.30,234.21 204.80,234.21 205.30,234.21 205.80,234.22 206.30,234.22 206.80,234.22 207.30,234.23 207.80,234.23 208.30,234.23 208.80,234.24 209.30,234.24 209.80,234.24 210.30,234.24 210.80,234.25 211.30,234.25 211.80,234.25 212.30,234.25 212.80,234.25 213.30,234.26 213.80,234.26 214.30,234.26 214.80,234.26 215.30,234.26 215.80,234.26 216.30,234.27 216.80,234.27 217.30,234.27 217.80,234.27 218.30,234.27 218.80,234.27 219.30,234.27 219.80,234.27 220.30,234.28 220.80,234.28 221.30,234.28 221.80,234.28 222.30,234.28 222.80,234.28 223.30,234.28 223.80,234.28 224.30,234.28 224.80,234.28 225.30,234.28 225.80,234.28 226.30,234.28 226.80,234.29 227.30,234.29 227.80,234.29 228.30,234.29 228.80,234.29 229.30,234.29 229.80,234.29 230.30,234.29 230.80,234.29 231.30,234.29 231.80,234.29 232.30,234.29 232.80,234.29 233.30,234.29 233.80,234.29 234.30,234.29 234.80,234.29 235.30,234.29 235.80,234.29 236.30,234.29 236.80,234.29 237.30,234.29 237.80,234.29 238.30,234.29 238.80,234.29 239.30,234.29 239.80,234.30 240.30,234.30 240.80,234.30 241.30,234.30 241.80,234.30" fill="none" stroke="#c81010" stroke-width="2.6" stroke-linejoin="round"/>
<line x1="43.30" y1="200.50" x2="43.30" y2="207.10" stroke="#000" stroke-width="1.4"/><line x1="46.16" y1="202.15" x2="40.44" y2="205.45" stroke="#000" stroke-width="1.4"/><line x1="46.16" y1="205.45" x2="40.44" y2="202.15" stroke="#000" stroke-width="1.4"/>
<line x1="132.00" y1="214.20" x2="132.00" y2="220.80" stroke="#000" stroke-width="1.4"/><line x1="134.86" y1="215.85" x2="129.14" y2="219.15" stroke="#000" stroke-width="1.4"/><line x1="134.86" y1="219.15" x2="129.14" y2="215.85" stroke="#000" stroke-width="1.4"/>
<line x1="238.50" y1="231.00" x2="238.50" y2="237.60" stroke="#000" stroke-width="1.4"/><line x1="241.36" y1="232.65" x2="235.64" y2="235.95" stroke="#000" stroke-width="1.4"/><line x1="241.36" y1="235.95" x2="235.64" y2="232.65" stroke="#000" stroke-width="1.4"/>
<text x="45" y="197.8" class="sans bold" font-size="9.5">i</text>
<text x="134.6" y="214.5" class="sans bold" font-size="9.5">ii</text>
<text x="234.4" y="228.5" class="sans bold" font-size="9.5">iii</text>
<text x="36.6" y="163.6" class="sans" font-size="13.3" text-anchor="end">20</text>
<text x="37.8" y="208.4" class="sans" font-size="13.3" text-anchor="end">0</text>
<text x="36.6" y="254.4" class="sans" font-size="13.3" text-anchor="end">-20</text>
<text x="43.3" y="288.3" class="sans" font-size="13.3" text-anchor="middle">0</text>
<text x="164.4" y="290.4" class="sans" font-size="13.3">10</text>
<text x="180.9" y="284.8" class="sans" font-size="10">0</text>
<text x="112.8" y="303" class="ser thin" font-size="14.5" textLength="46.4" lengthAdjust="spacingAndGlyphs">time(s)</text>
<rect x="46" y="238.2" width="71" height="31.4" fill="#fff" stroke="#b0b0b0" stroke-width="0.8"/>
<line x1="48.7" y1="243.5" x2="62.4" y2="243.5" stroke="#c81010" stroke-width="1.7"/>
<line x1="48.7" y1="253.2" x2="62.4" y2="253.2" stroke="#90d890" stroke-width="1.7"/>
<line x1="48.7" y1="263.2" x2="62.4" y2="263.2" stroke="#118030" stroke-width="1.7"/>
<text x="63.9" y="246.6" class="ser" font-size="9.5">Δ<tspan font-style="italic">F</tspan></text><text x="63.9" y="256.3" class="ser" font-size="9.5">Δ<tspan font-style="italic">F</tspan><tspan font-style="italic" font-size="6.5" dy="1.8">b</tspan></text><text x="63.9" y="266.3" class="ser" font-size="9.5" textLength="50.8" lengthAdjust="spacingAndGlyphs">Δ(<tspan font-style="italic">F</tspan><tspan font-style="italic" font-size="6.5" dy="1.8">p</tspan><tspan dy="-1.8"> + </tspan><tspan font-style="italic">F</tspan><tspan font-style="italic" font-size="6.5" dy="1.8">nl</tspan><tspan dy="-1.8">)</tspan></text>
<text transform="translate(13.3,262.8) rotate(-90)" class="ser thin" font-size="15.5" textLength="102.4" lengthAdjust="spacingAndGlyphs">ΔEnergy(<tspan font-style="italic">k</tspan><tspan font-style="italic" font-size="11" dy="2.2">B</tspan><tspan font-style="italic" dy="-2.2">T</tspan>)</text>
<rect x="358.4" y="156.9" width="194.89999999999998" height="115.79999999999998" fill="none" stroke="#c4c4c4" stroke-width="1"/>
<line x1="550.8" y1="184.3" x2="553.3" y2="184.3" stroke="#c4c4c4"/>
<line x1="550.8" y1="210" x2="553.3" y2="210" stroke="#c4c4c4"/>
<line x1="550.8" y1="235.6" x2="553.3" y2="235.6" stroke="#c4c4c4"/>
<line x1="550.8" y1="261" x2="553.3" y2="261" stroke="#c4c4c4"/>
<line x1="490" y1="156.9" x2="490" y2="159.4" stroke="#c4c4c4"/>
<line x1="490" y1="272.7" x2="490" y2="270.2" stroke="#c4c4c4"/>
<polyline points="449.70,211.20 451.00,211.90 464.50,217.30 479.30,224.00 494.10,230.20 512.60,235.30 514.50,240.00 516.00,243.00 521.30,251.10 525.00,253.60 527.00,257.30 531.10,263.50 536.10,266.40 550.90,267.20" fill="none" stroke="#90d890" stroke-width="2.6" stroke-linejoin="round"/>
<polyline points="362.40,183.60 400.00,183.40 448.50,182.80 479.30,180.80 500.00,179.00 512.60,177.60 513.50,175.50 515.10,174.70 520.00,173.00 525.00,171.00 528.70,167.30 531.00,164.50 533.60,162.80 538.50,161.80 550.90,161.80" fill="none" stroke="#118030" stroke-width="2.6" stroke-linejoin="round"/>
<polyline points="362.40,183.60 420.00,184.50 439.90,186.30 446.00,187.00 447.00,189.00 447.50,200.00 447.90,208.00 449.70,211.20 464.50,216.10 479.30,222.00 494.10,226.50 509.40,228.90 513.60,229.40 514.20,233.00 514.80,236.30 523.70,240.80 528.70,244.50 536.10,246.20 550.90,245.90" fill="none" stroke="#c81010" stroke-width="2.6" stroke-linejoin="round"/>
<line x1="362.40" y1="180.10" x2="362.40" y2="186.70" stroke="#000" stroke-width="1.4"/><line x1="365.26" y1="181.75" x2="359.54" y2="185.05" stroke="#000" stroke-width="1.4"/><line x1="365.26" y1="185.05" x2="359.54" y2="181.75" stroke="#000" stroke-width="1.4"/>
<line x1="439.90" y1="183.20" x2="439.90" y2="189.80" stroke="#000" stroke-width="1.4"/><line x1="442.76" y1="184.85" x2="437.04" y2="188.15" stroke="#000" stroke-width="1.4"/><line x1="442.76" y1="188.15" x2="437.04" y2="184.85" stroke="#000" stroke-width="1.4"/>
<line x1="509.40" y1="225.60" x2="509.40" y2="232.20" stroke="#000" stroke-width="1.4"/><line x1="512.26" y1="227.25" x2="506.54" y2="230.55" stroke="#000" stroke-width="1.4"/><line x1="512.26" y1="230.55" x2="506.54" y2="227.25" stroke="#000" stroke-width="1.4"/>
<line x1="523.70" y1="237.50" x2="523.70" y2="244.10" stroke="#000" stroke-width="1.4"/><line x1="526.56" y1="239.15" x2="520.84" y2="242.45" stroke="#000" stroke-width="1.4"/><line x1="526.56" y1="242.45" x2="520.84" y2="239.15" stroke="#000" stroke-width="1.4"/>
<line x1="536.10" y1="242.90" x2="536.10" y2="249.50" stroke="#000" stroke-width="1.4"/><line x1="538.96" y1="244.55" x2="533.24" y2="247.85" stroke="#000" stroke-width="1.4"/><line x1="538.96" y1="247.85" x2="533.24" y2="244.55" stroke="#000" stroke-width="1.4"/>
<text x="364.2" y="178" class="sans bold" font-size="9.5">i</text>
<text x="437.2" y="180.8" class="sans bold" font-size="9.5">ii</text>
<text x="501.3" y="224" class="sans bold" font-size="9.5">iii</text>
<text x="522.8" y="235.2" class="sans bold" font-size="9.5">iv</text>
<text x="536.5" y="240.8" class="sans bold" font-size="9.5">v</text>
<text x="351.6" y="163.79999999999998" class="sans" font-size="13.3" text-anchor="end">200</text>
<text x="352.6" y="188.79999999999998" class="sans" font-size="13.3" text-anchor="end">0</text>
<text x="351.6" y="214.6" class="sans" font-size="13.3" text-anchor="end">-200</text>
<text x="351.6" y="240.29999999999998" class="sans" font-size="13.3" text-anchor="end">-400</text>
<text x="351.6" y="266.0" class="sans" font-size="13.3" text-anchor="end">-600</text>
<text x="361.8" y="287" class="sans" font-size="13.3" text-anchor="middle">0</text>
<text x="482" y="290.4" class="sans" font-size="13.3">10</text>
<text x="498.4" y="284.8" class="sans" font-size="10">0</text>
<text x="429.2" y="303" class="ser thin" font-size="14.5" textLength="46.4" lengthAdjust="spacingAndGlyphs">time(s)</text>
<rect x="365.1" y="235.5" width="70.4" height="31.9" fill="#fff" stroke="#b0b0b0" stroke-width="0.8"/>
<line x1="368.5" y1="241.7" x2="381" y2="241.7" stroke="#c81010" stroke-width="1.7"/>
<line x1="368.5" y1="250.6" x2="381" y2="250.6" stroke="#90d890" stroke-width="1.7"/>
<line x1="368.5" y1="260.3" x2="381" y2="260.3" stroke="#118030" stroke-width="1.7"/>
<text x="383.7" y="244.8" class="ser" font-size="9.5">Δ<tspan font-style="italic">F</tspan></text><text x="383.7" y="253.6" class="ser" font-size="9.5">Δ<tspan font-style="italic">F</tspan><tspan font-style="italic" font-size="6.5" dy="1.8">b</tspan></text><text x="383.7" y="263.4" class="ser" font-size="9.5" textLength="50.5" lengthAdjust="spacingAndGlyphs">Δ(<tspan font-style="italic">F</tspan><tspan font-style="italic" font-size="6.5" dy="1.8">p</tspan><tspan dy="-1.8"> + </tspan><tspan font-style="italic">F</tspan><tspan font-style="italic" font-size="6.5" dy="1.8">nl</tspan><tspan dy="-1.8">)</tspan></text>
<text transform="translate(319,262.5) rotate(-90)" class="ser thin" font-size="15.5" textLength="102.6" lengthAdjust="spacingAndGlyphs">ΔEnergy(<tspan font-style="italic">k</tspan><tspan font-style="italic" font-size="11" dy="2.2">B</tspan><tspan font-style="italic" dy="-2.2">T</tspan>)</text>
<text x="57.3" y="330.3" class="ser thin" font-size="14" textLength="17.6" lengthAdjust="spacingAndGlyphs">(c)</text>
<text x="83.2" y="330.3" class="ser thin" font-size="14" textLength="104.7" lengthAdjust="spacingAndGlyphs">Positive feedback</text>
<text x="38.2" y="342.6" class="ser" font-style="italic" font-size="12.5">H</text>
<path d="M35.5,341 C26,350 26,364 36,370.5" fill="none" stroke="#111" stroke-width="0.95"/>
<path d="M37.2,371.6 L33.2,370.6 L35.8,368.0 Z" fill="#111"/>
<path d="M48.8,371 C59,364 59,349 51.5,341" fill="none" stroke="#111" stroke-width="0.95"/>
<path d="M50.4,339.6 L54.2,341.2 L51.4,343.7 Z" fill="#111"/>
<text x="40" y="379.5" class="ser" font-style="italic" font-size="12.5">ϕ</text>
<line x1="15.8" y1="388.3" x2="37.4" y2="381.3" stroke="#111" stroke-width="0.8"/>
<line x1="36.6" y1="379" x2="38.2" y2="383.6" stroke="#111" stroke-width="0.8"/>
<text x="1.6" y="394.5" class="ser" font-style="italic" font-size="13">ϕ</text>
<text x="9.6" y="397.2" class="ser" font-style="italic" font-size="9.5">m</text>
<path d="M33.90,399.40 L38.07,400.18 L39.79,400.97 L41.10,401.75 L42.20,402.53 L43.16,403.31 L44.03,404.10 L44.83,404.88 L45.56,405.66 L46.25,406.44 L46.89,407.23 L47.51,408.01 L48.09,408.79 L48.64,409.57 L49.17,410.36 L49.68,411.14 L50.17,411.92 L50.64,412.70 L51.09,413.49 L51.53,414.27 L51.96,415.05 L52.37,415.83 L52.77,416.62 L53.16,417.40 L53.53,418.18 L53.90,418.96 L54.26,419.75 L54.60,420.53 L54.94,421.31 L55.27,422.09 L55.59,422.88 L55.91,423.66 L56.21,424.44 L56.51,425.22 L56.81,426.00 L57.09,426.79 L57.37,427.57 L57.64,428.35 L57.91,429.13 L58.17,429.92 L58.42,430.70 L58.67,431.48 L58.91,432.26 L59.15,433.05 L59.38,433.83 L59.61,434.61 L59.83,435.39 L60.05,436.18 L60.26,436.96 L60.47,437.74 L60.67,438.52 L60.87,439.31 L61.06,440.09 L61.25,440.87 L61.43,441.65 L61.61,442.44 L61.78,443.22 L61.95,444.00 L62.12,444.78 L62.27,445.57 L62.43,446.35 L62.58,447.13 L62.73,447.92 L62.87,448.70 L63.00,449.48 L63.14,450.26 L63.26,451.05 L63.38,451.83 L63.50,452.61 L63.61,453.39 L63.72,454.18 L63.82,454.96 L63.91,455.74 L64.00,456.52 L64.09,457.31 L64.16,458.09 L64.23,458.87 L64.29,459.65 L64.34,460.44 L64.38,461.22 L64.40,462.00 L64.40,462.45 L64.39,462.89 L64.38,463.34 L64.36,463.79 L64.34,464.23 L64.31,464.68 L64.28,465.12 L64.25,465.57 L64.21,466.02 L64.16,466.46 L64.11,466.91 L64.05,467.36 L63.99,467.80 L63.93,468.25 L63.86,468.69 L63.78,469.14 L63.70,469.59 L63.62,470.03 L63.53,470.48 L63.43,470.93 L63.33,471.37 L63.22,471.82 L63.11,472.26 L63.00,472.71 L62.87,473.16 L62.74,473.60 L62.61,474.05 L62.47,474.50 L62.33,474.94 L62.17,475.39 L62.02,475.83 L61.85,476.28 L61.68,476.73 L61.51,477.17 L61.33,477.62 L61.14,478.06 L60.94,478.51 L60.74,478.96 L60.53,479.40 L60.31,479.85 L60.09,480.30 L59.86,480.74 L59.62,481.19 L59.37,481.63 L59.12,482.08 L58.85,482.53 L58.58,482.97 L58.30,483.42 L58.01,483.87 L57.71,484.31 L57.40,484.76 L57.08,485.20 L56.75,485.65 L56.40,486.10 L56.05,486.54 L55.68,486.99 L55.30,487.44 L54.91,487.88 L54.50,488.33 L54.07,488.77 L53.63,489.22 L53.17,489.67 L52.70,490.11 L52.20,490.56 L51.68,491.01 L51.14,491.45 L50.57,491.90 L49.97,492.35 L49.33,492.79 L48.67,493.24 L47.95,493.68 L47.19,494.13 L46.38,494.58 L45.49,495.02 L44.51,495.47 L43.42,495.92 L42.17,496.36 L40.68,496.81 L38.71,497.25 L33.90,497.70 L33.90,497.70 L29.09,497.25 L27.12,496.81 L25.63,496.36 L24.38,495.92 L23.29,495.47 L22.31,495.02 L21.42,494.58 L20.61,494.13 L19.85,493.68 L19.13,493.24 L18.47,492.79 L17.83,492.35 L17.23,491.90 L16.66,491.45 L16.12,491.01 L15.60,490.56 L15.10,490.11 L14.63,489.67 L14.17,489.22 L13.73,488.77 L13.30,488.33 L12.89,487.88 L12.50,487.44 L12.12,486.99 L11.75,486.54 L11.40,486.10 L11.05,485.65 L10.72,485.20 L10.40,484.76 L10.09,484.31 L9.79,483.87 L9.50,483.42 L9.22,482.97 L8.95,482.53 L8.68,482.08 L8.43,481.63 L8.18,481.19 L7.94,480.74 L7.71,480.30 L7.49,479.85 L7.27,479.40 L7.06,478.96 L6.86,478.51 L6.66,478.06 L6.47,477.62 L6.29,477.17 L6.12,476.73 L5.95,476.28 L5.78,475.83 L5.63,475.39 L5.47,474.94 L5.33,474.50 L5.19,474.05 L5.06,473.60 L4.93,473.16 L4.80,472.71 L4.69,472.26 L4.58,471.82 L4.47,471.37 L4.37,470.93 L4.27,470.48 L4.18,470.03 L4.10,469.59 L4.02,469.14 L3.94,468.69 L3.87,468.25 L3.81,467.80 L3.75,467.36 L3.69,466.91 L3.64,466.46 L3.59,466.02 L3.55,465.57 L3.52,465.12 L3.49,464.68 L3.46,464.23 L3.44,463.79 L3.42,463.34 L3.41,462.89 L3.40,462.45 L3.40,462.00 L3.42,461.22 L3.46,460.44 L3.51,459.65 L3.57,458.87 L3.64,458.09 L3.71,457.31 L3.80,456.52 L3.89,455.74 L3.98,454.96 L4.08,454.18 L4.19,453.39 L4.30,452.61 L4.42,451.83 L4.54,451.05 L4.66,450.26 L4.80,449.48 L4.93,448.70 L5.07,447.92 L5.22,447.13 L5.37,446.35 L5.53,445.57 L5.68,444.78 L5.85,444.00 L6.02,443.22 L6.19,442.44 L6.37,441.65 L6.55,440.87 L6.74,440.09 L6.93,439.31 L7.13,438.52 L7.33,437.74 L7.54,436.96 L7.75,436.18 L7.97,435.39 L8.19,434.61 L8.42,433.83 L8.65,433.05 L8.89,432.26 L9.13,431.48 L9.38,430.70 L9.63,429.92 L9.89,429.13 L10.16,428.35 L10.43,427.57 L10.71,426.79 L10.99,426.00 L11.29,425.22 L11.59,424.44 L11.89,423.66 L12.21,422.88 L12.53,422.09 L12.86,421.31 L13.20,420.53 L13.54,419.75 L13.90,418.96 L14.27,418.18 L14.64,417.40 L15.03,416.62 L15.43,415.83 L15.84,415.05 L16.27,414.27 L16.71,413.49 L17.16,412.70 L17.63,411.92 L18.12,411.14 L18.63,410.36 L19.16,409.57 L19.71,408.79 L20.29,408.01 L20.91,407.23 L21.55,406.44 L22.24,405.66 L22.97,404.88 L23.77,404.10 L24.64,403.31 L25.60,402.53 L26.70,401.75 L28.01,400.97 L29.73,400.18 L33.90,399.40Z" fill="#0b3a40"/><g clip-path="url(#c12)"><g filter="url(#vblur)"><rect x="30.70" y="399" width="6.39" height="2" fill="url(#q279)"/><rect x="26.35" y="401" width="15.11" height="2" fill="url(#q280)"/><rect x="23.87" y="403" width="20.05" height="2" fill="url(#q281)"/><rect x="21.94" y="405" width="23.92" height="2" fill="url(#q282)"/><rect x="20.30" y="407" width="27.20" height="2" fill="url(#q283)"/><rect x="18.87" y="409" width="30.06" height="2" fill="url(#q284)"/><rect x="17.58" y="411" width="32.63" height="2" fill="url(#q285)"/><rect x="16.42" y="413" width="34.96" height="2" fill="url(#q286)"/><rect x="15.35" y="415" width="37.11" height="2" fill="url(#q287)"/><rect x="14.35" y="417" width="39.09" height="2" fill="url(#q288)"/><rect x="13.43" y="419" width="40.94" height="2" fill="url(#q289)"/><rect x="12.57" y="421" width="42.67" height="2" fill="url(#q290)"/><rect x="11.76" y="423" width="44.28" height="2" fill="url(#q291)"/><rect x="11.00" y="425" width="45.81" height="2" fill="url(#q292)"/><rect x="10.28" y="427" width="47.24" height="2" fill="url(#q293)"/><rect x="9.60" y="429" width="48.59" height="2" fill="url(#q294)"/><rect x="8.97" y="431" width="49.86" height="2" fill="url(#q295)"/><rect x="8.37" y="433" width="51.07" height="2" fill="url(#q296)"/><rect x="7.80" y="435" width="52.20" height="2" fill="url(#q297)"/><rect x="7.27" y="437" width="53.27" height="2" fill="url(#q298)"/><rect x="6.76" y="439" width="54.27" height="2" fill="url(#q299)"/><rect x="6.29" y="441" width="55.22" height="2" fill="url(#q300)"/><rect x="5.85" y="443" width="56.10" height="2" fill="url(#q301)"/><rect x="5.44" y="445" width="56.92" height="2" fill="url(#q302)"/><rect x="5.06" y="447" width="57.68" height="2" fill="url(#q303)"/><rect x="4.71" y="449" width="58.38" height="2" fill="url(#q304)"/><rect x="4.39" y="451" width="59.02" height="2" fill="url(#q305)"/><rect x="4.11" y="453" width="59.59" height="2" fill="url(#q306)"/><rect x="3.86" y="455" width="60.09" height="2" fill="url(#q307)"/><rect x="3.65" y="457" width="60.50" height="2" fill="url(#q308)"/><rect x="3.49" y="459" width="60.82" height="2" fill="url(#q309)"/><rect x="3.40" y="461" width="61.00" height="2" fill="url(#q310)"/><rect x="3.45" y="463" width="60.90" height="2" fill="url(#q311)"/><rect x="3.59" y="465" width="60.62" height="2" fill="url(#q312)"/><rect x="3.83" y="467" width="60.13" height="2" fill="url(#q313)"/><rect x="4.18" y="469" width="59.45" height="2" fill="url(#q314)"/><rect x="4.62" y="471" width="58.56" height="2" fill="url(#q315)"/><rect x="5.17" y="473" width="57.45" height="2" fill="url(#q316)"/><rect x="5.84" y="475" width="56.11" height="2" fill="url(#q317)"/><rect x="6.64" y="477" width="54.53" height="2" fill="url(#q318)"/><rect x="7.56" y="479" width="52.68" height="2" fill="url(#q319)"/><rect x="8.64" y="481" width="50.53" height="2" fill="url(#q320)"/><rect x="9.88" y="483" width="48.04" height="2" fill="url(#q321)"/><rect x="11.32" y="485" width="45.16" height="2" fill="url(#q322)"/><rect x="13.00" y="487" width="41.80" height="2" fill="url(#q323)"/><rect x="14.98" y="489" width="37.84" height="2" fill="url(#q324)"/><rect x="17.37" y="491" width="33.06" height="2" fill="url(#q325)"/><rect x="20.38" y="493" width="27.03" height="2" fill="url(#q326)"/><rect x="24.61" y="495" width="18.57" height="2" fill="url(#q327)"/></g></g>
<path d="M98.00,430.40 Q103.10,429.00 103.70,425.5 L105.30,425.5 Q105.90,429.00 111.00,430.40 Z" fill="#2aa0a0"/><circle cx="104.5" cy="463.2" r="34" fill="url(#g13)"/>
<path d="M104.50,406.30 L106.73,406.63 L107.62,406.96 L108.28,407.29 L108.81,407.62 L109.27,407.95 L109.66,408.27 L110.01,408.60 L110.31,408.93 L110.59,409.26 L110.84,409.59 L111.06,409.92 L111.25,410.25 L111.43,410.58 L111.59,410.91 L111.73,411.24 L111.85,411.57 L111.96,411.90 L112.05,412.23 L112.13,412.55 L112.19,412.88 L112.24,413.21 L112.27,413.54 L112.29,413.87 L112.30,414.20 L112.29,414.67 L112.25,415.14 L112.18,415.61 L112.09,416.08 L111.97,416.55 L111.83,417.02 L111.66,417.50 L111.46,417.97 L111.24,418.44 L110.99,418.91 L110.72,419.38 L110.43,419.85 L110.11,420.32 L109.77,420.79 L109.40,421.26 L109.01,421.73 L108.61,422.20 L108.18,422.68 L107.73,423.15 L107.27,423.62 L106.80,424.09 L106.32,424.56 L105.84,425.03 L105.40,425.50 L105.80,428.00 L103.20,428.00 L103.60,425.50 L103.16,425.03 L102.68,424.56 L102.20,424.09 L101.73,423.62 L101.27,423.15 L100.82,422.68 L100.39,422.20 L99.99,421.73 L99.60,421.26 L99.23,420.79 L98.89,420.32 L98.57,419.85 L98.28,419.38 L98.01,418.91 L97.76,418.44 L97.54,417.97 L97.34,417.50 L97.17,417.02 L97.03,416.55 L96.91,416.08 L96.82,415.61 L96.75,415.14 L96.71,414.67 L96.70,414.20 L96.71,413.87 L96.73,413.54 L96.76,413.21 L96.81,412.88 L96.87,412.55 L96.95,412.23 L97.04,411.90 L97.15,411.57 L97.27,411.24 L97.41,410.91 L97.57,410.58 L97.75,410.25 L97.94,409.92 L98.16,409.59 L98.41,409.26 L98.69,408.93 L98.99,408.60 L99.34,408.27 L99.73,407.95 L100.19,407.62 L100.72,407.29 L101.38,406.96 L102.27,406.63 L104.50,406.30Z" fill="#3a3a22"/><g clip-path="url(#c14)"><g filter="url(#vblur)"><rect x="101.30" y="406" width="6.40" height="2" fill="url(#q328)"/><rect x="98.63" y="408" width="11.74" height="2" fill="url(#q329)"/><rect x="97.37" y="410" width="14.26" height="2" fill="url(#q330)"/><rect x="96.79" y="412" width="15.42" height="2" fill="url(#q331)"/><rect x="96.74" y="414" width="15.52" height="2" fill="url(#q332)"/><rect x="97.17" y="416" width="14.67" height="2" fill="url(#q333)"/><rect x="98.06" y="418" width="12.88" height="2" fill="url(#q334)"/><rect x="99.39" y="420" width="10.21" height="2" fill="url(#q335)"/><rect x="101.13" y="422" width="6.74" height="2" fill="url(#q336)"/><rect x="103.13" y="424" width="2.74" height="2" fill="url(#q337)"/><rect x="103.36" y="426" width="2.28" height="2" fill="url(#q338)"/></g></g>
<path d="M171.10,430.40 Q176.20,429.00 176.80,427 L178.40,427 Q179.00,429.00 184.10,430.40 Z" fill="#1d8fb0"/><circle cx="177.6" cy="463.4" r="34.2" fill="url(#g15)"/>
<path d="M177.50,393.50 L178.99,393.75 L179.58,394.00 L180.02,394.25 L180.37,394.50 L180.68,394.75 L180.94,395.00 L181.17,395.25 L181.38,395.50 L181.56,395.75 L181.72,396.00 L181.87,396.25 L182.00,396.50 L182.12,396.75 L182.23,397.00 L182.32,397.25 L182.40,397.50 L182.47,397.75 L182.53,398.00 L182.59,398.25 L182.63,398.50 L182.66,398.75 L182.68,399.00 L182.70,399.25 L182.70,399.50 L182.69,399.85 L182.66,400.20 L182.61,400.55 L182.53,400.90 L182.44,401.25 L182.33,401.60 L182.20,401.95 L182.05,402.30 L181.88,402.65 L181.69,403.00 L181.49,403.35 L181.27,403.70 L181.04,404.05 L180.80,404.40 L180.55,404.75 L180.29,405.10 L180.02,405.45 L179.75,405.80 L179.48,406.15 L179.22,406.50 L178.96,406.85 L178.73,407.20 L178.53,407.55 L178.40,407.90 L178.52,407.93 L178.69,408.25 L178.87,408.58 L179.06,408.90 L179.26,409.23 L179.46,409.55 L179.65,409.88 L179.84,410.20 L180.03,410.52 L180.21,410.85 L180.37,411.18 L180.53,411.50 L180.68,411.82 L180.82,412.15 L180.95,412.48 L181.06,412.80 L181.16,413.12 L181.25,413.45 L181.33,413.77 L181.39,414.10 L181.44,414.42 L181.47,414.75 L181.49,415.07 L181.50,415.40 L181.49,415.83 L181.48,416.27 L181.44,416.70 L181.40,417.13 L181.34,417.57 L181.28,418.00 L181.20,418.43 L181.10,418.87 L181.00,419.30 L180.89,419.73 L180.76,420.17 L180.62,420.60 L180.48,421.03 L180.32,421.47 L180.16,421.90 L179.98,422.33 L179.80,422.77 L179.61,423.20 L179.42,423.63 L179.22,424.07 L179.03,424.50 L178.83,424.93 L178.65,425.37 L178.50,425.80 L178.80,429.00 L176.20,429.00 L176.50,425.80 L176.35,425.37 L176.17,424.93 L175.97,424.50 L175.78,424.07 L175.58,423.63 L175.39,423.20 L175.20,422.77 L175.02,422.33 L174.84,421.90 L174.68,421.47 L174.52,421.03 L174.38,420.60 L174.24,420.17 L174.11,419.73 L174.00,419.30 L173.90,418.87 L173.80,418.43 L173.72,418.00 L173.66,417.57 L173.60,417.13 L173.56,416.70 L173.52,416.27 L173.51,415.83 L173.50,415.40 L173.51,415.07 L173.53,414.75 L173.56,414.42 L173.61,414.10 L173.67,413.77 L173.75,413.45 L173.84,413.12 L173.94,412.80 L174.05,412.48 L174.18,412.15 L174.32,411.82 L174.47,411.50 L174.63,411.18 L174.79,410.85 L174.97,410.52 L175.16,410.20 L175.35,409.88 L175.54,409.55 L175.74,409.23 L175.94,408.90 L176.13,408.58 L176.31,408.25 L176.48,407.93 L176.60,407.90 L176.47,407.55 L176.27,407.20 L176.04,406.85 L175.78,406.50 L175.52,406.15 L175.25,405.80 L174.98,405.45 L174.71,405.10 L174.45,404.75 L174.20,404.40 L173.96,404.05 L173.73,403.70 L173.51,403.35 L173.31,403.00 L173.12,402.65 L172.95,402.30 L172.80,401.95 L172.67,401.60 L172.56,401.25 L172.47,400.90 L172.39,400.55 L172.34,400.20 L172.31,399.85 L172.30,399.50 L172.30,399.25 L172.32,399.00 L172.34,398.75 L172.37,398.50 L172.41,398.25 L172.47,398.00 L172.53,397.75 L172.60,397.50 L172.68,397.25 L172.77,397.00 L172.88,396.75 L173.00,396.50 L173.13,396.25 L173.28,396.00 L173.44,395.75 L173.62,395.50 L173.83,395.25 L174.06,395.00 L174.32,394.75 L174.63,394.50 L174.98,394.25 L175.42,394.00 L176.01,393.75 L177.50,393.50Z" fill="#4b4222"/><g clip-path="url(#c16)"><g filter="url(#vblur)"><rect x="175.42" y="393" width="4.16" height="2" fill="url(#q339)"/><rect x="173.28" y="395" width="8.45" height="2" fill="url(#q340)"/><rect x="172.47" y="397" width="10.07" height="2" fill="url(#q341)"/><rect x="172.32" y="399" width="10.35" height="2" fill="url(#q342)"/><rect x="172.82" y="401" width="9.35" height="2" fill="url(#q343)"/><rect x="173.92" y="403" width="7.15" height="2" fill="url(#q344)"/><rect x="175.40" y="405" width="4.20" height="2" fill="url(#q345)"/><rect x="176.44" y="407" width="2.12" height="2" fill="url(#q346)"/><rect x="175.27" y="409" width="4.45" height="2" fill="url(#q347)"/><rect x="174.24" y="411" width="6.51" height="2" fill="url(#q348)"/><rect x="173.63" y="413" width="7.74" height="2" fill="url(#q349)"/><rect x="173.51" y="415" width="7.97" height="2" fill="url(#q350)"/><rect x="173.72" y="417" width="7.55" height="2" fill="url(#q351)"/><rect x="174.19" y="419" width="6.62" height="2" fill="url(#q352)"/><rect x="174.88" y="421" width="5.23" height="2" fill="url(#q353)"/><rect x="175.75" y="423" width="3.51" height="2" fill="url(#q354)"/><rect x="176.48" y="425" width="2.04" height="2" fill="url(#q355)"/><rect x="176.29" y="427" width="2.41" height="2" fill="url(#q356)"/></g></g>
<path d="M243.60,430.40 Q248.70,429.00 249.30,427 L250.90,427 Q251.50,429.00 256.60,430.40 Z" fill="#1d8fb0"/><circle cx="250.1" cy="463.4" r="34.2" fill="url(#g17)"/>
<path d="M250.00,383.30 L251.29,383.52 L251.80,383.73 L252.18,383.95 L252.49,384.17 L252.75,384.38 L252.98,384.60 L253.18,384.82 L253.35,385.03 L253.51,385.25 L253.66,385.47 L253.78,385.68 L253.90,385.90 L254.00,386.12 L254.09,386.33 L254.17,386.55 L254.24,386.77 L254.30,386.98 L254.36,387.20 L254.40,387.42 L254.44,387.63 L254.46,387.85 L254.48,388.07 L254.50,388.28 L254.50,388.50 L254.49,388.75 L254.47,388.99 L254.42,389.24 L254.36,389.48 L254.28,389.73 L254.19,389.98 L254.08,390.22 L253.95,390.47 L253.81,390.71 L253.66,390.96 L253.49,391.20 L253.31,391.45 L253.11,391.70 L252.91,391.94 L252.70,392.19 L252.48,392.43 L252.26,392.68 L252.03,392.92 L251.81,393.17 L251.58,393.42 L251.37,393.66 L251.18,393.91 L251.01,394.15 L250.90,394.40 L251.00,394.43 L251.14,394.75 L251.29,395.08 L251.46,395.40 L251.62,395.73 L251.79,396.05 L251.95,396.38 L252.11,396.70 L252.27,397.02 L252.41,397.35 L252.56,397.68 L252.69,398.00 L252.81,398.32 L252.93,398.65 L253.04,398.98 L253.13,399.30 L253.22,399.62 L253.29,399.95 L253.35,400.27 L253.41,400.60 L253.45,400.92 L253.48,401.25 L253.49,401.57 L253.50,401.90 L253.49,402.25 L253.48,402.60 L253.45,402.95 L253.41,403.30 L253.35,403.65 L253.29,404.00 L253.22,404.35 L253.13,404.70 L253.04,405.05 L252.93,405.40 L252.81,405.75 L252.69,406.10 L252.56,406.45 L252.41,406.80 L252.27,407.15 L252.11,407.50 L251.95,407.85 L251.79,408.20 L251.62,408.55 L251.46,408.90 L251.29,409.25 L251.14,409.60 L251.00,409.95 L250.90,410.30 L251.14,410.57 L251.29,410.86 L251.46,411.15 L251.62,411.44 L251.79,411.73 L251.95,412.01 L252.11,412.30 L252.27,412.59 L252.41,412.88 L252.56,413.16 L252.69,413.45 L252.81,413.74 L252.93,414.02 L253.04,414.31 L253.13,414.60 L253.22,414.89 L253.29,415.17 L253.35,415.46 L253.41,415.75 L253.45,416.04 L253.48,416.32 L253.49,416.61 L253.50,416.90 L253.49,417.27 L253.48,417.64 L253.45,418.01 L253.42,418.38 L253.37,418.75 L253.31,419.12 L253.25,419.50 L253.17,419.87 L253.08,420.24 L252.99,420.61 L252.88,420.98 L252.77,421.35 L252.65,421.72 L252.52,422.09 L252.38,422.46 L252.23,422.83 L252.08,423.20 L251.93,423.57 L251.77,423.95 L251.60,424.32 L251.44,424.69 L251.28,425.06 L251.12,425.43 L251.00,425.80 L251.30,429.00 L248.70,429.00 L249.00,425.80 L248.88,425.43 L248.72,425.06 L248.56,424.69 L248.40,424.32 L248.23,423.95 L248.07,423.57 L247.92,423.20 L247.77,422.83 L247.62,422.46 L247.48,422.09 L247.35,421.72 L247.23,421.35 L247.12,420.98 L247.01,420.61 L246.92,420.24 L246.83,419.87 L246.75,419.50 L246.69,419.12 L246.63,418.75 L246.58,418.38 L246.55,418.01 L246.52,417.64 L246.51,417.27 L246.50,416.90 L246.51,416.61 L246.52,416.32 L246.55,416.04 L246.59,415.75 L246.65,415.46 L246.71,415.17 L246.78,414.89 L246.87,414.60 L246.96,414.31 L247.07,414.02 L247.19,413.74 L247.31,413.45 L247.44,413.16 L247.59,412.88 L247.73,412.59 L247.89,412.30 L248.05,412.01 L248.21,411.73 L248.38,411.44 L248.54,411.15 L248.71,410.86 L248.86,410.57 L249.10,410.30 L249.00,409.95 L248.86,409.60 L248.71,409.25 L248.54,408.90 L248.38,408.55 L248.21,408.20 L248.05,407.85 L247.89,407.50 L247.73,407.15 L247.59,406.80 L247.44,406.45 L247.31,406.10 L247.19,405.75 L247.07,405.40 L246.96,405.05 L246.87,404.70 L246.78,404.35 L246.71,404.00 L246.65,403.65 L246.59,403.30 L246.55,402.95 L246.52,402.60 L246.51,402.25 L246.50,401.90 L246.51,401.57 L246.52,401.25 L246.55,400.92 L246.59,400.60 L246.65,400.27 L246.71,399.95 L246.78,399.62 L246.87,399.30 L246.96,398.98 L247.07,398.65 L247.19,398.32 L247.31,398.00 L247.44,397.68 L247.59,397.35 L247.73,397.02 L247.89,396.70 L248.05,396.38 L248.21,396.05 L248.38,395.73 L248.54,395.40 L248.71,395.08 L248.86,394.75 L249.00,394.43 L249.10,394.40 L248.99,394.15 L248.82,393.91 L248.63,393.66 L248.42,393.42 L248.19,393.17 L247.97,392.92 L247.74,392.68 L247.52,392.43 L247.30,392.19 L247.09,391.94 L246.89,391.70 L246.69,391.45 L246.51,391.20 L246.34,390.96 L246.19,390.71 L246.05,390.47 L245.92,390.22 L245.81,389.98 L245.72,389.73 L245.64,389.48 L245.58,389.24 L245.53,388.99 L245.51,388.75 L245.50,388.50 L245.50,388.28 L245.52,388.07 L245.54,387.85 L245.56,387.63 L245.60,387.42 L245.64,387.20 L245.70,386.98 L245.76,386.77 L245.83,386.55 L245.91,386.33 L246.00,386.12 L246.10,385.90 L246.22,385.68 L246.34,385.47 L246.49,385.25 L246.65,385.03 L246.82,384.82 L247.02,384.60 L247.25,384.38 L247.51,384.17 L247.82,383.95 L248.20,383.73 L248.71,383.52 L250.00,383.30Z" fill="#4b4222"/><g clip-path="url(#c18)"><g filter="url(#vblur)"><rect x="247.75" y="383" width="4.50" height="2" fill="url(#q357)"/><rect x="246.06" y="385" width="7.89" height="2" fill="url(#q358)"/><rect x="245.52" y="387" width="8.96" height="2" fill="url(#q359)"/><rect x="245.82" y="389" width="8.36" height="2" fill="url(#q360)"/><rect x="247.14" y="391" width="5.72" height="2" fill="url(#q361)"/><rect x="248.89" y="393" width="2.23" height="2" fill="url(#q262)"/><rect x="248.24" y="395" width="3.52" height="2" fill="url(#q362)"/><rect x="247.31" y="397" width="5.38" height="2" fill="url(#q348)"/><rect x="246.70" y="399" width="6.60" height="2" fill="url(#q363)"/><rect x="246.50" y="401" width="7.00" height="2" fill="url(#q364)"/><rect x="246.71" y="403" width="6.58" height="2" fill="url(#q365)"/><rect x="247.28" y="405" width="5.45" height="2" fill="url(#q366)"/><rect x="248.12" y="407" width="3.76" height="2" fill="url(#q367)"/><rect x="249.01" y="409" width="1.97" height="2" fill="url(#q261)"/><rect x="248.06" y="411" width="3.89" height="2" fill="url(#q368)"/><rect x="247.08" y="413" width="5.84" height="2" fill="url(#q369)"/><rect x="246.56" y="415" width="6.88" height="2" fill="url(#q370)"/><rect x="246.55" y="417" width="6.91" height="2" fill="url(#q371)"/><rect x="246.86" y="419" width="6.28" height="2" fill="url(#q372)"/><rect x="247.45" y="421" width="5.10" height="2" fill="url(#q373)"/><rect x="248.26" y="423" width="3.48" height="2" fill="url(#q374)"/><rect x="248.98" y="425" width="2.04" height="2" fill="url(#q375)"/><rect x="248.79" y="427" width="2.41" height="2" fill="url(#q356)"/></g></g>
<rect x="2.1" y="501.6" width="61.6" height="5.3" fill="url(#parH)"/>
<text x="2.1" y="516.8" class="sans" font-size="10">0.3</text>
<text x="67.0" y="516.8" class="sans" font-size="10" text-anchor="end">0.47</text>
<rect x="74" y="501.6" width="61.69999999999999" height="5.3" fill="url(#parH)"/>
<text x="74" y="516.8" class="sans" font-size="10">0</text>
<text x="139.0" y="516.8" class="sans" font-size="10" text-anchor="end">0.75</text>
<rect x="147.8" y="501.6" width="61.89999999999998" height="5.3" fill="url(#parH)"/>
<text x="147.8" y="516.8" class="sans" font-size="10">0</text>
<text x="213.0" y="516.8" class="sans" font-size="10" text-anchor="end">0.95</text>
<rect x="220.8" y="501.6" width="61.39999999999998" height="5.3" fill="url(#parH)"/>
<text x="220.8" y="516.8" class="sans" font-size="10">0</text>
<text x="283.7" y="516.8" class="sans" font-size="10" text-anchor="end">1</text>
<text x="26" y="523.5" class="ser" font-style="italic" font-size="18.5" textLength="11" lengthAdjust="spacingAndGlyphs">ϕ</text>
<text x="381.6" y="329.5" class="ser thin" font-size="14" textLength="20.9" lengthAdjust="spacingAndGlyphs">(d)</text>
<text x="409.2" y="329.5" class="ser thin" font-size="14" textLength="105.3" lengthAdjust="spacingAndGlyphs">Mechanical stress</text>
<path d="M343.50,430.60 Q348.60,429.20 349.20,426.5 L350.80,426.5 Q351.40,429.20 356.50,430.60 Z" fill="#1d8fb0"/><circle cx="350" cy="462.6" r="33.2" fill="url(#g19)"/>
<path d="M350.30,338.30 L351.53,338.48 L352.02,338.66 L352.38,338.84 L352.68,339.02 L352.93,339.20 L353.14,339.38 L353.34,339.55 L353.51,339.73 L353.66,339.91 L353.79,340.09 L353.91,340.27 L354.02,340.45 L354.12,340.63 L354.21,340.81 L354.29,340.99 L354.35,341.17 L354.41,341.35 L354.46,341.53 L354.51,341.70 L354.54,341.88 L354.57,342.06 L354.59,342.24 L354.60,342.42 L354.60,342.60 L354.59,342.93 L354.58,343.26 L354.55,343.59 L354.51,343.92 L354.46,344.25 L354.40,344.58 L354.33,344.90 L354.25,345.23 L354.15,345.56 L354.05,345.89 L353.94,346.22 L353.82,346.55 L353.69,346.88 L353.56,347.21 L353.41,347.54 L353.26,347.87 L353.11,348.20 L352.95,348.52 L352.79,348.85 L352.64,349.18 L352.48,349.51 L352.33,349.84 L352.20,350.17 L352.10,350.50 L352.30,350.54 L352.38,350.86 L352.46,351.18 L352.53,351.50 L352.60,351.82 L352.66,352.15 L352.72,352.47 L352.77,352.79 L352.82,353.11 L352.87,353.43 L352.91,353.75 L352.95,354.07 L352.98,354.39 L353.02,354.71 L353.04,355.03 L353.07,355.35 L353.09,355.68 L353.11,356.00 L353.12,356.32 L353.14,356.64 L353.14,356.96 L353.15,357.28 L353.15,357.60 L353.15,357.91 L353.14,358.22 L353.14,358.53 L353.12,358.83 L353.11,359.14 L353.09,359.45 L353.07,359.76 L353.04,360.07 L353.02,360.38 L352.98,360.68 L352.95,360.99 L352.91,361.30 L352.87,361.61 L352.82,361.92 L352.77,362.23 L352.72,362.53 L352.66,362.84 L352.60,363.15 L352.53,363.46 L352.46,363.77 L352.38,364.07 L352.30,364.38 L352.21,364.69 L352.10,365.00 L352.21,365.02 L352.30,365.35 L352.38,365.68 L352.46,366.00 L352.53,366.32 L352.60,366.65 L352.66,366.97 L352.72,367.30 L352.77,367.62 L352.82,367.95 L352.87,368.27 L352.91,368.60 L352.95,368.93 L352.98,369.25 L353.02,369.57 L353.04,369.90 L353.07,370.23 L353.09,370.55 L353.11,370.88 L353.12,371.20 L353.14,371.52 L353.14,371.85 L353.15,372.18 L353.15,372.50 L353.15,372.81 L353.14,373.12 L353.14,373.44 L353.12,373.75 L353.11,374.06 L353.09,374.38 L353.07,374.69 L353.04,375.00 L353.02,375.31 L352.98,375.62 L352.95,375.94 L352.91,376.25 L352.87,376.56 L352.82,376.88 L352.77,377.19 L352.72,377.50 L352.66,377.81 L352.60,378.12 L352.53,378.44 L352.46,378.75 L352.38,379.06 L352.30,379.38 L352.21,379.69 L352.10,380.00 L352.21,380.00 L352.30,380.31 L352.38,380.61 L352.46,380.92 L352.53,381.22 L352.60,381.52 L352.66,381.83 L352.72,382.13 L352.77,382.44 L352.82,382.74 L352.87,383.05 L352.91,383.35 L352.95,383.65 L352.98,383.96 L353.02,384.26 L353.04,384.57 L353.07,384.87 L353.09,385.18 L353.11,385.48 L353.12,385.78 L353.14,386.09 L353.14,386.39 L353.15,386.70 L353.15,387.00 L353.15,387.29 L353.14,387.58 L353.14,387.88 L353.12,388.17 L353.11,388.46 L353.09,388.75 L353.07,389.04 L353.04,389.33 L353.02,389.62 L352.98,389.92 L352.95,390.21 L352.91,390.50 L352.87,390.79 L352.82,391.08 L352.77,391.38 L352.72,391.67 L352.66,391.96 L352.60,392.25 L352.53,392.54 L352.46,392.83 L352.38,393.12 L352.30,393.42 L352.21,393.71 L352.10,394.00 L352.21,394.04 L352.30,394.37 L352.38,394.71 L352.46,395.04 L352.53,395.38 L352.60,395.71 L352.66,396.05 L352.72,396.38 L352.77,396.72 L352.82,397.05 L352.87,397.39 L352.91,397.73 L352.95,398.06 L352.98,398.40 L353.02,398.73 L353.04,399.07 L353.07,399.40 L353.09,399.74 L353.11,400.07 L353.12,400.41 L353.14,400.74 L353.14,401.08 L353.15,401.41 L353.15,401.75 L353.15,402.07 L353.14,402.40 L353.14,402.72 L353.12,403.04 L353.11,403.36 L353.09,403.69 L353.07,404.01 L353.04,404.33 L353.02,404.66 L352.98,404.98 L352.95,405.30 L352.91,405.62 L352.87,405.95 L352.82,406.27 L352.77,406.59 L352.72,406.92 L352.66,407.24 L352.60,407.56 L352.53,407.89 L352.46,408.21 L352.38,408.53 L352.30,408.85 L352.21,409.18 L352.10,409.50 L352.21,409.56 L352.30,409.91 L352.38,410.27 L352.46,410.62 L352.53,410.98 L352.60,411.34 L352.66,411.69 L352.72,412.05 L352.77,412.41 L352.82,412.76 L352.87,413.12 L352.91,413.48 L352.95,413.83 L352.98,414.19 L353.02,414.54 L353.04,414.90 L353.07,415.26 L353.09,415.61 L353.11,415.97 L353.12,416.32 L353.14,416.68 L353.14,417.04 L353.15,417.39 L353.15,417.75 L353.15,418.09 L353.14,418.44 L353.14,418.78 L353.12,419.12 L353.11,419.47 L353.09,419.81 L353.07,420.16 L353.04,420.50 L353.02,420.84 L352.98,421.19 L352.95,421.53 L352.91,421.88 L352.87,422.22 L352.82,422.56 L352.77,422.91 L352.72,423.25 L352.66,423.59 L352.60,423.94 L352.53,424.28 L352.46,424.62 L352.38,424.97 L352.30,425.31 L352.21,425.66 L352.10,426.00 L352.10,429.50 L348.50,429.50 L348.50,426.00 L348.39,425.66 L348.30,425.31 L348.22,424.97 L348.14,424.62 L348.07,424.28 L348.00,423.94 L347.94,423.59 L347.88,423.25 L347.83,422.91 L347.78,422.56 L347.73,422.22 L347.69,421.88 L347.65,421.53 L347.62,421.19 L347.58,420.84 L347.56,420.50 L347.53,420.16 L347.51,419.81 L347.49,419.47 L347.48,419.12 L347.46,418.78 L347.46,418.44 L347.45,418.09 L347.45,417.75 L347.45,417.39 L347.46,417.04 L347.46,416.68 L347.48,416.32 L347.49,415.97 L347.51,415.61 L347.53,415.26 L347.56,414.90 L347.58,414.54 L347.62,414.19 L347.65,413.83 L347.69,413.48 L347.73,413.12 L347.78,412.76 L347.83,412.41 L347.88,412.05 L347.94,411.69 L348.00,411.34 L348.07,410.98 L348.14,410.62 L348.22,410.27 L348.30,409.91 L348.39,409.56 L348.50,409.50 L348.39,409.18 L348.30,408.85 L348.22,408.53 L348.14,408.21 L348.07,407.89 L348.00,407.56 L347.94,407.24 L347.88,406.92 L347.83,406.59 L347.78,406.27 L347.73,405.95 L347.69,405.62 L347.65,405.30 L347.62,404.98 L347.58,404.66 L347.56,404.33 L347.53,404.01 L347.51,403.69 L347.49,403.36 L347.48,403.04 L347.46,402.72 L347.46,402.40 L347.45,402.07 L347.45,401.75 L347.45,401.41 L347.46,401.08 L347.46,400.74 L347.48,400.41 L347.49,400.07 L347.51,399.74 L347.53,399.40 L347.56,399.07 L347.58,398.73 L347.62,398.40 L347.65,398.06 L347.69,397.73 L347.73,397.39 L347.78,397.05 L347.83,396.72 L347.88,396.38 L347.94,396.05 L348.00,395.71 L348.07,395.38 L348.14,395.04 L348.22,394.71 L348.30,394.37 L348.39,394.04 L348.50,394.00 L348.39,393.71 L348.30,393.42 L348.22,393.12 L348.14,392.83 L348.07,392.54 L348.00,392.25 L347.94,391.96 L347.88,391.67 L347.83,391.38 L347.78,391.08 L347.73,390.79 L347.69,390.50 L347.65,390.21 L347.62,389.92 L347.58,389.62 L347.56,389.33 L347.53,389.04 L347.51,388.75 L347.49,388.46 L347.48,388.17 L347.46,387.88 L347.46,387.58 L347.45,387.29 L347.45,387.00 L347.45,386.70 L347.46,386.39 L347.46,386.09 L347.48,385.78 L347.49,385.48 L347.51,385.18 L347.53,384.87 L347.56,384.57 L347.58,384.26 L347.62,383.96 L347.65,383.65 L347.69,383.35 L347.73,383.05 L347.78,382.74 L347.83,382.44 L347.88,382.13 L347.94,381.83 L348.00,381.52 L348.07,381.22 L348.14,380.92 L348.22,380.61 L348.30,380.31 L348.39,380.00 L348.50,380.00 L348.39,379.69 L348.30,379.38 L348.22,379.06 L348.14,378.75 L348.07,378.44 L348.00,378.12 L347.94,377.81 L347.88,377.50 L347.83,377.19 L347.78,376.88 L347.73,376.56 L347.69,376.25 L347.65,375.94 L347.62,375.62 L347.58,375.31 L347.56,375.00 L347.53,374.69 L347.51,374.38 L347.49,374.06 L347.48,373.75 L347.46,373.44 L347.46,373.12 L347.45,372.81 L347.45,372.50 L347.45,372.18 L347.46,371.85 L347.46,371.52 L347.48,371.20 L347.49,370.88 L347.51,370.55 L347.53,370.23 L347.56,369.90 L347.58,369.57 L347.62,369.25 L347.65,368.93 L347.69,368.60 L347.73,368.27 L347.78,367.95 L347.83,367.62 L347.88,367.30 L347.94,366.97 L348.00,366.65 L348.07,366.32 L348.14,366.00 L348.22,365.68 L348.30,365.35 L348.39,365.02 L348.50,365.00 L348.39,364.69 L348.30,364.38 L348.22,364.07 L348.14,363.77 L348.07,363.46 L348.00,363.15 L347.94,362.84 L347.88,362.53 L347.83,362.23 L347.78,361.92 L347.73,361.61 L347.69,361.30 L347.65,360.99 L347.62,360.68 L347.58,360.38 L347.56,360.07 L347.53,359.76 L347.51,359.45 L347.49,359.14 L347.48,358.83 L347.46,358.53 L347.46,358.22 L347.45,357.91 L347.45,357.60 L347.45,357.28 L347.46,356.96 L347.46,356.64 L347.48,356.32 L347.49,356.00 L347.51,355.68 L347.53,355.35 L347.56,355.03 L347.58,354.71 L347.62,354.39 L347.65,354.07 L347.69,353.75 L347.73,353.43 L347.78,353.11 L347.83,352.79 L347.88,352.47 L347.94,352.15 L348.00,351.82 L348.07,351.50 L348.14,351.18 L348.22,350.86 L348.30,350.54 L348.50,350.50 L348.40,350.17 L348.27,349.84 L348.12,349.51 L347.96,349.18 L347.81,348.85 L347.65,348.52 L347.49,348.20 L347.34,347.87 L347.19,347.54 L347.04,347.21 L346.91,346.88 L346.78,346.55 L346.66,346.22 L346.55,345.89 L346.45,345.56 L346.35,345.23 L346.27,344.90 L346.20,344.58 L346.14,344.25 L346.09,343.92 L346.05,343.59 L346.02,343.26 L346.01,342.93 L346.00,342.60 L346.00,342.42 L346.01,342.24 L346.03,342.06 L346.06,341.88 L346.09,341.70 L346.14,341.53 L346.19,341.35 L346.25,341.17 L346.31,340.99 L346.39,340.81 L346.48,340.63 L346.58,340.45 L346.69,340.27 L346.81,340.09 L346.94,339.91 L347.09,339.73 L347.26,339.55 L347.46,339.38 L347.67,339.20 L347.92,339.02 L348.22,338.84 L348.58,338.66 L349.07,338.48 L350.30,338.30Z" fill="#323820"/><g clip-path="url(#c20)"><g filter="url(#vblur)"><rect x="347.95" y="338" width="4.70" height="2" fill="url(#q376)"/><rect x="346.31" y="340" width="7.98" height="2" fill="url(#q377)"/><rect x="346.01" y="342" width="8.58" height="2" fill="url(#q378)"/><rect x="346.30" y="344" width="8.01" height="2" fill="url(#q379)"/><rect x="346.96" y="346" width="6.68" height="2" fill="url(#q380)"/><rect x="347.88" y="348" width="4.85" height="2" fill="url(#q381)"/><rect x="348.18" y="350" width="4.23" height="2" fill="url(#q382)"/><rect x="347.79" y="352" width="5.01" height="2" fill="url(#q383)"/><rect x="347.56" y="354" width="5.48" height="2" fill="url(#q384)"/><rect x="347.46" y="356" width="5.69" height="2" fill="url(#q385)"/><rect x="347.48" y="358" width="5.63" height="2" fill="url(#q386)"/><rect x="347.65" y="360" width="5.30" height="2" fill="url(#q387)"/><rect x="347.97" y="362" width="4.66" height="2" fill="url(#q388)"/><rect x="348.50" y="364" width="3.60" height="2" fill="url(#q389)"/><rect x="347.93" y="366" width="4.73" height="2" fill="url(#q390)"/><rect x="347.64" y="368" width="5.31" height="2" fill="url(#q391)"/><rect x="347.49" y="370" width="5.63" height="2" fill="url(#q392)"/><rect x="347.45" y="372" width="5.69" height="2" fill="url(#q393)"/><rect x="347.56" y="374" width="5.49" height="2" fill="url(#q394)"/><rect x="347.80" y="376" width="5.00" height="2" fill="url(#q395)"/><rect x="348.20" y="378" width="4.20" height="2" fill="url(#q396)"/><rect x="348.12" y="380" width="4.36" height="2" fill="url(#q397)"/><rect x="347.74" y="382" width="5.12" height="2" fill="url(#q398)"/><rect x="347.52" y="384" width="5.56" height="2" fill="url(#q399)"/><rect x="347.45" y="386" width="5.70" height="2" fill="url(#q400)"/><rect x="347.53" y="388" width="5.54" height="2" fill="url(#q401)"/><rect x="347.76" y="390" width="5.07" height="2" fill="url(#q402)"/><rect x="348.18" y="392" width="4.23" height="2" fill="url(#q403)"/><rect x="348.15" y="394" width="4.30" height="2" fill="url(#q404)"/><rect x="347.79" y="396" width="5.03" height="2" fill="url(#q405)"/><rect x="347.56" y="398" width="5.48" height="2" fill="url(#q406)"/><rect x="347.46" y="400" width="5.68" height="2" fill="url(#q407)"/><rect x="347.47" y="402" width="5.65" height="2" fill="url(#q408)"/><rect x="347.62" y="404" width="5.36" height="2" fill="url(#q409)"/><rect x="347.90" y="406" width="4.81" height="2" fill="url(#q410)"/><rect x="348.34" y="408" width="3.92" height="2" fill="url(#q411)"/><rect x="348.06" y="410" width="4.47" height="2" fill="url(#q412)"/><rect x="347.75" y="412" width="5.11" height="2" fill="url(#q413)"/><rect x="347.55" y="414" width="5.50" height="2" fill="url(#q399)"/><rect x="347.46" y="416" width="5.69" height="2" fill="url(#q385)"/><rect x="347.47" y="418" width="5.66" height="2" fill="url(#q414)"/><rect x="347.60" y="420" width="5.40" height="2" fill="url(#q415)"/><rect x="347.84" y="422" width="4.92" height="2" fill="url(#q416)"/><rect x="348.22" y="424" width="4.15" height="2" fill="url(#q417)"/><rect x="348.50" y="426" width="3.60" height="2" fill="url(#q418)"/><rect x="348.50" y="428" width="3.60" height="2" fill="url(#q418)"/></g></g>
<path d="M412.00,430.30 Q417.10,428.90 417.70,427.5 L419.30,427.5 Q419.90,428.90 425.00,430.30 Z" fill="#1d8fb0"/><circle cx="418.5" cy="463.2" r="34.1" fill="url(#g21)"/>
<path d="M418.60,409.10 L419.43,409.22 L419.76,409.34 L420.00,409.46 L420.20,409.58 L420.37,409.70 L420.52,409.83 L420.65,409.95 L420.76,410.07 L420.86,410.19 L420.96,410.31 L421.04,410.43 L421.11,410.55 L421.18,410.67 L421.24,410.79 L421.29,410.91 L421.33,411.03 L421.37,411.15 L421.41,411.27 L421.44,411.40 L421.46,411.52 L421.48,411.64 L421.49,411.76 L421.50,411.88 L421.50,412.00 L421.50,412.16 L421.48,412.32 L421.46,412.48 L421.42,412.63 L421.38,412.79 L421.33,412.95 L421.27,413.11 L421.20,413.27 L421.12,413.43 L421.03,413.58 L420.94,413.74 L420.84,413.90 L420.73,414.06 L420.62,414.22 L420.50,414.38 L420.38,414.53 L420.25,414.69 L420.13,414.85 L420.00,415.01 L419.88,415.17 L419.76,415.32 L419.65,415.48 L419.56,415.64 L419.50,415.80 L419.70,415.98 L419.82,416.23 L419.93,416.47 L420.05,416.71 L420.17,416.95 L420.28,417.19 L420.39,417.43 L420.49,417.68 L420.59,417.92 L420.69,418.16 L420.77,418.40 L420.86,418.64 L420.93,418.88 L421.00,419.12 L421.06,419.37 L421.12,419.61 L421.17,419.85 L421.21,420.09 L421.24,420.33 L421.27,420.57 L421.29,420.82 L421.30,421.06 L421.30,421.30 L421.30,421.55 L421.29,421.81 L421.27,422.06 L421.24,422.32 L421.21,422.57 L421.17,422.82 L421.13,423.08 L421.08,423.33 L421.02,423.59 L420.95,423.84 L420.88,424.10 L420.80,424.35 L420.72,424.60 L420.63,424.86 L420.54,425.11 L420.44,425.37 L420.34,425.62 L420.23,425.88 L420.12,426.13 L420.01,426.38 L419.90,426.64 L419.79,426.89 L419.68,427.15 L419.60,427.40 L419.90,430.00 L417.30,430.00 L417.60,427.40 L417.52,427.15 L417.41,426.89 L417.30,426.64 L417.19,426.38 L417.08,426.13 L416.97,425.88 L416.86,425.62 L416.76,425.37 L416.66,425.11 L416.57,424.86 L416.48,424.60 L416.40,424.35 L416.32,424.10 L416.25,423.84 L416.18,423.59 L416.12,423.33 L416.07,423.08 L416.03,422.82 L415.99,422.57 L415.96,422.32 L415.93,422.06 L415.91,421.81 L415.90,421.55 L415.90,421.30 L415.90,421.06 L415.91,420.82 L415.93,420.57 L415.96,420.33 L415.99,420.09 L416.03,419.85 L416.08,419.61 L416.14,419.37 L416.20,419.12 L416.27,418.88 L416.34,418.64 L416.43,418.40 L416.51,418.16 L416.61,417.92 L416.71,417.68 L416.81,417.43 L416.92,417.19 L417.03,416.95 L417.15,416.71 L417.27,416.47 L417.38,416.23 L417.50,415.98 L417.70,415.80 L417.64,415.64 L417.55,415.48 L417.44,415.32 L417.32,415.17 L417.20,415.01 L417.07,414.85 L416.95,414.69 L416.82,414.53 L416.70,414.38 L416.58,414.22 L416.47,414.06 L416.36,413.90 L416.26,413.74 L416.17,413.58 L416.08,413.43 L416.00,413.27 L415.93,413.11 L415.87,412.95 L415.82,412.79 L415.78,412.63 L415.74,412.48 L415.72,412.32 L415.70,412.16 L415.70,412.00 L415.70,411.88 L415.71,411.76 L415.72,411.64 L415.74,411.52 L415.76,411.40 L415.79,411.27 L415.83,411.15 L415.87,411.03 L415.91,410.91 L415.96,410.79 L416.02,410.67 L416.09,410.55 L416.16,410.43 L416.24,410.31 L416.34,410.19 L416.44,410.07 L416.55,409.95 L416.68,409.83 L416.83,409.70 L417.00,409.58 L417.20,409.46 L417.44,409.34 L417.77,409.22 L418.60,409.10Z" fill="#4c3e15"/><g clip-path="url(#c22)"><g filter="url(#vblur)"><rect x="416.50" y="409" width="4.20" height="2" fill="url(#q419)"/><rect x="415.70" y="411" width="5.80" height="2" fill="url(#q420)"/><rect x="416.43" y="413" width="4.34" height="2" fill="url(#q421)"/><rect x="417.49" y="415" width="2.21" height="2" fill="url(#q422)"/><rect x="416.57" y="417" width="4.05" height="2" fill="url(#q423)"/><rect x="416.01" y="419" width="5.18" height="2" fill="url(#q424)"/><rect x="415.93" y="421" width="5.35" height="2" fill="url(#q425)"/><rect x="416.29" y="423" width="4.62" height="2" fill="url(#q426)"/><rect x="417.02" y="425" width="3.15" height="2" fill="url(#q427)"/><rect x="417.53" y="427" width="2.14" height="2" fill="url(#q428)"/></g></g>
<path d="M481.70,429.30 Q486.80,427.90 487.40,426 L489.00,426 Q489.60,427.90 494.70,429.30 Z" fill="#1d8fb0"/><circle cx="488.2" cy="461.8" r="33.7" fill="url(#g23)"/>
<path d="M488.00,416.60 L489.00,416.74 L489.40,416.88 L489.69,417.01 L489.93,417.15 L490.14,417.29 L490.32,417.43 L490.47,417.56 L490.61,417.70 L490.73,417.84 L490.84,417.98 L490.94,418.11 L491.03,418.25 L491.11,418.39 L491.18,418.52 L491.24,418.66 L491.30,418.80 L491.35,418.94 L491.39,419.07 L491.42,419.21 L491.45,419.35 L491.47,419.49 L491.49,419.62 L491.50,419.76 L491.50,419.90 L491.50,420.12 L491.48,420.34 L491.46,420.56 L491.42,420.78 L491.38,421.00 L491.32,421.22 L491.26,421.45 L491.18,421.67 L491.10,421.89 L491.01,422.11 L490.91,422.33 L490.79,422.55 L490.67,422.77 L490.55,422.99 L490.41,423.21 L490.26,423.43 L490.11,423.65 L489.95,423.88 L489.78,424.10 L489.61,424.32 L489.43,424.54 L489.25,424.76 L489.07,424.98 L488.90,425.20 L489.30,429.00 L486.70,429.00 L487.10,425.20 L486.93,424.98 L486.75,424.76 L486.57,424.54 L486.39,424.32 L486.22,424.10 L486.05,423.88 L485.89,423.65 L485.74,423.43 L485.59,423.21 L485.45,422.99 L485.33,422.77 L485.21,422.55 L485.09,422.33 L484.99,422.11 L484.90,421.89 L484.82,421.67 L484.74,421.45 L484.68,421.22 L484.62,421.00 L484.58,420.78 L484.54,420.56 L484.52,420.34 L484.50,420.12 L484.50,419.90 L484.50,419.76 L484.51,419.62 L484.53,419.49 L484.55,419.35 L484.58,419.21 L484.61,419.07 L484.65,418.94 L484.70,418.80 L484.76,418.66 L484.82,418.52 L484.89,418.39 L484.97,418.25 L485.06,418.11 L485.16,417.98 L485.27,417.84 L485.39,417.70 L485.53,417.56 L485.68,417.43 L485.86,417.29 L486.07,417.15 L486.31,417.01 L486.60,416.88 L487.00,416.74 L488.00,416.60Z" fill="#4c3e15"/><g clip-path="url(#c24)"><g filter="url(#vblur)"><rect x="486.33" y="416" width="3.34" height="2" fill="url(#q429)"/><rect x="484.63" y="418" width="6.73" height="2" fill="url(#q422)"/><rect x="484.62" y="420" width="6.75" height="2" fill="url(#q430)"/><rect x="485.46" y="422" width="5.08" height="2" fill="url(#q431)"/><rect x="486.95" y="424" width="2.10" height="2" fill="url(#q432)"/><rect x="486.91" y="426" width="2.18" height="2" fill="url(#q433)"/></g></g>
<circle cx="559.2" cy="460.2" r="34.3" fill="url(#g25)"/>
<rect x="526.8" y="399.2" width="61.9" height="5.8" fill="url(#parH)"/>
<text x="526.5" y="414.8" class="sans" font-size="10">0</text>
<text x="589.8" y="414.8" class="sans" font-size="10" text-anchor="end">1</text>
<text x="555.6" y="393.4" class="ser" font-style="italic" font-size="17">ϕ</text>
<text x="343.3" y="508" class="ser" font-size="14.5" textLength="14.4" lengthAdjust="spacingAndGlyphs"><tspan font-style="italic">p</tspan><tspan font-size="10" dy="2.2">0</tspan></text>
<text x="396.6" y="508" class="ser" font-size="14.5" textLength="45.4" lengthAdjust="spacingAndGlyphs"><tspan font-style="italic">p</tspan><tspan font-size="10" dy="2.2">1</tspan><tspan dy="-2.2"> &gt; </tspan><tspan font-style="italic">p</tspan><tspan font-size="10" dy="2.2">0</tspan></text>
<text x="467.8" y="508" class="ser" font-size="14.5" textLength="45" lengthAdjust="spacingAndGlyphs"><tspan font-style="italic">p</tspan><tspan font-size="10" dy="2.2">2</tspan><tspan dy="-2.2"> &gt; </tspan><tspan font-style="italic">p</tspan><tspan font-size="10" dy="2.2">1</tspan></text>
<text x="536.7" y="508" class="ser" font-size="14.5" textLength="45.4" lengthAdjust="spacingAndGlyphs"><tspan font-style="italic">p</tspan><tspan font-size="10" dy="2.2">3</tspan><tspan dy="-2.2"> &gt; </tspan><tspan font-style="italic">p</tspan><tspan font-size="10" dy="2.2">2</tspan></text>
</svg>
</body></html>
